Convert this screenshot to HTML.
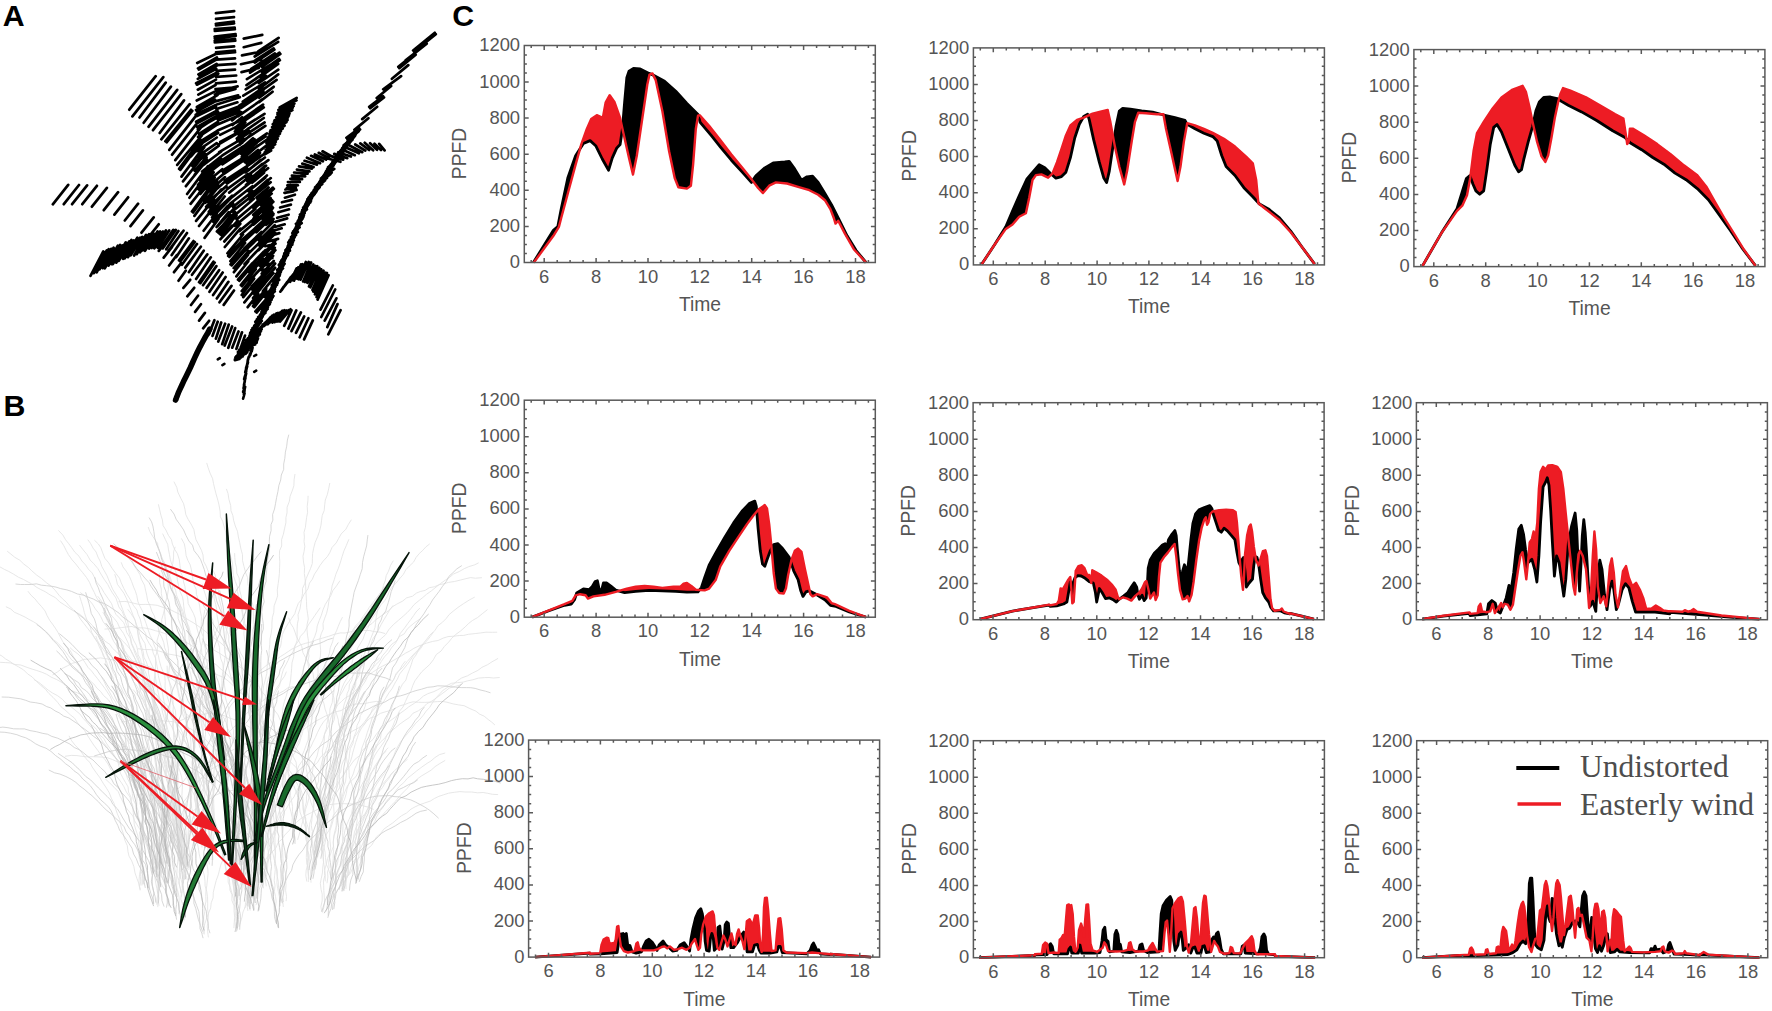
<!DOCTYPE html>
<html lang="en"><head><meta charset="utf-8"><title>Figure</title>
<style>html,body{margin:0;padding:0;background:#fff}svg{display:block}text{font-family:"Liberation Sans",Arial,sans-serif}</style></head><body>
<svg width="1772" height="1011" viewBox="0 0 1772 1011">
<rect width="1772" height="1011" fill="#fff"/>
<g id="panelB"><path d="M234.5,897.5 234.6,892.8 234.6,886.6 233.4,881.3 233.5,876.2 232.5,870.5 232.8,865.7 232.8,860.1 233,854.8 232.5,850.2 231,845.5 230.6,840.5 230.7,835.2 230,829 229.4,823.4 230,817 228.3,811.6 228.1,805.9 226.2,801 226.5,795.1 224.5,789.8 223,785.3 221.5,779.8 221.7,775.3 219.6,770 218,764.1 216.9,757.9 215.8,751.7 214.4,746.6 212.4,742.3 211.2,737.8 208.4,732.9 205.8,728.6 203.9,723.6 200.9,717.6 199.5,713.2 198.7,708.4 195.5,703.3 192.2,697.6 191,693.5 188.6,689.6 186.5,684.9 M239.7,896.3 239.3,890.7 239.8,886 241.3,880.2 241.2,875.4 241.9,869.1 241.5,863.1 241.1,858.4 242.6,853.7 242,848.4 242.3,842 243,836.2 242.7,830.4 244.1,825.8 244.9,820.6 246.4,815.4 247.6,809.7 247.9,803.2 249.6,797.2 250.3,792.7 251.9,787 253.8,781.6 253.9,777 254.1,772.3 254.5,766.5 255.8,761.9 257.4,757.3 257.6,752.2 258.7,747.1 259.2,742 260.9,737.6 261.6,732.5 262.7,727.4 265.3,722 265.9,716.1 267.1,711.7 269.8,705.7 272.7,699.7 274.7,695.1 276.9,690.3 279.6,685.6 280.7,680.1 282,674.2 283.4,669.5 285.8,664.8 288,660.5 289.8,656.2 293.1,651.7 294.7,646.1 298.8,640.6 300.4,636.3 304.5,632 306.8,627.6 309,623.9 312.2,619.4 314.7,615.7 317.8,611.2 320.2,607.7 M239.4,899.8 238.6,893.9 239,889.4 238.4,884.9 237.2,879.9 236.7,873.9 237.9,869.1 237.3,862.6 237.4,857.4 237.1,851.9 236.3,845.7 237.3,840.3 238.4,834.1 239.4,828.7 240.4,823.5 239.8,818.7 241.1,813 241.1,807 242.5,802.2 243.5,796.5 244,791.4 244.9,786.1 245.9,780 246.6,774 246.3,768.9 248.4,763.3 250.1,758 251.9,752.9 254.2,748.1 256,743.2 258.6,738.2 260,732.8 262.7,727.2 263.9,721.9 267.1,716.8 268.3,710.7 271,705.6 272.2,699.9 273.3,694.6 275.9,689.1 279.1,684.5 281.5,680.4 284.5,676.3 286.4,671.7 M234.6,901.3 234.3,895.6 233.8,890.1 233.3,885 232.2,879.9 231,874.1 229.9,867.9 229.6,862 229.5,855.7 229,850.3 228.5,844.2 227.9,839.4 227.8,833.3 226.5,827.6 225.2,821.5 226.3,816.3 224.8,811.1 223.5,805.7 223.4,801.1 222.7,796.6 221.4,790.3 222.2,785.3 221,779.5 221.1,774.4 220.4,768.9 219.3,762.6 218.8,756.7 217.8,751.9 218.3,745.6 218.4,741.1 217.7,735 216.6,730.2 215.5,724.5 215,719.1 214.3,713.8 214.5,708.6 214.7,702.3 214.1,695.9 213.3,689.8 212.2,684.6 M341.5,889.2 343.8,883.4 346.2,877.5 347.6,873 348.1,867.9 348.4,862.9 349.2,857.6 351,852.4 352.2,847.9 354.1,843.4 356,838.8 356.9,834.5 358.5,828.8 359.3,824.6 362.4,819.5 365,814.7 367.8,808.7 368.9,804.2 370.1,798.7 372.3,792.8 374.8,787.4 377.5,782.8 380.6,778.3 384.4,773.4 386.3,769.1 388.5,764.4 391.4,760.2 393.8,755.9 395.6,750.8 398,746.1 400.5,742.1 403.9,737.6 407.4,733.7 411.8,728.3 415.8,723.1 419.4,719.8 423.4,715.1 426.2,711.1 429.7,707.4 432.5,702.7 435.8,698.1 439.7,693.9 443.2,690.1 447.5,687.4 452.8,684.6 457.8,680.5 461.8,677.9 467.5,675.8 472.5,673 477.9,670.4 481.8,667.4 487.4,664.8 492,661.8 498.1,658.4 M343.8,889 344.4,884.4 343.5,879 342.3,873.7 342.3,868.9 342.1,863.9 342,858.7 342.1,854.1 342.3,849.4 343.1,843.7 342.7,838.3 342.7,832.5 343,826.5 342.5,820 343,813.8 342.3,808.5 341.9,802.2 341.4,796.7 340.7,790.4 339.6,785.8 339.5,779.6 339.4,773.9 339.3,768.8 338.8,764.3 336.9,758.9 336,753.7 333.9,747.9 333,743 331.4,737.8 329.6,733.3 329.5,727 328.7,720.9 327.2,715 325.1,709.1 323.8,703 321.3,697.2 318.8,691.8 318.3,687.6 315.9,682.7 313.7,678.4 312.9,672.6 310.7,667.7 308.9,663.5 305.6,657.6 302.9,652.6 301.8,646.6 299.4,642.2 296.4,636.4 295,632.1 293.3,627.6 290.5,623.4 288.7,617.7 M343,887.6 343.7,883.3 346.8,877.6 349.4,873 350.8,867.9 352.4,862.9 355.8,858.2 357.8,852.2 360.6,848.3 363,843.1 364.5,838.7 367.9,833.3 371.1,827.9 374.1,823.5 378.2,819.3 382.3,815.5 385.3,811.8 389,808.3 391.9,804.8 395.6,801.2 399.4,796.3 403.8,791.8 407.2,788.4 410.3,784.5 414.3,781.6 417.4,778.9 421.4,776 427.1,772.6 431.2,770.1 435.1,766.6 439.7,763.6 445.2,760.4 M255.5,899.2 255,893.6 255.7,888.3 256.6,882.1 257.4,877.3 256.1,871.9 256.9,866.1 255.9,860.2 255.4,855.4 255.4,849.5 254.3,844.5 254.9,839.1 255.4,833.5 255.9,827.3 255.2,822.5 255.6,817.5 255.2,812.5 254.2,807.4 252.3,802.5 251.6,797 249.8,792.5 249.4,786.8 247,781.7 244.9,775.8 244.8,770.6 242.2,765.6 240.9,760.2 238.5,754.7 237.7,750 235,745.2 232.5,739.5 230.6,733.5 227.2,727.7 226.1,722.6 224.1,718.2 220.3,713.2 216.5,708.4 214.7,704.6 211.4,699.4 207.7,695.4 205.6,690.9 M253.3,899.3 252.9,893.3 252.4,887.6 251.5,882.6 251.3,877.4 252,872.3 251.1,867.7 250.7,861.7 252.1,855.7 251.7,851.1 251.6,845.9 252.3,840.8 251.9,836.1 251.3,830.6 251.7,825.1 251.2,820.4 252.8,814 252.3,808.3 252.2,802.9 252.1,797.6 252.1,791.8 252.5,786.7 253.4,781 253.6,775.2 253.2,769.5 252.8,764.3 253.9,758.2 254.6,753.2 254.5,747 256.2,742.4 257.7,737.1 258,731.2 257.9,726.7 259.3,720.9 261.8,715 264.1,709.3 264.5,704.8 265,699.4 266.4,693.8 266.7,689.1 267,683.2 268.4,678.5 270.2,674 270.7,667.8 272.8,662 275.8,656.8 277.8,651.6 280.6,646.4 281.5,640.7 282.3,634.6 284.9,629 288.1,623.6 291.5,618.6 294.8,613.7 296.2,609 298.3,603.4 301.7,599.3 304,594.3 307.9,588.9 309.5,583.1 312.4,579.1 314.5,574.1 317.4,569.8 319.9,565.6 323.2,561.1 327.5,556.4 329.8,552.6 332.1,547.4 336.2,542.9 338.6,538.5 341.2,533.9 345.9,529.2 348.4,524.4 351.4,519.7 M254.8,903.1 255.6,897.5 256.5,891.5 256.6,885.7 257.3,881.1 258.3,875.5 259,870.3 259,864 260.9,859.1 261.4,854.3 263.7,849.8 264.1,844.6 265.4,839.5 265.7,834.8 267.4,829.1 268.8,824.5 271.4,819.5 272,814.2 273.5,809 276.2,804 277.2,799.2 277.9,793 280.5,787.3 281.8,782.7 282.7,778.1 285.7,773.2 287,768.8 289.6,762.9 291.8,757.1 294.9,752.7 296.5,748.2 299.5,742.8 301,737.6 302.5,733.3 303.4,727.7 306.7,723.3 308.6,717.6 311,713.3 312.2,707.7 313.7,702.3 316.6,697.1 319.4,692.6 321.7,687.1 324.6,682.2 327.2,676.9 329.4,672.7 332.4,668.3 335.7,662.8 337.4,657.9 340.4,652.3 343.9,648 345.5,642.5 349.7,638.5 352.4,634.2 354.5,628.7 358,624.9 361,621.1 365.2,615.7 369.7,610.4 373.2,606.2 377,602.7 380.9,598.1 385.5,593.1 388,589.6 390.7,585 M181.4,896.8 182.3,890.4 183,884.2 183.8,879.7 183.4,874 183.4,868.3 183.3,862 181.8,856.5 182.5,851.9 181,845.7 181.6,841.2 179.8,835 179.7,829.5 179.3,823.6 179.4,819.1 177.6,813.1 178.1,806.9 177.1,801.8 175.9,797.4 175.7,792.4 175,786.9 173.7,781.2 172.5,776.3 172.5,771.5 170.5,766.6 169.3,760.7 167.7,755.8 166.9,750.9 165.6,746.1 165.3,741.4 163.2,736.5 161.3,730.7 160.2,724.8 158.7,720.4 157.8,715.7 155.4,710.6 154.9,705.7 152.7,699.6 152.1,694.7 149.2,689 M181.8,893.1 182.3,888.6 182,883.3 180.5,877 179.2,872.1 179.8,865.7 180.6,860.5 181.3,855.8 181.4,849.4 180.1,844.7 180,838.4 180,832.1 179.3,826.8 177.6,821.8 178.1,817.2 176.5,812.1 174.5,807 172.8,802.4 172,796.9 171.2,790.9 170.3,784.6 168.1,779.8 165.8,774.8 165.3,768.6 164,763.9 162.2,758.5 160.2,752.6 159.9,747.4 158.6,741.4 156.8,736.8 156.2,730.6 153.1,724.9 150.9,720.7 148,716.2 146.5,711.7 143,707.2 141.5,702.2 139.5,697.4 136.2,693.4 133.1,689.5 M180.8,893.2 180.3,888 178.8,883.2 179.4,878.3 179.5,872.2 179.8,866.7 179,861.7 178,855.9 178.1,849.5 177.4,843.2 178.1,838.1 178.9,832.4 179.6,826.3 178.7,821.3 178.3,815.8 176.6,809.6 176.1,804.2 176.1,799.3 174.7,793.6 173.3,788.5 171.4,784 170.2,778.5 170.5,772.8 169.3,767.5 167.7,762.2 167.8,757.5 166.5,751.8 166,746.3 165.1,740.1 164.8,735.2 163.5,728.9 162.1,724.2 161.3,719.8 158.7,714.5 156.4,708.8 155.2,704 154.1,698.5 152.6,693.5 150.4,689.2 148.2,683.2 147,679 143.5,674.5 141.6,669.7 138.1,665 135.7,659.6 132.7,654.5 130.4,649.6 126.3,644.5 122.4,640.8 119.2,637.2 114.9,633 111.5,629.4 M177.5,897.2 175.1,892.3 172.9,886.2 171.4,881.1 169.6,875.1 167.3,869.2 166.2,864.1 164.1,859 162.1,854.2 160.5,849.2 158.1,843.5 155.9,838.5 154.8,833.5 152.3,827.6 151.3,822 148.8,816.7 147,812.1 145.1,806.3 143,801.1 140.2,796 136.8,790.6 134.2,784.9 130.9,779.8 126.7,775.3 124.4,771.2 121.6,767.2 118.2,761.7 114.1,756.4 109.7,751.9 107.1,746.9 103.3,742.5 100.3,737.8 97.2,733.5 92.9,729.1 89.2,725.1 86.5,721.9 83.3,718.5 79.8,713.9 75.1,710.1 70.9,706.6 65.7,703 62.4,699.3 57.3,695.5 52.6,693.1 48.3,690.2 43.7,686.3 39.1,682.6 33.9,679.5 M276.8,923.1 276.8,918.5 276.4,912.7 275.4,907.6 276.2,901.2 275.5,896.4 274.4,891.7 275,885.7 274.2,880.3 274.6,875.7 275.3,869.5 274.4,863.6 274.7,858.4 275.6,853.5 275.3,848.4 275,842.2 274.9,836.5 276,831.6 275,825.8 273.9,819.4 273.2,814.1 272.8,807.9 273.6,802.1 272.4,796.9 272.7,791.9 273.3,785.7 272.3,780.5 271.2,774.6 269.7,768.7 268.2,762.5 267.9,756.9 266.4,752.3 265.6,745.8 265.3,739.6 263.7,734.9 262,729.1 260.6,724.1 260.5,718.2 259.4,712.8 258.3,707.2 257.3,702 256,697 254.7,692.5 253.5,686.8 252.2,682.2 252.4,676.8 251.6,671.7 251.8,665.7 251.3,660 251,654.6 249.9,649.3 249,644 248.1,638.5 247.9,632.3 246.2,627.8 244.6,623.4 244.3,617.7 242.7,613 242.5,606.9 241.8,601.2 241.2,595.9 239.7,590.4 239.5,584.1 239.2,578.1 236.8,573.2 236.6,567.8 235.3,562.9 234.8,557.6 234.6,553.1 M162.1,873.7 160.8,868.5 159,863.8 158.6,857.6 156.6,852.6 156.4,847.8 156.4,842.6 155.4,837.8 153.8,832.6 152.2,826.7 149.9,821.1 149.5,816 147.5,811.4 145.2,805.5 144.2,801.1 142.8,795.5 141,791.1 139.4,786.1 139.2,781.1 138.8,775 137.5,770.5 136.7,766 135.3,761.6 132.6,756.5 130,750.3 128.5,744.3 127.9,738.6 126.4,733.4 125.3,727.9 122.4,722.7 120.3,717.6 118.8,712.1 116.9,706.4 115.6,702.1 112.6,698 109.5,692 106.7,687.1 104.3,682 101.4,676.5 M154.8,868.5 156,862.9 156.9,857.6 157.6,852.7 158.1,847.7 159.3,843 159.3,838.2 160.4,832.7 160.3,826.3 162.6,821.2 163.3,815.3 166.3,810.8 169.1,805 172.5,800.6 174.1,796.4 176.2,790.9 180.4,786.4 182.8,782.4 185.8,778 190.4,773.7 194.4,770.3 198.9,767.4 203.5,764.3 209.1,762.3 214.4,761.1 218.6,760 223.6,760.1 228,760 234.7,759.7 238.9,761 M162.4,873 162.3,867.4 163,861.7 161.8,857.2 161.8,850.9 160.9,844.6 161.3,839.9 161.4,833.7 160.9,828.6 161.6,823.4 161.7,817.3 162.5,812 162,805.7 161.9,799.8 160.3,794.4 159.2,789.6 158.9,784.3 158.3,778.3 156.7,772.7 156.1,767.8 155.2,762.4 154.6,757.6 153.4,753.1 153.3,747 152.6,741.1 151,734.8 150.1,729 149.6,724 149,719.3 149.2,712.9 149.3,706.6 148.6,702 146.5,697.5 146.3,692 144.9,687.1 144.6,681.6 142.3,676.6 141.9,670.8 141.6,665.3 140.6,659.5 138.1,654.7 137.6,650.1 136.5,645.7 133.5,640.1 131.4,634.6 129,629.1 128,623.1 126.6,618.9 124.2,613.8 122.7,609.6 120.6,604.2 119.2,599.9 116.3,595.1 112.6,589.2 110.7,584.6 108.7,579.9 107.1,575.9 104.1,570.5 101.8,566.5 100.1,561 98,557.1 96.1,552 93.1,548.2 90.6,543.5 87.8,539.7 M293.3,838.5 292.8,833 294,826.8 293.6,822 294.4,817.5 295.8,811.2 297.2,806.7 298.7,801.7 300.1,796.8 300.2,791.7 299.7,787 300.8,781.7 300.4,776 301.8,771 302.5,765.8 302.5,760.5 302.3,755 304.3,750.3 306,745.4 308.1,740 308.5,733.8 309.5,729.3 310.8,724 312.4,717.6 312.8,713.1 313.8,707.6 316.3,702.7 317.5,697.7 319.7,691.7 320.9,685.4 321.1,680.6 321.3,675.8 324,669.5 325.9,664.1 327.4,659 329.3,653.6 330.3,647.6 332.6,641.7 333.8,636.6 336.5,630.8 338.2,626.4 340.3,621.4 342.5,617.2 M297.6,839.8 299,835.3 300.6,829 301.9,824.3 303.3,819.8 304.5,815.3 305.6,809.4 307.6,803.3 308.9,798.1 309.1,792.2 310.8,787.1 311.4,781.9 311.9,777.4 312.4,772.3 313.2,766.4 315.2,760.5 317.1,756 318.4,750.1 320.5,744.6 322.8,740.4 324,735.4 327,729.4 329.3,724.8 330.3,719.7 332.3,713.8 333.9,709.4 335,705.4 338.2,699.7 339.8,695.8 342.6,691.4 345.5,685.8 348.8,681.4 351.9,677.1 355.4,672.8 359.3,667.8 363.3,663.5 367.5,658.8 370,653.9 372.7,650.2 374.7,645.6 377.4,642 381.5,638.4 385.7,634.6 388.9,629.5 393.3,624.7 398.3,620.4 403.2,616.2 407.2,612.6 410.9,608.6 414.2,604.5 419.2,600.4 422.6,597.7 426.5,594.3 431.6,590.7 436,587.1 440.6,583.5 445.2,580.2 449,577.8 453.5,574 459.3,571.5 464.2,568.7 468.9,566.6 474.5,564.9 478.7,562.8 M295.2,844 295.3,838.6 293.8,833.1 293.2,827.6 291.9,822.9 292.3,817.9 291,811.9 289.5,806.8 289.3,801.4 289.5,795.9 288.2,791.2 287.2,785.7 285.7,781 284.5,776.4 282.8,770.5 282.5,765.7 281.9,759.4 280.5,753.4 279.4,748.3 278.8,743.5 278,738.2 275.1,733 273.9,727.3 271.7,722 269.1,717.8 266.1,712.1 263,707 259.9,702.4 257.8,697.6 255.3,693.3 253.7,689.4 251.6,683.7 249.6,679.3 246,674.2 243.1,668.8 240.6,665.4 237.3,661.2 232.9,656.1 229.7,652.3 225.9,648.2 223.1,644.9 218.6,641.2 214.3,638.2 209.3,635 205.9,631.8 201.7,628.4 198.2,626.1 193.8,623 189.5,620.6 184.4,617.3 179.3,614.1 174.5,611.8 169,609 163.4,607.5 157.2,605.3 151.6,604.7 145.3,604.4 139.5,604.5 134.1,603.3 129.6,602.2 124.9,601.4 118.4,601.8 M294.5,843.4 293.9,838.7 292.7,833 292.7,827.8 293.4,822.5 293.3,817.5 292.5,811.5 292.6,806.6 291.5,800.8 290.5,795.7 290.4,791 289.4,784.6 289,778.4 288,773.4 288.2,768.5 288.8,763.5 289.8,757 291.1,752.3 290.3,747.8 291.8,741.7 292.5,736.6 292.9,730.4 293.7,725.4 294.9,720.6 296.2,715.3 297,710.8 298.6,704.6 298.4,699.7 299.6,694.8 299.3,689.6 301.4,683.8 303,678.9 302.8,672.5 303.5,667.4 305.5,662.4 306.6,657.9 308.9,651.9 309.7,646.9 312.1,642 314.6,636.9 316.6,630.9 317.2,626.1 319.2,620.5 321.3,615.4 323,609.8 325.2,604.6 328.2,599.7 330.8,595.6 332.9,590.5 336.5,585.9 340,580.6 M286.1,901.1 286.5,896.4 285.6,890.4 286,885.4 285.7,879.3 285.6,873.8 284.4,869.2 283.1,863.7 282.9,858.3 282.7,852.7 282.4,847.4 282.7,841.8 282.9,835.4 282.9,829.4 282.5,823.9 280.9,819.3 280.2,814.4 279.3,808.9 278.3,803.7 276.2,798.8 275.2,792.7 273.1,787.9 271.3,782.8 269.7,777.1 268.4,771.4 266.9,765.3 264.5,760.4 262.5,755.9 260.8,751.1 258.3,746.3 255.1,742.6 M280.2,906.2 280.4,900.4 278.8,894 277.6,888.3 276.9,882.6 277.3,876.4 277.4,870.5 275.7,865.4 275.3,859.7 275.3,854.4 274.7,848 273.7,842.4 272.5,837.1 270.7,832.7 269.3,826.5 267.6,820.8 264.6,814.9 262.3,809.8 261.5,805 258.6,799.2 256.3,795 254,790.6 251.6,786.3 247.6,781.4 244.5,776.3 240.6,771.9 237.7,767.6 234.9,762.6 230.4,758.6 226.2,754.2 223.7,749.8 220.2,746.6 215.9,743.2 210.5,740.5 M283.3,907 282.7,900.5 281.5,894.4 282.3,888.7 283,883 281.8,876.7 281.6,870.8 282.2,865.3 281.4,859.2 281.7,853.2 281.8,846.7 282.8,840.7 282.1,835.2 281.8,829.2 281.2,823.2 280.7,817.3 279.5,811 279.6,806.3 278,800.5 277.4,794.3 275.6,788.2 275.8,783.2 274,776.9 272.8,770.6 272,764.3 272.1,758.4 271,752.1 270,747.5 269.9,742.7 268.1,737.4 267,731.3 265.3,725.1 262.9,720.3 262.2,714.6 262,710 259.5,704.6 259.2,699 258.3,692.8 256.1,688.4 254.8,684.1 252.1,679.3 248.9,673.8 246.1,668.2 245.2,662.6 243.2,657.3 240.6,653.1 238.7,647.8 M280.9,902.9 280.1,897.5 279.5,892.2 278.5,887.4 278.3,881.3 277.3,876.9 276.6,871.8 276.2,866.5 274.3,860.1 273,853.9 271.3,849.3 269.1,844.7 268.4,838.8 266.7,833.9 263.9,828.7 263,824.4 261.2,820 258.9,814.9 255.6,809.8 254.3,804.2 253.1,799.2 250.4,794.3 247.1,790.3 244.6,786.1 241.4,781.4 237.9,777.4 235.6,772.9 232.8,768.8 230.5,764.7 226.5,760.4 222.6,755.7 217.9,751.6 213.2,747.5 210.2,744.4 206.8,741 203.5,736.9 200.2,734.8 195.1,731.8 191,729 187.1,727.3 181.3,724.3 176.6,722.2 170.2,721.4 163.9,721 158.5,719.8 152.5,719.7 146.2,719.1 141.6,719.3 135.5,719.3 130.7,720.1 126.5,721.2 121.5,722 M255,843.8 254.9,839.4 254.9,833.4 254.6,828.3 253.6,822 251.4,817.4 250.7,811.1 248.6,806.4 247.3,800.4 246.2,794.8 243.6,790 242.4,784.3 239.8,779.8 237.7,774.7 235.6,770.2 232.7,764.7 231.9,759.3 231,754.9 229.1,750.1 227.8,744.9 225.7,739.1 224.4,734.9 221.6,730.9 219,726.7 216.6,722.4 212.3,717 208.1,713 204.8,709.5 202.1,704.8 197.5,700.4 192.8,696.3 187.8,692.8 183.7,689 179.9,684.5 175.2,681.4 170,677.7 165.1,675.2 159.6,672.5 155.6,670 151.5,667.6 146.7,665.8 141.3,663.4 135,661.7 129.1,660.7 123.3,660 118.1,660 112,659.8 105.7,658.7 100.6,657.9 94.2,658.7 88.2,659.2 83.7,659.3 79.2,661.4 72.7,663.2 67.3,665.9 61.8,668.7 57.8,671.7 52.5,675 M252.6,842.1 254.5,837.6 256.9,832 258.7,826.6 259.7,822.1 260.5,817.4 262.1,812 262.3,807.6 262.7,801.5 264.6,795.3 266.6,790.4 268.6,784.1 270.7,779.2 273,774 273.7,768 276,763.8 278.2,759.1 281.2,753.5 283.8,747.8 286.2,742.2 288.1,736.6 289.4,730.6 292.3,724.8 295.7,720 299.3,714.9 301.8,709.3 304,703.9 306.5,698.3 309.7,693.5 313.3,689.2 317.5,684.8 320.7,680.8 323.7,675.9 328,671.4 331.1,666.1 334.6,661.4 337.7,657.3 340.5,652.5 345.4,649 348.6,645.6 351.3,642 354.5,637.6 358.7,632.9 363.5,629.9 367.4,626.5 372.3,623.3 375.6,619.9 379,617.5 383.9,613.9 388.6,610.7 392.5,606.8 396.8,604.1 402.8,601 406.5,597.9 412.5,596.2 416.4,593.1 420.3,591.5 425.1,590.4 429.3,587.7 434.3,586.8 439.2,584.7 443.7,583.8 448.4,582.4 454.4,581.5 460.6,580 465,578.9 470.5,577.6 475.4,578.2 481.9,577.7 M257.1,847 257.1,842.4 256.9,836.2 257.3,830.7 258.3,824.7 257.4,818.8 258.2,814.3 259.2,809 260,804.4 259.3,799.3 258.4,793.5 259,787.7 259.8,783 259.1,777.7 259.6,771.7 260.6,765.5 260.5,759.5 261,754 261.2,747.8 261.8,743 260.3,737.1 260.8,732.2 261.3,726.2 260.1,721.4 260.1,715.7 258.9,709.4 257.7,703.2 258.4,698.5 258.5,692.9 259.1,687.5 258.4,682.6 258.8,677.5 259.3,672.9 259.7,668.4 259.7,662.1 258.7,656.4 257.8,651.8 258,646.4 258.1,641.8 256.5,636.9 256.6,632.4 254.6,627.2 253.5,621.1 253.6,616.2 253.3,611 253.1,605.3 251.1,599.9 249.9,594.6 249.1,588.8 247.8,583.4 247.6,577.6 245.7,572.9 244,566.6 242.5,560.5 242.5,554.7 240.9,548.9 239.7,542.6 238.4,537 237.5,531.4 235.3,526 233.6,520.3 232.9,515.6 231,510.8 230.7,505.5 228.9,499.3 228,493.4 226.4,488.9 M254.7,840.3 254.2,834.3 254.5,828.1 255.3,821.7 255.2,816.7 253.8,811.8 253.8,805.6 252.7,799.7 252.7,793.9 253,788.7 251.9,783 251.7,777.1 251.3,772.6 249.9,767 249.8,761.4 249,755.9 249,751.1 249.9,745.7 250.3,741.2 250.3,735.4 250.4,729.6 251.4,724.4 251,718.5 249.5,712.8 248.9,706.4 249.1,700.1 247.7,694.9 246.9,690.1 247.8,683.7 246.9,678.1 246.2,672.1 246.4,666.1 247,660.6 246.7,655.6 246,649.2 245.6,643.9 244.6,638.9 243.9,634.3 244.1,629.6 243.6,623.7 242.8,619 242.3,613 240.8,607.6 240.8,602.4 238.9,596.9 237.4,591.6 237.4,587 235.3,581.3 233.3,575.4 232.9,569.9 232.6,564.1 231.5,559.1 229.5,553.1 228,546.8 226.1,541.4 226.3,536.2 225.4,530.8 223.9,525.9 222.7,521.4 220.4,516.8 220.1,511.2 219,504.9 217.8,500.1 216.1,494.1 214.9,489.5 213.5,483.5 212.6,478.6 210,473 208,467.3 206.7,462.9 M180.4,860.6 180,854.6 178.7,849.2 179.1,844.7 179.5,839.5 178.6,833.6 178.2,828.6 176.7,823.3 177.1,816.8 176.9,811 176.7,804.7 175.1,800 175.2,795.5 174.4,790.2 174.6,784.6 173,780 171.9,774.5 170.8,768.9 168.6,763.8 168.3,758.9 166.3,754.1 166.2,748 164.7,743 163,736.9 162.6,730.7 162,725.1 159.4,718.9 156.9,713.2 154.8,708.9 153.4,704.2 152.6,699.7 151.1,694.6 147.8,690 145.2,684.3 143.8,678.4 140.6,674 137.9,669.4 134.7,664 130.9,659 127.3,654.5 124.1,649.8 122.4,644.6 119.3,639 115.7,635 113,629.9 110.4,625.4 107.7,621.3 105.5,616.5 102.8,612.1 M185.1,862.2 184,856.7 182.9,850.6 182.5,845.9 181.8,840.5 180.2,835.9 179.9,829.6 179.1,824.1 176.6,819.2 174.7,814.7 172.9,809.7 171.1,805.3 168.6,799.1 167.1,794.4 165.4,789.4 163.6,784.8 162.5,778.7 161.1,772.6 160.1,767.3 158.3,761.8 156.1,757.5 154,751.7 152.5,747.5 151.3,743.3 149.3,738.8 146.6,734.3 144.8,728.8 143.6,723.8 140.2,719.7 136.8,715.4 133.6,710.8 130.3,705.2 127.5,700.3 125.7,696 123.2,692.1 120.6,686.4 118.1,681.9 115.8,677.1 113,672.1 110.8,666.6 109.2,660.9 107.1,655.9 105,651.8 101.2,646.5 98,642.9 95.5,639.1 91.8,633.7 87.8,628.6 84,623.6 80.4,619 77.5,614.2 73.3,609.6 69,605.8 66.3,602.2 62.5,598.8 59.1,595.3 55.1,590.2 51.2,586.2 46.3,582.6 41.4,578.4 36.7,575.1 31.8,570.8 28.3,567.4 23.8,564.1 19.8,560.2 14.8,557.3 10.9,554.1 7.2,551.2 M140,885.7 140.7,881.1 140.4,876.6 140.5,870.4 141,864.4 141.8,858.1 142.2,851.7 140.9,846.9 140.9,842.3 141.5,836.5 142.1,831.5 140.7,826.9 139,821.7 138,816.1 138.2,811.3 136.7,806.7 136.8,801.2 137,796.3 137,790.9 136.8,785.7 134.8,779.8 132.4,773.6 130.3,769 128.5,763.8 126.7,758.7 124.8,752.9 122.3,747.6 120.4,743 117.3,737.4 114.5,732 112.5,728 M141.9,885.5 142,879 142.2,874.5 140.6,869.6 140.6,863.2 139.1,857.4 139,852.8 139.5,847.7 138.5,841.7 137.9,836 136,830.3 134.2,824.2 133.9,818.5 133.2,812.1 132.9,806.3 131.3,802 131.2,797.5 128.5,792 128.1,786.9 125.6,782.7 122.8,777.8 120.4,773.1 119.2,767.1 118.1,762.7 116.1,758.5 113.3,753.7 110,748.4 106.3,743.2 103.8,738.4 99.4,734.8 96.7,729.6 92.4,725.1 M140.4,889.6 138.9,883.8 136.8,878.1 135,872.9 133.9,866.7 131.7,860.8 129,856.1 128,851.7 127.3,845.7 124.8,840 123.4,833.9 121.6,828.9 120.6,824.3 119.7,819.4 117.3,813.7 115.8,809.3 114,803.3 111.3,798.2 109.3,792.8 106.5,788.2 103.1,783.1 99.9,777.7 96,772.4 92.2,767 90.1,762.7 86,758.7 82.1,753.2 79.7,749.7 75.1,745.2 71.6,740.7 69,735.8 M140.1,890.4 139.1,885.1 139,880.5 139.5,874.7 140.4,869.6 140.9,864.4 140.4,858 140.5,852.1 141.5,846.3 141.7,841.2 142,836 142.6,829.9 142.8,824.7 143.5,820 143,815.5 141.9,809.4 141.1,803 140.1,796.6 141.4,790.5 142.3,784.5 142.4,779.9 143.9,774.7 144.7,768.5 145.9,763.9 145.8,758.5 145.3,753.8 146.7,748.2 148.1,741.7 149.4,736.6 149.4,730.8 150.8,725.4 152,719 152.4,714 153,708.2 153.4,702.5 152.6,696.8 153,691.1 154.4,685.1 154.2,680.1 155,673.6 155.5,667.9 155.6,661.8 155.6,656.4 157.1,651.5 157.5,646.7 157,640.8 158.7,634.9 160.1,629.6 161.8,625 161.7,619.6 163.4,613.8 164.9,607.8 165.5,602.1 167.3,596 168.4,589.6 168.1,585.1 168,580.4 170,574.1 171.4,568.1 172.8,563.4 173.6,557.1 173.6,551.8 175.2,546.8 M235.8,931.7 235.5,926.3 235,921.4 235.3,915.7 235.1,910.5 234.4,904.7 233.5,898.7 231.8,892.8 230.3,887.3 228.2,882.2 228.1,877.7 226.1,872.3 225.3,866.5 224.5,860.7 223.4,856.1 222.2,851.2 219.5,845.9 219.3,840.6 218.4,835.1 215.7,829.7 215.4,824.1 213.2,818.1 212,812 211.1,806.6 209.3,801.3 207,795.4 204.2,789.3 201.8,784.2 200.1,779.5 198.4,775.3 197.3,771 196.1,765.2 194.7,759.6 191.7,754.4 188.2,749 186.7,744.5 184.1,740.4 182.1,735.1 178.5,730 176.9,725.7 175.4,721.3 171.5,717.3 169.4,713.2 167.6,708.5 M236.1,931.9 236.7,926.9 237.5,922 236.5,916.5 236.3,910.9 235.8,904.9 234.7,899.5 234.7,893.3 233.6,888.1 233.1,883 232.6,876.7 231.4,870.5 231.9,865.1 231,860.4 230.6,854.2 229.7,849.2 230,844.5 229.6,838.5 229,833.4 228.7,828.3 228.5,822.2 228.6,816.2 227,811.2 226.7,805.5 227.1,800.1 225.2,795.5 223.3,790 222.1,785.5 222.4,780.9 221.2,774.9 220.8,770 221.2,764.7 221.2,759.4 220.7,753.1 218.6,747.5 217.9,741.2 217.3,736.2 215.3,730.7 213.5,725.6 213.7,720.8 211.9,715.1 210.8,708.9 209.3,703 207.9,696.6 207.9,691.8 206.4,686.5 205.1,680.9 204.4,676.3 203.6,670.3 202.1,665.4 200.1,659.8 197.8,655.1 196,649.4 195.2,643.9 192.9,638.9 190.3,632.6 188.8,626.6 186.6,621.8 184.2,616.7 183.1,611.3 181,606.8 178.8,601 176.4,594.8 175.6,590.2 172.6,584.3 169.6,578.8 167.9,573.7 166.3,569.5 165.1,563.6 162,558.9 161,554.4 158.2,548.6 157.5,542.5 M239.3,926.7 240.4,922.4 242.1,916.9 243,912 245.2,906.9 248.1,901.1 248.6,895 250.4,890.1 253.1,884.7 256.1,879.6 259.5,873.7 261.6,868.8 263.2,864.8 264.8,860.1 268.3,856.2 271.9,852.3 276,847.7 278.2,842.4 282.1,839.1 284.7,835.1 289.2,830.5 292.3,826.1 296.2,822.6 300.5,818.9 305.4,815.6 311.5,812.6 316.1,810.2 320.6,808 325,805.9 331,804.4 337.6,803.7 344.1,803.7 349.6,803.9 354.1,804 358.8,804.2 363.2,805.9 368.2,807.1 373.7,809.5 M233.9,928.1 234.2,922.8 234.7,917.3 234.1,911.6 234,905.9 231.9,900.4 231.9,894.6 229.9,890 229.8,884.9 229.4,878.7 227.5,874.1 225.9,867.7 224.7,862.7 222.7,856.8 222.6,852.4 221.8,847.9 221.5,843.3 220.4,838.5 219,832.8 216.8,826.9 215.5,822.3 214.2,816.4 213.7,812 212.8,806.6 212.2,801.1 211.1,795.4 208.8,790.6 207.2,786.3 204.9,782.1 203.1,777.5 201.4,773 199.7,768.4 198.3,762.9 195.4,758.4 191.8,753.3 188.9,748.8 186.6,744.1 184.1,738.7 182.6,732.9 180.6,728.2 176.7,723.5 174.4,719 171.9,713.7 169.8,710 166.5,704.7 161.9,701.3 158.7,696.9 154.6,692.7 150.6,688 146.5,683.2 142.1,680 138.2,676.6 M250.2,910.5 248.6,904.3 247.6,899.1 245.9,893.4 244.2,887.6 243.6,882.6 243.3,876.7 241.4,870.5 241.6,864.4 241.8,859.3 240,854 240.1,848.2 238.1,842.3 237.8,837 237.1,830.9 235.8,824.9 234.7,819 234.3,814.4 232.2,808.9 230.3,803.9 227.5,798.8 227.3,793.7 224.9,788.7 223.4,784.4 220.8,779.2 218.5,773.6 215.6,769.3 214.6,763.7 212.9,758.5 209.9,754.1 207.4,748.8 204.9,743.8 201.3,738 198.1,733.4 196.2,727.7 193.1,723 191.1,718.4 187.1,714.3 M256,905.2 257.5,899.5 258.3,894.1 259,889.7 261.2,884.4 263.2,879.2 263.8,873.3 265,868.1 267.1,862.4 269.4,857.7 270.9,852.1 271.4,846.2 273,840.6 274.4,835.2 274.7,829.6 274.9,823.5 277.2,818.2 278.8,812.7 281,806.7 282,801.1 282.5,795.2 283.8,789.5 284.3,783.4 285.1,779 286.1,773.6 289,768.6 290.2,762.8 291.3,758.2 292,752.7 294.6,748.1 297.6,743.2 300.1,737.8 301,732.9 302.6,728.3 305.6,723.7 307.8,718 310.8,712.5 313.2,708.1 314.8,702.2 317.2,696.2 319.8,691.6 321.9,686.5 324.1,681.2 327.3,677.1 330,671.9 333.1,667.8 334.9,662.1 337,656.4 340,651.9 343.9,646.2 346.8,642.2 348.7,638.2 350.4,634.3 352.6,630.2 355.6,625.9 359.5,621.8 362.9,616.6 367,611.1 369.2,607.4 373.2,602.3 375.9,598.5 379.5,594.3 382.6,590.2 385.4,586 389.5,581.4 393.6,577.1 397.4,571.9 400.2,567.7 403.3,562.8 M250.5,909.2 250.4,903.9 251.6,898.7 251.1,893.7 250.5,888.7 250.4,883.4 250.2,877.2 249.8,871.5 249.7,865.1 249.8,858.8 249.3,853.9 248.4,847.8 247.3,842.7 248,838 248.4,832.8 247.4,826.4 248.2,821.5 247,815.9 245.6,809.5 244.9,804.3 243.5,798.9 243.3,794.1 243.5,788.6 244,782.3 244.6,776.9 243.8,771.2 243.1,765.8 242,761 240.5,755.2 241.1,748.8 239.9,743.9 238.3,739.2 238.5,734.1 237.6,729.2 237.4,724.4 237.9,719.9 238.3,714.6 237.4,709.1 235.9,702.9 235.1,697.3 235.2,691.6 235.2,686.9 233.7,682.1 232.8,677.2 M245,908.1 245.6,902.5 246.9,896.6 248.4,891.4 250.2,886.2 251.7,881.3 253.1,875.1 254.6,869.3 256.5,863.9 257.1,859.1 256.6,853.6 256.1,848.6 256.4,842.5 257.1,837.8 258.6,832.1 260.3,827.2 259.9,822.6 261.5,816.2 261.5,811.8 261.3,806.9 263.2,801 263.4,796.3 265.6,791.2 265.7,786.2 266.4,780.2 266.8,775.1 269.4,770.4 269.6,764.2 270.9,759.8 272.9,754.8 273.5,749.8 275.9,744.2 276.9,739.7 279.1,735.1 282.1,729.4 284.1,723.8 285.6,718.8 287.2,713.7 290.5,709.3 292.5,704.8 295.4,698.9 M249.5,908 249.3,902 248.8,897.4 247.6,892.9 245.7,887.2 245.5,880.9 243.8,874.5 244.2,868.5 244.2,863.2 244.6,857.5 243.2,852.7 242.9,846.3 242.7,841.3 241.6,835.9 239.7,830.2 238.7,824.7 239.1,818.2 237.9,813.4 236.4,808.9 235.1,802.9 234,796.5 233.6,791.9 232.3,786.8 231.1,780.9 229.8,775.4 229.5,769.5 227.3,764.5 225,758.4 223.4,754 222.3,748.1 220.2,743 217.8,737.1 216.3,732.2 214.7,727.1 214.4,722.7 213.9,717.2 212,712.2 212,705.9 211.4,700.8 209.2,694.5 208.4,690.2 208.3,684.4 207.6,679.7 206.7,675.1 205.7,669 204.4,663.8 203,657.5 201.8,652.8 201.4,647.3 199.9,641 198.9,635.1 197.1,629 196.1,624.2 195.2,618 193.4,613.4 190.7,608.3 188.2,603.6 187.7,597.9 185.6,591.7 184.9,586.4 183.6,582 182.8,577.2 180.6,571.9 180,565.7 179.3,559.7 177.4,553.7 174.5,549.1 172.4,544 171.4,539.6 168.4,535.3 165.9,530 163.1,525.6 162.4,519.9 160.9,515.2 159.7,509.9 158.4,504.3 M247.9,911 247.1,906.1 246.9,900.3 247.9,894.6 247.6,889 249,883.8 248.2,879.2 248.3,872.8 249.7,866.9 249.3,861.7 248.7,856.3 249.7,851.8 250,846.8 250.6,840.8 251.5,835.6 252.8,831 252.6,826.3 253.4,820.8 253.9,816.2 253.2,810.2 253.9,803.9 254,798.2 254.2,791.9 254,786.5 255.1,781.2 255.3,776.6 256.9,771.1 257.2,766.2 257.3,761.1 256.9,755.8 256.9,750.1 256.2,743.6 257.6,739.1 257.9,733.2 257.2,726.9 258.8,722.3 258.9,715.9 258.8,709.9 260.1,705.4 260.5,700.3 261.9,695.7 262.9,691.1 263.7,685.7 265.4,679.3 266.8,673.4 267.1,667.7 267.5,661.8 269.3,656 269.1,650.4 269.8,644.2 270,638.9 271.2,633.3 271.9,627.6 271.9,623 272.4,617.5 273.8,612.2 274.1,605.9 275.9,601 277.6,595.9 277.3,589.8 278.2,583.5 278.8,579 279.4,573.2 279.6,567.4 279.8,561.7 279.4,555.8 279.6,550.6 281.7,546 281.6,539.7 283.4,534.1 284.5,528.8 285.9,522.7 285.9,517.6 287,512.9 287.1,507.2 289.4,501.2 290.1,496.2 292.5,490.1 293.9,485.6 294.1,479.7 295,474 M253.4,907.4 253.8,902.4 254.8,896.5 255.3,891.7 255.9,886.3 256.2,881 257.2,875.1 259.3,870.8 259.5,864.5 260.1,858.7 262.4,852.7 264.6,848.4 267,843.2 269.6,838.9 272.5,834.4 274.7,829.5 276.1,823.8 278.9,818.4 280.8,814.1 283.4,809.7 284.6,804.8 287.7,799.3 289.3,794.7 290.8,789 293,784.6 294.5,780.2 295.9,774.3 297.1,770.4 298.8,765.9 301.9,761.3 304.8,756.9 307.4,751.4 311,746.7 313,742 315.3,737.6 317.6,732.3 320.3,726.9 323.5,721.9 327.8,717.4 331.1,713.4 335.2,710.1 337.6,704.9 341.4,701.6 344.7,698.4 349.8,695.4 353.7,692.4 357.1,688.8 360.7,684.5 363.8,680.5 367.7,676 372.4,672.4 377.5,669 382.6,666.1 388.3,663.3 394,660.1 397.6,658 401.7,655.7 405.6,653.1 409.8,651 413.9,648.3 418.2,646.3 422,644.8 426.3,643.2 432.7,641.4 438.1,640.5 443.2,638.1 448,636.6 453.7,636.2 459.4,635.5 463.8,635.4 468.3,634.3 475.1,633.6 480.8,632.9 486,632.2 492.5,632.3 497.2,632.2 M245.3,868.2 246.4,862.8 245.9,857.3 244.7,852 244.1,847.1 244.9,841.5 245.3,835.8 244.5,830.7 243.5,824.9 242.8,820.2 243.5,815.4 244.6,810.3 244.9,803.8 244,797.6 243.4,792 243,786.4 243.3,780.4 242.7,774.5 243.4,769 243.1,763.6 241.9,757.9 241,752.6 241.8,747.6 241,741.8 240.9,735.6 239.5,730.6 238.3,725.8 237.6,719.8 238,714.9 238,710 237.4,705.3 236.2,699.2 236.2,693.7 236.6,689.1 235.4,683.2 233.8,677.9 232.9,673.1 231.6,668.1 231,663 230.4,657.9 230.2,651.7 229.7,645.6 228.7,641 228.8,636.1 226.8,630.2 224.8,624.8 223.6,620.3 222.4,615.7 221.8,609.6 220.5,604.1 219,598.5 219,593.7 218,589.3 217.8,584.8 216.3,579.8 215.1,574.9 212.8,569.6 M238.7,864.5 239.4,858.4 238.3,852.1 238.1,846.4 238.2,840.4 237.2,835.2 237.1,829.5 237.4,824.5 236.4,818.7 235.9,812.3 236.8,805.8 237.8,799.6 238.2,795 238.7,788.8 237.5,784.1 238.1,779.3 236.6,774.1 235.8,769 234.6,763.6 235.1,759 234.6,752.7 234.9,748.1 234.6,743.3 233.2,737 233.7,730.6 231.9,726.1 230.9,720.9 229.3,714.6 228.6,708.1 226.8,702.7 225.1,696.3 225.5,691.6 224.4,685.2 223.9,680 223.4,674.6 223.5,670 222.8,663.7 220.8,658.7 219.7,653 219.6,647.5 217.6,641.2 215.8,635.2 213.8,630.6 213.2,625.4 213,620.8 210.9,616.3 209.6,611.6 207.6,606.3 207.1,600.3 205.6,595.3 203.7,589.6 202,583.8 M321.7,911.7 320.9,906.7 322.2,900.6 322.2,894.1 321.1,889.5 320.3,883.4 321.3,878.3 322.4,873 322.8,866.9 323.6,861.3 323.4,856.5 323.4,850 324.9,843.8 325.8,839.3 326.1,832.8 326.5,827 327.2,821.4 328,815.9 328.3,809.6 328.6,803.9 330.3,798.8 330.1,794.3 329.8,789.4 330.5,784.9 332.4,779.3 333.7,773 334.2,767.7 336.4,761.5 338.3,756.6 340.6,752.2 340.9,746.7 341.1,742.2 343.8,737.2 344.4,731.2 345.1,725.2 346.6,720.5 349.2,715.8 352.3,711.5 353.2,707.1 356.5,702.5 358,697.8 359.1,692.6 361.3,687 364.8,682.1 367.7,676.3 370.1,670.7 373,666.8 375.2,661.7 379.5,658.1 M322.5,912.5 323.7,907.7 324.6,902.2 324.2,896 323.8,890.4 323.7,885.6 323.4,880.9 324.8,875.6 324.4,870.6 326.2,864.6 327.6,858.6 329.5,853.5 330.7,848 330.1,841.8 329.6,837.2 329.9,830.9 331.9,824.7 333.3,819.4 334.1,813.3 333.7,807 333.7,802.3 334.7,797.5 335.7,792 337.1,785.9 337,780.7 337.2,775.5 339.4,769.8 339.3,764.2 340,758.9 340.1,754.1 342.2,749.1 342.5,743.4 343.2,738.6 344.5,732.9 345.7,728 346.7,723.2 348.1,718 348.2,713.1 350.3,707.9 352.7,702.8 353,697.7 353.2,691.8 355.6,685.7 355.9,681.3 357.8,675.1 359.6,669.3 360.4,663.6 362.5,659.2 364.2,654.6 366.2,649.3 368.7,644.3 370.7,638.6 373.1,632.7 375.1,627.2 375.5,622.8 376.3,616.7 377.5,611 378.6,606.2 379.1,600.5 380.6,595.3 382.8,590.4 383.3,585.5 385.4,580.2 386.2,575.6 388.5,571.2 390.4,565.7 393.3,560.6 M209.3,859.2 209.3,853.7 209.3,848.7 209,843.5 209.2,837 209.1,831.8 207.9,827.1 207.2,821.4 207.5,816.2 208.3,809.7 207.8,803.5 207.8,798.5 206.7,793.1 207,787.8 207.3,781.9 205.9,776.6 206,770.5 204.8,764.7 204,758.3 203.8,751.9 204.2,746.3 203.3,741.3 202.2,736.6 203,730.5 202.9,725.8 203.4,720.2 203.1,715.4 203.5,710.8 202.5,705.5 202.9,699.9 202.1,694.7 201.6,690.2 201.6,684 200.5,678.7 199.4,673.1 199,667.2 197.4,662.4 197.2,657.8 196.4,652.4 194.3,647.6 191.9,642.1 190.3,637.7 188.8,633.2 188.2,627.3 185.6,621.8 183.5,617.4 181.8,611.4 180.2,605.4 178.2,599.9 175,595.7 171.6,590.2 170.2,586 167.5,580.4 165.3,575.8 163.7,570.5 M212.1,860 212.4,854.1 213.2,849.4 213.4,844.8 212.2,839.6 211.8,833.4 212.9,827 213.1,821.2 214.1,815.1 214,809.3 213.7,803.4 213.6,797.3 213.8,791 214.3,785.1 214.5,779.9 213.8,775.2 214,770.7 214.7,765.6 215.9,760 216.9,755.5 218.3,749.9 218.7,745.2 220.2,740.1 219.7,733.7 218.7,727.9 220,721.9 219.8,716.9 221.1,710.5 221.9,704.8 221.3,698.4 222.1,693.4 221.6,688.1 221.9,683.3 222,677.7 222.8,671.6 223.7,665.8 224.6,660.7 225.4,654.9 224.9,649.1 224.7,643.9 226.1,637.5 226.2,631.6 227.6,626.3 227.3,620.3 228,615 228.8,609.7 229.5,603.3 M209.9,859.4 208.6,854.4 208.6,849.8 208.9,844.9 208.3,839.2 209.2,834.5 208.8,828.8 208.7,823.7 209.2,818.7 209.6,812.3 209.8,807.8 208.9,802.6 209.8,796.9 208.5,792.3 206.9,787.5 207.1,781.2 206.2,776.1 206.4,769.9 204.9,764.4 204.3,758.2 204.2,753.5 204.3,748.7 204.9,742.3 203.7,736.6 203,731.6 201.7,727 201.1,721 200.8,715.3 200.2,710.4 198.9,705.3 199,700.7 197.4,695 197.8,690.5 196.8,685.1 196.2,679.1 194.1,674.1 194,669 193.6,664.6 192.8,659.5 192.4,653.6 191.4,648 189.7,643.4 189,638.6 188.9,633.4 188.3,628.8 187.2,623.6 186,617.9 184.5,612.1 183.7,605.9 183.3,601.3 182.5,596.9 180.1,591.7 178.5,585.4 177.3,579.3 176.8,574.8 174.8,569.1 171.8,564.4 170.4,559.8 169.5,554.8 168.5,549.8 167.7,544.3 165.4,539.6 162.6,533.6 M212.9,860.2 212.6,854 212.3,848.6 212.8,843.6 213.5,837.9 214.4,832 213.8,825.6 213.7,821.1 213.3,814.8 212.3,810.2 212.3,804.4 212.7,799.7 213.2,793.3 212.6,786.9 211.7,781.7 211.2,775.7 211.3,770.8 212.2,766.3 212.9,760.7 213.3,755.2 214.2,748.7 213,742.6 212.9,738 212.2,733.3 210.8,728.4 209.4,723.3 208.8,717.9 208.8,712.4 209.5,707.8 209,701.3 207.9,696.6 207.4,691 207,686.1 207.4,680.4 207.2,675.6 207.3,669.7 207.6,664.6 205.9,658.5 205.6,653.6 205.3,648.6 203.7,642.3 203.1,636.5 201.3,632 201.2,626.4 201.3,621.4 201.5,616.6 200.2,610.7 199.6,606 198.6,600.3 196.4,594.4 196.2,589.4 194.1,585 193,580.2 192.3,575.1 191.4,569.8 190.2,564.9 187.8,560.3 186.1,555.5 185.4,549.4 184.3,543.8 181.4,538.4 M209.4,864.5 208.6,859.3 207.6,853.8 207.7,848.4 206.4,842.8 205.7,836.5 205.7,830.8 204.7,824.9 203.2,820.3 203.8,815.7 203.6,809.5 201.8,803.1 200.2,797.4 200.4,791.4 199.8,785.4 199.2,780.2 198.5,775.4 197.2,769.6 195.8,764.3 193.8,759.1 193.1,754 190.8,748 190.9,742.5 190.4,736.5 188.6,731.6 186.4,725.7 185.8,719.5 184.8,713.6 182.9,708.7 182.6,702.7 180.1,696.9 178.2,690.9 177.5,685.3 177.3,680.3 176.3,675.7 173.8,669.9 171.4,663.7 168.6,658.7 166.9,653.1 164.6,647.7 163.8,642.7 161.5,636.6 158.8,632.1 158.1,626.2 155.9,621.5 154.3,615.8 152,611.6 150.1,605.9 147.6,600.6 146.7,595.1 145.5,590 144.5,585.2 141.3,579.3 140,574.7 136.9,569.7 133.9,565.2 132.3,560.9 M206.1,847.1 205.6,841.2 204.1,834.9 202.3,829.1 201.5,824.4 199.1,818.3 198,813.5 197,808.3 195.8,803.1 195.2,797.2 192.4,791.4 190.7,787.1 188.4,781.3 186.4,776.8 184.4,772.4 181.4,767.8 178.1,762.8 176.8,757.2 175.2,751.5 174.2,746.8 172.2,741.5 169.1,736.1 166.5,731.8 163.6,725.9 160.8,720.7 158.9,716.3 155.4,710.6 151.4,706 149.7,701.2 147.5,696.4 144.8,692.4 142.7,688.2 140.2,682.7 136.1,677.5 131.8,673.7 129,668.6 126.1,664.8 123.7,660.9 120.2,655.7 116.5,651.9 112.4,648.2 109.9,644.4 105,641.2 102,637 98.2,633.6 95,628.8 92.3,625.4 88.9,621.9 84.9,618.6 79.8,614.3 74.9,611.7 70,608.7 64.6,605 59.7,601.9 55.5,597.7 50.1,594.9 45.2,591.7 40.9,589.6 36.8,587.4 33.2,584.7 28.2,582.1 23.4,579.4 18.6,577.3 13.8,574.3 8.7,571.4 4.4,569.4 -0.4,566.7 M201.9,847.6 201.9,842.3 202.3,836.9 201.4,832.4 199.8,827.7 199.4,821.8 197.3,815.3 196.8,810.7 195.9,805.5 194.4,799.1 194.7,793.1 194.8,787.4 192.7,782.9 190.6,777.3 190.2,771.5 188.2,766.3 185.6,761.4 184.5,756.9 181.9,751.9 180.8,747.6 179,742.7 176.1,738.3 174.6,733.5 172.4,727.9 169.6,723.2 166.8,717.2 165.3,712.3 161.9,706.9 159.7,701.3 157.6,696.5 153.7,692.1 150.1,687.2 147.8,681.7 143.5,677.4 140.5,672.4 137.8,668.7 133.4,663.7 129.5,659.4 124.6,654.6 120.3,650.3 M205.4,848.2 206.3,842.3 205.3,836.6 204.3,831.3 205.3,825.1 206.4,818.9 205.2,813.7 205.3,807.3 204.7,802.6 204.7,796.9 205.1,791 204.2,785.9 203.2,780 202.4,774.2 202,768.3 201.9,761.9 201.4,757.4 201.4,752.3 202.1,746.8 200.6,740.8 200.6,735 199.2,729.4 197.6,724.7 197,718.6 197.2,713.2 196.9,708.5 196.7,702.4 195.6,696 194.2,689.8 192.9,684.6 191.8,679.6 190.7,674 189.4,669.3 188.1,663.3 186.4,658.6 186.1,652.6 185.4,647 184.1,641.4 182.6,636.3 182.6,629.9 180.5,624.9 178.2,618.7 178,613.9 177.9,608.2 175.9,602.1 175.1,596.2 172.6,590 172.3,583.8 170.4,577.8 168.4,572.5 165.9,567.2 163.4,560.9 160.6,555 159.3,549.7 157.1,545.3 155.9,541 152.9,536.6 149.8,531.5 148.2,527 M204.1,841.1 202.6,834.7 201.8,828.2 200,823.3 198.6,817.3 197.3,812.6 197.8,806.6 197,800.8 197.6,794.9 197.9,790.1 197.7,785.6 198,779.2 197.7,773.5 196.1,767.3 195.6,760.8 195.9,756 194.7,751.6 194.3,747.1 193.2,742.5 192.3,737.7 190.1,732.6 187.9,726.9 185.9,720.9 183.4,716.3 181.8,710.1 181.5,705.6 180,699.9 178.4,694.8 177.9,690.5 176.5,686.2 175.8,680.2 174.8,675.1 172.3,670 170.3,665.1 167.8,659.4 164.8,654.8 M205.1,848 205.8,842.9 205,838.1 205,831.7 204.7,825.9 203.8,821.1 203.8,815.8 203.5,810 202.8,805 202.7,799.1 202.5,794.3 204,788.7 203.7,783.5 202.6,777.8 201.7,771.7 202.3,766.6 203.1,761.5 203.3,755.7 202.7,750.3 203.1,744.3 204.6,739.2 205.5,734.5 205.6,729.1 205.5,723.6 205.3,718.8 205.9,713.4 207.2,707.1 208.5,702.1 208.5,697.1 208.5,692.2 M308.8,878.8 308.5,873 308.9,867.3 309.2,861.4 309.1,855 307.6,850.5 308,844.3 305.9,839.6 305.5,833.6 305.7,828.2 303.5,822.3 301.9,817.3 300,812 299.4,807.1 299.2,801.6 297.5,795.5 295.6,790.3 293.8,785.6 291.4,779.7 289.1,774.5 287.2,768.7 284.2,762.5 282.4,757.7 279.9,752.9 277.5,748.6 274.5,743.6 272,739.2 268.7,734.5 265.3,729.7 263.7,725 261.5,719.6 259.5,715.1 255.9,711 252.4,707.1 249.6,703.1 245.5,698.3 243.3,694.5 239.5,689.4 235.3,686 232.6,681.1 229.1,676.4 225.1,672.5 220.8,669 216.3,664.8 211.6,662.1 206.2,659.3 202.4,655.3 198.7,651.2 195.3,648.1 191,645.1 185,641.6 179.1,639.1 174,637 170.1,635 164.6,633.5 160,631.8 155.4,630.7 150.6,629.2 145,628 140.5,627.8 136.3,628 132.1,626.5 127,626.9 121.4,627.6 114.7,628.5 109.2,628.9 104.5,629.1 M308.3,882 308.4,876.2 307.7,870.1 307.2,863.9 307.9,857.5 307.6,852.1 307.1,845.9 308.7,840.7 309.5,835.5 309.7,830.5 309.5,824.3 311.1,818.9 312.4,812.9 313.4,808.1 313.4,802.3 313.4,796.9 315,792 316.8,785.7 318.6,781.1 318.5,776 320.6,771 320.9,766.5 322.1,761.2 324,756.2 325.9,750.5 327.6,746.1 328.3,740.9 329.1,736 331,730.3 331.8,725.1 334.2,719.8 335,714 335.7,708.4 337,704 339.3,698.1 340.1,693.3 341.9,688.3 343.9,683.4 346.6,678.8 349.2,673.3 350.7,668.8 352,663.2 353.2,658.2 356.4,654.2 357.5,648.3 360.1,644 363.1,639 364.9,633.6 367.7,628.5 369.7,623.4 372.5,617.7 376.1,612.9 379.1,608.2 381.2,604.5 384.8,600.6 387.4,596.3 389.5,591 391.7,587.3 396.1,583.1 398.8,579.6 403.4,574.3 405.9,569.6 409.3,566.1 413.5,562.2 416.2,557.3 419.3,553.5 422.8,550.3 425.9,546.9 429.7,543.9 M306.8,881.5 305.8,875.4 306.2,870.2 307.5,865.4 308.4,859.1 307.9,852.8 307.4,846.7 308.1,840.3 307,835.3 306.3,829.7 305.7,824.3 305.4,818.4 304.3,812.8 305.1,806.8 306.4,802.1 306.5,796.9 307.5,790.5 307.6,784.4 308,778.9 307.1,773.2 306.1,768.1 307,763.1 308.3,756.6 308.8,751.8 309.6,747.2 309.6,740.8 309.7,734.3 310.3,729.7 311.9,725.1 311.3,718.8 311.5,713.1 313.2,707.4 314.1,701.5 315.1,695.7 315.2,689.4 316,683.9 316.6,679.4 318.1,673.4 317.9,668.1 318.5,662.4 320.3,656.9 320.7,650.8 320.2,644.7 319.9,638.8 321.2,633.8 323.3,629.1 323,623.6 324.7,618.2 326.6,613.3 328,607.3 328.8,601.7 329.9,595.4 331.4,590.5 332.1,585.8 334.3,579.6 335.8,574.4 338.4,568.2 340.5,562 342.2,556.3 343.9,551 346.4,545.3 348.9,539.3 M311,882.7 310.8,877.7 310.6,871.9 311.9,865.6 312.9,860.4 314.1,854.1 315.8,848.7 316.2,844.3 317.1,838.2 319.5,833 319.6,828.6 321.6,822.6 323.5,817.6 325.3,811.8 327.2,806.3 329.7,800.4 330.9,795 333.6,789.7 336.4,785.2 337.8,780.8 338.3,776.1 340.7,771.7 341.5,765.9 343.3,761 346.4,756.2 347.7,750.4 350.5,745.3 353,740.4 354.9,736.3 358,732.1 360.6,726.7 364.2,722.3 367.1,718.3 370.9,712.9 374.5,708.7 378.1,703.7 379.9,699.5 383,695.6 385.1,690 389.3,685.1 393.4,679.8 395.8,675.1 398.5,671.3 403,667 407.1,661.7 410,658.3 413.9,654 417.2,650.7 420.2,647.6 423.9,642.6 426.7,639.2 429.7,635.2 434.9,630.6 437.7,625.9 442.5,622.2 446.1,618.6 449.2,614.5 453.2,611.2 458,607.4 463.6,603.6 469.3,600 474.7,597.1 M332,880.6 332.2,875 332.3,870.3 332.7,864.8 333.2,858.8 333.2,854 333.8,848.6 333.2,842.2 334.1,835.9 336,830.3 336.2,825.8 336.3,820.8 336.9,815.3 338.8,809.3 339.9,803.8 341.9,797.5 343.4,791.9 343.6,787 345.6,781.2 346.3,775.4 346.5,770.9 347.8,764.7 349.1,758.4 349.5,753.7 350.3,748.6 353,743.3 353.7,737.4 356.3,731.2 357,725.5 359.7,720 360.2,715.7 363.2,711.5 365.2,706.2 366.3,701.5 367.1,696.4 370.1,691.8 371.7,687.8 373.7,682.2 375.6,676.5 376.7,671.3 378,667.1 381.3,661.5 384.6,656.7 388.6,652.6 391.3,648 395.5,643.2 398.3,638.1 400.3,633.4 404.6,628 407.7,623.6 410.9,619.4 413.7,615.5 416,612 419.9,608 M325.2,881.4 325.2,875.3 324.9,870.5 323.9,864.4 323.2,859.5 322.9,854 322.1,849.2 321.9,844.3 323.3,839.5 323.7,834.5 324.6,829.3 325.4,824.6 326.6,819.3 326.5,813.1 327.8,807.7 329.3,801.4 330.1,796.1 331.4,790.1 332.7,784.6 332.2,778.5 333.7,773 335.1,767.3 335.5,762 336.1,756.2 335.8,750 337.8,745 337.6,739.9 339.7,734.5 339.6,729.6 339.5,724.8 341.5,720 342.6,714 343.1,709.1 344.4,703.6 346.4,698.5 347.1,693.7 349,689.3 349.4,684.8 351.9,679.8 353.3,673.7 355.9,669.3 357.7,664.9 360.3,660.4 361.8,654.8 M327,883.2 327.9,877 327.5,872 329.1,867.3 328.6,862.5 329.6,856.9 331.4,851.5 333.4,846.5 333.4,840.3 333.9,835.5 335.1,830.2 336.8,825.2 337.4,820.2 337.5,815.6 339.5,810.7 341.8,805 344.4,799.8 346.3,793.6 347,789 348.4,784.6 350.5,779.8 353.3,773.8 354.8,768.6 357,763.9 358.8,758 360.7,753.8 361.8,748.1 364.1,742.3 365.8,737.5 367.2,732.8 369.2,727.1 370.6,723 372.4,717.1 375.5,712.3 379.4,707.1 383,702.7 385.5,698.5 388.8,693 392.3,688.3 394.9,683.1 397.4,679.1 399.6,674 403.6,669.1 407.5,664.3 410.4,660.1 413.3,655.7 417.1,652.5 420.8,648.3 423.6,643.8 426.9,640.8 430.3,636.5 433.3,632.1 M331.6,879.5 329.9,873.5 328.2,868.5 326.2,864 325.5,857.6 325.1,852.2 323.7,846 321.6,840.6 321.2,834.4 320.6,828.9 318.2,823.3 317.3,818.4 314.9,813 313.2,808.3 311,802.5 309.7,797.6 306.9,792.8 303.8,788 302.1,784 300.7,778.7 298.5,773.1 297,768.5 293.5,764.8 289.7,761.2 286.8,757.3 284,752.9 280,749.1 277.2,746 272.3,742.3 269.3,739.6 265.1,737 260.6,733.4 255.1,729.5 249.6,727.2 244.7,724.1 239.4,722.7 235.3,719.8 230,718.3 225.9,716.2 219.3,714.5 214.4,713.3 208.2,713.4 203.3,714.3 198,714.1 193.1,715.5 188.9,716.6 184.6,718.8 179.3,721.1 M342.7,891.6 342.3,886.3 342.2,880.5 343.8,875.9 344.6,869.6 345.9,865 346.9,859 347.3,853.3 347,846.9 347.1,841.9 349,835.8 349.2,830.2 351.5,825.1 353.7,818.9 355.2,812.9 357.3,807.7 359.5,801.8 361.3,796.5 361.4,790.5 363,785.9 365.5,779.9 368.3,774.3 370.5,769.3 371.8,764.6 372.4,759.9 373.3,753.7 375.8,749.1 377.6,743.6 380.5,738.5 381.2,732.9 383.8,726.8 386.2,720.7 387.9,715.6 390.3,711.3 392.5,705.5 394.5,699.5 397.6,694.7 399.4,690.2 402.4,684.3 405.9,680.1 407.4,674.9 409.6,669.1 411.3,664.4 412.9,659.1 416.4,654.6 418.3,649.8 421.8,644.8 M344.3,890.9 343.6,884.6 342.9,878.5 343.2,872.9 343.4,866.7 343.5,860.9 344,855.5 345.7,849.6 347,845.1 346.6,840.5 348.3,835.9 349,831.4 350.7,826.9 351,821.1 352.6,816.6 354.1,810.3 356.2,805.1 358.9,799.7 361.6,794.2 363.5,788.9 366.3,783.7 368.7,778.6 370.3,773.8 373.7,769.6 376.7,765.3 379.7,760.4 382.2,754.9 386.3,751 M340.8,885.1 341,879.9 342.3,874 343.3,869 343.7,863 343.9,856.9 344,850.8 346.2,844.5 347.8,839.3 349.4,834.6 351,829.7 352.5,823.6 355.1,817.5 357.8,811.8 359,807.5 361.3,802.7 363.6,797.9 364.4,792.2 365.7,787.7 368.7,782 370.1,776.7 372.3,771.1 374.5,766.6 377.9,761.7 380.7,757 384.6,751.6 388.2,747.7 M346,888.9 346,883.9 346.7,878.2 348.5,873.6 348.3,867.9 348.8,862.8 350.6,857.1 351,851.5 352.3,846.8 353.1,842.4 353.6,837.3 354.5,832.1 356,827.7 358.2,823.5 361.5,818 365.1,813.5 367.4,809.4 370.6,804.1 372.4,799.1 375.9,794.4 378.6,789.1 382.1,784.8 386.6,779.5 390.5,775.1 394.8,770.3 399.5,766.4 403.5,762.5 407.6,759.2 M358.4,879.8 357.6,873.6 357.4,869 357.7,862.8 356.6,858.1 356.2,853.4 356,847.1 355.1,840.9 356.3,836.4 356.4,830.9 356.3,825.3 357.2,820.6 356.3,815.3 355.2,808.9 355.1,803.9 354.2,798.9 353.5,792.9 352.6,786.7 351,781.5 349.3,777 349.1,772.3 348.8,767.4 347.2,762.7 346.4,757.1 345.1,751.8 345.5,746 344.3,740.4 343.2,734.9 340.9,729.6 338.6,724.3 338.3,719.8 336.7,714.3 334.8,708.6 334.3,703.4 333.9,697.9 331.6,691.9 330.1,686.9 328.9,681.5 326.2,676.9 324.7,671.8 M355.6,883.8 357,878.1 357.9,872.1 358.9,866.1 361.3,861.3 361.8,856.4 362.5,851.5 363.6,846.6 365.5,841.4 366.8,837.1 367.9,831.9 371.5,826.9 374.7,821.6 377,816 380.3,810.9 383.2,807 385.5,802.5 388.7,798.3 393.2,794.7 396.2,790.3 399.1,786.6 403.8,782.6 407.5,778.2 411.3,775.3 416.7,770.9 422,766.9 427,763.4 430.9,761 434.9,757.6 439.5,754.6 445.2,753 M355.7,883.9 355.4,878.2 356.7,873.6 356,867.6 357.2,862.4 358.6,856.7 359.2,851.9 360.1,846.5 359.5,841.7 359.2,836.3 358.6,831.4 359.7,825.3 361.1,819.6 361.9,814.8 363.3,808.7 364.2,803.2 363.7,798.6 364.1,792.4 364.6,786.1 366.7,781.2 367.6,775.1 369.1,769.5 369.6,764.9 371,759.5 372.9,754.7 374.3,750 376.3,744.4 M159,905.8 158.1,900 157.8,894.2 156.9,888.7 155.9,883.9 154.9,877.7 154,873.1 153.3,867.8 153.6,861.8 153.5,856.3 153.4,850.9 152.4,846.3 151.7,840.5 150.2,835.3 151.1,830 150,824.4 148.5,819.6 148.2,813.8 147.4,808.5 146.1,803.8 145.5,797.9 144.1,791.9 144.4,785.6 142.9,779.2 141.1,773.6 141,768.3 139.7,762.5 137.8,757.7 137.9,752.6 137,746.4 136.1,741 136.3,735.5 135.3,730.3 134.5,725.6 134.7,721.1 132.8,715 132.2,708.6 131.5,702.6 M156.7,904.7 156.7,899.5 158,894.9 159.4,888.6 159.5,883.4 159.1,878.8 160.4,874.3 162.3,869.7 163.2,863.9 163.2,858.1 164.3,853.4 164.1,847.4 165.1,842.8 165.1,837.2 166.4,831.2 167.8,825.6 168.6,820 169.2,813.7 170.6,808.7 170.4,803.2 171.2,798 173,791.7 175.2,786.7 175.9,780.8 176.6,775.7 178.1,769.6 178.5,763.3 178.4,758.2 179.3,753.2 181,747.4 183.2,741.5 184.9,735.7 185.1,730.8 186.8,724.9 187.6,720.4 189.7,715.4 191.7,711 193.3,705.3 195.3,699.3 197.2,693.3 199.6,688.4 201.2,682.2 203,676.3 204.9,670.9 206.9,665.4 208.5,660.8 210.7,654.6 211.2,649.6 212.5,643.6 213.2,637.4 216.2,631.2 218.6,625.2 M157.8,907.1 157.7,901.9 158.6,895.8 158.8,891.3 159.2,885.7 159.9,879.9 160.6,873.7 162.7,869 163.9,864.3 164.7,859 166.1,853.9 167.2,848.5 170.4,843.5 171.5,839.1 174.8,834.6 178.2,830.4 181.5,826.2 184.4,821.7 187.1,818.1 189.6,814.6 192.8,811.3 197.3,807.8 200.4,803.7 204.2,801.4 210,798.8 215.2,795.4 220.4,793.1 226.9,791.1 231.8,790.5 236.6,790.1 M312.9,870.7 313.2,865.6 314,860.2 314.1,854.1 313.2,849 312.2,843.3 311.5,837.8 312.4,831.6 311.2,825.2 311.8,820.5 312.3,815 313.4,809.9 314.2,804 313.2,798.5 312.1,792.9 310.9,787.8 310.1,782.4 310.9,776.7 310,772.1 308.8,765.8 309.1,760.1 308.5,753.8 309.7,748.7 309.4,743 308.6,738.3 308.6,733.6 307.7,727.2 308.6,722.4 309.3,716.6 310.2,711 311.3,706.3 310.5,700.6 309.6,695.7 310.4,689.7 309.7,684.2 308.5,678.8 309.6,672.6 308.5,666.9 307.7,662.2 309,655.9 307.9,650.2 308.3,645.7 308.4,640.5 307.5,635.1 307,629.5 307,624.8 308.3,619 307.6,613.8 306.7,607.8 306.5,601.6 306.2,596.1 305.9,591.4 305.6,585 305.1,578.9 304.3,573.5 304.6,567.5 303.5,562.2 303,556.1 304.1,551.4 304.8,546.3 304,541.5 304.4,537 304,532.4 305.4,527.3 306,522.1 306.6,517.4 307.6,512.4 307.2,506.5 307.9,500.7 308.1,495.8 M316.2,864.9 316.3,858.9 316.4,852.4 317.7,846.2 317.2,841.5 318.2,835.9 318.4,830.5 319.1,825.7 319.3,820 318.8,814.5 318.5,808.5 320.1,803.3 319.9,798.5 319.9,793.4 320.8,788.3 320.5,782.3 320.9,777.6 322.7,772.9 322.1,768.3 323,762.3 322.8,756.9 322.3,751 323.5,745.9 324.3,740 324.5,733.8 326.4,728.7 326.8,724.3 328.1,718.5 329.7,714 330,708.5 332.3,702.4 332.6,697.5 333.8,692.9 334.2,687.3 336.4,682.7 339.1,676.6 339.5,671.6 341.6,666.5 344.5,661.8 346,657.4 349,653.2 351.6,647.3 354.6,641.8 357.4,637.5 359.6,632.4 361.5,627.1 364,622.1 365.6,616.5 369,611.6 371.9,605.7 375.5,601.7 378.2,595.9 381,592 383.7,586.7 M313.4,870.2 314.5,865.7 316.1,861 318,854.8 320,850.4 322.4,844.8 324.5,840.3 326,835 328.8,830.6 330.6,826.4 331.7,821.2 333.3,815.5 336.9,810.9 339.6,807 341.5,802.4 343.2,796.7 344.8,791.9 347.3,786.2 351.5,780.6 355.9,776.7 358.2,772.3 360.8,767.2 364.3,762.5 367.5,757.3 370.6,753.8 374.1,749.5 377.1,745.6 381.9,740.9 385.1,737.7 388.2,733.2 392.2,730.4 395.7,727.5 400.1,723.9 405,720.4 409.6,717.4 412.9,713.3 418.5,710.7 423.5,707.2 426.9,703.6 431.4,701.4 436.3,698 441.1,694.4 445.2,691.4 449.2,688.1 455.3,686.3 461,684.8 M314.7,867.1 316.3,861.6 315.9,855.6 315.7,850.8 317,844.5 317.7,839.7 319.1,835.1 320.1,830.1 320.7,824.5 320.7,819.2 321.2,813.2 322.1,806.9 322.7,802.2 323.5,796.1 325.5,789.9 327,784.7 328.8,779.7 330,775.2 331.5,770.3 333,765.7 334.4,760.8 335.7,755.8 336.5,750 337.7,745.5 338.6,739.7 339.5,735.3 341.9,729.2 342.9,723.9 343.9,719.8 347,714.1 348.5,709.8 350.7,703.9 353.3,698.9 356,694.3 359.2,688.9 360.9,683.8 363.8,678.5 367.1,674.3 371.4,669.6 375.3,665 379.8,660.8 382.4,655.8 386.5,651.1 388.9,647.8 391.8,644.2 396.6,640.9 399.2,636.7 404.3,633.8 407.2,629.1 410.7,625.9 415.2,622.2 420.7,618.5 M308,867.6 306.7,862.9 306.3,857.5 306.5,853 306.6,846.7 307.1,841.1 306,834.8 306.3,829.4 305.6,824.6 305.8,818.5 304,814 303,808.9 303,804.1 302.9,798 301.7,792.3 299.8,786.3 299.8,780.4 297.6,774.6 296.7,768.3 296.1,762.2 293.5,757.2 291.5,751.9 289.4,747.2 287.8,741.2 286.2,735.2 283.8,730.9 281.9,725.4 280.4,720.6 278,714.8 274.8,710.7 271.4,705.8 269.3,700.4 265.6,696.1 261.8,691.3 259.6,687.6 256.6,682.8 252.2,678.2 249.3,674.9 245.8,671.8 242.5,668.5 237.6,665.7 232.1,661.4 228.4,658.9 223.8,656.1 218.8,652.8 213.8,650 210,646.7 204.7,643.7 M313.9,862.8 313.6,857 312.9,851.8 311.6,845.6 311.2,840.1 308.7,834.3 308.6,829.1 307.2,824.6 305,818.6 303.9,813.1 303.3,807.1 302.7,801.4 300.6,795.4 299.4,789.8 298.1,785.5 295.2,780.1 292.2,774.5 289.4,770.3 288.4,766.2 285.6,761.3 283.8,757.1 280.4,752.8 278.1,747 276.6,743.2 272.9,738.2 268.9,733.7 265.5,729.6 263.5,725 261.1,721 259.1,715.8 254.5,711.1 251.6,706.7 249,703.2 246.2,699.1 243.5,695.4 238.9,691.4 235.9,688.3 231.8,684.3 228.6,681.3 223.8,677.6 218.6,675.4 212.9,672.5 209.1,669 204,667 199.9,665.3 196.2,662.3 190.5,660.8 184.5,658.1 178.7,656 174.2,655 168.4,654 162.8,652.1 156.6,650.4 150.2,649.6 144.3,649.5 138,648.7 M158.9,876.2 157.5,870.9 158.3,865.9 156.9,860.6 156.8,854.6 156.4,850 156.6,844.3 156.3,838.9 155.1,833.6 153.8,827.4 154.2,822.4 154.4,817.2 154.4,812 154.7,806.3 153.9,800 153.3,793.5 152.8,788.9 152.8,784.2 153.5,779.1 153.1,774.2 152.7,769.4 151.3,764.6 151.5,758.7 150.3,753.1 149.5,748.2 148.2,742.6 146.5,737.5 146.9,732 147.6,727 147.5,720.9 146.9,715.5 146.4,709.3 145.8,704.4 145.2,698.9 144.5,693.8 144.7,688.2 142.9,683.5 143.1,677.1 143.3,671.9 143.9,667 144,662.4 142.6,656.1 141.7,651.2 140.2,645.2 138.9,640.3 137.9,634.7 137.6,628.8 M158.3,873 158.2,867.1 158.3,860.8 157,855.9 156.7,849.5 154.6,844.3 154.4,838.9 153,834.2 152.1,828.6 151.1,823.2 150,816.8 149.3,811.4 148.4,806.8 147.8,800.9 147.1,795.2 145,789.6 143.7,783.7 141.4,778.1 139,773.5 137.6,768.7 135.7,762.9 135.1,757.5 134.4,751.7 132.6,745.5 130.4,739.7 129.3,733.6 128.4,727.6 127.6,722.1 125.1,716.5 123.2,711.2 121.7,705.5 118.5,700.2 116.9,694.2 115.4,688.4 114.1,682.8 113,677.7 110.3,672.7 108.2,666.8 106.3,661 103.2,655.7 101.8,650.7 100,645.1 97.3,640.2 95.8,636 M167.6,864 167.4,858 167.2,851.9 166,846.1 165.9,841.4 166.1,835.1 166.9,829 165.3,824.4 165.3,818.5 164,812.9 164.5,806.7 165.1,801.7 163.3,795.4 163.6,789.4 162.7,784.4 162.5,779 161.4,774.3 161.4,769.9 161,763.7 159.5,758.4 159.4,754 159.4,749.5 158.6,745 157.7,739 156.6,734.2 155.4,728.9 154.4,724 154.1,717.7 152.4,711.9 150.6,706.2 149.2,701.2 147.1,696.3 146.6,690.3 144.9,684 143.6,677.7 142.4,671.9 140.1,665.7 139.1,660.4 137,654.9 134.3,648.9 131.7,643.3 130.9,638.6 129.5,634.1 128.5,628.6 125.9,622.9 124.4,617 122.1,611.3 118.9,607 117.4,602.3 115.9,597.9 112.3,592.7 109.7,588.3 107.8,584.5 104.2,579.3 100.9,574 97.9,568.6 93.9,563.8 90.1,560 87.1,554.6 82.8,549.4 79.5,545.1 M313.1,852.6 313.7,848.2 314.5,842.2 315.6,838 316.3,832.9 319.1,827.6 321.7,823 324.3,818.1 325.7,812.1 327.9,806.2 331.4,800.4 332.9,796.3 336.2,790.5 337.7,784.8 339.7,779.9 343.3,775.1 346,771.3 349.7,766.5 352.1,762.9 355.1,759.2 359.6,755.7 361.7,750.9 366.3,746.8 368.9,743 373.1,739.2 376.2,734.4 379.4,730.5 382.4,727.2 385.5,723.4 390.4,720.7 395.4,717 400.9,712.8 404.6,710.2 408.8,706.8 414.5,703.2 419.5,699.6 423.2,696.2 427.8,693.7 433.9,691.6 437.6,689.8 441.7,687.6 446.7,685.7 451.4,683.3 457.6,682.6 463.2,682.1 467.7,680.8 472.8,679.8 478.3,678.1 484.7,677.6 489,677.5 493.4,678 499.7,677.5 M314.1,855.6 316.4,850.3 317.5,844.7 318.9,840.2 321.4,834.4 322.8,829.6 325.6,825.1 326.3,820.1 328.2,814 331.1,808.5 332.7,803.8 333.9,797.9 336.6,792.5 339.4,788 342.1,783 343,777.3 344.8,772.3 347,767.5 350.4,761.7 351.9,756.6 352.9,752.2 354.1,748.1 355.7,742.4 357.4,737.6 358.6,733.6 361.5,728 365,723.8 367.9,718.2 370.7,713.8 372.4,709.1 376.3,704.4 380.3,699.5 382.4,695.3 385.7,691.3 388.8,686.7 391.8,682.6 394.1,678.9 395.9,673.8 399.9,669.4 402.5,664.7 405.4,661.1 M317.6,857.5 318,851.4 318.6,845.2 320.2,839.5 320.8,834.5 321.6,828.4 322.4,822.6 322.5,817.1 323.7,812.2 324.9,806.2 327,800.5 328,795.9 328.8,791.2 329.2,786 330.2,781.4 332.3,776.4 333.2,771.6 333.2,766.8 334.6,761.3 336,755.2 338.2,750.8 339.7,745.8 339.8,740 342.1,734.1 343.6,728 344,721.7 346.4,716.6 346.7,710.9 348.2,706.1 348.9,700.9 349.7,695.2 351.5,690.1 353.2,685 356.2,680.2 359.2,675.3 360.2,669.4 362.9,664.9 365.4,659.5 368.5,654 369.4,648.9 371.3,643.8 372.6,639.2 375.5,635.1 378.2,630.5 381.1,624.6 384.4,618.9 387.1,614.4 389.4,610.4 393.1,605.4 M261.7,885.5 262.2,879.7 264.3,875 265,870.3 266.7,864.1 267.6,858.1 268.1,853.3 270,847.6 270.7,841.6 271.9,837 275.1,831 276.7,826.5 279.5,821.8 281.4,816.8 284,812.2 287.4,806.8 290.5,801.4 294,796.9 296.4,791.3 298.6,787.3 302.8,782.7 304.7,778.9 306.7,775.2 310.3,770.5 313.3,766.2 317.6,762.4 320.1,757.9 323.8,753.8 328.5,750.6 333.1,746.2 337.3,742.8 342.3,738.9 347.2,734.5 352.9,730.9 358.7,727.8 362.8,724.8 366.4,721.6 370.1,718.1 376,716.4 380.3,713.4 385.1,711.9 390.8,710.4 395.6,708.1 399.8,705.8 404.6,704.6 408.7,702.9 413.2,701.8 418.5,702.3 424.5,702.4 431.3,702.1 437.6,701.6 442.1,701.4 446.9,702.2 453.1,703.9 458.7,704.9 464.1,705.7 469.9,708.6 475.8,711.1 479.7,714.2 484.1,716.1 488.2,719.5 491.7,722.1 494.9,725 M266.3,886.3 265.4,880.2 266.7,874.8 267.4,869.9 267.8,863.5 268.9,858.8 268.6,853.9 267.9,848.2 268.2,841.9 268.4,835.6 269.4,830.2 269.9,825.2 271.4,819.6 271.8,813.5 273.2,808.1 273.8,803.2 273.3,797 274.1,791.7 273.7,785.9 274,779.8 275.5,774.2 274.7,768.4 275.6,763.9 276.9,757.8 277.9,752.5 279,748 279.2,741.7 280.3,735.8 280.2,729.6 280.5,725.1 282.3,719 282.4,713.6 282.9,707.6 284.4,701.4 286,696.8 287.7,690.5 289.6,685.5 290.7,679.2 291.2,673.5 291.6,668.7 292,662.9 293.7,656.7 293.9,652.1 295.2,645.9 297.1,640.4 297.1,634.7 297.1,629.1 297.4,623.9 298.4,619.4 298,614.7 300,608.8 300.8,603.8 301.7,598.6 302.5,593.2 302.5,588.6 304.7,583.7 306.2,578.5 308.1,574 310.5,568.6 312.3,563.5 312.4,558.7 312.6,553.6 313.7,548.1 315.1,542.5 317.6,536.7 319.5,531.3 321,525.1 321.5,520.8 322.2,515.5 324.2,510.5 324.7,504.9 325.3,500 327.3,494.7 328.7,488.7 329.8,483 M263.5,888.3 262.8,881.9 261.2,877 259.8,871.3 258.2,866.7 256.7,860.6 257.3,854.2 257,849.2 257.4,843.2 256.3,838 254.8,832.4 255,827.3 253.8,822.2 253.2,815.7 253.2,811 251.6,805.6 250.4,800.9 249,795.6 248.7,790 248.3,784.5 248.1,779.9 246.2,775.4 244.3,770.7 243,764.3 241.8,758.3 240.5,753.6 240.9,747.3 240.3,741.9 240.4,736.6 240.7,731.8 240.3,727.3 240.5,721.9 240.6,717.2 239.7,711.9 238.9,706.4 238.4,700.4 238,695.4 236.1,690.1 233.9,684.2 231.5,678.5 229.7,672.8 228.5,668.2 227.7,663.2 226.2,657 224.8,651.9 224.5,646.6 223.3,641 220.8,635.8 219.7,631.1 219.3,625.8 217.8,619.8 216.9,614.4 216.7,609.7 215.7,604.4 214.2,598.7 214,593.5 211.4,588.9 210.3,583.2 209,578.3 208.5,572 206.2,566.1 203.5,561.1 203,555 201.6,550.6 199,545.3 196,539.7 194.7,534.2 193.9,529.6 191.1,524.1 188.2,519.5 185.8,514.6 185,509.5 183.6,503.7 180.7,498.1 177.8,492 176.8,487.4 173.9,481.6 M184,920.7 184.5,914.3 183.6,908.3 182.6,903.7 180.8,899.2 181.4,892.9 179.8,886.6 178.9,880.2 176.9,875.3 174.9,869.4 174.1,863.1 172.9,857.5 172.1,852.7 169.9,846.4 168.7,841.3 167.2,836.6 166.7,831.4 166.5,825.1 163.9,820.2 163.5,815.5 161.9,810.1 160.9,805.5 159.5,801.2 157.9,795 156.9,789.6 154.4,783.5 153.2,778.3 151.5,773.5 149.9,768.9 146.7,763.3 145.4,758.1 143.4,753.3 141,747.5 137.6,743.5 134,738.6 132.1,732.9 129.4,728 126,724 122.7,719.3 119.1,714.1 116.7,709.4 114.5,705.5 112.2,701.3 110.2,696.5 107.2,691.9 104.9,688.4 101.3,683.6 97.6,678.7 94.2,674.5 91.6,671 88,667.4 85.1,662.6 82,658.1 77.9,653.9 73,650.4 70,647.6 M178.7,913.9 179.5,908.2 179.1,903.7 179.1,897.5 178.2,892.6 176.6,887 176.7,882.2 176.8,876.4 177,871 177.3,866.1 177.7,861.4 178.5,855.8 179,849.4 178.7,844.8 177.6,838.8 175.8,833.3 174.9,828.5 173.2,822.4 172.1,817.9 172.7,812 172.7,806.9 172.5,801.4 172.1,796.7 170.7,790.8 169.7,784.7 169.5,778.6 169.1,773.9 167.1,767.6 165.3,761.5 163.3,755.1 162.3,749.4 162,743.2 160.7,738.8 158.4,732.6 156.8,727.4 155.8,721.1 155.1,716.6 155.2,712 154.1,706.6 154,700.3 152.5,695.1 151.3,689.8 150.5,683.7 149.5,677.7 148.5,673.1 148.3,668.1 146.4,662 143.9,657.1 143.2,651.7 141.7,647.4 139.6,641.2 138.5,635.3 137.2,629.6 136.1,625 135.3,620.6 133.1,615.4 131.3,610.6 128.9,604.7 126.8,599.2 123.9,593.2 120.5,588.5 117.4,584.3 116.1,578.4 114.7,574.1 M169.2,906.3 169,900.6 167.2,896 166.5,891.5 166.2,886.7 163.5,880.6 161.1,876 160.2,869.9 158.3,864.9 155.7,860.1 152.5,855.5 151.5,850.3 148.4,845.9 147.3,841.3 144.3,835.7 140.6,830.5 137.8,826 134.5,820.7 132.8,816 128.7,810.9 124.8,806.1 123,802 120.3,796.7 118.3,791.7 114.1,787.3 109.8,783.1 105.3,778.9 M169.1,906.4 167.5,900.5 167,895.5 165.1,890.2 162.3,885.9 160.1,881.2 158.9,876 157.1,871.4 155.8,866.3 154.1,861.4 151.3,856.5 148.6,851 146.8,845.8 144.7,840.2 143.4,834.3 142.1,829.1 140.5,824.8 137.5,819.1 134.7,813.3 132.7,808.1 131.4,802.6 130,797 126.5,792.3 123.9,786.7 121.4,782.7 118.1,778.2 114.2,773.4 110.8,769.5 107.9,763.9 104.9,759.5 101.2,755.3 97.8,750.4 93.7,745 90.4,740 87.1,734.8 84.6,730.5 80.8,726.9 77.4,722.6 74.5,718.1 70.4,714.9 66,710.8 61.1,706.8 57.5,702.2 53,697.3 48.8,693.4 45.5,689.3 40.4,685 36.7,681.5 32,676.8 27.6,673.9 23.6,669.9 18.6,666.9 13.4,664 10.2,661.6 5.4,658.8 2.1,656.1 -3.6,653 M166.6,882.4 167.6,877.3 168.8,871.6 169.6,866.4 170.1,860.5 171.8,855.4 172.4,850.3 174,844 174.2,838.1 174.8,832.2 176.6,826.9 179.1,822.2 180.9,817.6 182.5,812.5 184.9,807 186,802.8 187.9,798.3 189.8,793.2 193.1,788 196.6,783.3 199.7,779.6 203.7,775.4 206.3,771.9 208.9,768.2 213.9,763.3 219.1,759.9 222.5,757.1 226.2,753.6 230.7,751 236.3,748.2 242.2,744.9 247.3,742.9 253.7,741.2 258.6,740.1 263.9,738.8 269.8,738.2 M164.1,882.4 162.2,877.1 160.8,871.5 160.6,866.8 159.7,860.7 158.8,854.7 158.9,849.6 159,844.7 158.6,838.7 156.7,832.3 155,826.5 154.4,820.3 153.3,814.1 152.8,809.4 150.8,804.4 149.3,798 147.9,791.8 146.8,787.1 144.9,781.1 143.7,776.5 143.3,771.2 142.9,765.3 141.5,760.1 140.1,755.4 137.6,750.1 136.6,744.1 133.9,738.6 132.1,734.1 131.6,729.3 129.6,724.5 126.9,720 126.2,715.3 123.7,710.2 120.9,704.9 119.2,700 118.3,693.9 117.2,688.9 114.5,683.8 112.6,678.1 110.8,673.8 107.8,668.4 105.9,663.8 105.2,659.4 102.9,653.5 99.8,648 97.5,642.5 94.4,637.6 91.6,632.1 90.1,626.4 87.5,621.3 85.8,616.9 84.4,612.7 83,606.9 81.3,601.5 79.5,595.7 M159.8,885.7 157.9,880.7 156,875 154.2,870.1 153.8,865.3 152.7,859.6 151.6,853.9 150.1,847.7 148.1,842 145.6,836.6 144.3,832.1 142.3,826.4 140,821.3 137.9,815.3 136.5,810.6 135.9,804.9 133.2,799.4 132.3,793.5 131.9,788.5 129.7,782.9 127.4,778.3 125.9,772.9 122.9,768.2 122.1,762.4 119.4,758.1 117.5,752.2 115.4,746.4 114.3,740.9 112.4,734.8 109.3,730.3 106.8,725.6 105,720.1 101.9,715.9 100.6,710.1 97.6,704.6 94.9,699.1 92.1,693.6 90.8,688.1 87.6,682.5 84.4,676.7 82.5,672.1 79.6,666.3 76.2,660.7 72.7,655.4 70.1,650.3 66.2,645.9 63,642 60.2,636.8 57.8,632.1 55.3,628.1 52.5,624.1 49.8,620.5 47.1,615.6 45.1,611 41.4,606.4 37.8,602.5 34.9,598.8 31.1,595.3 27.9,591.2 M166.1,882.5 167.5,876.2 167.4,870.7 167,864.7 167.3,859 167.2,854.1 167.7,848 169.3,843.5 171.1,838.8 173.2,834.1 173.8,828.6 174.4,823.7 175.7,818.5 178,813.8 179.4,808.1 182.8,802.7 186.6,798.1 189,794.1 191.2,789 195.1,785.4 199.5,780.2 204.1,775.8 206.8,772.8 209.9,770 214.2,767.6 218.1,765.4 223.3,763 229.2,761.2 235.1,759.9 239.4,758.2 244.3,756.6 250,756.9 256.6,755.8 M184.3,867.8 184.7,861.9 184.2,856.6 185.1,851.8 184.1,846.8 182.6,841.6 181.5,837 182.1,831.8 180.4,825.5 179.7,819.7 179.4,814.6 179,809.7 179.5,803.3 179.4,796.9 178.1,790.9 176.1,784.8 175.4,779.7 174.1,775.3 173.6,769.7 173.3,764.4 171.5,760 168.7,753.9 167.8,748.3 164.9,742.7 162.1,736.9 159.3,731.7 157.9,727.4 154.6,722.6 151.1,717.3 148.5,712.4 147,707.4 145.3,703.2 142.9,699.2 140.2,694.5 137.2,690 M181.8,863.7 181.8,858.5 181,852.8 181.8,846.5 180.7,840.3 179.7,834 179,828.9 179,823.1 177.6,818.4 178.3,812.9 177.9,807.2 178.6,802.4 177.4,796.4 176.5,790.2 177,785 177.8,778.6 176.9,774 176.1,768.3 174.9,762.8 175.1,758.1 174,752.9 172.4,747.7 170.6,741.6 169.3,735.5 167.7,729.5 166.5,724.6 164.4,718.9 162.8,713.3 161.8,708.7 161,704.2 159.5,698.2 158.2,692.4 157.2,687.6 156,681.6 155.3,675.6 154.5,669.9 151.9,665.1 149.2,659.2 147.1,654 145.8,648.5 145,643.5 142.2,639.1 139.6,633.9 138.3,629 136.3,624.1 134.6,619.2 130.9,613.4 127.7,609.3 M188.8,870 189.7,865.1 188.8,858.9 189.5,852.5 188.7,846 188.1,841.3 188,835.5 188.3,829.6 188.6,823.2 189.8,817.7 189.5,811.5 190.1,806.8 190.5,801.8 190.7,796.2 190,791.5 189.8,786.8 190.9,782.3 192,775.8 192.6,769.5 192,763.9 193.5,757.6 193.6,752.8 195,747.1 194.9,741.7 196.4,735.9 197.7,730.9 198.8,725.3 199.6,719.8 200.6,715 199.9,710.1 199.6,703.7 199.8,697.9 199.1,692.5 198.3,686.5 199.8,680.1 198.9,675.2 199.7,669 199.4,664.4 200.8,658.8 199.9,654.2 200.8,648.6 202.1,643.5 203.6,637.2 203.3,630.9 203.2,626.1 203,620.4 203.9,615 204.9,609.6 M186.6,864.8 185.9,859.8 186.8,854.6 187.7,849.8 187.8,845.1 186.7,840.3 186.2,833.8 185.8,829 184.5,823.5 183.5,817.5 184.1,811.9 183,806.6 182.6,800.5 181.9,795.6 182.2,789.9 182.6,783.7 181.8,777.9 180.4,772.6 178.8,767.6 178.1,761.6 176.9,755.2 176.2,749.1 174.6,744 173.6,737.7 173.6,732.4 172.6,726.7 172.9,720.4 171.1,715.1 169.6,709.9 170,704.6 168.3,699.9 166.4,693.6 165,687.3 165.2,681.5 164.8,675.8 162.8,671.4 161,666.7 159.3,660.5 158.4,655.6 156.6,650.7 154.1,645 152.4,639.9 150,635.2 147.9,629.1 146.1,623.5 144.2,618.3 143.1,612.4 140.1,606.5 137.9,601.5 136.8,595.7 135.4,591.2 133.6,587 131.6,581.5 129.4,576.4 126.3,571.2 123,567 121.2,562.3 M184.8,863.8 185.9,858.1 186.2,852.9 188.3,848.2 188.7,843.6 188.5,837.7 188.9,832.6 191.1,827.8 191.8,822.4 193.4,816.7 195.4,812.1 195.7,807.7 196.5,802.5 197.1,796.4 198.4,790.9 200.3,786.3 202.2,781.4 204.3,775.6 205.9,770.9 207.1,765.2 209.7,760.9 211.5,754.9 213,749.5 215.9,744.1 217.3,738.6 218.7,733 221.5,727.7 223.5,722.4 225.9,717.6 227.6,712 229.8,707.1 232.4,703.3 236.2,699.7 239.2,694.7 242.1,690 244.6,685.6 248.5,681.5 252.8,676.8 257.1,673.3 262.2,668.9 267.2,664.8 272,661.9 277.6,658.7 280.7,656.4 284.3,654.2 288.1,651.6 291.9,649.1 295.8,647.3 300.4,644.9 305.6,643.3 311.6,641.8 316.7,639.8 322.6,638.1 328.7,636.3 334,634.4 340.5,632.9 345.1,633 351.7,631.5 356.9,630.2 363.6,630.5 369.7,630.5 373.9,631.6 380,632.1 385.2,633.6 M188.6,862.9 186.4,858 183.5,852.6 182.7,846.9 181.3,842.3 179.2,837.7 177.8,831.9 176.8,826.6 174.8,821.8 172,816.9 170.5,811.4 166.9,807.3 163.6,803.5 160.1,800 157,794.9 153.3,790.1 150.6,786.7 146.2,782.9 141.2,779.9 137.9,776.2 134.8,772.7 131.2,768.9 127.4,766.4 123.4,764.5 118,762.1 112.6,759.6 107.3,757.7 102.4,757.1 97,756.8 92.1,756.7 87.4,756.9 81.9,756.3 77,755.6 71.2,755.4 64.9,756.3 M204.2,934.5 204.3,928.2 203.7,922.3 203.6,916.8 204.9,911.5 205,906.3 206,901.1 205.8,896.5 205.9,891.4 206.8,885.4 207.5,879.2 208.1,873.5 207.8,869 206.7,863.3 207.7,858.4 208,853.3 209.2,847.4 208.5,842.2 209.4,836.1 209,830.3 210.1,824.3 209.6,819.4 210.7,814.2 212,808 212.8,802.3 212.7,796.1 213.7,791.4 215.2,785.2 215.5,780.6 216.5,776.1 217.7,771 M203,934 203.4,928.6 204.9,923.7 206.8,917.8 208.6,913 210.7,907.9 211.2,902.8 213.1,897.9 213.3,892.2 214.8,886 216.2,880.5 218.4,874.5 219.6,869.4 221.1,863.9 223.6,858.5 224.7,853.8 226.8,848.2 229.3,842.4 231.5,836.6 233.3,832.1 236.4,826.4 239.7,820.6 241.6,815.2 244.7,809.5 247.6,804.6 251.1,799.6 253.7,794.6 255.3,789.6 258.8,785 260.7,780.3 264,776.2 266.2,771.9 268.5,767.5 270.8,763 275,758.3 279.3,754.3 282.4,750.9 287,747.3 290,742.8 293.3,739.5 297.6,735.6 301,731.4 306.3,727.4 311.6,724.1 315.6,721.2 319.6,719.2 325.1,716.2 330.3,714.2 335.1,711.9 341,710.6 345.3,707.9 349.5,706.2 353.6,704.4 358.8,703.7 364,703.8 369.5,702.5 376.3,701.4 382.1,701.9 M208.4,937.4 207.7,931.9 207.3,926.2 208.1,919.8 208.3,913.9 207.6,909.1 207.7,903.2 207.5,896.7 206.7,891.2 205.1,886 205,881.2 204.4,875.8 202.7,869.5 201.2,864.4 200.3,858.7 199.1,853.7 198.3,847.7 197.2,842.5 196.7,837.8 196.2,832.3 195.8,826 195.3,820.3 193.4,814.1 191.7,808.3 191.4,803.7 190.2,797.8 190.1,793.1 189.5,787.7 189.1,781.6 187.3,775.4 186.1,770.4 185.6,764.7 185,759.3 183.6,753.5 182.2,747.8 180.6,742.1 178.9,735.9 178.3,731.1 176.7,726.1 175.6,721 175.8,716 175.4,710.3 173.1,704.6 173,699.4 172.3,693.1 172.1,688.5 169.9,682.9 167.8,678.1 167.3,671.9 167.1,665.7 M183.4,883.4 183.7,877.6 182.6,873 181.2,867.7 181.2,863.3 180.7,857.3 180.3,851.2 179.4,845.1 177.4,839.3 177.6,833 175.4,827.1 174.6,821.2 174.1,815.9 173,809.8 171.1,804.1 171.2,798.4 171.3,792.6 169,786.5 167.1,780.3 165.9,774.3 163.8,769.6 161.6,763.5 159.8,758.2 157.3,752 156.4,746.1 155.7,740.5 155.2,735.6 153.8,730.2 151.4,724.2 150.1,719.6 148.7,714.2 146.5,708.1 145.3,701.9 143,696.1 140.5,691.2 139.8,687 138.3,682.3 136,676.3 134,670.9 131,665 129,660.4 127.1,655.6 124.3,650.7 123.3,646 120.4,640.4 117.3,635.8 114,631.6 111.6,626.1 109.6,621.1 106.4,615.9 105.2,611.9 103.2,607.7 100.1,603.4 96.7,597.8 94.2,592.3 91.3,586.6 89.5,582.3 86.5,577.5 82.5,572.4 79.3,568.6 75.8,564 72.1,559.9 68.4,554.6 66.3,550.7 63.9,545.8 60.5,540.6 M184.8,878.9 185.7,873.8 185.9,868.8 186,863.9 185.3,859.1 185,854.4 185.7,848.4 187.1,843.2 188.9,838 190.6,832.1 191.5,826.4 191.9,821.1 193.8,814.8 196,810.4 198.1,804.8 200,799.1 200.6,793.6 203.2,788.3 204.2,783.2 207.1,778.7 208.2,774.3 208.9,769.8 209.8,765.6 212,761 214.6,755.8 216.5,750.3 219.4,745.3 221.8,740 225.6,735.7 229.1,732.1 233.6,727.3 238,723.8 241,719.1 244.6,715.5 249.6,710.7 252.8,707.6 257.7,704.2 261.7,701.6 266.6,697.9 272.4,695.8 278.2,693.8 283.8,690.8 288.1,687.7 293.6,686.5 M184.7,880.1 184.8,874.4 185.9,868.7 185.2,863.4 183.8,858.3 183,853 181.6,848.2 180.7,843.3 181.7,836.9 180.5,831.8 180.3,825.7 179.9,820.2 180.7,814 179.3,807.7 178,801.9 177.9,796.5 177.6,790.2 177.8,784.7 177.9,780.1 177.9,774.3 176.5,768.3 176.2,763.2 175.1,757.6 174.1,752.9 174.7,747.1 175.4,742.2 174.7,737.7 173.9,732.8 173.4,728 173.4,722.7 174,716.5 173,711.1 173.4,706 172,700.7 171.3,694.3 170.6,687.9 169.5,683.1 168.4,676.8 169,670.4 169.7,664.6 168.8,659.8 168.5,653.5 168.4,648.5 167.6,644 166.5,637.6 165.9,631.8 165.7,625.3 165.2,619.5 164.8,614.7 164.4,609.8 164.1,604.2 162.4,598.9 161.3,593.7 161.3,589.1 159.7,582.7 159.6,578.2 159.5,573.2 M180.5,878.7 180.5,872.4 180.1,867.1 179.5,861.8 178.1,856.4 177.1,850.8 175.4,844.9 173.6,839.6 173.9,834.3 174.5,829.7 174.1,824.1 173.1,817.9 173,812.5 173.5,806.2 173,799.8 171.4,794.7 169.5,789.1 167.8,783.5 166,777.9 164.5,772.3 162.9,766.1 161.6,761.1 161.4,755.2 160.9,749.5 160.6,743.8 159.7,738.3 158.8,732.9 158.3,727.4 157.7,721.7 155.9,716.9 154.9,711.4 154.6,706.2 154,700.4 151.9,695.4 150.6,689.4 149.9,683 147.5,678.1 145.8,672.9 143.7,668.6 M187.3,879.9 186.1,875.5 185.1,869.3 184.8,864.4 183.9,858.3 181,852.1 178.8,847.1 176.9,842.2 175.8,837.7 175,833.2 174.3,827.2 172.6,821.3 170.1,816.9 168.7,812.5 167.2,808.2 165.1,802.2 162.4,797 159.8,792 157.4,786 156.1,781.1 153.1,777 150.9,771.9 147.6,767.1 146.3,763.1 143.4,757.9 141.6,754 138.2,748.4 135,744.2 131.5,740 129.8,736.2 126.6,730.8 124.6,725.6 121.7,720.9 119.3,717.2 116.7,712.7 114,707.9 111.4,703.8 108,699.4 103.6,695.6 100.7,691.6 96.9,688.1 93.8,683.9 89.8,680.6 86.3,676.3 83.1,671.4 80,667.3 76.7,663.3 71.7,659.9 68.6,655.9 65.7,651.9 62.7,648.3 58.4,643.6 53.6,639.7 50.4,636.2 46.4,631.8 41.1,628.1 37.8,624.4 33.7,621.9 29,619.4 25.1,617.1 19.8,614.6 14.4,612.3 10.8,609 5.9,606.7 M327.8,909.4 327.9,904.7 328.8,899.9 329.9,894.7 331.9,889.7 334.2,883.6 335.1,879.1 337.5,873.3 339.5,868.2 341.5,862.9 343.7,856.8 346.4,852 349.6,846.3 352.7,841.7 354.4,836.6 356.6,831.7 358.8,827.5 362.2,823.2 364.1,818 365.9,814.1 368.9,810.1 371.6,806.4 373.5,800.9 376.3,795.9 379.3,791.2 382.4,787.7 385,783 388.6,778.9 391.1,774.3 394,771.1 M326,911.5 327.1,906.4 328.1,901.2 328.3,895.6 329.3,889.9 330.8,884.1 332.2,878.4 334.7,874 336,868.2 337.8,862 338.3,856.9 340,852.1 341.3,846.2 342.8,841.4 344,835.3 344.9,830.4 346.4,825.7 348.9,819.7 351.6,813.7 352.6,807.6 353.3,803.3 355.6,797.2 358.4,791.5 361.3,785.9 364.3,780 365.2,775.1 367.5,769.7 370.9,764 373.1,759.3 375,755 377.8,750.7 380.9,746.5 384.6,741.1 386.8,735.4 390.2,730.8 392.8,726.1 394.9,720.7 396.8,716.8 399.3,711.4 403,707 405.5,701.3 407.9,696 410.9,691.2 412.7,685.7 414.9,680.8 418.6,675.8 421.9,671.6 425.9,668 429.7,664.5 433.4,659.7 436.3,654.5 441,651.1 444.4,646.4 448.7,642.1 451.8,638.2 455.7,634.5 460.5,631 465.2,626.9 468.9,623.2 472.6,620.4 477.5,617.6 482.7,613.4 487.5,609.6 M326.7,907.3 329.4,903.2 330.9,899.1 334.2,894.9 336.9,890.7 340.7,886.6 344.5,882.1 346.8,877.4 350.7,872.7 352.4,868.7 354.6,863.2 358.5,858.3 362.7,853.7 367.3,849.2 371.7,845.2 374,841.1 376.6,836.8 380.5,833.6 383.9,829.1 388.2,826 392.9,822.8 396.8,819.5 401.3,815.9 406.7,812.9 411,809.1 415,806.9 418.6,805.2 424.3,803.1 430.4,801 434.4,798.5 438.9,796.3 443.3,794.9 448.5,793.2 454.2,792.3 460,791.6 465.3,792 471.6,792 477.6,792.8 483.2,792.5 487.6,793.3 492.5,794.3 498.1,794.6 M187.5,869.3 186.9,864.3 185.4,858.4 184.3,852.6 184,847.1 184.5,841.6 183.2,835.4 181.6,829.3 182.2,824.4 180.4,819.6 179.7,814.2 180.1,807.9 178.8,801.8 178.6,797.1 176.6,792.1 174.9,785.8 173.6,780 171.9,775.2 171.7,769.4 171.3,764.7 171.6,759.6 170.4,754.7 170.3,749.1 168.4,742.8 168.2,737.7 167.2,733.2 166.4,727.2 165.9,721.6 165.4,716.7 165,712.2 165,706.9 164.2,701.9 163.1,697 162.5,692.6 161.2,686.8 159.5,680.8 158.3,675.5 157.7,669.5 156.6,663.8 155.5,658.3 153.2,653 152.1,647.8 149,643.2 146.3,638 145.6,633.3 142.6,628.8 141.4,624.3 140.3,619.3 138,614.1 136.9,610 133.4,605.4 130.3,599.7 126.9,594.3 123.9,588.6 121.2,582.7 119.5,578.2 116,573.7 112.2,568.5 108.7,562.8 104.9,558.4 102.7,552.8 100.8,547.7 98.4,544 94.4,540.2 M183.6,866.9 183.9,861.2 181.8,855.3 182,850.2 179.9,844.7 178.7,840.2 178,834.5 177,828.9 176,822.9 176.1,816.8 175.1,811.3 175.1,806.6 175,801.6 173.7,797.1 172.4,791.1 171.2,785.5 170.3,779.9 168.6,773.6 166.4,768.6 164.9,763.8 164.4,758 164,753 161.6,747.6 160.9,742.3 158.9,737.9 157.1,733 154.8,727.1 152.9,721 149.9,715.1 148.3,710.4 145.1,705.9 142.8,700.4 140.2,696.2 139.2,690.6 137,686.1 133.5,681.5 131.8,675.7 130.6,670.7 127.9,666.5 124.9,661.1 121.9,655.9 119.5,651.7 117.9,647.3 113.8,641.6 112,637.9 110.2,632.6 107.3,627.3 103.2,621.8 100.7,616.5 98.2,612.4 95.3,608.9 92.4,604 88.9,599.8 84.5,595.7 80.2,592.5 M185,867.5 184.9,862.3 185.7,856.9 186,851.7 186.5,846.5 186.3,841.2 186,835.6 184.1,830.6 182.3,825.4 180.7,820.8 180.5,814.5 180.4,808.7 180.2,803.1 178.2,796.7 176.9,790.7 174.8,785.3 174.3,779.1 174.4,773.3 172.3,768.7 172.4,764.3 172.4,759.5 171.3,754.3 170.3,749.1 168.6,743.6 166.4,738.2 163.9,733.2 162.1,728.2 159.5,723.6 158.8,718.4 157.8,712.8 156,706.7 153.6,701.3 152.6,696.7 149.7,690.8 147.3,686.1 144.3,680.5 141.9,674.5 140.5,669 137,664.6 135.6,660.2 133.2,654.5 130,648.7 128.2,643.1 125.8,638 123.6,633.5 119.8,628.2 117.4,622.6 114.1,618.4 110,613.9 107.4,609.8 103.5,604.5 100.9,600.4 97.6,596.1 M187.3,864.3 186.7,859.6 185.2,854.6 183.3,848.5 180.4,843.6 178.2,837.8 175.4,832.3 173.6,826.4 172,822.2 168.9,818 167.3,812.6 165,807.4 162.9,802.1 161.7,797.3 160.1,792 158.2,786.5 156.7,782.6 153.8,777.8 150.9,772.5 149.1,768.7 145.4,764.4 143.4,760.1 140.2,756 136.1,751 132.3,746 128.7,742.3 125.7,737.5 121.9,734.2 117.2,730 112.6,726.8 108.2,723.1 105.1,718.6 101.5,714.5 97.8,711.1 94.7,706.8 90.5,702.4 87,698.7 82.3,695.1 77.3,692.9 71.6,690.6 66.6,686.8 62.8,683 56.8,679.6 51.1,677.1 46.7,674.3 42.1,672.3 36.4,670.4 32.1,669.1 27.1,667.4 20.8,665 15.2,664.5 10.2,662.9 5.7,662.6 0.1,662.3 M183.5,869 183.6,863.5 183.8,858.7 182.8,853.4 181.6,848.9 179.9,843.5 179.5,837.3 178.4,832.2 177.1,827.2 176.4,822.6 176.8,817.8 175,811.9 173.4,805.7 171.5,799.7 169.4,794.3 169.7,789.5 168.8,785 168.7,779.5 166.6,774.8 166.7,770.1 167,764.2 165.8,759.8 165.2,754.1 164.6,748.2 164,742.6 163,736.3 161,730.2 159.2,724.3 157,719.4 154.4,713.5 154.1,708.8 153,702.7 151.4,697.2 151,692.2 149,687.8 147.3,683.3 145.5,678.2 144.5,673.6 141.4,667.6 139.8,663.5 137.4,658.7 134.9,653 133.4,648.3 131.4,643.9 130.2,638.1 126.7,632.5 125.5,627.3 123.7,622.6 119.8,618.3 115.9,614.3 113.4,608.8 111.6,603.7 107.8,598.1 104,592.5 101,587.2 96.6,582 94.4,577.3 92.1,572.9 88.4,569.2 85.5,564.8 81.9,561 79,556.2 74.8,552.2 71.5,547.4 68.7,543.6 65.6,539.8 62.9,535.1 58.4,530.4" fill="none" stroke="#e1e1e1" stroke-width="0.8" stroke-linejoin="round"/><path d="M239.1,896 239.3,890.8 241.5,886.1 242.5,881.2 244.7,875.9 246.7,870.2 248.2,864.4 251.1,860 254.1,854.4 255.1,849.4 257.5,843.4 259.2,838.2 262.4,832.6 265.7,827.6 268.4,823.2 271.4,817.6 274.2,812.2 276,806.6 279.9,800.8 282.7,795.4 285,789.8 288.8,785.4 290.6,780.9 293.8,775.8 296.9,772.2 300.9,768.6 305,764.9 308,760 310.6,756.5 314.2,751.9 318.8,747.4 323.8,743.5 328.8,740.4 332.1,736.5 335.6,732.4 340.1,728.7 345.3,725.1 349.1,722 354.4,717.9 358.2,714.1 364,711.1 368.9,708.8 373.8,706.1 378.9,704.4 385.1,701.9 389.8,699.1 395,696.9 400.7,695.8 406,694.2 412.4,691.7 417.1,690.3 421.5,689.2 427.7,687.3 433.1,686.8 437.7,685.8 444.3,686 450.5,686.7 455.2,687.1 461.2,687.6 466.3,687.6 470.8,687.7 475.2,688.4 480,689.9 485.5,691.2 490.5,692.8 M349.5,890.6 349.9,885.1 350.8,880.1 352.9,874.4 353,869.9 353.9,864.8 355.6,858.9 356.8,854.2 357,849.1 357.4,843 358.6,837.3 361,832.4 362.3,827.8 364.2,823.4 366.3,817.4 368.5,812.9 369.3,807.1 369.6,801.8 371,795.6 372.7,789.6 373.7,783.7 375.1,777.6 375.7,771.7 376.6,766.4 378.4,761.9 381,757 382.3,752.7 383.7,747.6 386.1,742.7 388.6,738.3 390.3,733.3 393.5,727.5 396,723.4 397.8,717.9 399.3,712.7 M343.1,890.8 345,885.8 345.4,879.5 345.7,873.2 347.2,867.9 347.1,861.7 346.9,855.9 347.1,850 348,845 348.2,839 349.2,834.3 350.2,827.9 352.1,823.1 352.4,818.5 353.9,813.1 353.8,806.9 353.8,800.7 353.7,795.1 354.9,789.9 356.3,785.2 358.8,780.5 359.3,774.7 359.3,768.8 359.8,762.6 361.5,756.5 363.2,752.2 365.7,747.8 366.1,741.9 368.8,737 370.4,732.7 371.5,726.8 373.6,720.6 376,715.3 378.1,709.6 378.9,704.6 381.3,699.3 382.7,693.8 385.3,689.2 387.5,683.4 389.9,678.8 391.4,672.8 392.5,667.9 395.8,663.3 398.5,658.1 401.7,653.2 404.8,647.6 406.1,643.5 407.9,638.3 410.8,633.1 413.9,629.2 416.5,624.1 420.2,618.9 423.9,613.8 426.9,608.9 430,604.5 432.5,600 436.1,595.3 439.2,591.3 442.4,586.5 446.4,581.3 448.8,576.5 452.6,573 456.9,568.8 461.8,565.6 M255.5,903 254.1,897.3 253.1,892.5 252.2,887.9 250.4,882.6 249.2,876.9 248.2,871.4 246.6,866.1 245.1,860 244.7,854.5 243.4,849.9 242.1,844.8 239.7,839.8 238.7,835.2 238.2,829.3 236.7,825 235.8,819.2 234.7,814.8 234.1,809.4 232.1,804.9 231.1,799.9 230.1,795.2 229.2,790.7 227.4,785.6 226.6,780.8 225.3,776.2 224.4,771.7 223.1,766.8 221.7,761.7 220.2,755.8 218.9,750.7 216.1,745 213.3,739.1 212.1,734.9 210.8,729.1 207.9,724.4 206.4,719.8 204.4,714.1 200.8,710.2 197.8,705.6 194.6,700.1 192.9,695 189.9,690.6 188.1,686.8 185.8,682.7 181.8,678.9 179,674 174.8,670.3 171.7,665.8 169.8,661.5 167.4,656.6 163.6,652.2 M249,903.1 248.7,898.6 249.1,893.3 248.8,887.8 249.5,882.2 250.2,876.6 251.5,870.2 251.5,865 252.9,859.9 254,854 254.9,847.6 256.3,842.8 257.1,837.4 257.9,832.2 257.9,826.2 258.6,821.3 258.6,816.1 258.4,810.7 258.1,806.1 257.7,801.4 259,796.7 259.7,790.8 260.4,786 262.2,779.8 261.9,774.9 262.9,768.9 263.5,763 263.9,757.2 264.5,752.1 266.2,746 268.1,740.5 269.1,734.7 270.6,728.7 272.6,724.1 273.5,718.4 274.1,713.6 274.2,708.1 276.7,701.9 277.2,696.2 278.5,690.6 M256.6,898.4 257.5,893.1 257.8,888.1 258.7,883.6 258.6,878.6 258,873.4 258.2,867.3 257.5,861.5 256.8,856.5 257.6,851.3 256.2,846.2 256.5,841.3 256.7,835.7 256.8,830.8 255.4,826.1 254.6,820.7 252.9,815.2 252.2,810.1 251.8,803.7 250.5,797.5 249.5,791.5 248,785.1 247.2,778.7 245.9,773.4 245.8,768.6 244.5,762.7 245,757.6 243.5,752.5 244,747.7 243.6,742.5 243.2,737.7 242.6,731.5 242.7,725.8 241.8,720.2 239.8,714.1 239.3,708.8 238.7,703.6 237.3,698.7 236.5,693.2 235.4,688.7 234.5,683.5 233.5,677.9 233.4,673.3 232,666.9 231.3,662 230.5,655.7 228.7,649.6 226.3,643.4 224.7,638.6 224,633.1 223.5,627.2 222.5,621.9 222.1,617.6 221.2,612 218.7,606.2 216.7,600.9 215.7,596.4 213.1,591 209.9,585.8 208.5,580.7 205.7,575.1 204.3,569.5 202.2,563.7 200.6,559.5 197.8,555.3 194.1,550.7 192.5,545.2 188.9,541 186,535.5 183.6,529.9 179.7,524.1 176.1,519.2 174.1,514.1 170.4,509.1 M252.1,897.8 250.4,892.8 250.8,887 251,882.5 250,877.9 248.6,873.2 248.9,868.1 248.1,862.4 248.2,856.1 247.5,850.6 247.7,845.4 246.3,839.5 244.7,834.3 243.6,829 242.2,823.7 241.1,819.2 241,814.7 240,809.2 238.7,804.3 236.6,799.2 235,793.8 233.1,788 231.9,783.6 230.5,777.3 228,771.7 228,766.6 227,761.5 225.2,755.9 224.1,751 222.8,745.6 222.1,741.2 219.7,736.3 217.7,730.4 216.1,724.4 214.3,719.5 213.3,715.1 213.1,709.1 211.1,704.2 210.4,698.3 209.2,694 208.2,689.6 206.9,684.3 206.3,678.7 203.4,672.6 202.3,667.3 199.3,661.6 197.3,656 196.7,650 193.8,644.2 191.8,638.6 189.6,633.5 187.5,629.1 185.1,623.5 182,619.1 180.8,613.7 178.9,609.4 175.8,604.6 174.9,599.4 173.9,594.9 171.5,589.8 170.2,585.5 168.9,580.5 165.4,575.7 162.8,570.3 161.6,565.3 159.8,560.6 158.1,556.4 156.4,552.1 M176.9,895.3 175.1,890.5 174.4,884.9 173.2,879.3 171.6,873 170.5,867.2 169.8,861.1 169.1,855.7 168,849.5 167.5,843.3 165.8,837.8 164.2,832.1 162.4,826.5 161.4,822.2 159.8,817.6 158.9,811.8 157.8,806.1 156.5,801.1 154.8,795.1 153.2,790.8 150.9,785.4 147.9,780.9 144.7,775.7 141.5,771 138.3,765.8 135.8,761.6 132.8,756.3 129.5,751.6 125.9,747.5 124.4,743.3 121.4,738.1 118.8,732.4 116.5,727.2 113.6,722.9 111.2,718.9 107.6,713.8 104,709.6 101.9,705.8 98.6,700.9 94.2,695.8 92.1,691.2 88.6,686.6 85.5,682.5 83.1,677.6 80.6,674.2 76.3,670.6 72.1,667.2 68.5,662.7 63.9,658.6 60.2,654.4 56.5,650.9 M276,922.9 274.5,916.6 274.4,911.4 274.2,905 273,899.7 273.2,894.5 273.3,888.2 271.7,883.1 270.7,877.2 270.9,871.3 271.5,866.5 270.6,860.3 270.6,855.6 271.1,849.7 271.3,844.5 270.7,838.1 270.8,832.6 270.8,826.2 270.6,820.5 270.6,815.8 269.1,810.3 266.8,804.4 264.3,798.9 262.2,793.9 260.8,789.3 258.9,783.4 258.3,778.7 256,773.1 253.2,767.3 250.2,762.2 247.5,758.2 243.8,754.2 240.8,749.8 M278,927.6 277,922.4 276,917.3 276.3,912.8 274.9,908.2 274.2,903.5 272.1,898.3 271.1,892.4 269.7,887.5 267.9,881.4 265.7,877.1 265.1,871.9 262.5,867.3 261.7,861.6 258.7,856.1 256,851.1 254.2,846.9 253.1,842.2 249.8,836.7 246.4,832.7 244.2,827.9 242.5,822.5 238.9,818.7 236.2,814.2 232.5,808.8 228.5,804.1 224,798.9 221.6,794.5 217.4,790 214.6,785.5 209.4,781.7 204.3,778 201.2,773.8 196.1,770.4 191.1,768 187,764.6 181.8,762.1 177.4,759.2 172.3,757.7 166.1,756.4 161.7,754.7 156.8,753.4 151.1,752.9 146.9,751.7 140.5,750.7 135.3,750.1 130.5,749.9 125.9,749.2 120.2,749.5 114.5,750.5 108.8,751.5 103.1,753.3 98.8,754.6 94.2,756 M157.4,867.8 155.4,862.7 154.3,858.1 153.3,852.1 150.7,847.1 148.6,842.8 147.5,838.6 145.3,834.4 142.1,828.4 140.9,824.3 138,819.6 135.6,815.5 133.9,811 132.3,806.8 129.3,801.3 125.3,796.5 121.7,792.7 118.3,787.6 113.8,783.7 111.4,778.8 107.6,775.4 104.8,771.5 100.7,767.8 97,764.1 92.9,759.9 88.2,756.8 83.3,752.6 79,749.6 74.3,747.5 69.8,744 63.9,741.1 57.7,738.2 51.8,736.4 47.5,734.2 42.9,733.4 36.3,731.7 30.1,730.6 24.4,728.9 19.4,728.9 13.6,728.8 7.9,727.7 2.9,727.1 -3.6,727.9 M154.8,871.7 152.6,865.9 152.5,860.2 151.7,854.2 151.6,848.2 151.6,843 149.1,837.4 148,831.3 146.9,826.3 144.1,820.3 142.9,814.1 141.5,808.1 140.5,801.9 138.7,795.9 136.6,791.7 134.2,786.8 133.6,781.9 131,776.4 127.8,771.7 125.4,767.4 123.4,762.5 121.9,757.8 120.8,753.5 118.4,749.1 114.6,744.6 113.1,740.2 110.4,735.3 107,730.5 103,726.1 99.6,720.8 97.3,715.8 94.5,710.5 91.9,706.8 87.8,701.9 85.3,696.5 82.7,692.9 79.4,688.3 76.1,684.9 73.7,680.7 69.4,675.7 M283.1,902 282.8,897.3 283.6,892.1 284.1,886.7 285.4,880.5 285.9,874.3 286.9,867.9 286.7,862.3 285.5,857 285,851.3 283.7,845.3 282.5,839.9 282.4,833.7 282.7,829 283,824 283.2,818.7 284.3,813.3 283.6,808.1 284.6,802.9 283.8,797.4 284,791 282.7,785.8 283.1,780.4 283.3,774.5 282,769.9 280.8,764.8 279.7,759.8 278.3,755.2 278,749.2 276.7,744.5 276.9,739.9 275.5,734.4 274.5,728.4 274,722.9 273.1,718.3 273.3,713.1 273.5,708.4 272.7,702.9 271.1,698.3 271.5,692 272,686.4 271.8,680.8 270.9,676 270.4,670.7 269.9,666.2 268.4,661.5 268.1,656.2 266.4,650.2 M279.6,902.1 280.8,895.9 281.4,891.4 283.9,885.7 285.3,881.5 288.3,875.4 291.6,870.3 292.9,864.8 295.8,859.3 299.1,854.4 303.1,849.8 305.9,844.8 309.8,840.1 314.2,836.2 318.7,831.1 321.9,827.9 326,823.7 331.1,819.8 335.9,815.7 339.4,812 343.7,809.4 347.8,806.7 353.2,804 357.7,802.5 363.5,799.9 369.6,797.6 373.8,796.6 379.1,795.9 385.4,795.8 389.6,795.6 394,796.6 399.7,796.9 405.2,798.6 410.8,799.9 415.5,802.1 419.6,804.3 424.2,806.7 429.3,810.1 433.9,813.9 438.6,818.2 M282.5,903.3 280.9,898.1 279.6,891.6 280.4,885.8 281.2,879.8 281,873.6 280.6,868.4 281.5,863.4 280.7,858.3 280.5,852.9 279.6,847.3 278.3,841.1 278.9,836.1 277.2,831 277.8,824.6 276.2,818.9 275.9,812.9 275.1,808.1 274.8,802.1 273.7,797.1 272,792.5 270.4,787.1 270.5,781.5 269.8,776.3 268.7,770.4 268,765.2 266,760.7 264.8,755.4 263,749.9 261.1,745.2 260.6,739.7 260.5,735.4 259.1,729.5 256.6,724 254,718.5 252.4,713.4 249.9,707.7 247.9,702.8 245.9,697.2 244.4,692 243.3,687 242.4,681.9 240.7,677.4 238.4,671.4 235.1,666 232.8,660.6 231.7,655.3 228.5,650.1 226.1,644.3 223,639.1 220.6,635.2 217.2,630.2 214.6,626.2 211.3,621 209.7,615.7 207.3,610.9 204.3,606.8 202.3,602.5 M257.5,843.3 256.1,837.7 257,832.6 256.1,826.9 255.2,822.2 253.9,816.5 254.7,810.4 254.8,804.2 255.5,799.1 255,792.7 255.9,786.9 255.9,781.7 254.6,776.6 253.6,770.8 253.6,765.1 254.3,760.6 253.2,755.9 252.4,749.6 251.9,743.5 250.6,738.3 250.8,733.3 250.8,727.6 250.6,723.1 249.6,716.6 248.6,711.6 249.2,706 248.9,700.6 248.4,695.4 246.9,690.4 245.3,684.5 243.3,679.9 242.2,673.5 241.9,667.8 241.4,663 240.2,658.6 239,654.2 236.7,649.6 234.9,644.3 232.7,639.9 230.2,633.7 229.9,627.6 227.3,622.9 226.6,618.7 223.9,613.2 223.2,607.1 222.2,602.4 220.8,596.4 219.7,590.3 M259.7,839.8 259.1,833.3 258.8,828.7 258.2,823.5 258.4,818.2 257.9,812.8 257.9,807.9 258,802.3 258.3,796.3 258.2,791.4 259.4,786.6 259,781.3 258.9,776.4 259.9,771.3 260.1,765.6 259.3,760.2 258.4,754.6 259.2,748.4 260.4,743.7 260.5,737.9 260.3,731.5 260.4,725.2 259.5,720 260.2,713.8 260.4,707.6 261.3,702.3 262,696.7 261.3,690.4 262.4,684.1 262,678.1 261.1,672.6 260.8,667.1 260.8,661.5 261,655.5 261.7,650.5 261.3,645.5 261.2,640.2 261.7,634.1 263.3,629.1 263.2,623.6 262.4,617.9 261.7,612.2 262.4,607 264.2,601.9 263.4,597.2 263.3,591.2 264.5,586 266.1,581.3 266,575.6 266.8,569.6 266.9,563.3 268,557.5 268.9,552.6 269.8,546.3 269.3,541.2 269.6,536.2 271.1,530.5 271,524.7 272.9,520.1 272.6,514.5 274.5,509 275.5,503.7 276.6,497.5 277.9,491.6 278.9,485.4 280.7,480 281.3,475 283.7,469.4 283.7,464 284.8,458.4 285.4,452.2 286.7,446.2 287.4,440.1 288.8,434.7 M180.1,861.7 178.1,856.6 175.9,850.8 173.9,844.6 172.5,839.6 171.6,834.6 171.1,829.6 171.1,825.2 168.8,819 168.1,814.1 167.2,809 166,804.1 164.8,798.5 164.3,793.7 163.1,788.2 162.6,782.9 162,776.8 160.3,771.7 159.9,766.3 158.3,760.5 156.9,755.2 155.6,750.5 153.5,746.3 152.2,740.4 151,734.3 149.7,729.9 147.2,724 144.2,718.1 142.8,713.7 139.9,708.2 138.1,704.1 135.9,699.7 134.5,694.7 130.9,689.9 127.2,684.2 125.7,678.8 121.9,673.1 118.6,667.9 116.7,663 112.9,658.7 110.8,654.8 107.6,649.2 104.5,645.2 101.9,640.9 99.6,636.5 97.4,631.3 93.4,626.7 M181.2,864.3 180,859.6 180.2,853.6 179.2,848.8 178.6,843.4 177.2,838.7 177.5,833.4 177,827.5 176.4,821.5 176.4,816 176.6,810 175.6,805 175.7,799.4 174.5,793.3 174.9,788.8 174.3,782.7 173.1,777 170.9,771.9 168.9,766.8 168.5,761 168.2,755.6 167.5,751.1 166.1,745.9 165.7,740 165.6,734.2 165.1,729.5 163.1,723.7 161.1,717.6 159.6,712.5 157.3,706.6 154.8,701.4 154.4,695.9 154,691 152,685 151,680.6 M145.3,887.9 144.1,881.9 144.9,876.4 144,870.4 142.9,865.6 141.9,860.2 142.4,855 141.9,849.9 141.6,844.7 140.5,839.1 139.9,832.9 141.1,828 141.8,823.1 142.7,817.7 143.6,812.1 143.8,806.7 144.1,801.5 144.5,796 143.7,790.5 143.3,784.4 142.9,778.7 143,773 141.7,768.4 140.7,763.7 139,757.4 138.7,751.2 138.8,746.6 137.3,741.3 135.8,735.7 136.3,729.6 135.1,723.5 134.5,718.8 132.9,712.7 133.2,708 131.3,702.9 129.6,697 127.6,692.3 127.8,687.7 127.5,682.1 125.5,676 123.6,670.2 122.9,665.7 121.6,660.8 119.3,654.9 118.3,649.6 118,644.5 117.2,639.5 115.3,633.6 113.7,627.5 112.1,623.2 111.5,618.5 109.3,613.7 106.8,607.7 104.4,602.9 102.5,598 99.9,592.5 98.4,587.9 96,582.8 94.7,577 M149.5,889.5 147.4,885 145.6,879.1 143.8,873.8 141.1,869.4 138.5,864.6 136.3,858.7 133.6,854.1 132,848.2 129,843.6 126.4,839.6 122.8,834.5 119.6,830.2 117.8,825.4 115.2,820.4 113,814.8 111.2,810.9 108.8,807.3 104.7,803.3 100.4,799.6 96.4,794.6 93.7,790.3 90.2,785.6 86.8,782.4 82.8,779 78.9,774.2 74,770.8 70.1,766.9 65.4,763.6 61,759.4 55.4,755.4 51,751.4 46,748.2 40,746 35.6,743.8 30.7,740.4 25.8,737.8 20.9,736.3 16.9,734.7 10.5,733.2 4.9,732.3 -0.6,732 M143.1,884.4 143.1,878.2 142.8,873.2 142.8,867.7 142.1,862.7 142.1,856.5 141.1,851.3 142,846.7 142.2,840.9 143.2,834.8 143.1,829.8 142.2,824.9 142.7,820.3 142.4,813.9 141.3,808.5 140.1,803.6 140,799 138.8,794.4 137.5,788.7 135.7,783.8 134,777.6 131.9,772 131.2,766.3 130.1,760.8 129.4,756 128.5,749.9 126.2,745.3 125.7,739.9 124.6,734.1 121.5,729.9 119.5,724.9 117.6,719.6 116,714 M236.8,930.7 238,925.1 238.5,919.7 238.3,914.5 239.7,908.2 240.2,902.2 240.5,897 241.8,890.9 241.9,885.5 242.6,879.2 243.9,873 244.9,866.6 246.4,860.9 247.7,855.4 249.9,850.6 251.6,844.8 253.2,839.1 254.6,833.8 257,828.9 259.8,824.5 261.3,819.3 263,813.1 264.6,807.8 265.6,801.9 267.6,797.6 269.8,792.4 271.7,786.3 273.4,780.3 275.3,776 277.2,770.3 278.6,765.8 280.9,760.1 284.2,755.3 286.3,749.6 288.4,744.2 290.6,740.1 294.1,735.6 297.8,731.8 301.8,726.3 304.5,722.6 308.4,718.4 312.7,714.3 315.1,709.9 317.5,705.3 322,700.5 326.7,697.2 330.9,693.3 334.2,690.3 M239.7,929.7 239.9,924.6 240.4,919.7 240.2,913.7 238.9,908.7 237.5,903.5 237.4,898.4 237.9,891.9 238.2,886.6 236.6,880.6 236.2,874.8 235.8,868.5 236.2,862.2 236.2,856.8 236.2,851.9 236.1,847 236.7,841.4 236.2,836.6 234.8,830.5 233.6,825.7 232.1,820.2 230.5,813.8 229.9,808.6 228.7,803.4 228.6,798.6 227.2,793.7 227,787.5 225.2,782.1 224.3,776.2 224.5,771.7 222.8,765.8 221.2,761.2 220.9,755.9 218.8,750.9 217.1,746.2 215.9,741.9 213.6,735.6 212.3,730.6 211.7,725.5 210.8,720.5 210.5,715 208.3,709.4 207,704.2 206.3,698 205.6,691.8 204.6,687.4 201.4,682.3 198.5,677.3 197.7,671.3 196,666.9 192.7,662.7 191.8,658.5 188.9,653.1 187.1,647.1 185.3,641.5 182.9,636.1 180.3,632.1 178.6,628.1 175,623.4 171.8,617.8 168.9,612.6 165.7,608.6 162.3,603.1 159.9,598.5 157,594.6 153.5,589.9 150.9,586.1 148.9,582.4 144.8,578 140.5,572.7 136.8,568.7 133.4,563.8 130,559.5 126.5,556.1 121.9,552 117.9,547.5 113.4,543.5 M234.9,932 236.1,927.5 236.9,921.5 237.5,916.8 237.2,910.8 236.5,905.9 236.6,901.1 236,896.3 235.4,891.6 235.3,886.4 234.4,881.5 234.3,876.9 233.9,872.3 234.7,867.6 234.7,862.8 235.3,856.4 236,851.7 235.4,846.9 236.5,842.2 237.4,836.2 238.4,830.8 238.4,825.6 239,820.1 239.8,814.8 240.9,809.1 240.5,803.7 240.1,797.4 239.1,792.1 239.2,786.4 238.5,780.6 237.8,775.5 237.6,770.9 239.2,766.3 240.6,760.4 242.1,754.7 242.5,749.4 243,744.2 242.6,738.5 243.7,732.1 245.2,726.4 244.9,720.8 244.5,714.6 245.6,709.4 245.6,703.1 245.9,698.5 246.9,693.2 246.4,687 246.2,682.1 246.9,677.2 247,671.8 248.7,666.1 249.2,660 250.9,653.7 250.4,647.6 251.8,641.8 253.1,636 253,629.7 254.5,624.8 255.4,619.9 255.5,614.2 255.4,609.8 256.5,604.1 M254.2,909.8 253.5,903.6 253.9,898.3 254.7,892 253.5,886.4 254.1,881.5 254.6,876.4 254.9,871.2 255.5,864.9 254.7,860.4 254.4,854.8 253.2,848.5 252.4,843 251,837.1 250.3,832.4 250.7,827.4 248.9,821.5 247.9,815.4 246.7,809.9 246.3,803.7 244.5,799.1 243.3,794.4 243,789.3 241.4,784.8 239.6,779.7 237.6,775 235.7,769.2 233.3,763.9 232.1,759.5 231.4,753.8 229.1,749.4 226.2,743.4 223.2,738 221.6,732.5 219.5,727.5 217.4,721.9 214.2,717.2 212,712.4 210,707.6 208.8,703.2 207.5,699.2 205.8,695.2 202.6,690.5 200.9,686.4 198.1,681.1 195.2,676 193.5,670.8 189.8,666.6 M258.8,910.4 259.8,904.3 260.8,898.8 261.1,893.8 261.4,889 263,884.2 264.1,878 263.5,873.1 265,868.6 264.5,862.2 264,856.2 264.5,849.8 265.6,844.8 266.9,840.1 267.4,834.6 269,828.8 270.2,822.9 269.8,817.8 271.3,812.1 272.7,805.9 272.9,801.1 272.8,794.9 273.8,788.7 275.2,783.3 275.2,777.5 277.4,771.8 277.9,765.8 279.2,760.2 280.1,754 280.7,749.1 281.4,743.7 282.3,737.4 284.3,731.4 285,727 286.8,720.9 288.6,714.7 289.2,709.3 291.1,703.9 293.4,698.2 295.9,692.8 297.1,686.7 298.6,682.4 300.9,677.9 302.8,672.5 304,666.5 305.5,661.3 306.7,655.4 308.4,650 311.9,645.1 313.6,640.7 M250.5,903.9 249.9,899.3 249.3,894.6 247.8,888.5 248.3,882.8 247.8,878 246.8,871.8 244.8,866.6 243.2,861.7 241.4,855.8 240,849.5 238.4,843.6 237,837.7 234.7,831.4 232.8,825.5 231.1,821.1 229.8,816.6 229.2,811.8 226.6,806.4 225.3,800.9 224.3,796.5 223.7,790.6 222.6,786.4 220.3,781.8 219.4,777 217.2,772.5 215.9,768.1 213.7,762.5 211.2,758 209,753.6 207.3,747.9 204.3,743.9 201.5,739.9 199.9,734.1 M247.9,906.5 247.7,900.5 247.4,894.4 248.6,888.5 249.6,882.9 248.5,877 248,870.9 249.1,865.5 249.7,860.9 250.1,855 251.4,850.4 250.8,844.4 251.4,839 252.9,834.4 254.3,829.7 254.1,823.9 253.5,817.9 253.6,811.8 254.5,806.8 256,800.5 257.6,795.9 258.4,791.4 259.3,786.4 260.5,780.3 262.4,774.3 262.6,769 263.9,763.3 266.4,759 269.1,754.1 269.7,748.7 271.7,742.6 274.6,737.6 277.5,731.8 279.9,727.1 282.7,721.5 285.9,716.5 287.8,711.2 M249.7,909 249.7,904.1 250.4,899.2 251.3,893.7 252.8,887.7 252.9,881.6 254.6,876.3 256,870.3 256,864.8 256.3,860.3 258.5,854.1 258.6,849.3 260.5,843.4 261.2,838 262.6,832.7 263.2,826.4 265.8,821.6 268.4,816.8 269.1,811.5 270,806.7 270.4,800.6 272.7,794.4 274.2,788.4 276.6,782.5 277.4,777.5 279.4,773 280.8,768.2 281.6,763.2 283.6,757.9 285.6,752.2 287,746.4 290,741.2 291.4,735.1 294.4,729.3 295.8,724.5 297.1,720 299,715.7 301.4,710.3 303.1,705.2 305,700.3 306.5,694.6 310.1,689 312.3,684.4 315.5,679.4 319,675 321.3,671.2 323.8,667.4 325.8,662 330,658.2 332.9,652.9 334.9,647.3 338.3,642.5 M242.2,864.8 242,860.3 240.7,853.9 240.5,849.3 239,844.8 238.2,838.7 237.2,834 236.1,828 235.9,821.8 235.9,816.6 235.9,811 236.4,804.7 235.5,799.9 235.4,794.5 235.2,789.3 233.9,783.2 233.9,777.2 233.8,771.1 233.8,766.2 233.8,761.4 231.9,755.7 230.2,751.1 230.4,745.7 230.3,739.7 228.1,735 227.4,728.7 227.1,723.8 227.2,718.5 225.9,714 225.3,709.6 223.9,704.4 221.7,699 220.3,693.2 220.1,688.5 218.6,682.5 216.6,677.4 215,672.7 212.9,667.8 210.2,663.5 209.3,658 208.7,652.1 206.1,647.6 204.7,643.2 202.8,638.6 M244.2,869.8 245.3,864.9 245.7,858.5 246.4,852.1 247.4,846.6 248.1,841.5 248.8,835.2 250,830.4 250.7,825.1 250.2,819.1 251.6,812.8 252,808.2 253.5,802.9 253.1,797.7 254,793.2 253.3,788.6 252.7,782.5 252.2,776.1 252.3,769.8 252.5,764.4 252.6,758.6 252.3,753.3 252.1,747 253.5,742.1 255,736.3 256.7,731.1 258.9,725.4 260.7,719.3 262.7,713.5 265.4,708.5 266.1,704 268.7,699.1 269.6,694.6 270.4,690.2 273.2,685.7 275.4,680.3 279,675 280.1,669.6 282.9,664.8 284.8,660.2 M239.8,865.5 239.2,860.1 239.2,853.7 239.1,849.1 238.2,843.2 238.4,837.5 239.8,832.4 239.2,827.1 240.5,820.8 240.9,814.8 240.7,809.4 240.1,803.7 241.1,798.1 242.3,793.1 243.4,787.2 244.6,781.6 244.4,776.4 245.3,771.3 246.9,765.4 248.5,760.1 249,754.1 250.6,749.4 252,743 252.1,737.8 251.5,732 251.8,726.7 251.5,720.6 250.9,714.3 250.4,708.9 250.4,704.3 249.9,699.6 249.2,694.7 249.4,689.1 251.1,683.6 252.7,678.3 254.3,673.4 254.8,668.5 255.2,663.1 257.3,657.1 257.9,652.1 259.4,646.4 261.5,640.1 261.3,633.9 261.2,628.9 261.7,624 M321.8,911.8 323.5,905.9 325.2,900.6 327.4,895.6 330.6,891.2 332.1,886.9 334.4,882.4 336.4,878.3 339.5,873.9 342.9,869.9 345.6,866 349.7,862 352.6,858.5 356.3,854.7 360.4,850.8 364.5,846.7 369.5,843.4 374.4,840.3 378.7,836.3 381.7,833.2 385.9,830.6 391,828.2 395.4,825.8 400.6,822.5 406.2,819.8 411.4,816.5 416.1,813.2 420.7,811.3 426.8,810.1 M328.2,915.6 328.4,910.8 329.1,905.3 329.9,900.7 330,894.8 330,890.1 331.3,885.2 333.3,879.7 333.5,874.1 335.5,868.6 335.5,863.1 337.9,857.8 340.6,852.9 341.7,846.7 344.5,841.6 344.9,837.3 347.6,833.1 349.3,827.1 350.3,821.8 352.8,816.7 354.7,811.7 358,806.5 361.2,802.6 363.4,798 365.3,792.6 367.2,788.3 369,784.1 372.6,779.1 375.6,774.3 378.4,769.7 380.6,765.1 383.6,760.6 387.3,755.9 390.9,751.3 395.3,747.8 M327.8,917.8 329.1,913.1 331.1,908.4 331.8,902.8 333.3,897.9 333.4,892.3 335.5,887.3 335.9,881.2 336,875.8 337.6,870.8 340,865.8 341,860.8 341.8,855.8 344.4,850.4 346.9,844.8 349.5,839.1 351.1,833.7 352.2,828.8 353.6,823.5 356,818.5 357.5,814.3 358.8,810.3 361.8,805.3 364.7,799.7 367.9,794.1 371.5,789.3 374.7,784.2 378.3,779.1 382.1,774 386.5,769.1 389.3,765.2 M212.1,865.8 212.4,860.2 212.5,854.6 212.2,848.4 211.1,842.2 210.8,836.1 211.6,831.3 210.2,825.1 208.7,819.5 207.4,814.2 207.5,808 207.8,802.7 208.3,796.9 208.7,791.2 206.9,785 206.3,779.4 206.4,773.1 205.6,767.6 205,762.4 203.2,756.3 201.6,751.6 199.4,745.7 198.4,739.9 197.5,734.1 197.2,729.8 195.4,724.9 193.7,720.4 193.4,715.5 192.2,711 190.9,705.4 188,701 186,695.3 183.2,690.1 179.9,685 179,680.5 176.8,675.6 173.4,671.4 171.3,666.7 169,662.3 166,658.2 163.8,652.6 162,648.3 158,642.7 M204.7,848.1 204.1,842.5 204.2,836.5 202.6,830.7 201.3,824.5 200.6,818.9 199.2,812.9 197.8,806.9 197.5,801.5 197.3,795.5 197.6,790.3 197.7,785 196,779.8 196,775.1 195,769.8 193.8,764.3 192.2,758.6 191.1,753.3 189.2,748.1 187.7,742 186.2,736.3 186.8,731.2 186.8,726 186.7,720.8 186.6,715.4 185,710.6 183.6,704.5 182.8,698.8 181.5,692.5 180.5,687.1 181,682.2 180.9,677.5 179.1,671.4 177.9,665.6 177.9,660.8 176.4,656.2 176,650.3 175.6,645.5 174.3,640.5 173.9,635 172.1,629.1 171.7,623.9 171.6,618.3 170.3,613.5 169.8,607.3 169,602.1 167.2,597.2 165.7,591 163.9,586.6 163.6,580.4 163,574.3 161,569.8 M200.5,841.2 199.9,835.6 200.2,831 200.7,825.3 199.2,820.1 198.6,815.2 199.3,810.1 197.8,804.8 196.8,798.7 195.5,792.7 195.4,786.6 196.1,780.7 195.9,775.9 196.1,770.8 195.8,765.3 195,759 194,754.3 193.6,749.2 193.6,744.6 192.9,738.5 193.5,733.6 194,727.8 192.8,721.6 192.9,716.2 193.3,710.7 192.8,705.1 193.2,700 191.4,693.9 190.3,688.8 189.9,683.1 188.7,677.1 187.5,670.7 187.9,665.3 188.1,660.2 187.2,654.1 186.8,649.6 186.7,643.5 185,638.6 184.8,632.9 183.1,627 182.3,622.4 181.4,617.8 180.7,612.4 179.7,607.6 177.7,602.9 175.5,596.8 172.9,592.1 170.3,587.5 169.7,582.3 168,577.5 166.6,571.2 164.1,565.2 161.6,559.2 160.5,554.4 158.5,548.4 156.3,543.5 154.7,537.8 153.9,531.7 152.9,526.1 151.6,521.9 149.1,517.6 M312.9,878.8 314,873.1 314.2,867.9 314.9,862.2 314.4,855.9 315.7,850.1 316.3,843.9 317,838 317.3,833.3 319,826.9 320.1,821 319.7,815 321.2,809.9 321.5,805.3 322.3,799 324,793.6 326,788 326.1,782.8 328,777.2 328.3,772.4 329.9,767 330.5,762.2 330.9,756.1 333.1,750.2 335.2,745.8 335.7,740.1 337.7,734.2 340.2,729.2 342.4,723.1 343.2,717.7 345.3,712.6 347.9,707.8 349.3,702.3 352.8,697.4 356.3,691.8 359.1,686.2 361.4,681.7 364.2,677.1 366.2,673.2 369.6,669.2 M330.9,879.4 330.7,873.8 331.2,868.7 330.3,862.3 329.6,857.3 329.3,851.3 327.9,846.3 327.9,841.5 326.1,836.5 324.5,831.5 323.8,827 323.4,821.8 323.3,817.3 321,812 320.9,806.1 320.8,801.3 320.6,796.9 319.5,791.3 316.9,787 315.6,781.5 313.8,775.6 310.8,771.5 309.3,767.2 305.7,761.8 302.5,757.8 299.5,753.1 295.3,747.9 290.7,744.5 287.5,741.4 283.4,738.1 279.6,735.3 274.5,731.1 270.6,727.9 266.4,725.7 M341.7,891.3 343.4,885.6 343.2,880.6 345.1,874.3 345.6,869.3 345.3,863.6 345.3,859 347.2,854.2 348.7,849 350.2,843 351.3,836.6 351.7,830.6 352.4,825.7 352.3,819.6 352.2,814.1 353.8,808.2 354.4,803.8 355.2,799.2 357.4,794.3 358.6,788.2 359.6,783.5 360.1,779.1 360.8,774.6 362.6,769.4 363.3,763.6 364.8,757.6 366,751.5 367.7,745.5 369.3,741 371.2,734.8 371.7,729.7 373.7,723.8 375.5,718.6 376.7,713 377.3,707.3 378.9,702.8 379.6,696.8 381.3,691.3 384.1,686.8 M339,889.8 340.3,883.7 342.6,877.5 344.1,871.5 345.9,866.6 347.9,861.9 350.6,857.6 353.5,853 355.1,848.6 357.1,843.5 360.1,839 363.5,834.2 365.2,830.1 366.4,826.2 368.9,820.6 372.6,814.8 375.7,810.6 379.5,806.1 382.9,802.3 386.1,797.5 388.1,793 392.1,789.7 396.2,785 399.3,781.6 403.5,776.7 406.8,772.5 409.8,768.6 413.7,764.3 418.7,761.5 422.9,757.9 426.9,755.3 M357.9,879 359.3,873.8 360.5,869.2 361,864.1 361,859 362.1,853.8 364,848 364.1,843.1 365.9,838.2 367.9,833.2 367.9,827.9 369.3,822 369.6,816.5 371.3,811.8 372.1,805.7 374.8,801.3 377.3,796.5 379.1,790.6 381.4,784.7 383.7,778.8 385.9,773.8 388.7,768.3 390.1,764.2 393.1,758.1 395.9,752.6 399.1,746.7 401.8,740.9 404.4,736 407.9,730.5 411.7,726 415.3,720.3 418.9,716.2 421.2,711 424.3,707.1 M356.7,879.1 357.1,873.6 357.1,867.6 356.6,863.1 356.5,857.2 356.3,852.4 357.3,846.8 359,842 358.9,837.5 359.6,832.8 360.9,826.4 360.5,821.1 360.1,814.7 359.8,809.8 360.4,804 362.1,798.6 361.9,793.9 363,788.7 364.1,782.3 366.4,777.5 367.9,772.3 369.3,766.3 370.1,761.1 371.9,755 372.9,749 374.1,744.3 375.9,739.9 377.6,735.5 380,729.2 382.8,724.9 384.8,719.3 387.5,714.6 390.3,708.9 392,704.3 394.9,699.4 396.7,694.5 398.2,690.5 399.4,685.9 M359.2,881.9 361.2,876.3 363.3,871.9 363.6,866 364.3,860 364.4,855.1 364.8,850.3 365.4,845.4 367,839.1 369.3,833.1 369.6,828.2 371.3,822.4 374.2,818 376.3,812.9 378.6,807.9 379.4,803.2 382.6,798.7 385.8,792.7 387.9,788.3 391.1,783.5 392.6,779.3 394.6,773.7 398,769.5 401.1,765 404.3,760.7 408,756.5 410,752.5 412.3,746.9 415.7,742 M155.8,902.6 155.1,896.4 153.4,891 152.2,885.5 152.2,879.1 152.6,873.8 152.6,867.7 152,861.4 150,856.5 148.7,852 148,846.8 146.7,842.3 144.6,836.3 143.8,831.3 143,825.6 142.4,820 141.9,814.2 141.3,808.2 140.9,802.4 139.1,797.3 137.2,792.8 135.4,787.5 134.6,781.9 134.4,777 133.6,771.6 132.4,766.5 130.3,762.1 129.3,756.6 127.6,751.6 124.8,747.1 122.7,742.6 120.1,737.1 118.5,732.1 115.5,727.8 114.2,723.1 111.9,717.7 108.6,712.9 105.5,708.4 102.6,704.3 99.6,700.3 96.4,694.6 92.9,690.4 90.2,685.6 87.5,680.5 83.6,676.6 79.4,672 75.1,668.1 70.6,664 68.1,660.1 65.6,655.7 62.9,651.4 60,648 57.4,644.6 53.2,640.4 49.4,635.7 45.3,631.4 41.3,627.5 36.7,624.5 M153.7,903.7 153,898 154,892.8 152.7,886.8 151.4,881.7 152.3,875.5 151,869.7 150.3,864.3 150.7,859.5 150,854.9 150.1,849.8 148.6,845.3 148.6,840 148.5,834.6 147,829 146.5,824 145.5,819.3 145.8,813.3 145.2,807.8 144.1,802.6 144.1,796.4 142.4,789.9 141.3,784 141.1,778.9 141.2,772.6 140.9,766.6 141.2,760.5 139.4,755.9 137.7,751.2 135.7,745.7 134.6,741.1 132.8,736.1 133.1,730.5 132.6,724.2 132.8,719.4 132.7,713.8 132.2,709 131.4,703.4 130.7,698.7 128.3,693.5 128.1,688.5 128,683.7 126.8,678 124.7,673.3 122.7,667.1 121.8,662.5 121.1,658 120.1,652.4 117.3,647.6 116.7,641.5 114.1,635.9 111.7,630.7 110.6,626.2 108.1,620.2 105.2,615.5 103.8,609.7 102.3,605.7 98.9,600 M153.3,904.1 153,899.2 150.9,893.5 149.6,889 149,884.2 148.3,878.1 147.5,873.5 146.6,869.2 145.6,864.6 142.6,860.3 139.5,855.1 137.6,850 134.9,844.8 131.2,839.8 129.4,835.8 126.2,831.9 124,826.7 119.7,821.9 115.6,818.2 111,813.7 106.3,810 102.2,806 98.5,801.8 95.3,798.9 92,795.7 88.6,793 84.1,789.1 80,786.2 75.8,782.3 71.1,779.2 65.9,776.5 60,774.1 54.5,772.8 48.8,770 M158.3,903.4 158.8,898.2 158,892 158.1,886.9 158.2,882.2 158.1,876.6 156.1,870.7 156.2,865.8 156.2,861 155.4,855.2 154.2,849.4 154,843.6 153.8,838.8 153.2,833.6 150.8,827.6 148.1,822.6 145.6,817.4 145,812.1 144.3,807 142.9,802.3 140.2,797.1 137.6,791.4 134.7,786.5 132.9,781.6 129.8,776.2 127,770.3 125.5,766 121.9,761.8 119,757 116.8,752.1 113.9,746.7 112.2,742.8 109.1,738.4 107,733 104,728.7 101,723.8 98.7,719.6 94.5,714.5 91.4,710.2 86.4,705.8 81.4,702.7 77.3,698.1 74.3,693.5 70.6,689.9 66,687 M315,869.6 316.2,863.7 315.9,858.3 317.2,853.3 317.2,847.7 319.1,841.7 320.9,836.5 321,831 321.6,826.1 323.3,821.1 325,816 324.6,810 324.7,804.2 325.5,799.6 327.6,795.1 329.5,789.3 330.1,783.8 330.9,779.1 331.2,774.5 333,769.1 334.4,763.1 336.4,757 336.7,751 337.3,746.4 338,740.6 339.8,735.3 340,729.1 341.9,724.2 344.1,718.1 345.2,712.6 346,707 348,701.9 350.2,697.4 351.4,691.5 353.7,687.2 355.3,681.4 356.8,676.1 357.5,671.7 360.5,667.3 361.9,662 364.1,656.6 M309,870.1 309.8,864.4 311.4,858.2 310.9,853.5 310.4,848.6 311.9,842.8 311.8,837.7 313.1,832.2 315.3,826 317.4,820.7 317.7,816 318.9,810.8 319.2,804.6 319.4,798.5 319.8,793.7 320,787.5 321.2,782.8 321.5,777.7 322.3,772.8 323.2,768 324.1,762.7 325,757.3 328.2,753 331.5,748.3 333.3,743.4 336.8,738 339.3,733.9 342.2,729.2 343.9,724 347,719 351.1,714.2 353.9,709.5 357.1,705.8 359.3,701 361.6,696.5 364.7,691.4 M159.5,875.8 159.9,869.5 159.5,863.4 160.1,858.1 160.4,853.4 160.1,848.1 159.3,841.6 159.8,835.3 158.6,830.2 157.3,825 157,818.5 156.3,812.6 156.2,807.8 154.8,801.9 153.3,796.2 151.6,791.7 152.1,786.5 151.9,780.6 151.7,774.3 152,769.1 150,762.7 149.4,756.4 148.9,750.7 147.1,745.1 145.3,738.8 144.9,734.3 142.6,728.5 140.1,722.2 137.6,716.8 137.2,711.7 136.8,706.2 134.3,700.1 133.1,694.6 131.6,690.3 128.9,685.5 126.3,679.5 125.3,673.8 122.6,669 119.3,663.6 M157.7,869.6 157.2,863.2 157.2,857.4 157.8,852.4 156.9,847.1 156.8,840.9 157,835.5 156,830.8 155.5,825.1 154.6,820.4 154.6,815.4 154.9,809.2 154.7,804.6 154.5,799.8 154.9,795.1 155.4,790.6 156.5,784.8 157.5,779.1 159.2,773.4 159,768.4 159.4,763.6 160.5,757.5 160.6,752.7 161.2,747.3 162.1,741.1 162.2,736.6 164.1,730.3 164.8,724.4 166.8,719.4 167.5,713.9 167.9,708.5 170.4,702.7 170.7,697.3 171.6,692.7 173.4,688.2 175.6,683.2 177.7,677.2 178.8,672.7 180.3,668 183.6,663.5 186.5,658.6 188.5,653.2 191.5,647.8 M161.3,863.6 160.8,858.5 160.6,853 162.3,847.1 161.9,840.9 163.5,834.8 164,829.3 164.9,823.8 166.3,819.2 168.1,813.2 169.4,807.6 171.2,802.2 172,796.7 173,790.4 175,785.7 175.4,779.5 177.5,773.9 177.6,767.5 177.5,763 178.8,757.7 179.6,753.2 181.2,748.3 182,743 182.5,738.6 183.9,733.7 184.9,729.3 186.8,723 189.2,717.7 190.8,712.9 191.6,708.4 194,703.7 195,698.3 196.9,693.5 198.5,689 199.5,683.1 200.4,677.8 201.7,673 202.4,666.8 203.6,661.1 205.5,655.2 208.4,649.7 209.2,644.8 M162.3,866.2 160.6,860.9 160.7,855.8 158.6,849.9 158.6,844.5 156.6,838.6 156.6,833 155.6,826.8 155.2,821.6 154.5,815.9 153.9,811.1 152.5,806 150.8,800.5 149.6,795.9 147.6,790 145.2,785.5 144.1,781 142.5,775.1 139.6,769.5 136.9,764.8 136,759.4 135.4,754.9 132.7,750.3 131.7,745.9 130,740.4 126.9,734.4 125.8,728.4 123.8,724.1 121.3,719.4 M168.8,866.6 167.3,861.7 167.2,855.3 166.5,850 164.5,844.2 162.7,838.4 160.9,833.1 159,828.1 156.7,822.3 156.6,816.9 155.7,812.5 153.4,806.8 152.8,801.1 151.8,796.3 150.6,790 148.4,784.5 146.2,778.5 144.6,773 144,768.3 142.4,762.9 141.4,757 140.3,751 137,745.2 133.9,739.3 132.5,734.5 130.6,729.3 129.4,724.7 127.7,720 125.9,715.8 123.3,711.2 121.4,706.5 117.4,701.9 115.1,697 113.3,692.9 109.6,688.6 106.9,684.5 103.9,679.6 100.1,674.8 96.9,669.9 92.2,665.7 88.9,661.2 85.8,657.4 81.1,654 76.4,649.2 71.9,644.4 68.9,641.6 63.5,637.1 59.4,633.6 M313.7,854.6 315.1,849.3 314.8,843.1 316.5,837 317.2,831.4 317.5,825.2 318,819.4 318.3,814.1 319.3,808.1 320.6,802.2 320.7,795.9 321.8,790.9 323.8,786 326.2,779.9 328,775.1 330.5,769.2 332.3,763.5 333.9,757.6 334.4,752.6 335.1,748.2 336,743.3 337.2,738.8 339.1,734 340.7,729.1 341.9,723.5 344,717.7 345.7,713.2 348.4,708 351,703.8 353.1,698 356,692.1 359.5,687.8 361.6,683.4 363.1,678.4 366.6,672.9 370,667.8 372.1,663.9 375.8,660.3 377.7,656.2 380.8,652.5 383.6,647.5 387.4,643.5 392,639.6 M317.2,856.9 317.8,851.2 319.3,845.7 320.9,839.7 321.5,834.3 321.1,828.2 320.4,823.7 321.8,819 321.7,812.9 322.9,807.5 323.7,802.1 325.2,796.3 324.6,790.6 325.6,785.8 325.9,780.9 326,775.8 326,770 327.3,765.1 327.2,760.3 327.1,754.1 329,748.4 330.2,742.4 331.3,736.1 331.1,731.4 331.7,725.4 332.7,719.9 333,714.6 334.3,709.1 336.3,703.8 336.7,697.4 338.4,691.1 339.2,685.1 340,680.4 340.6,675.8 341.7,669.7 343,664.4 344.1,658.7 344.7,652.8 344.6,647.8 345.6,641.5 346.6,636 348.3,631.2 349.1,626 349,619.9 350.1,614.6 351,608.9 352.1,603 353.2,597.6 354.1,592.3 356.3,586 358.4,580.5 360.2,574.7 362.2,568.8 362.5,562.5 363.6,556.9 365.1,551.3 366.6,545.9 367.3,539.8 367.9,535.1 M320.8,858.7 321.9,853 321.7,848.1 322.4,842.3 322.3,836.8 323.2,831 323,825.7 324.6,820.3 324.9,815.1 326.8,809.5 328.7,803.9 330.1,799.2 331.2,792.9 332.7,788.2 333.8,783.6 333.8,777.8 335,772.5 336.7,766.4 337.1,760.5 338.5,756.1 339.4,750.3 341.5,744.5 343.5,739.3 344.3,733.1 346.5,727.8 347.9,721.9 349.3,716 351.2,711 353.7,705 354.3,699.4 356.6,694.4 359.2,689.6 360.5,684.2 361.3,678 362.1,672.8 363.6,667.7 364.5,662.6 367.1,656.6 368.9,651 370.5,645.8 373.6,641.2 375.1,636.7 377.8,630.7 378.5,624.8 381.2,620 382.3,615.8 385.8,610.9 386.9,606.7 388.3,602.5 389.8,597.3 391.2,591.5 393.6,585.8 395.2,580.5 M262.5,882.5 260.7,877.5 259.9,871.5 258.9,865.1 256.8,860.1 255,854.3 254.3,849.5 254.1,844 251.9,838.8 250,832.7 249.2,826.9 247.1,822.2 244.8,816.7 244.1,811 242.9,805.8 240.5,799.7 239.5,793.9 237.5,788.4 237.3,782.9 236.4,777.6 233.6,773.3 231.7,767.5 230.6,763 229.5,758.5 228.5,753.1 226.2,748.6 223.6,742.8 220.4,737.1 218.6,731.5 216.2,726.1 212.8,721 209.5,717 208.3,711.8 205.5,707.9 203,703.8 200,698.2 197.9,693.3 195.5,688.2 191.2,683.3 188.7,678.8 184.3,673.4 180.7,669.5 176.5,665.4 172.3,661.2 168.5,657.6 165.4,652.8 160.6,647.8 156.5,644.5 152.7,640.3 147.9,637 144.1,634 139.4,629.8 134,625.7 130.9,622.9 126.8,619.8 122.4,616.8 119.1,613.2 113.8,609.6 109.3,606.5 103.8,603.3 98.4,601.8 93.3,599 88.9,597.4 83.8,595.2 77.5,594 71.5,591.4 66.9,589.9 60.6,588.6 56,587.1 51.9,586.3 46.6,585.7 41.4,585.2 36.5,583.8 31.4,584.5 24.7,584.5 20.4,584.5 15.5,584 M258.9,883 258.6,876.9 256.9,871.6 256.4,865.7 256.6,859.5 255,854.3 255,848.6 254.4,843.9 254,838.7 252.5,832.8 250.1,827 250.2,822.4 247.9,816.1 246.1,809.9 245.4,803.8 243,798.7 241.6,794.3 238.9,788.8 237.7,784.2 236.9,779.2 235.7,774.9 233.9,770.4 233,765.4 232.3,760.6 229.5,755.7 226.8,751.5 225.8,746.3 223.4,741.8 221.6,736.1 220,730.8 217,726.2 214.7,722.2 212.1,717.8 208.3,713.6 206.5,709.5 202.9,705.8 200.4,701 196.4,697.1 193,691.9 189.5,687 185.4,682.2 M176.6,919.7 175.8,914.9 174.7,909.5 172.9,905 173.3,900.5 173.5,895.3 173.4,890.4 171.9,885.6 171.3,879.4 171.2,874 169.7,869.3 168.9,864.5 168.1,859.2 166,853.8 163.9,848.2 161.6,842.6 161.6,837.7 159.8,832.7 158.8,827.9 156.9,822.3 154.4,817.5 152.9,811.4 152.2,805.3 151.3,800.8 150.7,796.1 150.1,791.1 148.5,786.2 146.6,780.5 145.9,774.8 145,769 144.1,764.6 141.4,760.3 140.8,754.6 138.9,748.9 137.8,744 136.5,738.9 134.2,733.1 131.4,727 130.8,722.2 128.9,717 127.4,712.7 126.4,706.8 125.2,701.5 122.6,696.6 121.6,692.1 118.6,687.2 117.8,682.6 116.5,678.4 115.5,673.3 113,669.1 112.1,664.1 110.3,659.8 107.4,655.2 105.5,649.1 104.1,643.2 101.8,637.9 98.7,633.6 97.1,629.2 95.9,623.6 94.4,618.9 91.3,613.6 90,607.7 88.9,603.2 87.2,597.2 85.6,592.3 M176.2,914.4 175.8,909.4 176.6,904.4 176.5,898.9 176.9,892.4 176.3,887.9 175.3,883 174.8,876.7 174.1,871.3 173.1,866.6 172.4,860.6 172.2,856 171.8,851 170,844.9 168.6,840.3 168.9,835 167.9,829.4 166.6,824.4 166.5,818.6 166.8,813.1 164.6,807.7 164.9,802.1 164.2,796.6 162.4,790.3 162.1,784.4 160.1,779.6 158.2,775 157.1,770.2 156.5,764.9 155.8,759.9 154.4,754.1 153.4,747.9 151.1,742.4 149.2,737.2 148.8,731.1 147.5,726.6 146.5,720.9 145.8,714.9 144.6,710 142.5,705.2 140.5,700.4 137.9,695 136.7,689.3 134.5,683.7 131.8,678.2 130.1,673.2 128,668.5 127.1,662.5 125.3,657.3 123.6,651.2 122,646.9 121,642 117.9,636.3 115.7,631.8 112.6,627.6 110.1,622.2 108.8,617.7 106,613.1 104.4,607.8 M185.2,917.8 185.4,912.7 185.4,906.8 185.1,901.7 184.4,896.1 183.6,890.5 182.9,885.1 182.7,879.3 182.2,874.3 181.5,869.1 181.3,863.9 182.8,858.5 184.5,852.7 184.4,846.7 184.7,841.6 184.5,837.1 184.3,830.9 186.3,825.4 186.2,819.3 186.1,813.4 186.4,808.8 187.2,803.3 188,798.7 188.6,793.7 190.5,788.2 192.7,783 193.9,777.5 194.8,772.2 197.1,768 200.2,762.4 201.6,756.6 204.5,751.8 206.6,746.5 209.9,740.7 211.4,736.4 212.7,731.5 214.8,725.7 217.5,720.7 221.3,716.2 224.7,710.9 227,706.3 230.4,701.2 233.9,697 238.4,692.4 241.9,688.8 246.7,684.4 251.7,680.2 254.4,677.2 259.5,673.5 264.9,670.8 270.3,667.9 275.6,664.7 279,661.4 284.1,658.6 287.8,656.4 292,654.2 297.1,651.7 301.4,649.8 305.9,647.8 309.9,646.2 315,644.7 319.4,643.5 323.6,641.7 327.7,639.7 332.8,638.2 M164.1,906.6 162,900.8 161.6,894.6 159.4,888.8 158.1,883.2 155.6,877.6 153,872.1 150.9,866.5 148.5,860.7 145.7,855.4 142.9,850.5 141.5,845.8 139.9,841.5 136.6,837.5 133.2,832.6 129.1,828.2 125.9,823 122.8,818 120.3,813.4 117.4,808.8 112.9,804.4 110.7,800 107.2,796.5 102.7,792.1 98.4,787.9 93.8,783.2 90.7,780 85.9,776.6 83,773.6 79.1,769.3 75.8,766.5 72.4,762.9 67.2,759.4 63.7,757.1 58.1,753.4 M166.4,907.7 167.3,903 167.2,897 166.3,892 166.5,885.9 165.1,879.9 165.6,873.8 165.5,869.3 165.5,863.9 164.4,859.3 163.1,854.1 163.5,848.8 163.2,842.8 162.7,838.2 161.6,832.7 161.6,827.9 161.6,821.7 161.2,816.4 161.1,811.2 159.1,805.8 157.7,800.7 155.5,794.5 154.7,790 153.9,783.9 152.1,779.4 149.9,774.4 149.6,769.6 148.6,765.2 148.3,759.6 147,754.8 145.8,750.1 143.8,745.4 142.6,740 141.8,735.1 141,729.7 138,723.8 136.4,717.6 134,712.6 133.3,707.3 131.5,701.2 128.2,697 125.7,692.6 123.2,686.8 121.9,682.4 120.5,676.5 117,671.4 115.7,666.2 114.1,661.8 112.6,657.9 108.8,653.9 105,649.1 102.5,644.1 100.1,639.6 98.1,635.5 94.4,630.9 90.2,626 87.6,622.6 83.5,618.2 78.7,614.5 74.1,610.3 M167,883.4 165.8,878.8 165.3,872.9 163.2,866.6 161.7,860.7 160.6,855.4 159.2,849.2 157.2,843.4 157,839 155.5,834.6 154.5,828.9 153.8,823.5 152.1,817.9 150.5,812.5 147.8,807 146.8,801.9 144.2,797.1 141.2,792.1 138.5,786.6 137.4,781.4 135.4,776.2 132.7,770.8 131.5,765.1 129.7,760.6 127.9,754.8 124.8,750.5 123,745.2 119.5,740.7 116.4,736.9 114.9,732.4 112.4,728.2 109,722.9 106.4,717.9 103.4,712.7 98.9,707.5 96.5,702.5 91.9,697.9 89.5,694.3 86.3,690.9 81.4,687.6 78.8,682.8 73.6,679.5 69.4,676.3 64.6,673.5 M188.1,865.7 187.1,860.6 187.7,855.1 187.2,849.7 188.7,844.5 189.4,839.5 190,835 190.7,830 190.7,824.3 190.2,818.4 189.4,813.2 190.9,807.1 190.9,801.8 191.2,795.6 190.8,790.5 191.2,784.5 192.2,778.2 193.1,773.1 192.8,766.9 192.2,761.8 193.1,756.4 193.5,751.8 194,747.2 194.4,741.8 194.4,736.7 195.1,730.6 196.7,725.8 198.6,720 198.9,714.4 199.8,709.4 200.6,703.7 200.6,699.3 202.6,693.9 204.6,688.8 205.7,683.5 207.7,677.2 208.8,672.2 210,666.9 210.4,660.6 211.4,655.2 212.8,650.7 215,644.8 217,639.4 219.7,633.9 221.2,627.9 224.5,622.5 227.4,617.4 229.3,611.6 230.5,605.8 231.5,600.6 233.6,595.6 235.6,591.5 239.5,585.8 241.6,580 243.9,574.3 247.9,568.6 251,564 254.6,560 257.6,555.8 261.3,551.5 M182.7,870.1 181.1,865.8 180.1,859.8 178.5,854.7 175.9,850.5 173.4,844.4 171.5,839.7 169,834.6 165.8,828.7 162.9,822.9 160.2,818.3 157.6,813.4 153.8,808 152.2,803.2 148.2,799.3 146.1,795.7 143,790.4 139.7,786.3 136.6,781.6 132.7,776.4 128.2,772.8 124.9,768.6 122.2,765 118.9,761.1 114.6,756.9 111.6,752.7 106.8,748 103.2,743.7 98.6,739.9 93.1,736 89.1,732.6 84.5,729.1 80.8,726.5 77.5,723.7 73,720.8 69,718 63.7,716.1 59.1,712.8 55.3,711 50.7,707.9 46.7,706.6 42.1,704 35.7,702.7 30.2,702 25.7,700.3 20.6,698.8 15,698.1 8.3,697.2 1.7,697 M202.6,931.6 200.5,925.4 198.4,919.6 197.2,914.8 195.8,908.6 193.9,903.4 193.9,897.4 192.4,892.4 191,887.1 190.5,880.9 188.6,875.7 186.4,869.8 183.4,865.5 182.2,860.1 179.1,854.1 177.9,849 177,843.1 174.3,837.4 172.7,833.3 171.4,827.6 167.7,823.1 166,818.6 164.2,814.3 162.6,810 158.5,804.9 155.7,801 153.1,796.4 150.3,791.3 148,787 143.3,782.9 139.9,778.4 136.5,774.2 132.1,771 128.6,768.2 124.5,765.4 M210,933.2 208.5,928.5 208.3,923.2 206.7,917.3 206.4,911.2 204,905.7 202.3,900.7 201.2,895 199,889.4 198.9,884.5 196.5,878.5 195.8,873.9 193.1,868.8 192.1,863.6 190.4,858.3 187.6,853.5 186.4,847.8 183.9,843 182.3,837.3 180.9,831.8 178.4,826.9 176.5,821.7 175.4,817.1 173.9,811.7 171.3,807.4 169.1,802.9 165.5,797.2 162.3,791.7 158.7,786.4 155.7,782.1 154.2,777.9 150.7,773 146.9,768.2 144.3,762.9 M203.1,938.2 201.8,933.3 200,928.6 199.9,923 199.4,917 198.9,911.7 196.6,905.4 194.6,899.9 192.9,895 192.8,888.7 192.7,884.3 190.9,879.7 188.4,874.5 186.5,869.1 183.7,864.1 181.9,858.4 180.3,854.1 177.9,848.6 175.3,843.9 173.8,838.1 172.3,832.6 171,826.7 167.7,821.8 164.7,817.3 163.5,813.2 160.7,807.3 159.1,802.1 157.7,798.3 156.1,794.5 153.2,789.7 149.3,784.5 147.3,779.8 144.9,775.9 140.9,772 138.4,767.2 135.9,763.9 131.1,760.6 128,755.8 123.4,752.2 120.2,747.8 117.3,743.5 111.9,739.5 108.5,735.5 105.2,731.7 99.6,728 M185.5,879.1 185,873.1 183.9,868.5 182.4,862.7 181,856.8 179.4,850.4 178.7,844.3 179.1,839.2 177.9,834.5 176.9,829.4 176.8,824.1 176.4,818.4 176.3,813.9 174.6,809.1 174.2,804.2 174.4,799.4 173.2,793.9 172.8,788.3 170.9,783.4 171,777.6 170.6,772.8 168.9,767.5 168.4,761.2 166.4,756.3 163.8,750.5 162.2,746.1 160.5,739.9 159.7,734.1 158.2,728.4 155.3,722.3 154.4,716.9 152.5,711.1 149.5,705.4 147.2,700.7 145.4,696.2 143.9,692.1 140.7,687.7 138.7,682.2 135.2,678.1 132.2,673.1 128,668.3 124.4,664 120.3,659.5 M332.5,909.9 333,904.6 335.3,898.7 335.9,893.8 338.2,888.9 341.1,884.4 342.6,879.1 344.5,873.3 346.6,868.9 348.3,863.7 351.1,858.8 354.3,854.1 355.9,848.5 358.6,843.2 360.9,837.5 362.7,833.2 366,827.8 368.7,823.1 373.1,817.8 376.6,813.6 380.3,809.5 384.1,805.3 386.9,801.6 390,798.6 393.9,794.2 397.9,789.9 403.2,787.6 408.8,784.6 413.9,782.6 417.8,779.7 M333.8,909.1 334.8,902.6 334.3,898.1 335.3,891.6 335.6,885.8 336,879.8 335.4,875.3 335.2,869.2 336,864 335.4,857.7 336.7,852.6 337.5,847.9 337.7,843.2 337.3,838.3 338.3,832.1 338.6,827.3 337.9,822.1 337.6,816.9 338.9,810.4 340.1,804.2 340.2,799.1 340,793.7 341.5,788 343.5,782.9 343.2,777.8 343.5,772 343.8,767.6 345,761.5 345.4,755.6 346.8,750.3 348.2,744.9 350,739 350.3,734.4 351,728.9 351.7,723.9 353,718.4 354,714.1 355.7,709.1 358.2,704.4 361,700.1 363.3,695.1 366.1,690.4 369.5,686.3 371.6,682.1 375.3,677.2 378.4,672 382.1,668.1 M188.7,867.7 188.8,863.1 190.3,857.2 191,852.6 192.7,846.5 194,840.3 195.2,834.9 197.3,830.3 197.8,825 200.2,819.9 200.6,815 202.7,810.4 204.8,805.9 207.7,801.7 209.5,796 211.4,790.1 213.6,785.1 214.4,779.1 217.6,774.3 220.4,769 222.6,763.9 224.9,758.9 227.1,754.7 228.9,750.1 231.3,746.3 233,741.1 235.5,736.9 238.3,733.3 242.1,729 244.4,724.8 247.7,721.1 250.6,716.7 255.2,712 259.6,709.2 264.4,705.3 269,702.5 273.3,699.2 278.9,695.8 283.6,693.3 288.1,690.1 294,687.3 298.3,685.4 304.5,683.8 309.9,682 314,680.6 320.2,679.4 325.1,677.6 329.6,677 334.8,676.5 339.9,675.1 345.3,673.9 350.3,673 356.3,673.1 362.2,673 368.6,672.8 373.6,674.6 380.2,676.5 385.5,677.9 391.3,680.3 M182.8,864.4 182.6,859.1 181.3,852.9 181.2,847.9 179.6,841.9 177.2,836.3 175,831 172.7,824.8 170.2,819.4 169.9,814 167.2,808.8 165.3,803.9 165,798.7 163.5,793.5 160.6,789.2 158,783.6 156,778.8 155.1,772.9 153.9,768.1 150.8,762.7 147.9,757.8 145.9,753.3 143.7,748.2 141.4,742.9 139.7,738.4 138.3,733.9 136.8,729.5 134.1,724.4 131.7,719.7 129.9,715.7 128.5,711.5 124.7,706.6" fill="none" stroke="#cdcdcd" stroke-width="0.8" stroke-linejoin="round"/><path d="M244.3,901.6 244.9,896.3 245.6,890.7 245.5,884.5 244.5,878.5 243.4,872.8 243.5,867.8 244.2,862.3 244.6,856 244.2,851.5 243.9,845.6 243.4,840.8 244.8,835 245,828.7 245,822.9 244.6,817.6 245.9,811.3 247.5,806 248.3,800.9 248,795.5 249.7,789.3 251,783 251.4,778.2 252.2,773.3 252.5,768 254,762.7 254.7,756.6 257.3,751.4 257.6,747 260,742.6 262.2,737.2 263.4,731.4 263.9,726.9 265.7,722.7 268.6,718.1 269.7,713.9 M235.3,896.6 236.2,891 236,884.6 236,878.1 236.1,872 234.7,866.3 235.2,861.7 236,856.9 235.6,852 235.3,846.3 233.8,839.9 233.3,834.4 233.1,829.2 232.2,823.4 231.9,818.3 232,813.3 230.2,808.3 228.5,803.5 228.6,798.3 229,792.3 227.2,785.9 227.7,781.2 228.1,775.9 227.3,769.5 225.8,764 226.1,758.2 225.2,751.8 225.1,746.1 223.1,740.5 222,735.7 219.7,730.2 217.6,725 216.9,719.7 215.1,714.1 213.6,708.2 212.3,701.9 212.1,696.1 210,691.6 209.5,685.7 208.2,680.7 206,675.1 204.5,669.7 M278.6,928.1 278.4,922.6 277.2,918.1 276.4,913.7 275.7,908.9 274.3,902.7 273.2,896.7 273,890.6 271.7,886.3 270.6,880.2 269.2,875.5 266.9,871 266,865.7 265.3,861.2 262.5,855.5 259.6,851.1 257,845.6 255.3,840 253.3,834.6 251.8,829.4 250.4,824 248.8,818.7 245.5,814.7 241.3,809.7 239.3,805.5 237.1,800.6 233.6,795.9 230,791.2 225.3,786.8 221.1,783.2 216.3,779.7 213,775.9 210.2,771.8 205.2,767.8 201.4,763.8 198.3,760.7 192.6,757.6 188.3,755.2 183.1,752.9 178,749.9 173.3,747.4 169.6,744.6 164.9,742.9 158.5,740.5 153.8,738.3 148.4,736.6 141.9,735 137.8,734.5 132.1,734 126.5,733.4 120.1,733.1 115.6,733 109,733.4 103.8,732.7 97.6,732.8 91.2,733.1 84.9,734.3 80.8,734.9 75.7,736.9 69.7,738.7 64.4,741.5 59.4,744.6 55.3,746.5 50.3,749.5 M276.4,924.1 277.5,917.9 279.2,912.6 279.4,907.3 279.6,901.4 280.2,895.6 280,889.5 282,884.7 283.2,879.9 282.9,874.7 283.1,868.8 284.3,863.1 286.7,858.6 286.8,854.1 288,848.1 289.9,842.7 292.3,837.7 292.9,832.1 293.3,827.4 293.8,822.9 294.6,817.7 295.6,812.3 298.5,807.5 299.7,802.2 302.6,796.4 305.2,791.3 308.7,786.1 312.7,781.7 316.2,776.7 319,773.1 322,769 325.5,764.5 328.9,761 331.4,756.5 M292.6,844.4 294.3,838.8 294.1,832.8 295.2,826.5 295.4,820.9 296.8,815.4 297.4,809.6 297.4,803.7 298.3,797.6 298.1,791.4 299.6,785.5 301.3,780.1 302.1,775.1 303.4,770.7 304.3,764.3 304.9,759.5 305.7,753.7 307.8,749.1 309,743 311.2,737.3 312,732.8 313.1,728.1 315.7,723.6 316.1,717.3 318.5,712.1 320.1,706 322.3,701.1 323.9,694.9 325.2,690.6 325.9,684.8 327.1,679.5 329,674.4 332.2,669.7 333.7,664.9 336,660.2 338.8,655.3 340.7,651.1 342.9,645.6 M176.7,867.4 174.6,862.6 174.6,856.6 172.5,851.1 172.8,844.9 170.8,840.3 170.7,834.1 169.4,828.1 167,823 165.8,818.1 165,812.3 162.8,807.8 162.5,802.3 160.5,796.2 159.8,791.5 157.9,787.2 155.7,781.9 154.6,777.5 151.7,771.5 148.7,765.9 147.2,761 146.4,755.4 143.3,750.2 141.3,744.2 140.1,738.5 138.4,733.6 136.1,729.7 134.7,724.1 132,718.4 130,713.3 126,708.8 122.1,704.5 120.1,700.8 117.4,695.4 115.1,691.2 111.6,685.8 M147.8,887.7 148.2,881.7 147.9,876.9 147.5,870.5 147.5,866 146,861.6 145.5,855.4 145,849.7 144.1,843.8 143.2,837.8 141.2,832.5 140.4,827.9 139.4,821.7 137.1,815.9 136.4,809.8 136.3,804.2 135.2,798.9 133.7,793.4 131.8,787.5 130.4,782.3 128.9,776.6 128.2,770.7 127.1,766 124.1,761.5 121.2,756.3 118.3,751.1 117.1,746.1 116.2,741.2 114.1,736.5 111.1,731.3 108.1,726.9 105.4,721.4 104.4,716.9 101.4,711 99.3,705.4 98.2,700.1 95.1,694.3 93.5,690.4 92.2,685.2 88.8,680.5 85.5,675.2 82.5,671.2 80.6,666.9 76.9,661.8 72.9,657 69.7,653.2 67.7,648.3 63.4,643 M236.8,928.4 237.2,921.9 237.5,916.1 237.7,911.5 236.6,906.1 236.8,899.9 236.7,894.8 236.8,890 235.5,883.9 235.2,878.4 234.7,872 235.1,866.7 236.1,860.4 236.5,854.7 236.1,850.2 235.7,845.5 236.2,839.5 235.4,834.5 235.9,828.5 236,823.9 235.7,817.8 234.7,812.4 235.4,806.3 234.6,800.3 234.3,795.2 234.7,789.8 233.7,784.9 233.9,780.2 234.2,775.5 232.5,770.6 231.4,765.6 231,760.2 229.2,755.3 228.2,750.6 227.1,744.8 224.8,740.2 224.5,734.3 224,729.4 222.3,723.4 221.8,717.7 219.4,711.9 219.3,707.4 216.9,703 215.5,698.2 213.6,693.9 210.7,688.6 209.1,683.9 206.6,678.1 205.2,672.8 203.4,668.1 202,663.4 199.6,658.1 197.8,653.3 196.3,647.6 194.3,643 192.7,638.2 189.4,634.2 186.4,630.2 M258.1,911.3 258.8,906.1 257.4,899.8 257.1,894 257.8,888.3 258.2,883.1 258.3,877.8 257.3,871.9 257.1,866.9 256.6,861.2 256.7,856.6 256.4,851 254.7,845.8 254.2,839.7 253.3,834.4 253.5,829.8 253.9,823.8 251.8,818.4 249.6,813.6 248.6,808.3 247,803 244.7,798.6 243.5,793.1 241.6,787.9 241.4,783.6 239.9,777.4 237.9,771.4 235.3,766.3 233.8,761.1 233,756.2 230.7,751.3 228.8,746.8 226,742.2 224.8,736.7 221.7,731.2 219.2,726.5 217.4,720.8 214.5,716.8 210.5,711.2 M253.8,910.8 252.8,906.2 251.3,901.6 250,896.9 248,892.4 246.1,887.5 244.3,882.4 242.4,877.7 241.7,872.5 241.3,867.6 240.8,862.6 239.7,857.7 237.7,851.3 236.1,846.9 235.4,842.4 233.3,837.5 231.5,832.3 230,827.3 229.6,822.2 229.5,816.4 229.4,811.2 227.7,805.6 227.8,801.1 227.1,795.1 225.9,790.5 225.9,785.5 225.7,780.2 223.4,774.8 221.5,769.9 221.1,763.7 219.8,758.1 218.8,752.9 218,747.4 217.7,741.5 217.2,737.2 215.5,732.6 213.4,728.2 212.7,723.1 211.1,717.2 210.1,711.2 207.2,706.8 205.3,701.4 204.8,696.5 202,691.9 199.1,686.2 197.3,681.5 196,676.6 193.2,672.4 191.9,666.6 190.4,660.6 189.6,656.5 186.5,651.4 184.4,646.6 181.4,642.1 180.4,637 177.9,631.6 176.2,626 174.6,621.4 171.6,616.4 169.8,611.9 168.4,607.8 165.2,603.1 161.8,599 158.8,595.1 156.4,590.1 152.8,584.8 149.9,579.9 M324.2,913.2 327.3,908.2 330.1,903.2 331.2,898 332.5,892.1 335.2,886.8 337.4,881.1 339.7,875.3 342.8,870.1 344.3,865.1 347,861.1 349.8,856.6 352.1,852.7 354.2,848.9 358.6,844.2 361.7,840 364.9,835.5 367.6,830.5 370.5,827.1 374.6,823.8 378.1,819.7 382.4,816.2 386.7,813.3 389.7,809.5 393.3,805.6 396.8,801.6 400.6,798 406,795.8 411,792.2 417.1,789.3 421.4,787.4 426.3,786.3 432.4,785.2 438.7,784.2 445.2,782.6 451.5,780.6 456.7,779.5 462.4,778.7 468,778.9 473.2,777.8 477.6,778.8 483.4,779.3 489.1,780.4 495.2,781.3 500.5,783 M204.9,861.9 203.9,857 203.8,851.6 205.2,846.6 206.1,841.6 205.2,835.7 205.7,829.4 206,824.4 207.5,818.3 207.2,812.4 207.5,806.7 208.8,801.3 208.5,796.8 208.9,790.8 208.4,784.3 209.8,778 209.3,773.3 209.9,767.5 211.1,762.5 212.6,757.7 213.4,752.5 213.3,747.4 214.7,741.2 216.5,735.8 218.5,730.3 219.2,724.6 218.9,719.1 219.4,713.1 219.9,708 221.7,701.9 221.5,696.7 222.1,691.6 223,686.3 223.5,680.4 225,675.7 225.7,671.3 227.4,665.8 229.2,660.7 229.7,656.4 231.2,651.8 233.2,647.1 233.6,642.8 234.4,636.8 235.3,631.7 238.5,626.9 240.7,622.2 243.8,616.8 245.7,611.5 247.1,605.8 249.5,600.3 252,595.4 255.3,590.9 258.6,586.1 259.9,580.5 261.9,575.1 263.7,569.4 266.9,564.5 269.9,560.6 273.6,555.1 M310.3,880 311.8,874.8 312.2,869.5 313.3,863.8 315.6,858.7 316.9,853.9 318.8,848 319.9,843.2 320.2,838 320.8,831.9 321.9,825.7 324.1,820.3 324.4,814.5 325.5,808.2 327.3,802.6 328.7,798.2 329.3,793 330.1,788.8 332.6,783.7 334.8,777.5 337.1,772.5 338.5,767.7 340,763.3 340.9,758.5 342.4,752.7 343.5,746.9 344.8,742.8 347.1,738.2 348.6,732.9 350.1,728.5 353.1,722.9 356.4,718.4 358.5,713.5 360.3,709 362.8,704.9 365.4,700.2 369.3,695.7 370.7,690.7 373.8,685.1 376.9,681 379.3,676.7 382.8,671.9 385.6,666.7 389.2,662.3 391.5,658.4 394.3,654.2 396.8,650.7 400.2,646.4 403.7,641.1 408.3,637 411.3,632.3 414.3,628.6 418.2,625 421.9,620.4 425,617.4 428.6,614.1 M356.1,883.2 357.3,877.2 359.4,872.7 361.1,868.1 362.2,863.4 362.4,857.3 364.7,852.5 366.1,847.6 367.2,841.7 368.1,835.9 369.2,830.6 370.6,824.5 372.3,819.2 374.4,815 377.3,809.8 380.1,804.3 382,798.7 385.3,793.1 388.6,788.7 389.8,783.1 393.4,777.5 397.1,771.8 398.6,766.3 401,760.8 403,756.2 406,751.9 408.5,746.4 412.2,740.9 414.1,736.7 418.6,731.3 422.9,727.5 426.2,722.2 429.2,718.2 433.4,713.1 436.4,709.2 439.2,704.8 443.5,700.7 448.2,696.9 453.5,692.8 456.5,689.4 459.5,686 462.7,683.2 M356.8,881 355.2,875.7 354.2,871.1 352.9,865.3 352.4,860.5 352.5,855.2 350.8,850.5 350.8,845.7 350.1,840.8 348.1,836.1 347.5,830.7 346.6,826.4 343.9,820.7 342,814.5 340.6,808.7 339.7,804.1 338.1,798.4 336.2,794.1 332.3,789.6 328.4,784 325.4,778.9 323.1,775.3 319.3,771.5 315.8,767.4 312.9,763.3 309.9,760.4 305.6,758 300.5,754.6 296.6,752.2 291.5,749.8 287.2,747.8 282.8,746.3 277.5,744.3 271.4,743.3 266.4,742.1 261,742.2 256.6,742.1 251.9,742.6 245.9,744.7 M153.6,906.1 151.5,900.2 149.5,894.2 147.7,888.4 147.1,882.9 145.1,878.3 144.1,873.5 143,867.5 141.6,862.9 140,857.7 139.8,853.1 137.9,847.7 136.3,841.6 136,837 134.3,832.6 132.1,826.9 129.6,821.4 128.6,815.9 126.5,811.6 125.1,805.7 123.5,800.9 122.8,795.7 119.9,790 117.3,784.7 115.9,780.6 114.6,775.1 113.6,771.1 110.2,765.6 107.5,760.2 104.4,754.6 103.1,749.9 101.4,744.1 99,739.5 95.3,734.4 93.7,729.9 90.8,724.5 86.7,720.2 83.9,715.5 81.5,710.8 79.3,706.1 76.4,701.1 72.7,696.4 70,692.8 67.7,688.6 M157.2,877.4 156.1,872.3 156.2,866 155.7,860 153.9,854.3 151.9,848.4 151.8,843 151.4,837.8 149.7,832.6 149.3,826.6 147.5,821.6 145.6,816.3 143.3,811.9 141.7,805.9 140.1,799.6 137.5,794.8 137.3,788.7 134.6,783.7 133.2,778.4 131.8,772.5 130.7,767.2 128.6,762.7 126.9,757 124.2,752.7 122.7,748.5 121.3,743.7 118.3,739 116.9,733.6 115.2,728.9 112.1,724.5 108.9,719.6 105.3,713.9 101.7,708.7 98.4,704.6 95.6,700.6 93.6,695.8 91.1,690.9 M153.7,873.4 152.5,867.3 151.5,862.4 150.1,856.4 149.8,850.7 148.7,844.7 148.1,838.5 147.6,832.4 147.2,827.4 145.4,822.4 145.6,816.5 145.4,811.6 145,806.2 143.5,801.4 142,796.4 140.9,791 139.8,785.5 138.7,780 138.2,775 138,770.1 137.9,765.2 135.6,760.5 134.4,755 132.6,748.8 131.5,742.9 130.5,737.5 129.4,732.2 126.9,726.1 126.2,720.4 123.8,715.5 120.9,710 119.2,705 118.7,700.1 117.6,694.7 116,689.7 114.7,684.8 111.5,679.6 110.7,673.8 107.7,667.9 104.5,663.7 M166.2,863.6 166.4,857.9 165.2,851.5 165.4,846.5 165.3,841 166.3,835.8 165.4,831.3 166.3,825.7 167,820.1 166.8,813.8 167.6,808.5 166.7,803.6 165.6,797.5 165.3,791.3 163.6,786.2 161.8,781.1 160.8,775.9 161.5,770.3 161.5,763.9 160,759.4 160,753.3 158.9,748.2 157.4,742.6 156.5,737.1 154.5,731.1 154.7,725.3 153.1,720.6 151.8,715.1 M185.2,917.1 184.8,912.2 185.1,905.9 185.5,900.1 186.2,895.4 187.9,889 187.5,883.2 188.9,877.8 190.4,872.2 190.7,866.8 192.3,861.5 192,856.5 193.1,850.5 195.4,844.8 197.8,840 200.2,835.2 200.7,829.4 202.6,825.1 204.6,819.8 207.5,814.1 208.4,808.4 211,803.9 212.4,798.8 215.9,793.9 218.6,790 220.2,784.4 223,779 226.4,773.7 230.6,769.1 233.9,764.3 238,761 241.4,757.2 244.4,753 248.5,749.6 252.4,746.8 258.1,743.4 262.5,740.7 267.4,739 272.7,736.3 277.8,734 281.9,731.9 287.2,730.4 291.6,729.7 296.6,728.8 M181.4,920.8 180.2,914.4 179,909.6 178.5,903.2 176.6,897.7 174.6,893.1 173.6,886.8 172.6,882 172.1,875.9 170.3,869.6 169.7,864.8 169.5,859.3 167.8,854.8 166.1,850.3 164.9,845.4 164.5,840.8 163.7,836.5 160.9,831.2 158.6,825.4 156.9,820.5 154.4,814.7 153.4,809.1 150.4,803.5 147.8,799.4 145.3,793.6 143,789.4 139.6,783.8 137.6,779.8 134.9,774.5 132.5,770.7 129.1,766.5 126.5,761.8 123.2,756.4 119.4,752.5 115.4,747.1 111.1,743.3 106.9,738.6 102.2,733.4 99.9,729.8 96.2,725 92.5,721.8 89.3,717.2 84.6,713.5 80.2,709.6 M175.9,916.1 174.1,911.4 173.7,905.3 173.1,900.1 172.5,895.1 170.6,890.1 168.5,884.7 166.7,879.1 164.3,873.6 164.1,868 161.5,863.5 160.5,857.7 158.7,853.1 157.4,848.5 156.7,842.8 155.6,836.6 155.1,830.7 154,825.9 152.4,821.5 149.8,817.1 148.5,811.4 146.5,806.4 144.4,801.2 143.1,795.5 140.3,789.9 138.7,784.5 135.4,779.6 132.5,774.2 130.2,769.4 126.7,763.7 123.1,758.7 119.9,754.7 117.3,749.7 114.2,745.6 112.1,740.6 108.9,736.7 107.1,731.8 104.9,727.4 101,723.9 98.6,718.6 96.1,713.7 92.8,709.8 87.9,706.6 83.6,701.6 79.8,698.4 75.7,694 71,690.2 68.2,687 64,683.6 60,679.2 56,675.3 51.3,671 46,668.6 40.4,665.8 35.6,663 30.6,660.1 M171.2,907.9 168.9,903.1 168,898.7 165.8,893.2 165.6,887.4 164.5,881.2 163.8,875.6 162.7,870.4 161,865.5 160,860 159,854.2 157.2,849.6 155.3,844.3 153.8,839.6 151.9,834.3 151.4,829.8 149.2,823.8 146.6,818.6 144.9,812.7 144.1,807.4 142.1,801.5 139.1,796.6 137.3,791.8 135.4,787.4 134.4,783.1 132.8,779 131.4,774.7 129.1,770 126.8,765.4 125.4,760.1 121.7,756.3 119.4,751.5 117.9,746.5 115,742.6 112.7,738.3 111,732.9 108.9,728.9 106,725 103.5,720.7 101.1,717.1 96.9,711.9 93.9,707.7 89.3,703.9 85.3,699.6 82.2,696 79.3,692.8 76.7,688.9 73.6,684.4 69.4,680 66.6,675.3 63.4,671.7 60.1,668 M168.2,883.3 168.9,877.2 169.1,871.1 169.8,865 168.5,858.7 167.4,853.9 166.6,849 166,843.9 164.4,838.9 164.1,833.2 164.4,828 163.4,823.2 163.1,817.2 163,811.8 162.2,807 160.3,801.2 158.1,795.1 156.1,790 154.5,784.5 152,779.3 151.7,774.3 149.6,769.4 147.6,764.2 145,757.9 142,752.7 140.1,747.1 138.7,742 136.4,735.9 135.7,730.5 134.2,724.5 132.5,720.4 131,716 129.8,711.9 127.3,707.3 125.6,702.1 123.7,698.2 120.5,692.5 118.5,688.3 115.7,684.6 112.3,681 109.5,676.4 106.3,671.2 102.7,667.4 99.7,663.7 97.2,660.6 92.8,656.4 88.8,652.6 M160.8,887.2 160.1,881.5 159.2,875.8 159.7,870.2 159,863.8 159.9,858.2 159.5,853.7 159.7,848.7 161,842.3 162,835.8 163.7,829.5 164.7,824.2 164.7,818.1 164.1,813.1 164.9,806.9 166.1,802 167.1,796.5 168.3,790.5 167.8,785.7 169.2,781.1 170.5,776.2 171.6,770.4 172.2,765.5 172.6,760 173.3,754 174,748.3 175.2,742.3 177.1,737.2 177.5,731.1 177.7,724.8 179,719.9 181.2,714.1 181.2,709.4 181.4,703.6 182.8,697.6 184,691.9 184.5,687 185.5,680.9 186.8,675 187.7,669.3 190,663.4 192.1,658.5 192.6,653.9 193.4,649.6 195.8,645.1 196.6,639.3 199.2,633.9 200.5,629.7 202.9,624.2 203.8,619.1 206.3,614.8 208,609.8 209.5,605.5 211.3,599.8 212.9,595.1 215.5,590.6 216.7,585.8 218.7,580.5 221.8,576.1 223.1,571.7 M204.1,930.5 202.6,925.6 203,919.2 202.7,914.2 202.7,908.5 202.6,902.4 201.7,896.1 201,891 199.8,884.6 198.2,878.5 197.8,874.1 197.8,869.3 196,863.7 195.9,858.4 195.9,852.3 194.3,846.4 193.9,840.9 193.2,835.4 190.9,830.1 190.4,825.6 188.6,820.4 186.4,814.4 184.7,809.6 184,803.9 181.5,798 178.8,793.5 177.3,787.7 175,781.6 174.3,775.8 171.9,770.9 170.6,765.4 M327.5,905.2 327.4,898.8 329.1,892.5 330.1,887.2 330.5,882.3 332.2,876.6 332.3,871.7 333.4,865.9 334.3,860.7 334.6,855.9 336.4,849.9 338.8,844 339,839.2 340.3,834 340.7,829.3 341.1,823.4 342.4,818.7 344.1,812.6 347,806.6 349.5,801.2 350.9,796.5 351.9,792 354,787.4 355.9,782.8 358.1,778.6 360,773.9 361.1,768.6 364,763 366.3,757.3 369.7,752.7 372.1,747.9 375.1,742.7 378.3,737.9 380.5,732.9 383.9,728.1 387.2,722.3 390,717.4 392.1,711.7 395.4,707.8 M187.1,866.7 187.4,861 186.2,854.7 186.6,848.8 184.8,842.4 182.9,836.7 182.4,832.1 180.8,826.8 180.9,820.8 181.2,814.7 179.4,808.5 179.2,802.2 177.7,795.8 176.6,789.7 176.6,783.8 176.3,777.6 175.4,773.2 174.1,767.9 173.3,762 172,757.4 169.5,752.2 166.9,746.6 165.5,740.4 163.1,735.1 160.5,730.8 157.8,725.5 155.7,720.4 154.6,715.8 153.1,711.1 151.3,705.6 148.9,699.7 146.6,693.7 144.4,689.3 141.9,685.1 138.9,680.2 136,675 133,670.9 130.9,665.8 128.2,661.5 125.3,657 121.9,651.2 118.5,646.4 117.3,641.3 113.9,636.1 112.7,632.1 109.1,627.4 105.7,623.2" fill="none" stroke="#b0b0b0" stroke-width="0.7" stroke-linejoin="round"/><path d="M226.3,513.9 226.5,522.9 226.7,531.9 226.9,540.9 227.3,550 227.6,559 228.1,568 228.5,577 229.1,586 229.6,595 230,604 230.5,613 230.9,622 231.3,631 231.7,640 232.2,649 232.7,658 233.3,667 233.9,676 234.5,685 235.2,694 235.6,702.9 236,711.9 236.1,720.9 236.2,729.9 236.2,738.9 236.1,747.9 235.8,756.9 235.5,765.9 235.2,774.9 234.9,783.9 234.5,792.9 234.2,801.9 233.8,810.9 233.4,819.9 233,828.9 232.6,837.9 232.2,847 231.8,856 231.4,865 232.6,865 233.1,856 233.7,847 234.2,838 234.8,829 235.4,820 235.9,811 236.4,802 236.9,793 237.4,784 237.9,775 238.4,766 238.8,757 239.2,748 239.5,739 239.7,729.9 239.8,720.9 239.8,711.8 239.5,702.8 239.3,693.8 238.8,684.7 238.3,675.7 237.7,666.7 237.2,657.7 236.6,648.7 236,639.8 235.5,630.8 235,621.8 234.4,612.8 233.7,603.8 233,594.8 232.3,585.8 231.5,576.8 230.7,567.8 229.9,558.8 229.2,549.8 228.5,540.9 227.8,531.9 227.1,522.9 226.4,513.9Z" fill="#1a6a2e" stroke="#06140a" stroke-width="1.3" stroke-linejoin="round"/><path d="M253.1,540.1 252.6,546.7 252.1,553.4 251.5,560 251,566.7 250.5,573.3 250.1,580 249.6,586.7 249.2,593.3 248.8,600 248.5,606.7 248.1,613.3 247.8,620 247.5,626.6 247.1,633.3 246.8,640 246.4,646.6 246,653.3 245.7,659.9 245.3,666.6 245,673.3 244.6,679.9 244.2,686.6 243.8,693.3 243.5,699.9 243.1,706.6 242.8,713.3 242.5,719.9 242.2,726.6 241.9,733.3 241.7,739.9 241.4,746.6 241.2,753.3 241,760 240.7,766.6 240.5,773.3 240.3,780 240.1,786.6 239.8,793.3 239.6,800 240.4,800 240.7,793.3 241,786.7 241.4,780 241.7,773.4 242,766.7 242.3,760 242.7,753.4 243,746.7 243.4,740 243.7,733.4 244.1,726.7 244.5,720 244.9,713.4 245.3,706.7 245.8,700.1 246.2,693.4 246.7,686.8 247.2,680.1 247.7,673.4 248.2,666.8 248.6,660.1 249,653.5 249.4,646.8 249.7,640.1 250,633.4 250.3,626.8 250.5,620.1 250.7,613.4 250.9,606.8 251.1,600.1 251.4,593.4 251.6,586.8 251.8,580.1 252.1,573.4 252.3,566.7 252.6,560.1 252.8,553.4 253,546.7 253.3,540.1Z" fill="#0e3d1c" stroke="#06140a" stroke-width="1.3" stroke-linejoin="round"/><path d="M268.8,544.6 266.9,552.7 265,560.9 263.2,569.1 261.6,577.3 260.2,585.6 258.9,593.9 257.8,602.2 256.9,610.6 256,618.9 255.2,627.2 254.5,635.6 253.9,644 253.4,652.3 253,660.7 252.7,669.1 252.4,677.5 252.3,685.9 252.3,694.3 252.4,702.7 252.6,711 252.7,719.4 252.9,727.8 253.1,736.1 253.3,744.5 253.5,752.9 253.7,761.2 253.9,769.6 254,778 254.2,786.3 254.3,794.7 254.4,803.1 254.5,811.4 254.5,819.8 254.5,828.2 254.5,836.5 254.5,844.9 254.4,853.3 254.4,861.6 254.4,870 255.6,870 255.8,861.6 256,853.3 256.2,844.9 256.5,836.5 256.7,828.2 256.8,819.8 257,811.4 257.1,803.1 257.1,794.7 257.2,786.3 257.2,777.9 257.2,769.6 257.2,761.2 257.2,752.8 257.1,744.5 257.1,736.1 257.1,727.7 257.1,719.4 257.1,711 257.2,702.6 257.2,694.3 257.3,685.9 257.4,677.6 257.6,669.2 257.8,660.9 258.1,652.6 258.4,644.2 258.8,635.9 259.3,627.5 259.8,619.2 260.4,610.9 261.1,602.6 261.8,594.2 262.7,585.9 263.7,577.7 264.9,569.4 266.2,561.1 267.6,552.9 269,544.6Z" fill="#176b2c" stroke="#06140a" stroke-width="1.3" stroke-linejoin="round"/><path d="M212.6,562.8 211.8,570.4 210.9,578 210.1,585.6 209.4,593.2 208.9,600.9 208.6,608.6 208.4,616.2 208.3,623.9 208.4,631.6 208.6,639.2 208.8,646.9 209.2,654.5 209.6,662.2 210,669.8 210.6,677.5 211.2,685.1 212,692.8 213,700.4 214.3,708 215.5,715.5 216.5,723 217.3,730.6 218.1,738.2 218.9,745.8 219.6,753.4 220.3,761 220.9,768.6 221.6,776.2 222.3,783.8 222.9,791.5 223.5,799.1 224.2,806.7 224.8,814.3 225.4,821.9 226,829.6 226.7,837.2 227.3,844.8 227.9,852.4 228.5,860 229.5,860 229,852.3 228.5,844.7 228.1,837.1 227.6,829.4 227.1,821.8 226.6,814.2 226.2,806.5 225.7,798.9 225.2,791.3 224.6,783.7 224.1,776 223.6,768.4 223.1,760.8 222.5,753.1 222,745.5 221.3,737.9 220.7,730.2 220,722.6 219.1,715 218,707.4 216.9,699.8 216,692.3 215.2,684.7 214.5,677.1 213.9,669.5 213.3,661.9 212.8,654.3 212.3,646.7 211.9,639.1 211.5,631.5 211.2,623.8 211,616.2 210.9,608.6 211,601 211.2,593.3 211.5,585.7 211.9,578.1 212.3,570.5 212.8,562.8Z" fill="#14592a" stroke="#06140a" stroke-width="1.3" stroke-linejoin="round"/><path d="M409,552.5 404.2,559.6 399.5,566.6 394.8,573.6 390.1,580.7 385.4,587.8 380.7,594.9 376.1,601.9 371.4,609 366.6,615.9 361.8,622.9 356.8,629.7 351.8,636.5 346.7,643.3 341.5,649.9 336.2,656.5 330.8,663 325.4,669.5 320.1,676.2 314.9,682.9 309.8,689.7 304.9,696.8 300.6,704.3 296.9,712.1 293.5,719.9 290.2,727.8 287.3,735.9 284.5,743.9 281.7,751.8 278.8,759.8 275.9,767.8 272.9,775.7 269.9,783.6 266.9,791.6 264.3,799.7 261.8,807.8 259.7,816.1 257.8,824.4 256,832.6 254.1,840.9 255.4,841.2 257.5,833 259.5,824.8 261.6,816.6 263.9,808.4 266.5,800.4 269.3,792.5 272.5,784.6 275.6,776.8 278.8,768.9 281.9,761 284.9,753 288,745.1 291,737.2 294,729.3 297.4,721.6 300.9,714 304.7,706.6 309,699.5 313.8,692.7 319,686.1 324.4,679.5 329.7,673 335,666.4 340.4,659.9 345.7,653.2 350.8,646.4 355.8,639.5 360.7,632.5 365.5,625.4 370.1,618.3 374.7,611.1 379.1,603.9 383.5,596.6 387.8,589.3 392.1,582 396.4,574.7 400.7,567.3 404.9,560 409.1,552.6Z" fill="#196a2c" stroke="#06140a" stroke-width="1.3" stroke-linejoin="round"/><path d="M383.3,648.1 377.9,648 372.4,648 366.9,648.5 361.5,649.8 356.4,652 351.5,654.6 346.9,657.7 342.5,661 338.3,664.6 334.3,668.4 330.5,672.3 326.7,676.3 323,680.3 319.4,684.5 315.9,688.7 312.5,693 309.3,697.5 306.4,702.2 303.7,707.1 301.2,712 299,717.1 296.9,722.1 295,727.3 293.1,732.4 291.3,737.5 289.6,742.7 287.8,747.8 286.1,753 284.3,758.1 282.6,763.3 280.9,768.5 279.2,773.6 277.5,778.8 275.8,784 274.2,789.1 272.5,794.3 270.8,799.5 269.1,804.6 267.5,809.8 268.5,810.2 270.4,805.1 272.2,799.9 274,794.8 275.8,789.7 277.7,784.6 279.5,779.5 281.3,774.3 283.2,769.2 285,764.1 286.9,759 288.8,753.9 290.6,748.8 292.5,743.7 294.4,738.7 296.4,733.6 298.4,728.6 300.5,723.6 302.6,718.7 304.9,713.8 307.4,709.1 310.1,704.5 313.1,700 316.1,695.7 319.4,691.4 322.7,687.2 326.2,683.1 329.7,679 333.3,674.9 336.9,671 340.7,667.1 344.5,663.4 348.6,660 353,656.9 357.4,654 362.2,651.7 367.3,650 372.5,649.1 377.9,648.7 383.3,648.2Z" fill="#2a8f3d" stroke="#06140a" stroke-width="1.3" stroke-linejoin="round"/><path d="M377.6,649.7 376,650.6 374.3,651.5 372.7,652.4 371,653.3 369.4,654.2 367.8,655.2 366.2,656.1 364.6,657.1 363,658.1 361.4,659.1 359.9,660.1 358.3,661.2 356.8,662.2 355.2,663.3 353.7,664.4 352.2,665.5 350.7,666.6 349.2,667.8 347.8,668.9 346.4,670.1 344.9,671.3 343.5,672.6 342.1,673.8 340.7,675 339.3,676.2 337.9,677.5 336.5,678.8 335.1,680 333.7,681.3 332.4,682.6 331,683.9 329.7,685.2 328.3,686.5 327,687.8 325.7,689.1 324.4,690.5 323.1,691.8 321.7,693.1 320.4,694.4 321.1,695.1 322.5,693.9 323.9,692.7 325.3,691.5 326.8,690.3 328.2,689.1 329.6,687.8 331,686.6 332.4,685.5 333.8,684.3 335.3,683.1 336.7,681.9 338.2,680.8 339.7,679.7 341.1,678.5 342.6,677.4 344.1,676.3 345.6,675.2 347.1,674.1 348.6,673 350.1,672 351.6,670.9 353.1,669.8 354.6,668.6 356.1,667.5 357.5,666.4 359,665.2 360.4,664.1 361.9,662.9 363.4,661.8 364.8,660.6 366.3,659.4 367.7,658.3 369.2,657.1 370.6,655.9 372,654.7 373.5,653.5 374.9,652.3 376.3,651 377.7,649.8Z" fill="#2a8f3d" stroke="#06140a" stroke-width="1.3" stroke-linejoin="round"/><path d="M333.3,657.6 329.3,658.2 325.2,658.7 321.3,659.9 317.6,661.8 314.2,664.3 311.2,667.1 308.5,670.1 305.8,673.2 303.3,676.4 300.9,679.7 298.5,683 296.3,686.5 294.2,690 292.2,693.6 290.4,697.2 288.7,700.9 287.1,704.7 285.6,708.5 284.4,712.4 283.2,716.3 282.1,720.2 281.1,724.2 280.1,728.1 279.2,732.1 278.4,736 277.5,739.9 276.7,743.9 275.8,747.8 275,751.7 274.1,755.7 273.2,759.6 272.3,763.5 271.4,767.4 270.4,771.3 269.5,775.2 268.5,779.1 267.5,783 266.6,787 265.6,790.9 266.7,791.2 267.8,787.3 268.9,783.4 270,779.5 271.2,775.7 272.3,771.8 273.4,767.9 274.4,764 275.5,760.2 276.6,756.3 277.6,752.4 278.6,748.5 279.6,744.6 280.6,740.7 281.6,736.8 282.6,732.9 283.7,729 284.7,725.2 285.9,721.3 287.1,717.5 288.4,713.8 289.8,710.1 291.2,706.4 292.8,702.7 294.3,699.1 296.1,695.5 297.9,692 299.8,688.5 301.8,685.1 303.9,681.8 306.1,678.5 308.4,675.2 310.7,672 313.2,668.9 315.8,666 318.7,663.4 321.9,661.3 325.5,659.8 329.4,658.8 333.3,657.8Z" fill="#237a35" stroke="#06140a" stroke-width="1.3" stroke-linejoin="round"/><path d="M143.7,614.8 147.4,617.3 151.1,619.8 154.8,622.2 158.4,624.8 161.8,627.6 165.2,630.5 168.3,633.5 171.4,636.7 174.4,639.9 177.3,643.2 180.2,646.6 182.9,650 185.6,653.5 188.2,657.1 190.8,660.7 193.4,664.3 195.9,668 198.4,671.6 200.9,675.2 203.2,678.9 205.3,682.6 207,686.6 208.7,690.7 210.2,694.8 211.5,699 212.7,703.2 213.9,707.5 214.9,711.8 215.9,716.2 216.9,720.5 217.8,724.9 218.6,729.2 219.3,733.6 220,738 220.7,742.4 221.4,746.8 222,751.3 222.7,755.7 223.4,760.1 224.6,759.9 224.1,755.5 223.6,751 223.1,746.6 222.6,742.2 222.1,737.7 221.6,733.3 221,728.8 220.4,724.4 219.6,720 218.9,715.6 218,711.2 217.1,706.8 216.2,702.4 215.1,698 213.9,693.6 212.5,689.3 211,685 209.3,680.8 207.2,676.6 205,672.7 202.5,668.8 200,665.1 197.4,661.4 194.8,657.8 192.1,654.2 189.3,650.6 186.4,647.2 183.4,643.8 180.4,640.5 177.2,637.2 173.9,634.1 170.5,631.1 167,628.2 163.4,625.6 159.6,623.1 155.7,620.8 151.7,618.7 147.8,616.6 143.8,614.6Z" fill="#237a35" stroke="#06140a" stroke-width="1.3" stroke-linejoin="round"/><path d="M181.4,651.6 182.1,654.9 182.8,658.3 183.5,661.7 184.2,665.1 184.8,668.4 185.5,671.8 186.2,675.2 186.9,678.5 187.6,681.9 188.2,685.3 188.9,688.6 189.6,692 190.2,695.4 190.9,698.8 191.5,702.1 192.2,705.5 192.9,708.9 193.6,712.3 194.4,715.6 195.1,719 195.9,722.3 196.7,725.7 197.5,729 198.3,732.4 199.1,735.7 199.9,739.1 200.7,742.4 201.5,745.7 202.4,749.1 203.3,752.4 204.2,755.7 205.1,759 206.1,762.3 207.1,765.6 208.1,768.9 209.2,772.2 210.3,775.5 211.4,778.7 212.4,782 212.9,781.8 211.9,778.5 210.9,775.3 209.9,772 208.9,768.7 207.9,765.4 207,762.1 206.1,758.8 205.2,755.5 204.4,752.1 203.6,748.8 202.8,745.4 202,742.1 201.2,738.7 200.5,735.4 199.8,732 199.1,728.7 198.3,725.3 197.6,721.9 196.9,718.6 196.2,715.2 195.5,711.8 194.9,708.5 194.2,705.1 193.5,701.8 192.8,698.4 192.1,695 191.3,691.7 190.6,688.3 189.8,684.9 189.1,681.6 188.3,678.2 187.5,674.9 186.7,671.5 185.8,668.2 185,664.9 184.1,661.5 183.3,658.2 182.4,654.9 181.6,651.5Z" fill="#0b2b14" stroke="#06140a" stroke-width="1.3" stroke-linejoin="round"/><path d="M286.6,611.7 284.9,616 283.2,620.4 281.5,624.7 279.9,629.1 278.5,633.6 277.2,638.1 276.1,642.6 275.2,647.2 274.3,651.8 273.6,656.5 272.9,661.1 272.2,665.7 271.5,670.3 270.8,674.9 270.1,679.5 269.4,684.1 268.7,688.7 268.1,693.3 267.4,697.9 266.9,702.5 266.4,707.2 266,711.8 265.7,716.5 265.4,721.2 265.1,725.8 264.8,730.5 264.7,735.1 264.5,739.8 264.3,744.4 264.2,749.1 264.2,753.8 264.1,758.4 264,763.1 263.9,767.7 263.9,772.4 263.8,777 263.7,781.7 263.6,786.3 263.6,791 264.4,791 264.6,786.4 264.8,781.7 265,777.1 265.2,772.4 265.4,767.8 265.6,763.1 265.8,758.5 266,753.8 266.2,749.2 266.4,744.5 266.7,739.9 267,735.2 267.3,730.6 267.7,726 268.1,721.4 268.5,716.7 268.9,712.1 269.5,707.5 270.1,702.9 270.7,698.3 271.5,693.8 272.2,689.2 272.8,684.6 273.5,679.9 274.1,675.3 274.7,670.7 275.3,666.1 275.9,661.5 276.5,656.9 277,652.2 277.6,647.7 278.3,643.1 279.2,638.6 280.2,634 281.3,629.6 282.6,625.1 284,620.7 285.3,616.2 286.7,611.8Z" fill="#14592a" stroke="#06140a" stroke-width="1.3" stroke-linejoin="round"/><path d="M65.9,705.8 72.1,705.9 78.2,706 84.3,706 90.5,706.1 96.5,706.5 102.5,707.1 108.4,708.2 114.2,709.8 119.7,712 125.2,714.6 130.5,717.4 135.6,720.6 140.6,723.9 145.5,727.5 150.3,731.2 155,735 159.5,739 163.9,743.1 168.1,747.4 172,752 175.7,756.7 179.3,761.6 182.6,766.7 185.8,771.9 188.8,777.1 191.7,782.5 194.5,787.9 197.2,793.4 200,798.9 202.7,804.4 205.3,809.9 208,815.4 210.5,821 213,826.6 215.4,832.2 217.8,837.9 220,843.6 222.3,849.3 224.6,854.9 225.8,854.5 223.7,848.7 221.5,843 219.4,837.2 217.2,831.5 215,825.8 212.6,820.1 210.2,814.4 207.7,808.8 205.2,803.2 202.7,797.6 200.1,792 197.5,786.5 194.8,780.9 192,775.4 189.1,769.9 186,764.5 182.8,759.3 179.3,754.1 175.6,749.1 171.6,744.3 167.4,739.7 162.9,735.3 158.2,731.2 153.3,727.3 148.4,723.6 143.2,720.1 138,716.7 132.5,713.6 126.9,710.9 121.2,708.4 115.2,706.4 109.1,705 102.9,704.2 96.7,703.9 90.5,703.9 84.3,704.3 78.2,704.7 72,705.1 65.9,705.6Z" fill="#2a8f3d" stroke="#06140a" stroke-width="1.3" stroke-linejoin="round"/><path d="M105.8,777.4 108.8,775.9 111.8,774.4 114.7,772.9 117.7,771.4 120.7,769.9 123.7,768.4 126.6,766.9 129.6,765.4 132.6,763.9 135.6,762.4 138.6,761 141.6,759.5 144.6,758.1 147.6,756.8 150.6,755.5 153.7,754.3 156.8,753.2 159.9,752.1 163,751.2 166.1,750.3 169.3,749.6 172.5,749.1 175.7,748.9 178.8,749.1 181.9,749.6 185,750.6 187.9,751.9 190.7,753.5 193.3,755.4 195.8,757.5 198.1,759.8 200.2,762.3 202.1,765 204,767.7 205.6,770.6 207.3,773.4 209,776.3 210.6,779.2 212.3,782.1 213.1,781.7 211.5,778.7 210,775.8 208.4,772.8 206.9,769.9 205.3,766.9 203.5,764 201.6,761.2 199.5,758.5 197.2,756 194.7,753.7 191.9,751.6 189,749.8 185.9,748.2 182.6,747.1 179.2,746.3 175.7,746 172.2,746.1 168.8,746.5 165.4,747.1 162.1,747.9 158.8,748.8 155.6,749.8 152.4,751 149.3,752.3 146.2,753.7 143.1,755.1 140.1,756.6 137.2,758.2 134.2,759.8 131.3,761.4 128.4,763.1 125.5,764.8 122.6,766.5 119.8,768.3 117,770.1 114.1,771.9 111.3,773.7 108.5,775.5 105.7,777.3Z" fill="#237a35" stroke="#06140a" stroke-width="1.3" stroke-linejoin="round"/><path d="M179.8,927.5 180.8,924.6 181.8,921.7 182.8,918.7 183.8,915.7 184.7,912.8 185.7,909.8 186.7,906.9 187.7,904 188.8,901.1 189.9,898.3 191.1,895.4 192.2,892.6 193.4,889.7 194.7,886.9 195.9,884.1 197.2,881.3 198.4,878.5 199.7,875.7 201,872.9 202.2,870.1 203.6,867.3 205,864.6 206.4,861.8 207.9,859.2 209.4,856.5 211,854 212.8,851.6 214.7,849.3 216.8,847.3 219.1,845.6 221.7,844.2 224.5,843.1 227.3,842.3 230.3,841.7 233.3,841.4 236.4,841.2 239.4,841.4 242.5,841.5 245.6,841.7 245.7,840.4 242.6,840.1 239.5,839.8 236.4,839.5 233.2,839.4 230,839.6 226.9,840.1 223.7,840.7 220.7,841.7 217.7,843.1 214.9,844.9 212.4,847.1 210.2,849.4 208.2,851.9 206.3,854.5 204.5,857.2 202.9,859.8 201.2,862.5 199.7,865.3 198.2,868 196.7,870.8 195.3,873.6 193.9,876.4 192.6,879.3 191.4,882.2 190.2,885.1 189.1,888 188,891 187,893.9 186,896.9 185.2,899.9 184.3,903 183.6,906 182.8,909.1 182.2,912.1 181.7,915.2 181.1,918.3 180.6,921.3 180.1,924.4 179.6,927.5Z" fill="#237a35" stroke="#06140a" stroke-width="1.3" stroke-linejoin="round"/><path d="M326.5,827.4 326,825 325.5,822.6 325,820.2 324.5,817.8 324,815.4 323.4,813 322.9,810.6 322.2,808.2 321.5,805.9 320.8,803.5 320,801.1 319.1,798.8 318.1,796.5 317.1,794.2 316,791.9 314.7,789.8 313.5,787.6 312,785.5 310.5,783.4 308.7,781.4 306.9,779.5 304.8,777.8 302.6,776.2 299.9,774.9 296.4,774.4 292.9,775.4 290.3,777.4 288.5,779.7 287.1,782 285.9,784.3 284.7,786.5 283.7,788.8 282.7,791 281.7,793.3 280.8,795.7 279.9,798 279,800.2 278.2,802.5 277.3,804.8 282.3,806.8 283.3,804.6 284.2,802.3 285.1,800 286.1,797.8 287,795.6 288,793.4 289.1,791.3 290.1,789.2 291.2,787 292.3,784.9 293.4,783 294.5,781.5 295.6,780.5 296.8,780.1 298.2,780.3 299.8,781.1 301.6,782.2 303.4,783.5 305,785.1 306.6,786.7 308,788.4 309.5,790.3 310.8,792.2 312.1,794.2 313.3,796.2 314.5,798.3 315.6,800.4 316.7,802.5 317.7,804.7 318.6,806.9 319.5,809.2 320.4,811.4 321.3,813.7 322.1,816 322.9,818.3 323.8,820.6 324.6,822.9 325.5,825.1 326.4,827.4Z" fill="#196a2c" stroke="#06140a" stroke-width="1.3" stroke-linejoin="round"/><path d="M266.2,826.4 267.4,826.2 268.6,826.1 269.8,825.9 271,825.8 272.2,825.6 273.4,825.5 274.6,825.3 275.7,825.1 276.9,825 278,825 279.2,825 280.4,824.9 281.5,825 282.7,825.1 283.8,825.1 285,825.3 286.1,825.5 287.3,825.7 288.4,825.9 289.5,826.2 290.7,826.5 291.8,826.8 292.9,827.1 294.1,827.5 295.2,827.9 296.2,828.4 297.3,828.9 298.4,829.3 299.4,829.9 300.4,830.5 301.5,831.1 302.4,831.7 303.4,832.5 304.4,833.2 305.3,833.9 306.3,834.6 307.3,835.3 308.2,836 309.2,836.8 309.6,836.3 308.7,835.5 307.8,834.7 306.8,833.9 305.9,833.1 305,832.3 304.1,831.6 303.2,830.8 302.2,830 301.2,829.3 300.2,828.6 299.1,828 298.1,827.4 297,826.8 295.9,826.2 294.8,825.7 293.6,825.2 292.5,824.8 291.3,824.4 290.2,824 289,823.6 287.8,823.3 286.5,823.1 285.3,822.9 284.1,822.7 282.8,822.7 281.6,822.7 280.3,822.7 279.1,822.8 277.9,823 276.6,823.1 275.4,823.4 274.2,823.7 273.1,824.1 271.9,824.4 270.7,824.7 269.6,825.1 268.4,825.5 267.3,825.9 266.1,826.2Z" fill="#0b2b14" stroke="#06140a" stroke-width="1.3" stroke-linejoin="round"/><path d="M213.7,700 214,704.2 214.4,708.4 214.7,712.7 215.1,716.9 215.4,721.1 215.8,725.3 216.3,729.5 216.7,733.7 217.1,737.9 217.5,742.1 218,746.3 218.4,750.5 218.9,754.7 219.4,758.9 219.8,763.1 220.3,767.3 220.8,771.5 221.3,775.7 221.9,779.8 222.4,784 222.9,788.2 223.4,792.4 223.9,796.6 224.4,800.8 224.9,805 225.3,809.2 225.8,813.4 226.2,817.6 226.6,821.8 227,826 227.4,830.2 227.8,834.4 228.1,838.6 228.5,842.8 228.9,847 229.2,851.2 229.6,855.4 230,859.6 230.3,863.8 231.5,863.8 231.3,859.5 231,855.3 230.8,851.1 230.6,846.9 230.4,842.7 230.2,838.4 230,834.2 229.8,830 229.5,825.8 229.3,821.6 229,817.3 228.8,813.1 228.5,808.9 228.2,804.7 227.9,800.5 227.6,796.2 227.2,792 226.9,787.8 226.5,783.6 226.1,779.4 225.7,775.2 225.3,771 224.7,766.8 224.2,762.6 223.7,758.4 223.1,754.2 222.5,750 221.8,745.8 221.2,741.6 220.5,737.5 219.9,733.3 219.2,729.1 218.5,724.9 217.7,720.8 217,716.6 216.2,712.5 215.5,708.3 214.7,704.1 213.9,700Z" fill="#176b2c" stroke="#06140a" stroke-width="1.3" stroke-linejoin="round"/><path d="M243.3,722.8 244.1,726.9 244.9,730.9 245.7,735 246.5,739.1 247.3,743.1 248.1,747.1 249,751.2 249.8,755.2 250.6,759.3 251.3,763.3 252,767.3 252.8,771.4 253.5,775.4 254.1,779.5 254.8,783.6 255.4,787.6 256,791.7 256.7,795.7 257.2,799.8 257.7,803.8 258.2,807.9 258.6,812 258.9,816.1 259.2,820.2 259.5,824.3 259.7,828.4 259.9,832.5 260.1,836.6 260.3,840.7 260.3,844.9 260.4,849 260.5,853.1 260.6,857.2 260.6,861.4 260.7,865.5 260.8,869.6 260.9,873.7 261,877.9 261,882 262.2,882 262.2,877.9 262.3,873.7 262.4,869.6 262.5,865.5 262.6,861.4 262.6,857.2 262.7,853.1 262.8,849 262.9,844.9 262.9,840.7 263,836.6 262.9,832.4 262.9,828.3 262.9,824.1 262.7,820 262.5,815.9 262.4,811.7 262.1,807.6 261.8,803.4 261.5,799.3 261,795.1 260.5,791 259.8,786.9 259.1,782.8 258.4,778.7 257.6,774.7 256.8,770.6 255.9,766.6 255,762.5 253.9,758.5 252.9,754.5 251.9,750.5 250.7,746.5 249.5,742.5 248.4,738.6 247.2,734.6 246,730.7 244.7,726.7 243.5,722.8Z" fill="#196a2c" stroke="#06140a" stroke-width="1.3" stroke-linejoin="round"/><path d="M268.3,700 267.9,705 267.4,710 267,715.1 266.6,720.1 266.2,725.1 265.8,730.1 265.3,735.1 264.9,740.1 264.5,745.2 264,750.2 263.6,755.2 263.2,760.2 262.7,765.2 262.3,770.2 261.8,775.2 261.4,780.2 261,785.2 260.6,790.3 260.2,795.3 259.8,800.3 259.4,805.3 259,810.3 258.6,815.4 258.2,820.4 257.8,825.4 257.4,830.4 257,835.4 256.6,840.5 256.2,845.5 255.8,850.5 255.4,855.5 254.9,860.5 254.5,865.5 254.1,870.6 253.7,875.6 253.3,880.6 252.8,885.6 252.4,890.6 252,895.7 253,895.7 253.6,890.7 254.1,885.7 254.7,880.7 255.2,875.7 255.8,870.7 256.3,865.7 256.9,860.7 257.5,855.7 258,850.7 258.6,845.7 259.1,840.7 259.7,835.7 260.2,830.7 260.8,825.7 261.3,820.7 261.9,815.7 262.4,810.6 262.9,805.6 263.5,800.6 264,795.6 264.5,790.6 264.9,785.6 265.4,780.6 265.7,775.5 266.1,770.5 266.4,765.5 266.8,760.5 267.1,755.4 267.3,750.4 267.5,745.4 267.8,740.3 267.9,735.3 268.1,730.2 268.2,725.2 268.3,720.2 268.4,715.1 268.4,710.1 268.4,705 268.5,700Z" fill="#14592a" stroke="#06140a" stroke-width="1.3" stroke-linejoin="round"/><path d="M313.8,700 311.9,703.2 310,706.5 308.2,709.7 306.3,713 304.5,716.3 302.6,719.6 300.8,722.9 299,726.2 297.3,729.6 295.5,732.9 293.8,736.3 292.2,739.7 290.5,743.1 289,746.5 287.4,749.9 285.9,753.4 284.4,756.8 282.9,760.3 281.6,763.9 280.2,767.4 278.9,770.9 277.6,774.5 276.4,778.1 275.2,781.6 274,785.2 272.9,788.8 271.8,792.4 270.7,796.1 269.7,799.7 268.8,803.4 267.8,807 266.9,810.7 266.1,814.4 265.2,818 264.4,821.7 263.6,825.4 262.7,829 261.9,832.7 261.1,836.4 262.1,836.6 263.1,833 264.1,829.4 265.1,825.8 266.1,822.1 267.1,818.5 268.1,814.9 269.1,811.2 270.1,807.6 271.2,804.1 272.3,800.5 273.4,796.9 274.7,793.4 275.9,789.8 277.1,786.3 278.5,782.8 279.8,779.3 281.2,775.8 282.6,772.4 284.1,768.9 285.5,765.5 287,762 288.5,758.6 290,755.1 291.4,751.7 292.9,748.2 294.4,744.8 295.9,741.4 297.4,737.9 298.9,734.5 300.4,731.1 301.9,727.6 303.5,724.2 305,720.8 306.5,717.3 308.1,713.9 309.6,710.4 311,707 312.5,703.5 314,700Z" fill="#176b2c" stroke="#06140a" stroke-width="1.3" stroke-linejoin="round"/><path d="M293.4,700 292.5,701.9 291.7,703.9 290.8,705.9 290,707.8 289.1,709.8 288.3,711.8 287.5,713.8 286.7,715.8 285.9,717.8 285.2,719.8 284.4,721.8 283.6,723.8 282.9,725.8 282.2,727.8 281.5,729.9 280.8,731.9 280.1,733.9 279.5,736 278.9,738 278.4,740.1 277.8,742.2 277.2,744.2 276.6,746.3 276.1,748.4 275.5,750.4 275,752.5 274.4,754.6 273.9,756.7 273.3,758.7 272.8,760.8 272.2,762.9 271.7,765 271.2,767 270.6,769.1 270.1,771.2 269.5,773.2 269,775.3 268.5,777.4 267.9,779.5 268.9,779.7 269.6,777.7 270.2,775.7 270.9,773.6 271.6,771.6 272.2,769.6 272.9,767.5 273.6,765.5 274.3,763.5 274.9,761.4 275.6,759.4 276.3,757.4 277,755.4 277.7,753.3 278.3,751.3 279,749.3 279.7,747.3 280.4,745.2 281.1,743.2 281.8,741.2 282.6,739.2 283.3,737.2 283.9,735.1 284.6,733.1 285.2,731.1 285.9,729 286.5,727 287.1,724.9 287.7,722.9 288.3,720.8 288.9,718.8 289.4,716.7 290,714.6 290.5,712.6 291.1,710.5 291.6,708.4 292.1,706.3 292.6,704.2 293.1,702.1 293.6,700Z" fill="#196a2c" stroke="#06140a" stroke-width="1.3" stroke-linejoin="round"/><path d="M241.2,859.3 241.6,858.8 242,858.3 242.4,857.9 242.8,857.4 243.2,856.8 243.6,856.3 243.9,855.8 244.3,855.3 244.7,854.8 245,854.3 245.4,853.7 245.7,853.2 246,852.6 246.3,852.1 246.6,851.6 246.9,851.2 247.3,850.7 247.6,850.1 247.9,849.6 248.2,849.1 248.4,848.6 248.8,848.2 249.2,847.7 249.6,847.2 249.9,846.8 250.3,846.4 250.7,846 251.2,845.6 251.6,845.2 252.1,845 252.6,844.7 253.2,844.4 253.7,844.2 254.3,843.9 254.9,843.6 255.4,843.4 256,843.1 256.6,842.8 257.1,842.6 256.9,841.8 256.3,842 255.7,842.2 255.1,842.4 254.4,842.5 253.8,842.7 253.2,842.9 252.6,843.1 252,843.2 251.4,843.4 250.7,843.7 250.1,844.1 249.6,844.4 249,844.7 248.4,845.1 247.9,845.6 247.4,846 246.9,846.5 246.4,846.9 245.9,847.5 245.5,848 245.1,848.5 244.8,849 244.4,849.6 244,850.2 243.8,850.8 243.5,851.4 243.3,852 243,852.6 242.8,853.1 242.6,853.7 242.4,854.3 242.2,854.9 242,855.5 241.8,856.2 241.6,856.8 241.5,857.4 241.3,858 241.2,858.6 241,859.3Z" fill="#196a2c" stroke="#06140a" stroke-width="1.3" stroke-linejoin="round"/><path d="M235.9,740 236,743.7 236,747.5 236.1,751.2 236.1,755 236.2,758.7 236.3,762.4 236.4,766.2 236.6,769.9 236.7,773.7 236.8,777.4 237.1,781.1 237.3,784.9 237.5,788.6 237.7,792.3 238,796.1 238.4,799.8 238.7,803.5 239.1,807.3 239.5,811 240,814.7 240.4,818.4 241,822.1 241.5,825.8 242,829.5 242.5,833.2 243,836.9 243.5,840.6 244,844.3 244.5,848 245,851.7 245.5,855.4 246,859.1 246.5,862.8 247,866.5 247.5,870.2 248,873.9 248.5,877.6 249,881.4 249.5,885.1 250.5,884.9 250.1,881.2 249.8,877.5 249.4,873.8 249.1,870.1 248.7,866.3 248.4,862.6 248,858.9 247.6,855.2 247.3,851.5 246.9,847.7 246.5,844 246.2,840.3 245.8,836.6 245.4,832.9 245.1,829.2 244.7,825.4 244.3,821.7 243.9,818 243.6,814.3 243.3,810.6 243,806.9 242.7,803.2 242.3,799.4 241.9,795.7 241.6,792 241.2,788.3 240.9,784.6 240.5,780.9 240.1,777.2 239.8,773.4 239.4,769.7 239,766 238.7,762.3 238.3,758.6 237.9,754.9 237.4,751.1 237,747.4 236.5,743.7 236.1,740Z" fill="#0e3d1c" stroke="#06140a" stroke-width="1.3" stroke-linejoin="round"/><path d="M110.3,545.7L206,579.5" stroke="#ed1c24" stroke-width="1.9" fill="none"/><path d="M231.5,588.5L202.7,588.9L208.4,572.9Z" fill="#ed1c24"/><path d="M110.3,545.7L230.8,599.1" stroke="#ed1c24" stroke-width="1.9" fill="none"/><path d="M255.5,610L226.8,608.2L233.6,592.7Z" fill="#ed1c24"/><path d="M110.3,545.7L224.5,616.3" stroke="#ed1c24" stroke-width="1.9" fill="none"/><path d="M247.5,630.5L219.3,624.8L228.2,610.4Z" fill="#ed1c24"/><path d="M114.4,657.2L243.7,700.1" stroke="#ed1c24" stroke-width="1.9" fill="none"/><path d="M257,704.5L242.1,704.9L244.8,696.7Z" fill="#ed1c24"/><path d="M114.4,657.2L209.5,722.3" stroke="#ed1c24" stroke-width="1.9" fill="none"/><path d="M231,737L204.3,730L213.2,716.9Z" fill="#ed1c24"/><path d="M114.4,657.2L245,788" stroke="#ed1c24" stroke-width="1.9" fill="none"/><path d="M262,805L238.9,794.1L249.3,783.7Z" fill="#ed1c24"/><path d="M120.5,761L197.5,816.5" stroke="#ed1c24" stroke-width="1.9" fill="none"/><path d="M221,833.5L191.6,824.6L201.6,810.9Z" fill="#ed1c24"/><path d="M120.5,761L197.8,832.8" stroke="#ed1c24" stroke-width="1.9" fill="none"/><path d="M219,852.5L190.9,840.1L202.5,827.6Z" fill="#ed1c24"/><path d="M120.5,761L230.6,866.9" stroke="#ed1c24" stroke-width="1.9" fill="none"/><path d="M251.5,887L223.7,874.1L235.5,861.9Z" fill="#ed1c24"/><path d="M120.5,761L196,788" stroke="#e0606a" stroke-width="0.8" fill="none"/></g>
<g id="panelA" fill="none" stroke="#000" stroke-linecap="round"><path stroke-width="2.7" d="M215.9,13.1L234.2,11.2 M216,18.8L234,17.1 M216,25.4L234.1,23.3 M215.8,23.9L233.9,21.7 M214.8,30.8L234.9,29.2 M214.7,29.2L234.7,27.6 M214.6,36.7L235.6,34.2 M214.8,38.3L235.8,35.8 M214.8,42.4L235.3,40.7 M214.7,40.9L235.1,39.1 M216.1,47.9L234.1,46.4 M216.1,54L235.1,52.2 M216,52.4L234.9,50.6 M216.3,59.7L235,58.3 M216.6,65.1L235.5,63.8 M216.6,70.8L235,69.6 M216.1,76.9L236.2,75.5 M215.9,83.3L235.9,81.7 M215.5,89.1L235.8,87.3 M197.2,63L218.3,52.7 M198,68.3L216.9,57.4 M198.8,69.7L217.7,58.8 M198.4,74.3L216.6,64 M199.2,75.6L217.4,65.4 M197.8,78.9L216.3,68.9 M196.8,84.7L218.3,73.7 M196.1,83.3L217.6,72.3 M197.8,89.7L216,79.6 M198.3,94.6L215.6,85 M196.7,100.5L217.2,90.4 M196.9,107L217.5,95.2 M196.8,111.3L215.8,101 M196,109.9L215,99.6 M196.4,116.2L216,106.7 M195.7,114.8L215.3,105.2 M196.1,121.8L217.3,110.5 M196.9,123.2L218.1,112 M197.2,127L215.4,116.7 M198,128.4L216.2,118.1 M243.7,38.6L262.3,34.9 M243.7,47.2L261.3,42.9 M242,55.4L260.8,51.7 M240.9,64.2L261.2,59.6 M241.5,72.1L258.8,67.9 M258.2,51.4L278.6,37.8 M254.7,56.5L278.2,41.9 M253.9,61.3L273.6,48.3 M254.8,62.6L274.4,49.6 M251.2,68.9L274.9,53.4 M250.1,72.7L270.4,58.9 M246.9,79.1L270.6,64.6 M246.5,85.2L268.6,69.9 M245.7,89.3L266.1,76 M243.3,95.7L265.1,82.5 M242.8,101.5L262.7,88 M241.2,108L264,92.4 M129.3,109.7L155.7,76.2 M132.4,116.4L163.3,77.1 M139.5,117.5L165.7,82.6 M143.7,122.8L170.9,86.6 M148.5,126.8L177.2,89.9 M153,130.2L181.2,94.1 M159.7,133L184,100.4 M161.3,139.3L189.7,104.2 M166.6,142.3L192.3,110.8 M165.3,141.3L191,109.8 M169.3,149.9L196.3,115.3 M172.1,154.7L198.5,121.4 M175.3,160.1L200.8,127.7 M177.2,164.9L201.9,135.3 M180.3,169.9L202,140.7 M179.1,168.9L200.7,139.8 M181.5,176.6L203.3,147.5 M183,181.4L205,153.7 M185.9,186.2L206.1,161.2 M187.1,194L208,166.1 M189.4,197.8L207.3,174.4 M190.6,203.8L209.4,180.5 M191.9,211.5L210.7,186.1 M193.1,212.5L211.9,187 M194.4,215.9L211.7,192.3 M196.1,220.9L213.9,199.3 M199,226L215,205.7 M203.6,230.8L216.7,213.8 M204.6,237.9L218.5,218.9 M52.8,204.3L68.2,184.9 M63.8,204.2L79,185 M72.1,204.2L87.1,185.4 M82.3,204.2L96.9,185.8 M91.9,206.7L106.9,187.9 M103.8,210.2L118.1,192.2 M114.4,214.6L128.1,197.3 M124.8,220.5L138.1,203.7 M130.5,226.1L142.9,210.4 M141.5,232.7L153.7,217.4 M147.8,238L158.7,224.3 M158.8,250.9L168,238.9 M163.7,257.6L171.9,247.1 M169.1,265.5L176.7,255.3 M174,272.2L181.1,263.1 M178.5,280.7L185.7,270.7 M183.4,287.9L190.2,279.8 M187.3,296.3L194.2,287.8 M191,305L198,295.7 M195.1,311.9L200.9,304.2 M199.1,320.6L204.9,312.9 M203.1,328.3L209.1,320.8 M90.5,275.9L103.3,251.4 M93.9,273.2L106.7,250.5 M96.7,272.3L108.7,249.1 M99.6,269.4L111.1,248.8 M102.8,268.2L113.6,247.6 M104.8,268.4L117.8,245.6 M108.6,265.6L120.1,245 M111.6,264.1L122.6,245.3 M112.9,264L125.8,242.3 M116.2,262.7L129.3,241.3 M118.8,260.8L131.4,239.9 M123.1,258.9L133.8,240.3 M124.8,258.3L137.3,237.7 M127.9,257.2L140.1,237.6 M130.7,255.3L142.3,236.8 M134.1,255.5L146.1,234.8 M136.7,254.2L149,234.2 M140.1,252.3L150.6,234.2 M142.7,250.4L153.5,233.4 M145,250.8L157.5,231.5 M149.2,248.6L160.1,231.4 M151.7,248L163,231.5 M154.4,248.3L165.9,230.5 M157.8,247.8L169.2,230.5 M160.4,248.4L173.3,229.8 M162.7,248.4L175.7,229.9 M166.2,249.3L178.4,231 M169.8,249.7L181.8,232.8 M168.5,250.8L183.5,230.7 M171.7,255.1L187,233 M176.1,257.2L188.9,238.3 M179,260.4L193.5,241 M180.3,261.4L194.8,242 M181.9,264.7L197,244 M185.3,267.6L200.8,246.7 M188.9,272.2L203.7,250.7 M192,274.8L207.3,254.4 M196.1,279L210.8,257.3 M199,282.2L213.4,261.7 M200.3,283.2L214.7,262.6 M203,285.2L216.4,266.1 M206.6,287.9L219.1,270.2 M209.5,291.8L222.7,272.5 M213.1,295.1L225.6,277 M216.8,298.5L228.4,281.8 M219.5,302.3L231.5,285.9 M223.7,304.9L234,290.5 M197.9,129.4L217.6,116.4 M199.1,133.9L217.8,121.9 M198.1,137L218.3,123.8 M198.8,142.4L218.1,130.4 M199,145.1L218.1,132.8 M198.1,143.8L217.2,131.4 M197,151.1L216.8,137.5 M197.7,156.3L216.7,143.1 M199.7,159.9L218.9,145.6 M198.9,168.4L221.2,151.5 M202.1,171.6L221.3,156.4 M201.6,176L221.6,159.3 M199.9,179.8L222.2,162.4 M201.6,186.5L222.3,169.2 M205.9,188.8L224.7,173 M206.7,193.5L225,177.1 M206.3,198.2L224.6,182.1 M208.1,201.8L226.5,186.1 M209.2,207.2L226.1,190.6 M211.9,214L232.1,195.7 M212.9,216.6L232.7,196.4 M214.2,220.3L231.9,202.2 M215.3,221.4L233.1,203.4 M217.7,226L234.8,207.6 M216.9,231.5L235.2,212.3 M218.1,232.6L236.4,213.4 M219.7,234L236.5,215.5 M220.5,239.2L237.6,220.8 M224.3,241.5L240.3,223.8 M224.8,247L240.4,228.6 M227.4,253.3L243,234.5 M229.4,256.9L244.9,239.6 M228.2,255.9L243.7,238.6 M230.4,261.2L245.1,243 M230.5,264.4L246,246.9 M231.7,265.4L247.2,248 M233.7,268.1L248.7,250.9 M233.9,272.2L248,254.8 M236.4,276.4L248.2,261.5 M239.2,280.8L253.6,264.2 M238,279.7L252.4,263.2 M240.8,285.2L254.5,268.1 M242,286.2L255.8,269.1 M241.7,291L254.6,275.3 M241.7,295L254.1,278.6 M243.3,297.1L254.5,283.5 M244.4,302.4L256.3,288 M247.7,307.2L258.2,293.8 M216.3,91.6L237.6,86.4 M214.9,94.6L235.5,88.9 M214.4,101.6L238.2,95.3 M216.8,104.5L239.9,97.2 M216.4,109L237.4,102.3 M216.8,114.7L239.4,106.2 M217.4,116.2L240,107.7 M217.5,119.1L239.3,110.5 M218.1,120.6L239.9,112 M217,124.7L237.6,116.1 M217.6,130.5L238.4,121.4 M220.1,134.9L241.7,124.1 M220.2,142L242.2,130.3 M218.2,144.6L241.5,131.1 M219.2,152.1L243.1,138.1 M222.4,155.3L242.4,142.7 M221.4,160.6L244,145.8 M222.2,161.9L244.9,147.1 M222.3,164.3L242.9,150.6 M222.1,170.9L246.2,156 M223,172.2L247.1,157.3 M224.7,173.5L247.4,158 M224.8,180.7L249.2,164.6 M226.9,183.6L248,169.1 M226,182.3L247,167.8 M227.5,188.9L247.9,174 M229.2,192.6L251.2,175.3 M229.5,199.1L251.7,181.5 M230,203.7L252.4,186.3 M233,206.9L252.7,191.2 M231.9,211.6L254.8,193.8 M234.8,215.3L253.8,198.7 M236.6,219.4L255.2,203.7 M235,225.8L255.4,208.9 M239.3,231.1L258,215.7 M240.8,234.4L259.2,218.6 M241.5,240.2L259.4,224.6 M242.5,241.4L260.5,225.8 M241.3,244.1L258.8,227.9 M244.5,248.3L261.5,232 M243.9,251.9L260.6,235.9 M244.8,257.1L261.2,241 M244.5,264.1L261.7,246.1 M247.8,268.2L263.9,251.5 M248.4,271.6L265.2,254.2 M249.4,274.1L263.3,259.1 M248.9,281.1L265.1,264 M251.7,286.4L267.5,270.2 M251.6,289.2L264.9,275.1 M253.5,293.6L265.5,279.9 M252.3,292.6L264.3,278.8 M253,298L265,283.3 M253.5,303.4L266.2,288.8 M254.3,307.1L266.9,291.5 M253,306.1L265.7,290.5 M255.4,311.4L268,297.2 M256.6,312.5L269.2,298.2 M239.3,105.7L263.3,90.4 M239.6,108.4L260.3,94.1 M237.9,116.4L262.7,99.1 M240.6,120.4L263.1,104.6 M240.2,123.6L263.8,107.4 M239.9,129.5L264.5,113.8 M238.9,135.4L263.8,118 M242.2,137L264.6,122.5 M240,142.7L265.4,125.8 M243.2,150L267,133.4 M240.6,153.5L265.6,136.5 M241.7,157.1L266.2,140.1 M245,162.2L266.4,145.6 M244.7,167.8L269.3,150.3 M245.4,172.4L264.9,157.5 M245.3,177L268.4,160.1 M247.3,181.1L266.1,165.6 M246,184.8L268.2,168.2 M248.6,191.3L266.9,175.4 M249,196.8L270.8,178.1 M249.5,199.4L270.7,182.3 M252,206.4L272.9,187.6 M253.1,207.6L273.9,188.8 M253.8,209L271.7,193.6 M253.2,214.8L270.9,198.9 M254.3,216L272,200.1 M253.5,218.5L273.4,201.8 M252.7,223.4L272,206.5 M253.7,224.6L273,207.7 M254.5,228.7L272.4,212.6 M255.6,229.9L273.5,213.8 M256.4,232.4L271.5,217.6 M257.3,238L273.4,221.6 M259,240.5L274.7,225.2 M259.6,245.8L274.3,230.8 M258.4,244.7L273.2,229.7 M258.5,250.3L275.4,233.3 M260.4,256.9L276.1,239.9 M259.7,259.3L273.9,245 M260.6,266.6L275.4,250.2 M259.5,265.5L274.2,249.1 M260.4,269.8L273.1,255.8 M261.7,273.7L273.8,260.9 M263.3,277.3L275.1,263.5 M263,281.9L275.1,267.8 M262.7,285.9L273.4,273.2 M262.9,291.1L274.4,277.1 M264.6,297L274.3,284.8 M261.1,65.7L279.5,52.7 M262,67L280.4,54 M261.4,71.4L279,58.9 M262.3,72.7L279.9,60.2 M260.1,76.9L278.2,63.9 M258.8,83L278.3,69.7 M259,89L278.2,74.4 M258.5,92.8L276.6,79.9 M259.2,97.7L273.7,86.8 M259.1,102.1L272.6,91.7 M232.1,120.4L241.6,112.3 M232.5,125L242.1,117.3 M234.6,128.2L244,120.3 M234.9,131.6L245.3,122.4 M235.6,134.4L247.3,124.7 M236.8,138.5L248.3,128.4 M237.3,140.2L249.1,131 M239.4,144.9L251.1,134.4 M241.3,148.5L253,138.3 M240.9,151.1L254.5,139.2 M242.1,154.8L256.7,143 M242.6,158.9L257.4,146 M244.2,161.1L258,150 M246.7,163.6L260,152.9 M246.6,166.6L259.6,155.4 M248.3,170.6L260.6,159.9 M248.8,175L262.4,163.9 M251,178.4L264.4,166.5 M250.3,179.5L263.6,168.9 M252.1,182.7L264.1,172.8 M253.1,187.5L265.3,177.7 M254.6,191.4L267.6,180 M256,193L268.9,182.7 M256.5,197.6L268.6,187.5 M257.6,199.6L268,190.6 M259.4,202.6L269.3,194.3 M261.2,205.5L270.6,198 M260.5,209.4L271.1,200.7 M262.4,211.8L271.8,203.4 M262.4,216.9L272.2,208.9 M262.9,219.6L272.1,211.8 M264.6,222.3L273.2,214.9 M266.2,224.8L273.5,218.9 M191,156.3L202.4,143.3 M192.5,162L204.2,147.5 M192.5,166.2L204.3,151.8 M194.7,170.8L206.6,157.2 M194.6,174.8L206.8,159.3 M196.7,181.1L210.9,164.5 M198,185L212.5,168 M199.4,190L213.6,172.3 M198.1,189L212.4,171.3 M200.4,193.9L214.7,177.7 M199.2,192.9L213.5,176.6 M202.4,197.2L217.1,180.4 M205.5,202.7L219.2,185.9 M204.3,201.7L218,184.9 M206.1,206.8L221.4,189.4 M208.8,211.9L223,194 M210.5,214.3L224.7,196.5 M212.1,217.5L226.2,201.6 M213.4,222L227.5,206.2 M216.6,227L228.7,212.2 M218.9,229.9L230.9,215.5 M220.8,234.7L231.7,221.4 M222.2,236.6L231.9,225.7 M279.7,107.5L296.7,97.9 M278.4,110L296.5,100.3 M277.5,113L294.4,103.6 M277.5,114.6L293.6,106 M276.3,117.3L292.6,107.8 M274.5,120.4L292.4,110.2 M274,122.3L289.5,113.7 M272.8,124.3L288.9,115.7 M272.1,127.1L288,117.5 M270.5,130.4L287.6,120 M269.9,132.1L286.5,122 M269.4,134.1L284.6,125.7 M268.5,136.7L282.7,128.6 M267.7,138.3L280.9,131.2 M266.7,140.8L279.9,133.7 M266.5,143.1L278.3,136.4 M265.9,145.9L277.6,138.8 M266.7,147.4L275.8,141.9 M265.7,149.9L275.1,144.3 M264.7,152.3L273.2,147.3 M264.8,154.3L271.1,150.6 M413.1,50.5L434.8,32.8 M414.1,51.7L435.8,34.1 M405.6,60.4L426.7,43.7 M399.3,68.1L415.7,54.8 M398.3,66.8L414.7,53.5 M391.9,78.8L408.3,65.1 M383.2,89.3L401.1,76.1 M376.7,98L391.2,86 M370.2,108.2L384,97.4 M369.2,106.9L383,96.2 M362.2,119.1L377.2,106.8 M354.4,129.9L368.4,118.2 M347.4,139.1L360.1,129.5 M346.4,137.8L359.2,128.3 M349.9,138.6L358.8,131.3 M348,140L356.6,132.6 M347.8,140.9L356,133.8 M347.1,142.9L354.9,136 M343.6,145.4L353.1,137.8 M343.2,147.1L352.5,139.8 M342.3,148.1L350.8,141.3 M340.9,150.2L349.3,142.8 M339.3,151.9L347.1,145.1 M338.7,153.5L346.1,147.2 M336.2,156.8L344.6,149.4 M335.7,157.1L343.2,150.6 M335.2,160.3L343.4,153.2 M332.6,161.6L340.4,154.8 M333.1,162.1L339.8,156.8 M331,164.3L338.4,157.7 M330.2,165.4L336.9,160.1 M328,167.4L335.3,161.6 M327.1,169.4L334,163.7 M326.1,171.3L333.4,165.4 M325.4,172.7L332.1,167.3 M324.2,175.6L331.3,169.5 M323.2,176.7L329.9,171.3 M320.9,178.6L327.4,173.4 M320.2,181L326.6,175.3 M319.4,182.5L326.4,176.8 M317,185.3L323.8,179.6 M316.7,186.5L323.2,181.1 M315.1,187.3L321.3,182.5 M313.9,190.1L319.8,185.4 M313.3,192.1L319.5,186.5 M312.2,193.3L318.7,187.5 M310.4,195L316.6,189.8 M310.2,197L316.3,191.6 M328.9,172.6L334.3,169 M327,173.3L333.1,169 M325.7,174.3L331.3,170.6 M325.6,176.6L331.7,172.7 M325,178.3L330.4,174.2 M322.7,178.8L328.4,174.8 M321.2,179.4L326.6,175.6 M321,182.1L327,178 M320.4,182.1L325.4,178.8 M319.7,184.4L325.1,180.5 M318.8,185L324,181.4 M317.3,187.4L322.2,184.1 M316,187.5L321.1,183.8 M314.9,189.1L319.7,185.5 M314.5,191.1L319.6,187.3 M313.5,192L318.3,188.7 M311.7,193.2L316.7,189.7 M311.3,194.1L316.2,190.7 M310.4,196.3L315.2,193.1 M309.8,197.1L314.6,194 M307.6,199.1L312.5,195.8 M307.2,201.5L311.8,198.4 M306.6,202.6L311.2,199.2 M305.7,204.3L311,200.8 M305.5,205.6L310.4,202.3 M303.2,207.5L308.4,203.7 M303.4,208.4L308.7,204.6 M302.4,209.8L307.5,206.4 M301.9,211.4L306.6,208.2 M301.8,213.1L306.9,209.4 M300,214.7L304.7,211.3 M299.4,217L304.6,213.1 M299.2,218.3L303.9,215.2 M298.6,220.2L303.5,216.5 M297.8,221.1L303.2,217.3 M297.6,222.2L302.4,218.8 M295.9,223.8L300.9,220.4 M296.7,226.5L301.7,223.1 M296.3,227L301.3,223.5 M294.6,229.5L299.2,226.4 M295,230.6L299.6,227.5 M293.1,231.4L298.5,227.9 M292.3,233L297.2,229.6 M293.1,235.4L297.9,232 M291,237.2L296.2,233.5 M290.9,238.8L296.1,235 M289.7,240.2L294.7,236.7 M289.3,240.8L294.4,237.4 M288.3,242.3L292.9,239.2 M288.7,243.9L293.8,240.4 M288,245.9L292.8,242.6 M287.8,247.9L292.3,244.6 M285.5,250.1L290.2,246.7 M285.7,250.4L290.7,247.2 M284.3,253.3L289.7,249.8 M285,254.2L289.9,250.6 M284,255.2L288.7,251.7 M283.4,256.7L288.3,253.4 M283.2,258.4L287.8,255.1 M281.4,260.4L286.3,256.7 M280.5,261.8L285.7,257.9 M279.6,263.9L284.3,260.5 M278.8,265L284,261.2 M279.7,267.5L284.6,263.8 M278.1,269.4L283.4,265.6 M277.2,270L282.5,266.5 M277.9,271.8L283,268.4 M276,274.1L281.3,270.3 M275.5,275.5L280.8,271.8 M274.9,276.4L280.4,272.7 M274.3,278.7L279.9,274.6 M274.2,279.4L279.5,275.8 M273.1,281.8L278.2,278.1 M273.3,284L279.2,279.8 M271.8,285.1L277,281.2 M272.2,286.8L277.7,282.9 M271.6,287.4L277.2,283.7 M270.9,288.9L277,284.9 M270,291.1L275.3,287.2 M268.9,293.7L274.8,289.4 M268.9,294.8L274.5,291 M268.7,296L274.8,291.5 M266.7,297.3L272.8,293.2 M267.8,299.7L273.5,295.9 M266.8,301.5L272.7,297.5 M265.3,303.7L271.7,298.9 M265,304.2L271.5,299.8 M264.3,306.5L270.4,302.3 M264.1,307.7L269.8,303.9 M262.8,309.2L269.6,304.5 M262.1,310L268,305.6 M261.6,311.8L268,307 M261.4,313.3L267.7,309 M260.1,314.6L266.1,310.7 M258.2,317.1L265,312.4 M258.6,317.7L265.4,312.9 M256.9,319.3L262.9,315 M255.9,321L262.5,316.5 M255.3,321.9L261.4,317.6 M255.7,325.1L261.8,321 M254.3,325.5L260.7,320.7 M253.6,328L260.6,322.8 M252.5,328.2L258.8,323.9 M251.4,330.1L258.5,325.3 M250.3,332.7L257.6,327.9 M250,334.1L256.4,329.8 M249.5,335.8L256.1,331.1 M249.2,337.4L255.7,332.5 M247.8,338.3L255.1,333.5 M246.7,340.2L253.3,335.4 M245.6,340.7L252.8,335.6 M244.9,343.6L251.7,338.7 M244.8,344.5L251.3,340.1 M244.4,346.1L250.7,341.6 M243.4,347.1L249.6,343 M242.3,348.5L248.4,344.1 M242.4,351.4L249.6,346.7 M240.3,352.4L247.3,347.6 M291.8,178.5L303.5,175.1 M290.1,182.4L301.1,179.3 M286.8,188.1L297.9,185.3 M285.8,192.8L296.6,190 M284.9,197.7L294.9,194.7 M281.9,202.3L292,199.9 M280.1,207.5L290.9,204.6 M278.3,212.2L289.1,209.3 M277.2,217.8L288.6,214.7 M275.6,221.8L287.2,218.4 M274.9,227L284.7,224.3 M270.9,231.5L281.7,228.3 M269.1,236.2L279.3,233.1 M267.5,241.8L278.1,238.9 M265.1,246.2L275.6,243.7 M265.1,250.2L274.8,247.8 M263.8,255.2L273.6,252.7 M263.8,260.5L272.4,257.9 M262.5,265.9L270.3,263.9 M261.9,270.4L269,268.5 M284.4,192.8L293.4,191.4 M285.4,189.5L295.9,188.1 M287.4,185.4L297,185 M287.9,182.1L299.9,182 M290.3,178.8L302.1,179.1 M291.9,175.7L305.2,176.3 M294.1,172.5L307.6,173.7 M296.9,169.6L309.5,171.4 M299,166.4L312,168.6 M302.3,163.6L313.6,167 M304.5,160.8L317,164.6 M306.9,157.7L320.1,163.2 M311.1,155.8L322.9,161.3 M314.8,154.5L326,159.6 M318.7,152.8L328.8,158 M322.5,151.3L331.3,156.2 M325.5,158L340.4,161.8 M330.1,155.9L343.2,159.6 M334.2,153.9L347.3,158.2 M338.1,152.3L350.9,156.5 M342.7,149.7L354.8,155.2 M346.5,147.7L358.9,153.3 M350,145.7L362.3,152.2 M355.2,144.5L365.3,150.6 M360.3,143.4L369.1,150 M364.7,142.8L373.1,150.3 M370.1,143.3L377,149.8 M374.5,143.7L381,150 M379.2,143.9L384.6,150.4 M280.3,291.7L283.8,286.6 M281.6,290.3L285.6,284.2 M282.6,288.8L287.2,281.9 M284.3,286.5L289.5,279.6 M285.5,285.1L290.9,276.9 M286.7,283.4L293.5,274.1 M287.9,282.2L295.5,271.5 M289.4,280.5L298,268.6 M290.1,281.8L296.6,268.4 M292.9,280.3L298.2,267.3 M294,280.6L301,264.4 M296.7,278.5L302.5,264.2 M298.6,279.3L305.8,262 M300.5,279.6L308.7,261.9 M303.1,281.4L311.1,262.4 M305,282L313.3,264.5 M307.4,282.9L315.4,265.9 M309,286.4L317.3,266.2 M310.4,287.3L319.3,267.8 M312.5,289.9L321.2,269.3 M313.3,291.6L323.5,270.7 M314.9,294.4L325.3,272.6 M316.6,297L326.9,273 M317.6,299.6L328.6,275.2 M320.5,309.7L332.8,285.5 M321.3,317L335.2,289.5 M324.7,320.7L336.4,298.3 M327.3,327.1L337.5,304.1 M328.3,334.3L340.6,310.2 M252.1,339L255.5,334.9 M252.9,337.4L256.4,333.1 M253.7,336.5L258,331.3 M255.3,334.5L259.4,329.6 M256.2,333.3L260.6,328 M257.5,332.2L262.3,326.4 M258.3,330.4L263.4,324.1 M259.5,329.4L265.3,322.5 M260.5,328.4L267.1,320.8 M261.6,327.3L269.1,319 M262.9,326.5L270.6,317.2 M264.2,325.8L272.1,315.8 M266.1,324.3L273.9,314.6 M267.8,324.2L276.3,313.5 M269.6,322.7L278,312.9 M271.6,321.8L279.8,312.6 M272.3,322.5L282.4,310.7 M274.6,322.1L284.3,310.3 M276.8,321.5L286.3,310.5 M279,321.4L288.6,310.1 M280.2,321.5L290.5,309.3 M284.2,325.8L291.5,310.3 M288.4,328.6L296.3,310.4 M291.5,331.2L300.9,312.4 M296,332.9L304.2,316.4 M299.7,337.3L308.4,318.2 M304.1,339.4L312.8,320.4 M209,334L214.4,320.2 M212.5,335.9L217.7,321.7 M215.9,338.6L221.2,322.5 M218.3,341.5L225.1,323.7 M222.2,344.1L228.7,324.6 M224.7,345.5L232.1,326.5 M228.3,347.8L235.2,328.1 M232.2,347.7L238.5,331.4 M236.4,348.9L242,332.3 M240.8,347.7L245,335.6 M255.4,330.6L261.7,329 M254.4,332.6L261,330.8 M252.6,334.2L260.2,332.4 M250.8,335.4L259.8,333.1 M249.8,337.1L259.8,334.5 M247.6,338.9L258.6,335.6 M247.7,340.8L258,338.1 M245.2,342.7L257.8,338.9 M243.1,343.6L257.3,340.2 M241.7,345.6L257,340.9 M240.7,347.2L256.7,342.7 M240.9,348.8L255.1,344.5 M239.4,349.6L252.5,345.9 M239.1,350.7L252,347.2 M238,351.8L250.8,348.1 M238,353L248.7,350.2 M237.6,354.7L247.2,352.4 M236.2,356.3L245.8,353.7 M235.4,357.4L243.4,355.2 M236.1,358.1L242.6,356.5 M234.9,359.2L241,357.5 M234.9,360.1L239.4,359"/><path stroke-width="2.6" d="M251.7,351.4L252.6,347.8 M250.6,353.1L251.5,349.4 M250.2,355.1L251.1,352.1 M249.1,357.1L250,353.9 M247.7,360.4L248.7,356.8 M247.5,362L248.3,359 M247.1,364.3L247.9,361.2 M247.1,365.5L248,362.4 M246,368.2L247.1,364.5 M246.3,369.9L247.2,366.5 M245.2,372.1L246.2,368.7 M245.4,374.6L246.3,371 M245.4,376.9L246.2,373.4 M244.1,379.1L244.9,376 M244.6,381.1L245.5,377.9 M244.1,384L244.9,380.9 M243.9,385.1L244.7,382 M243.5,388L244.4,384.5 M244.5,390L245.2,386.8 M243.1,391.9L244.1,388.5 M243.8,394.1L244.6,390.7 M243.7,396.8L244.6,393.3 M243.1,398.7L244,395.5 M217.8,359.4L219.8,358.2 M222.4,365.1L224.4,363.9 M254.2,356L256.2,354.8 M254.2,371.9L256.2,370.7"/><path stroke-width="5.0" stroke-linejoin="round" d="M354.2,134.5 352.9,136.4 350.1,140.1 346.1,145.7 340.6,153.1 335.3,160.6 330.1,168.1 325,175.7 320.1,183.4 316.1,189.4 313.1,193.9 311,196.6 309.9,197.8 308.3,200.8 306,205.7 303.2,212.4 299.8,220.9 296.3,229.3 292.9,237.5 289.5,245.6 286.1,253.6 282.8,261.7 279.7,269.9 276.7,278.3 273.9,286.9 270.9,295 267.8,302.6 264.5,309.9 261.1,316.7 257.8,323.3 254.7,329.5 251.7,335.5 248.9,341.2 246.7,345.4 245.3,348.3 244.6,349.7"/><path stroke-width="5.6" stroke-linejoin="round" d="M209.7,329.2 209,330.5 207.6,333.1 205.4,336.9 202.6,342 199.9,347.1 197.3,352.3 194.9,357.4 192.6,362.5 190.4,367.5 188.1,372.3 185.8,377 183.5,381.6 181.6,385.7 179.9,389.4 178.4,392.7 177.3,395.6 176.4,397.8 175.9,399.3 175.6,400"/></g>
<g><path d="M533.8,261.7 534.7,260.3 535.6,258.9 536.5,257.5 537.4,256 538.3,254.5 539.2,253.2 540.1,251.6 541,249.9 541.9,248.6 542.8,246.9 543.7,246.1 544.6,244.6 545.5,242.7 546.4,241.2 547.3,240.2 548.2,238.2 549.1,236.7 550,235.2 550.9,233.9 551.8,232.8 552.7,231.8 553.6,229.5 554.5,229.6 555.4,228.5 556.3,228 557.2,227.1 558.1,224.7 559,220.4 559.9,215 560.8,210.1 561.7,206.3 562.6,202.6 563.5,198.1 564.4,193.4 565.3,190.1 566.2,186 567.1,180.9 568,177.2 568.9,174.9 569.8,172.7 570.7,169.1 571.6,167.1 572.5,165.1 573.4,162 574.3,159.6 575.2,157.1 576.1,154.8 577,153.1 577.9,152.1 578.8,150.7 579.7,149.3 580.6,146.7L580.6,146.7 578.8,153.2 577,159.7 575.2,166.2 573.4,172.9 571.6,179.6 569.8,186.3 568,193 566.2,199.6 564.4,206.2 562.6,212.8 560.8,219.5 559,226.7 557.2,229.7 555.4,232.6 553.6,235.5 551.8,238 550,240.4 548.2,242.9 546.4,245.3 544.6,247.8 542.8,250.2 541,252.7 539.2,255.2 537.4,257.6 535.6,260.1 533.8,262.5ZM622,126.6 622.9,122.8 623.8,112.1 624.7,100.2 625.6,90.5 626.5,80.7 627.4,75.3 628.3,72.7 629.2,71.1 630.1,69.8 631,69.2 631.9,69.9 632.8,68.6 633.7,68.4 634.6,68.3 635.5,68.2 636.4,68.4 637.3,68.1 638.2,68.7 639.1,68.3 640,68.2 640.9,68.7 641.8,69.4 642.7,70.6 643.6,70.6 644.5,71.6 645.4,71.2 646.3,71.5 647.2,72.5 648.1,72.3 649,73.6 649.9,73.7 650.8,74L650.8,74 649,76.8 647.2,85.1 645.4,97.4 643.6,109.6 641.8,121.9 640,134.1 638.2,146.4 636.4,157.8 634.6,166.8 632.8,173.6 631,166.1 629.2,158.6 627.4,150.7 625.6,142.8 623.8,134.9 622,126.6ZM653.5,75.2 654.4,75.8 655.3,76.1 656.2,76.1 657.1,76.2 658,76.8 658.9,77.6 659.8,78.6 660.7,79 661.6,79.8 662.5,80.3 663.4,80.1 664.3,81 665.2,81.4 666.1,82.6 667,82.6 667.9,84.6 668.8,84 669.7,85.7 670.6,86.1 671.5,87.6 672.4,87.5 673.3,89.3 674.2,88.9 675.1,90.7 676,91.5 676.9,92.2 677.8,92.8 678.7,94 679.6,95.1 680.5,95.8 681.4,96.7 682.3,98.6 683.2,99.2 684.1,99.8 685,101.3 685.9,102.3 686.8,102.6 687.7,104.1 688.6,105 689.5,105.3 690.4,106.4 691.3,108.1 692.2,108.6 693.1,109 694,110.2 694.9,111.2 695.8,112.4 696.7,113.5 697.6,113.6 698.5,115.5L698.5,115.5 696.7,123.6 694.9,140.9 693.1,164.8 691.3,181.9 689.5,186.8 687.7,188.1 685.9,188.5 684.1,188.2 682.3,187.9 680.5,187.6 678.7,187.3 676.9,183.5 675.1,179.1 673.3,171.5 671.5,162.8 669.7,154.2 667.9,144.1 666.1,133.3 664.3,122.5 662.5,111.7 660.7,103.2 658.9,94.8 657.1,86.4 655.3,79.2 653.5,75.6ZM752.5,180.5 753.4,179.2 754.3,177.5 755.2,176.3 756.1,175.7 757,174.7 757.9,174.4 758.8,173.3 759.7,171.6 760.6,171.1 761.5,170.2 762.4,169.5 763.3,169.3 764.2,168.2 765.1,167.9 766,166.4 766.9,167.1 767.8,165.5 768.7,165.8 769.6,165.5 770.5,163.8 771.4,164 772.3,164.1 773.2,162.2 774.1,162.6 775,162.4 775.9,162.3 776.8,162 777.7,161.9 778.6,161.9 779.5,161.8 780.4,161.8 781.3,162.6 782.2,162.6 783.1,161.5 784,161.1 784.9,161.4 785.8,162.1 786.7,161 787.6,161.5 788.5,160.6 789.4,161.1 790.3,162.1 791.2,164 792.1,164.9 793,166.7 793.9,167.6 794.8,168.7 795.7,169.7 796.6,172.3 797.5,172.7 798.4,174.8 799.3,177 800.2,178.2 801.1,179.1 802,180.3 802.9,178.8 803.8,178.7 804.7,178.2 805.6,177.8 806.5,176.7 807.4,176.5 808.3,176.3 809.2,177 810.1,176.6 811,176 811.9,176.5 812.8,176.4 813.7,176.8 814.6,178.2 815.5,178.6 816.4,179.8 817.3,180.6 818.2,181.7 819.1,183.9 820,185.7 820.9,187.2 821.8,187.9 822.7,190.4 823.6,191 824.5,193 825.4,194.4 826.3,195.7 827.2,197.5 828.1,199.3 829,200.5 829.9,201.8 830.8,203.8 831.7,205.1 832.6,206.4 833.5,209.1 834.4,210.1 835.3,211.4 836.2,214.5 837.1,216.2 838,217.5 838.9,219.5 839.8,221.2 840.7,222.7 841.6,224.9 842.5,226.6 843.4,228.6 844.3,230.1 845.2,231.8 846.1,233.9 847,235.6 847.9,237.2 848.8,238.3 849.7,240.1 850.6,241.6 851.5,242.7 852.4,244.1 853.3,245.8 854.2,247.3 855.1,248.8 856,250.2 856.9,251.3 857.8,252.5 858.7,253.6 859.6,254.6 860.5,255.7 861.4,256.9 862.3,257.9L862.3,258.5 860.5,256.5 858.7,254.5 856.9,252.6 855.1,250.6 853.3,248.3 851.5,245.2 849.7,242 847.9,238.9 846.1,235.7 844.3,232.5 842.5,229 840.7,225.5 838.9,222 837.1,221.9 835.3,222.8 833.5,217.3 831.7,212.5 829.9,208.3 828.1,205.4 826.3,202.5 824.5,199.9 822.7,198.4 820.9,196.9 819.1,195.4 817.3,194.2 815.5,193.3 813.7,192.4 811.9,191.5 810.1,190.6 808.3,189.9 806.5,189.4 804.7,188.8 802.9,188.3 801.1,187.7 799.3,187.2 797.5,186.7 795.7,186.1 793.9,185.6 792.1,185 790.3,184.5 788.5,184 786.7,183.5 784.9,183.3 783.1,183.1 781.3,183 779.5,182.8 777.7,182.6 775.9,182.4 774.1,183.3 772.3,184.2 770.5,185.1 768.7,186.4 766.9,188.5 765.1,190.6 763.3,192.7 761.5,191.5 759.7,189.6 757.9,187.7 756.1,185.3 754.3,182.9 752.5,180.5Z" fill="#000"/><path d="M579.7,149.3 580.6,146.8 581.5,143.6 582.4,141.1 583.3,138.8 584.2,136.4 585.1,134 586,131.1 586.9,128.1 587.8,127 588.7,125 589.6,122.7 590.5,120.8 591.4,118.7 592.3,118 593.2,117.6 594.1,116.3 595,116.5 595.9,116.1 596.8,114.6 597.7,115.8 598.6,116.1 599.5,115.7 600.4,116 601.3,117.2 602.2,117 603.1,115.7 604,111.3 604.9,106.5 605.8,102.2 606.7,100.4 607.6,98.4 608.5,96.4 609.4,94.9 610.3,95.5 611.2,97.2 612.1,98.8 613,99.4 613.9,101 614.8,103.3 615.7,105.1 616.6,108.1 617.5,110.5 618.4,113 619.3,115.3 620.2,118 621.1,122.5 622,126 622.9,122.6L622.9,122.6 621.1,137.8 619.3,145.4 617.5,147.2 615.7,150.4 613.9,154.4 612.1,158.7 610.3,164.6 608.5,170.1 606.7,166.8 604.9,163.6 603.1,160.4 601.3,157 599.5,153.4 597.7,149.8 595.9,146.2 594.1,144.3 592.3,142.6 590.5,140.9 588.7,141.2 586.9,142 585.1,142.7 583.3,143.7 581.5,146.5 579.7,149.3ZM650.8,74 651.7,73.6 652.6,73.7 653.5,75.2L653.5,75.2 651.7,74.4 650.8,74.1ZM697.6,114.1 698.5,115.4 699.4,115.1 700.3,114.9 701.2,116.1 702.1,117 703,118 703.9,119.8 704.8,120 705.7,121.7 706.6,123.3 707.5,123.1 708.4,125 709.3,125.8 710.2,126.4 711.1,128.6 712,129.5 712.9,130.2 713.8,132.1 714.7,132.1 715.6,134.3 716.5,135.5 717.4,135.7 718.3,138 719.2,138.9 720.1,140.3 721,140.6 721.9,142.4 722.8,143.6 723.7,144.2 724.6,144.9 725.5,146.1 726.4,147.9 727.3,149.1 728.2,149.7 729.1,151.6 730,152 730.9,153.7 731.8,154.9 732.7,155.6 733.6,156.5 734.5,158.6 735.4,159.7 736.3,160.4 737.2,160.8 738.1,162.5 739,164.1 739.9,164.9 740.8,165.9 741.7,166.3 742.6,168 743.5,168.8 744.4,170.6 745.3,170.8 746.2,172.2 747.1,173.9 748,174.3 748.9,175.6 749.8,176.8 750.7,178.4 751.6,179.3 752.5,180.5L752.5,180.8 750.7,181.6 748.9,179.6 747.1,177.5 745.3,175.5 743.5,173.5 741.7,171.5 739.9,169.5 738.1,167.5 736.3,165.6 734.5,163.6 732.7,161.6 730.9,159.6 729.1,157.4 727.3,155.2 725.5,153.1 723.7,150.9 721.9,148.8 720.1,146.6 718.3,144.3 716.5,142.1 714.7,139.8 712.9,137.6 711.1,135.4 709.3,133.2 707.5,131 705.7,128.9 703.9,126.7 702.1,124.6 700.3,122.4 698.5,116.2 697.6,114.1Z" fill="#ed1c24"/><path d="M533.4,262.5 553.4,230.3 557.8,226.5 561.2,209.1 567.8,178 575.6,155.7 583.4,143.5 590.1,140.6 595.7,145.7 602.3,159 608.6,170.2 612.3,157.9 616.8,147.9 620.1,144.6 622.4,129 624.6,102.3 626.8,77.8 629,71.2 633.5,68.5 640.2,68.9 649.1,73.4 653.5,75.2 664.6,81.2 675.8,91.2 686.9,103.4 698,114.5 700.2,122.3 711.4,135.7 720.3,146.8 731.4,160.2 742.5,172.4 751.4,182.4 755.9,175.7 764.8,167.9 773.7,162.8 784.8,161.9 789.2,161.3 794.8,169.1 801.5,180.2 807,176.8 812.6,176.2 818.2,182.4 824.9,193.5 831.5,204.7 838.2,218 847.1,235.8 856,250.3 866,262.5" fill="none" stroke="#000" stroke-width="2.8" stroke-linejoin="round"/><path d="M533.8,262.5 553.4,235.8 558.9,226.9 561.2,218 567.8,193.5 575.6,164.6 581.2,144.6 586.8,129 591.2,119 596.8,115.2 602.8,117.9 605.7,102.3 609.7,95.2 614.6,102.3 620.1,117.9 623.5,133.5 629,157.9 633,174.6 636.8,155.7 642.4,117.9 647.3,84.5 649.5,74.5 652.4,73.4 655.7,80.1 662.4,111.2 669.1,151.3 674.7,178 678.4,187.3 686.9,188.6 690.9,185.7 693.1,164.6 695.8,129 698,115.7 699.8,115.2 709.1,125.7 720.3,140.1 731.4,154.6 742.5,167.9 751.4,179.1 758.1,188 763,193.1 769.2,185.7 775.9,182.4 787,183.5 798.1,186.9 809.3,190.2 818.2,194.7 824.9,200.2 830.4,209.1 833.8,218 835.5,223.6 838.2,220.7 844.9,233.6 853.8,249.2 866,262.5" fill="none" stroke="#ed1c24" stroke-width="2.4" stroke-linejoin="round"/></g><g stroke="#5a5a5a" stroke-width="1.5" fill="none"><rect x="524.3" y="45.5" width="351" height="217"/><path d="M531.2,262.5v-2.6 M531.2,45.5v2.6 M544.2,262.5v-4.4 M544.2,45.5v4.4 M557.2,262.5v-2.6 M557.2,45.5v2.6 M570.1,262.5v-2.6 M570.1,45.5v2.6 M583.1,262.5v-2.6 M583.1,45.5v2.6 M596.1,262.5v-4.4 M596.1,45.5v4.4 M609,262.5v-2.6 M609,45.5v2.6 M622,262.5v-2.6 M622,45.5v2.6 M635,262.5v-2.6 M635,45.5v2.6 M648,262.5v-4.4 M648,45.5v4.4 M660.9,262.5v-2.6 M660.9,45.5v2.6 M673.9,262.5v-2.6 M673.9,45.5v2.6 M686.9,262.5v-2.6 M686.9,45.5v2.6 M699.8,262.5v-4.4 M699.8,45.5v4.4 M712.8,262.5v-2.6 M712.8,45.5v2.6 M725.8,262.5v-2.6 M725.8,45.5v2.6 M738.8,262.5v-2.6 M738.8,45.5v2.6 M751.7,262.5v-4.4 M751.7,45.5v4.4 M764.7,262.5v-2.6 M764.7,45.5v2.6 M777.7,262.5v-2.6 M777.7,45.5v2.6 M790.6,262.5v-2.6 M790.6,45.5v2.6 M803.6,262.5v-4.4 M803.6,45.5v4.4 M816.6,262.5v-2.6 M816.6,45.5v2.6 M829.5,262.5v-2.6 M829.5,45.5v2.6 M842.5,262.5v-2.6 M842.5,45.5v2.6 M855.5,262.5v-4.4 M855.5,45.5v4.4 M868.4,262.5v-2.6 M868.4,45.5v2.6 M524.3,253.5h2.6 M875.3,253.5h-2.6 M524.3,244.4h2.6 M875.3,244.4h-2.6 M524.3,235.4h2.6 M875.3,235.4h-2.6 M524.3,226.4h4.4 M875.3,226.4h-4.4 M524.3,217.4h2.6 M875.3,217.4h-2.6 M524.3,208.3h2.6 M875.3,208.3h-2.6 M524.3,199.3h2.6 M875.3,199.3h-2.6 M524.3,190.3h4.4 M875.3,190.3h-4.4 M524.3,181.3h2.6 M875.3,181.3h-2.6 M524.3,172.2h2.6 M875.3,172.2h-2.6 M524.3,163.2h2.6 M875.3,163.2h-2.6 M524.3,154.2h4.4 M875.3,154.2h-4.4 M524.3,145.2h2.6 M875.3,145.2h-2.6 M524.3,136.1h2.6 M875.3,136.1h-2.6 M524.3,127.1h2.6 M875.3,127.1h-2.6 M524.3,118.1h4.4 M875.3,118.1h-4.4 M524.3,109.1h2.6 M875.3,109.1h-2.6 M524.3,100h2.6 M875.3,100h-2.6 M524.3,91h2.6 M875.3,91h-2.6 M524.3,82h4.4 M875.3,82h-4.4 M524.3,73h2.6 M875.3,73h-2.6 M524.3,63.9h2.6 M875.3,63.9h-2.6 M524.3,54.9h2.6 M875.3,54.9h-2.6 "/></g><g font-size="18.4" fill="#555"><text x="544.2" y="282.7" text-anchor="middle">6</text><text x="596.1" y="282.7" text-anchor="middle">8</text><text x="648" y="282.7" text-anchor="middle">10</text><text x="699.8" y="282.7" text-anchor="middle">12</text><text x="751.7" y="282.7" text-anchor="middle">14</text><text x="803.6" y="282.7" text-anchor="middle">16</text><text x="855.5" y="282.7" text-anchor="middle">18</text><text x="520.1" y="268" text-anchor="end">0</text><text x="520.1" y="231.9" text-anchor="end">200</text><text x="520.1" y="195.8" text-anchor="end">400</text><text x="520.1" y="159.7" text-anchor="end">600</text><text x="520.1" y="123.6" text-anchor="end">800</text><text x="520.1" y="87.5" text-anchor="end">1000</text><text x="520.1" y="51.4" text-anchor="end">1200</text><text x="700" y="310.9" text-anchor="middle" font-size="19.3">Time</text><text transform="translate(466.4,153.5) rotate(-90)" text-anchor="middle" font-size="19.3">PPFD</text></g>
<g><path d="M997.1,240.6 998,239.2 998.9,237.8 999.8,236.3 1000.7,234.8 1001.6,233.4 1002.5,231.9 1003.4,230.4 1004.3,229.2 1005.2,227.7 1006.1,226.1 1007,224.2 1007.9,221.5 1008.8,219.4 1009.7,217.4 1010.6,215.2 1011.5,213.5 1012.4,210.5 1013.3,209.1 1014.2,207.1 1015.1,204.8 1016,202.3 1016.9,201.2 1017.8,198.1 1018.7,196.9 1019.6,194.2 1020.5,192 1021.4,190.3 1022.3,188.2 1023.2,186.3 1024.1,185.1 1025,183.2 1025.9,180.8 1026.8,179.2 1027.7,177.8 1028.6,176.7 1029.5,176.2 1030.4,174.4 1031.3,174.1 1032.2,172.8 1033.1,171.8 1034,169.8 1034.9,168.9 1035.8,167.8 1036.7,167.2 1037.6,167.1 1038.5,166 1039.4,165.2 1040.3,164.7 1041.2,166 1042.1,166.5 1043,167 1043.9,167.5 1044.8,167 1045.7,168 1046.6,169.8 1047.5,170.6 1048.4,171.7 1049.3,172.1 1050.2,173.3 1051.1,173.9 1052,173.8L1052,173.8 1050.2,175.6 1048.4,177.4 1046.6,177 1044.8,176.1 1043,175.2 1041.2,174.4 1039.4,174.6 1037.6,174.9 1035.8,175.2 1034,177.8 1032.2,181.7 1030.4,191.3 1028.6,200.5 1026.8,208.9 1025,213.8 1023.2,214.7 1021.4,215.6 1019.6,216.5 1017.8,218.3 1016,220.4 1014.2,222.5 1012.4,224.5 1010.6,225.7 1008.8,226.9 1007,228.1 1005.2,229.8 1003.4,232.3 1001.6,234.8 999.8,237.4 998,239.9 997.1,241.1ZM1082.6,118 1083.5,116.9 1084.4,116.2 1085.3,115.6 1086.2,115 1087.1,114.5 1088,115.3L1088,115.7 1086.2,116.5 1084.4,117.3 1082.6,118ZM1113.2,137.4 1114.1,139.3 1115,133.3 1115.9,126.8 1116.8,123.2 1117.7,118.9 1118.6,113.5 1119.5,110.5 1120.4,109.8 1121.3,108.9 1122.2,108.6 1123.1,107.7 1124,108.6 1124.9,108.9 1125.8,107.9 1126.7,108.8 1127.6,108.3 1128.5,109 1129.4,109.1 1130.3,109.7 1131.2,109.5 1132.1,109 1133,109.7 1133.9,109.1 1134.8,110 1135.7,109.7 1136.6,109.7 1137.5,109.9 1138.4,110.2 1139.3,110.7 1140.2,110.5 1141.1,110.7 1142,110.8 1142.9,110.9 1143.8,111.2 1144.7,111.3 1145.6,111.4 1146.5,111.6 1147.4,111.5 1148.3,111.4 1149.2,111.6 1150.1,111.8 1151,112 1151.9,112.1 1152.8,112.1 1153.7,112.2 1154.6,112.6 1155.5,112.9 1156.4,113 1157.3,113.4 1158.2,113.6 1159.1,113.8L1159.1,114.3 1157.3,114.3 1155.5,114.2 1153.7,114 1151.9,113.8 1150.1,113.6 1148.3,113.4 1146.5,113.3 1144.7,113.1 1142.9,113 1141.1,112.9 1139.3,112.8 1137.5,114.8 1135.7,119.8 1133.9,128.1 1132.1,138.9 1130.3,150.3 1128.5,162 1126.7,172.9 1124.9,181.2 1123.1,180.4 1121.3,173.8 1119.5,167.3 1117.7,159.3 1115.9,151.2 1114.1,142.4 1113.2,137.4ZM1162.7,114.3 1163.6,114.9 1164.5,115.2 1165.4,115.9 1166.3,115.5 1167.2,116.3 1168.1,115.7 1169,115.5 1169.9,115.6 1170.8,116.2 1171.7,116.7 1172.6,117.6 1173.5,116.8 1174.4,117 1175.3,117.9 1176.2,117.6 1177.1,118.1 1178,117.8 1178.9,119 1179.8,119.3 1180.7,119.3 1181.6,119.8 1182.5,119.2 1183.4,119.1 1184.3,119.7 1185.2,121.1 1186.1,122.1 1187,124L1187,124.3 1185.2,134.5 1183.4,145.4 1181.6,158.6 1179.8,170.2 1178,179.2 1176.2,174.6 1174.4,166.4 1172.6,158.3 1170.8,150.2 1169,142.1 1167.2,134 1165.4,125.3 1163.6,115.5 1162.7,114.3ZM1260.8,204.7 1261.7,205.2 1262.6,205.7 1263.5,206.3 1264.4,206.7 1265.3,207.2 1266.2,207.8 1267.1,207.9 1268,208.7 1268.9,209.3 1269.8,209.7 1270.7,210.5 1271.6,211.5 1272.5,212.1 1273.4,212.8 1274.3,213.4 1275.2,214.3 1276.1,215.2 1277,215.9 1277.9,216.4 1278.8,217.3 1279.7,217.7 1280.6,218.8 1281.5,220.1 1282.4,221.3 1283.3,222.1 1284.2,223.2 1285.1,224.4 1286,225.4 1286.9,226.5 1287.8,227.6 1288.7,228.7 1289.6,229.9 1290.5,230.8 1291.4,232.2 1292.3,233.3 1293.2,234.6 1294.1,236 1295,237.1 1295.9,238.4L1295.9,239.1 1294.1,236.7 1292.3,234.4 1290.5,232.1 1288.7,230.1 1286.9,228.1 1285.1,226.1 1283.3,224.2 1281.5,222.2 1279.7,220.2 1277.9,218.7 1276.1,217.3 1274.3,215.9 1272.5,214.5 1270.7,213.1 1268.9,211.7 1267.1,210.2 1265.3,208.8 1263.5,207.4 1261.7,206 1260.8,205.3Z" fill="#000"/><path d="M1051.1,174 1052,173.9 1052.9,172.6 1053.8,169.8 1054.7,167.1 1055.6,165.6 1056.5,163.5 1057.4,160.6 1058.3,157.5 1059.2,155.1 1060.1,153.1 1061,149.4 1061.9,147.9 1062.8,144.2 1063.7,141.5 1064.6,138.7 1065.5,137.2 1066.4,134.7 1067.3,131.9 1068.2,129.5 1069.1,128.3 1070,126.6 1070.9,124.1 1071.8,124.2 1072.7,123.8 1073.6,122.5 1074.5,121.9 1075.4,121.5 1076.3,119.9 1077.2,119.3 1078.1,119.6 1079,119.1 1079.9,118.8 1080.8,118.4 1081.7,118.4 1082.6,118L1082.6,118.5 1080.8,121.6 1079,125.1 1077.2,130.5 1075.4,135.9 1073.6,143.1 1071.8,151.2 1070,158.9 1068.2,164.7 1066.4,170.6 1064.6,173.5 1062.8,175.3 1061,176.8 1059.2,177.3 1057.4,177.8 1055.6,177.9 1053.8,176.3 1052,174.8 1051.1,174ZM1088,115.3 1088.9,115 1089.8,114.2 1090.7,114.1 1091.6,113.7 1092.5,113.4 1093.4,113.5 1094.3,113.3 1095.2,113.1 1096.1,112.4 1097,112.6 1097.9,112.2 1098.8,111.4 1099.7,111.7 1100.6,111.2 1101.5,111.5 1102.4,111.3 1103.3,110.4 1104.2,110.5 1105.1,110.3 1106,109.8 1106.9,109.2 1107.8,109.3 1108.7,114.7 1109.6,118.5 1110.5,122.3 1111.4,127.6 1112.3,131.9 1113.2,137.5 1114.1,139.1L1114.1,139.1 1112.3,151.1 1110.5,163.1 1108.7,173.7 1106.9,181.5 1105.1,180 1103.3,176.2 1101.5,169.9 1099.7,163.6 1097.9,156.6 1096.1,149.4 1094.3,142.2 1092.5,134.4 1090.7,126.3 1088.9,118.5 1088,115.3ZM1187,124 1187.9,123.3 1188.8,123.5 1189.7,123.9 1190.6,124.3 1191.5,124.6 1192.4,124.8 1193.3,125 1194.2,124.9 1195.1,125.6 1196,125.5 1196.9,126.1 1197.8,126 1198.7,127.1 1199.6,126.7 1200.5,127.5 1201.4,127.9 1202.3,128.2 1203.2,128.6 1204.1,128.6 1205,129.4 1205.9,130 1206.8,130.1 1207.7,130.8 1208.6,131.1 1209.5,130.8 1210.4,131.7 1211.3,131.6 1212.2,132.5 1213.1,132.7 1214,133.7 1214.9,133.3 1215.8,134.8 1216.7,134.1 1217.6,134.6 1218.5,135 1219.4,135.6 1220.3,137.3 1221.2,137.6 1222.1,138.2 1223,137.7 1223.9,138.9 1224.8,139.6 1225.7,140.2 1226.6,140.2 1227.5,141.8 1228.4,142.1 1229.3,142.6 1230.2,142.7 1231.1,143.5 1232,144.6 1232.9,144.9 1233.8,145.5 1234.7,146.7 1235.6,146.8 1236.5,148.2 1237.4,147.9 1238.3,149.4 1239.2,150.4 1240.1,150.3 1241,152 1241.9,152.3 1242.8,153.6 1243.7,154.4 1244.6,154.5 1245.5,156.4 1246.4,156.3 1247.3,157 1248.2,158.4 1249.1,158.7 1250,159.7 1250.9,161.5 1251.8,161.5 1252.7,163 1253.6,167.5 1254.5,171.4 1255.4,176.4 1256.3,181.6 1257.2,190.2 1258.1,200 1259,203.4L1259,203.4 1257.2,201.5 1255.4,199.5 1253.6,197.5 1251.8,195.6 1250,193.8 1248.2,192 1246.4,190.2 1244.6,188.4 1242.8,186.2 1241,183.7 1239.2,181.2 1237.4,178.8 1235.6,176.3 1233.8,174.3 1232,172.5 1230.2,170.7 1228.4,168.9 1226.6,167.1 1224.8,163.3 1223,158.8 1221.2,153.9 1219.4,148.1 1217.6,142.2 1215.8,139.6 1214,137.8 1212.2,136.4 1210.4,135.7 1208.6,135 1206.8,134.3 1205,133.7 1203.2,132.9 1201.4,132 1199.6,131.1 1197.8,130.2 1196,129.3 1194.2,128.3 1192.4,127.3 1190.6,126.3 1188.8,125.3 1187,124Z" fill="#ed1c24"/><path d="M981.8,264.1 994.7,244.5 1005.8,226.7 1012.5,211.1 1020.3,193.3 1027,178.8 1033.6,171.1 1039.2,164.8 1044.8,167.7 1050.3,173.3 1055.9,178.2 1061.5,176.6 1065.9,172.2 1070.4,157.7 1074.8,137.7 1079.3,124.3 1083.7,116.5 1087.7,114.3 1089.3,119.9 1093.7,139.9 1099.3,162.2 1103.7,177.7 1106.6,182.6 1109.3,171.1 1112.6,148.8 1116,126.6 1119.3,111 1122.7,108.3 1130.4,109.2 1141.6,111 1152.7,112.1 1163.8,115 1174.9,117.7 1185,120.3 1187.2,124.3 1195,128.8 1203.9,133.2 1212.8,136.6 1217.2,141 1221.7,155.5 1226.1,166.6 1235,175.5 1243.9,187.7 1252.8,196.7 1259.5,204 1268.4,208.9 1279.5,217.8 1290.7,231.1 1301.8,246.7 1314.7,264.1" fill="none" stroke="#000" stroke-width="2.8" stroke-linejoin="round"/><path d="M981.8,264.1 994.7,244.5 1005.8,228.9 1012.5,224.5 1019.2,216.7 1025.9,213.3 1029.2,197.8 1032.5,180 1035.9,175.1 1041.4,174.4 1048.1,177.7 1052.6,173.3 1057,162.2 1061.5,148.8 1065.9,135.5 1070.4,125.4 1077,119.9 1083.7,117.7 1092.6,113.7 1101.5,111.4 1107.7,109.9 1110.4,122.1 1114.9,146.6 1119.3,166.6 1124.2,184.4 1127.1,171.1 1131.6,142.1 1134.9,122.1 1138.2,112.8 1146,113.2 1157.1,114.3 1163.4,114.3 1166,128.8 1170.5,148.8 1174.9,168.8 1177.6,181.1 1180.5,166.6 1183.8,142.1 1187.2,123.2 1195,125.4 1203.9,128.8 1212.8,132.8 1223.9,138.8 1235,146.6 1246.1,156.6 1252.8,163.3 1256.2,180 1258.4,203.3 1264,207.8 1279.5,220 1290.7,232.3 1301.8,246.7 1314.7,264.1" fill="none" stroke="#ed1c24" stroke-width="2.4" stroke-linejoin="round"/></g><g stroke="#5a5a5a" stroke-width="1.5" fill="none"><rect x="973.4" y="47.9" width="351" height="217"/><path d="M980.3,264.9v-2.6 M980.3,47.9v2.6 M993.3,264.9v-4.4 M993.3,47.9v4.4 M1006.3,264.9v-2.6 M1006.3,47.9v2.6 M1019.2,264.9v-2.6 M1019.2,47.9v2.6 M1032.2,264.9v-2.6 M1032.2,47.9v2.6 M1045.2,264.9v-4.4 M1045.2,47.9v4.4 M1058.1,264.9v-2.6 M1058.1,47.9v2.6 M1071.1,264.9v-2.6 M1071.1,47.9v2.6 M1084.1,264.9v-2.6 M1084.1,47.9v2.6 M1097.1,264.9v-4.4 M1097.1,47.9v4.4 M1110,264.9v-2.6 M1110,47.9v2.6 M1123,264.9v-2.6 M1123,47.9v2.6 M1136,264.9v-2.6 M1136,47.9v2.6 M1148.9,264.9v-4.4 M1148.9,47.9v4.4 M1161.9,264.9v-2.6 M1161.9,47.9v2.6 M1174.9,264.9v-2.6 M1174.9,47.9v2.6 M1187.8,264.9v-2.6 M1187.8,47.9v2.6 M1200.8,264.9v-4.4 M1200.8,47.9v4.4 M1213.8,264.9v-2.6 M1213.8,47.9v2.6 M1226.8,264.9v-2.6 M1226.8,47.9v2.6 M1239.7,264.9v-2.6 M1239.7,47.9v2.6 M1252.7,264.9v-4.4 M1252.7,47.9v4.4 M1265.7,264.9v-2.6 M1265.7,47.9v2.6 M1278.6,264.9v-2.6 M1278.6,47.9v2.6 M1291.6,264.9v-2.6 M1291.6,47.9v2.6 M1304.6,264.9v-4.4 M1304.6,47.9v4.4 M1317.5,264.9v-2.6 M1317.5,47.9v2.6 M973.4,255.9h2.6 M1324.4,255.9h-2.6 M973.4,246.8h2.6 M1324.4,246.8h-2.6 M973.4,237.8h2.6 M1324.4,237.8h-2.6 M973.4,228.8h4.4 M1324.4,228.8h-4.4 M973.4,219.8h2.6 M1324.4,219.8h-2.6 M973.4,210.7h2.6 M1324.4,210.7h-2.6 M973.4,201.7h2.6 M1324.4,201.7h-2.6 M973.4,192.7h4.4 M1324.4,192.7h-4.4 M973.4,183.7h2.6 M1324.4,183.7h-2.6 M973.4,174.6h2.6 M1324.4,174.6h-2.6 M973.4,165.6h2.6 M1324.4,165.6h-2.6 M973.4,156.6h4.4 M1324.4,156.6h-4.4 M973.4,147.6h2.6 M1324.4,147.6h-2.6 M973.4,138.5h2.6 M1324.4,138.5h-2.6 M973.4,129.5h2.6 M1324.4,129.5h-2.6 M973.4,120.5h4.4 M1324.4,120.5h-4.4 M973.4,111.5h2.6 M1324.4,111.5h-2.6 M973.4,102.4h2.6 M1324.4,102.4h-2.6 M973.4,93.4h2.6 M1324.4,93.4h-2.6 M973.4,84.4h4.4 M1324.4,84.4h-4.4 M973.4,75.4h2.6 M1324.4,75.4h-2.6 M973.4,66.3h2.6 M1324.4,66.3h-2.6 M973.4,57.3h2.6 M1324.4,57.3h-2.6 "/></g><g font-size="18.4" fill="#555"><text x="993.3" y="285.1" text-anchor="middle">6</text><text x="1045.2" y="285.1" text-anchor="middle">8</text><text x="1097.1" y="285.1" text-anchor="middle">10</text><text x="1148.9" y="285.1" text-anchor="middle">12</text><text x="1200.8" y="285.1" text-anchor="middle">14</text><text x="1252.7" y="285.1" text-anchor="middle">16</text><text x="1304.6" y="285.1" text-anchor="middle">18</text><text x="969.2" y="270.4" text-anchor="end">0</text><text x="969.2" y="234.3" text-anchor="end">200</text><text x="969.2" y="198.2" text-anchor="end">400</text><text x="969.2" y="162.1" text-anchor="end">600</text><text x="969.2" y="126" text-anchor="end">800</text><text x="969.2" y="89.9" text-anchor="end">1000</text><text x="969.2" y="53.8" text-anchor="end">1200</text><text x="1149.1" y="313.3" text-anchor="middle" font-size="19.3">Time</text><text transform="translate(915.5,155.9) rotate(-90)" text-anchor="middle" font-size="19.3">PPFD</text></g>
<g><path d="M1445,227.5 1445.9,226.1 1446.8,224.7 1447.7,223.2 1448.6,221.7 1449.5,220.4 1450.4,219 1451.3,217.6 1452.2,216.2 1453.1,214.7 1454,213.3 1454.9,212.1 1455.8,210.3 1456.7,208.9 1457.6,206.7 1458.5,203.8 1459.4,200.7 1460.3,198 1461.2,194.9 1462.1,192.3 1463,189.8 1463.9,186.8 1464.8,183.6 1465.7,180.4 1466.6,178.8 1467.5,177.4 1468.4,176.9 1469.3,176.5 1470.2,176.6 1471.1,171.4L1471.1,171.4 1469.3,183.1 1467.5,192.7 1465.7,198.2 1463.9,202.3 1462.1,205.8 1460.3,207.6 1458.5,209.4 1456.7,211.3 1454.9,213.9 1453.1,216.4 1451.3,219 1449.5,221.6 1447.7,224.2 1445.9,226.7 1445,228ZM1532.3,120.3 1533.2,123.8 1534.1,119.9 1535,114.5 1535.9,110.5 1536.8,109 1537.7,105.5 1538.6,103.5 1539.5,101.6 1540.4,100.6 1541.3,100.2 1542.2,99.4 1543.1,97.7 1544,96.7 1544.9,97.7 1545.8,97 1546.7,96.7 1547.6,96.4 1548.5,96.2 1549.4,96.9 1550.3,96.5 1551.2,97 1552.1,97.7 1553,97.3 1553.9,98.2 1554.8,97.2 1555.7,98.3 1556.6,98.6 1557.5,99.2 1558.4,99.1 1559.3,98.1L1559.3,98.1 1557.5,105.3 1555.7,113.7 1553.9,123.4 1552.1,134.2 1550.3,144.2 1548.5,153.8 1546.7,158.8 1544.9,161.3 1543.1,158.7 1541.3,155.6 1539.5,149.7 1537.7,143.9 1535.9,136.5 1534.1,128.4 1532.3,120.3ZM1625.9,134.7 1626.8,139.1 1627.7,140.2 1628.6,141.1 1629.5,133.2L1629.5,133.2 1627.7,143.4 1625.9,134.7Z" fill="#000"/><path d="M1470.2,176.6 1471.1,171.1 1472,164.4 1472.9,157 1473.8,150.5 1474.7,145.3 1475.6,140.4 1476.5,136.2 1477.4,132.2 1478.3,130.5 1479.2,129.8 1480.1,128.3 1481,125.7 1481.9,124.1 1482.8,123.7 1483.7,122.2 1484.6,120.2 1485.5,118.6 1486.4,117.9 1487.3,116.9 1488.2,114.5 1489.1,113.5 1490,112.4 1490.9,110.5 1491.8,109.4 1492.7,107.7 1493.6,107 1494.5,105.6 1495.4,104.2 1496.3,103.5 1497.2,102.1 1498.1,100.9 1499,99.8 1499.9,99.1 1500.8,97.8 1501.7,97.4 1502.6,96.3 1503.5,95.4 1504.4,94.7 1505.3,94.3 1506.2,94.3 1507.1,92.9 1508,92.6 1508.9,92.4 1509.8,91.9 1510.7,90.7 1511.6,90.6 1512.5,89.7 1513.4,88.7 1514.3,88.2 1515.2,88 1516.1,88.5 1517,87.6 1517.9,87.9 1518.8,87.7 1519.7,87.3 1520.6,86.4 1521.5,85.4 1522.4,85.4 1523.3,86.4 1524.2,88.7 1525.1,90.4 1526,92.4 1526.9,96 1527.8,100.2 1528.7,103.7 1529.6,107.4 1530.5,112.1 1531.4,115.5 1532.3,120.5 1533.2,123.8L1533.2,123.8 1531.4,130.7 1529.6,137 1527.8,143.5 1526,150.7 1524.2,157.9 1522.4,165.8 1520.6,170.4 1518.8,171.8 1517,169.1 1515.2,165.9 1513.4,161.7 1511.6,157.2 1509.8,152.7 1508,148.2 1506.2,143.7 1504.4,139.2 1502.6,134.7 1500.8,130.7 1499,127.8 1497.2,124.8 1495.4,126 1493.6,128 1491.8,137 1490,146.8 1488.2,160 1486.4,172.8 1484.6,184.8 1482.8,191.6 1481,193.1 1479.2,193.8 1477.4,192.2 1475.6,190.2 1473.8,186 1472,181.4 1470.2,176.6ZM1558.4,99.3 1559.3,98.1 1560.2,94.9 1561.1,92.6 1562,90.4 1562.9,88.1 1563.8,88.7 1564.7,89 1565.6,89 1566.5,89.7 1567.4,89.5 1568.3,89.1 1569.2,90.3 1570.1,89.8 1571,91.1 1571.9,91.3 1572.8,91.1 1573.7,91.4 1574.6,91.7 1575.5,92.2 1576.4,93.7 1577.3,93.1 1578.2,94.4 1579.1,93.7 1580,94.4 1580.9,95 1581.8,95.2 1582.7,96.4 1583.6,95.8 1584.5,96.5 1585.4,96.5 1586.3,96.8 1587.2,98.1 1588.1,98.1 1589,98.9 1589.9,99.7 1590.8,99.3 1591.7,99.8 1592.6,101.2 1593.5,102.2 1594.4,101.3 1595.3,102.4 1596.2,103.7 1597.1,104 1598,104.7 1598.9,104.6 1599.8,105.7 1600.7,105 1601.6,106.1 1602.5,107.1 1603.4,107 1604.3,107.6 1605.2,108.1 1606.1,108.5 1607,109.7 1607.9,110.4 1608.8,109.9 1609.7,110.6 1610.6,111.8 1611.5,112.2 1612.4,112.8 1613.3,113.2 1614.2,114 1615.1,114.4 1616,114.6 1616.9,114.6 1617.8,114.8 1618.7,116.4 1619.6,116.8 1620.5,117.3 1621.4,116.9 1622.3,118.1 1623.2,118.8 1624.1,122.3 1625,127.9 1625.9,134.3 1626.8,139.3L1626.8,139.3 1625,137.5 1623.2,136.5 1621.4,135.5 1619.6,134.5 1617.8,133.5 1616,132.6 1614.2,131.6 1612.4,130.6 1610.6,129.4 1608.8,128.2 1607,127.1 1605.2,125.9 1603.4,124.8 1601.6,123.6 1599.8,122.5 1598,121.3 1596.2,120.2 1594.4,119.2 1592.6,118.2 1590.8,117.1 1589,116.1 1587.2,115.1 1585.4,114 1583.6,113 1581.8,112 1580,111.1 1578.2,110.2 1576.4,109.3 1574.6,108.4 1572.8,107.5 1571,106.6 1569.2,105.7 1567.4,104.7 1565.6,103.7 1563.8,102.7 1562,101.7 1560.2,100.5 1558.4,99.3ZM1628.6,141.1 1629.5,133.5 1630.4,128.6 1631.3,129 1632.2,129 1633.1,128.5 1634,129.7 1634.9,129.9 1635.8,129.8 1636.7,130.8 1637.6,130.8 1638.5,131.6 1639.4,132.8 1640.3,132.2 1641.2,133.5 1642.1,133.9 1643,134.2 1643.9,134.4 1644.8,135.7 1645.7,136 1646.6,136.3 1647.5,137.3 1648.4,138.3 1649.3,138 1650.2,139.6 1651.1,139.2 1652,140.4 1652.9,140.8 1653.8,142.1 1654.7,142.8 1655.6,143.2 1656.5,143.1 1657.4,143.8 1658.3,145.2 1659.2,145.4 1660.1,146.3 1661,147.1 1661.9,147 1662.8,147.9 1663.7,149.4 1664.6,149.2 1665.5,150.6 1666.4,150.3 1667.3,150.8 1668.2,152.1 1669.1,152.5 1670,153.6 1670.9,154.6 1671.8,154.3 1672.7,155.7 1673.6,156.3 1674.5,157.8 1675.4,158.4 1676.3,159.2 1677.2,159.8 1678.1,160 1679,161.1 1679.9,161.8 1680.8,162.3 1681.7,162.9 1682.6,164.1 1683.5,165.2 1684.4,165 1685.3,165.9 1686.2,166.3 1687.1,167.2 1688,167.9 1688.9,168.2 1689.8,169.7 1690.7,169.9 1691.6,171.2 1692.5,171.1 1693.4,172.5 1694.3,173.5 1695.2,173 1696.1,174 1697,175.5 1697.9,175.7 1698.8,176.7 1699.7,177.6 1700.6,179.7 1701.5,180.1 1702.4,182 1703.3,182.7 1704.2,183.2 1705.1,185.5 1706,186.5 1706.9,187.8 1707.8,189.1 1708.7,190.9 1709.6,192.8 1710.5,193.3 1711.4,194.9 1712.3,197.2 1713.2,198.3 1714.1,200.7 1715,202.1 1715.9,203.2 1716.8,204.3 1717.7,206.5 1718.6,208 1719.5,209.6 1720.4,211.4 1721.3,212.6 1722.2,214.7 1723.1,215.9 1724,217.1 1724.9,219.1 1725.8,220 1726.7,222.1 1727.6,223.5 1728.5,224.4 1729.4,225.9 1730.3,227.7 1731.2,229 1732.1,230.3 1733,232 1733.9,233.2 1734.8,234.6 1735.7,236.2 1736.6,237.9 1737.5,239.3 1738.4,240.4 1739.3,242.2 1740.2,243.5 1741.1,245.2 1742,246.4 1742.9,247.8 1743.8,249.4 1744.7,250.7 1745.6,251.9 1746.5,253.3L1746.5,253.8 1744.7,251.4 1742.9,249 1741.1,246.5 1739.3,243.8 1737.5,241.1 1735.7,238.4 1733.9,235.7 1732.1,233 1730.3,230.4 1728.5,227.9 1726.7,225.3 1724.9,222.8 1723.1,220.3 1721.3,217.8 1719.5,215.3 1717.7,212.7 1715.9,210.2 1714.1,207.7 1712.3,205.2 1710.5,202.7 1708.7,200.1 1706.9,198.2 1705.1,196.4 1703.3,194.6 1701.5,192.8 1699.7,191 1697.9,189.2 1696.1,187.7 1694.3,186.2 1692.5,184.8 1690.7,183.3 1688.9,181.9 1687.1,180.5 1685.3,179.2 1683.5,178.1 1681.7,177 1679.9,176 1678.1,174.9 1676.3,173.8 1674.5,172.6 1672.7,171.2 1670.9,169.7 1669.1,168.3 1667.3,166.9 1665.5,165.4 1663.7,164 1661.9,162.9 1660.1,161.9 1658.3,160.8 1656.5,159.7 1654.7,158.6 1652.9,157.5 1651.1,156.3 1649.3,155 1647.5,153.8 1645.7,152.5 1643.9,151.2 1642.1,150 1640.3,148.9 1638.5,147.8 1636.7,146.7 1634.9,145.6 1633.1,144.5 1631.3,143.5 1629.5,142 1628.6,141.1Z" fill="#ed1c24"/><path d="M1422.5,265.9 1441.4,233.1 1457,208.7 1462.5,190.9 1466.3,178.6 1469.9,175.7 1473,184.2 1475.9,190.9 1479.7,194.2 1483.7,190.9 1487,168.6 1490.3,144.1 1493.7,127.4 1497,124.6 1501.5,131.9 1508.1,148.6 1514.8,165.3 1518.6,171.9 1521.5,169.7 1523.7,159.7 1528.2,141.9 1532.6,126.3 1535.9,110.8 1539.3,101.9 1543.7,97.4 1550.4,97 1557.1,98.5 1561.5,101.4 1568.2,105.2 1581.6,111.9 1597.1,120.8 1612.7,130.8 1625,137.5 1630.5,143 1641.6,149.7 1652.8,157.5 1663.9,164.2 1675,173.1 1686.1,179.7 1697.3,188.6 1708.4,199.8 1719.5,215.3 1730.7,230.9 1741.8,247.6 1755.6,265.9" fill="none" stroke="#000" stroke-width="2.8" stroke-linejoin="round"/><path d="M1422.5,265.9 1441.4,233.1 1457,210.9 1462.5,205.3 1467,195.3 1470.3,177.5 1473.6,150.8 1477,133 1483.7,121.9 1492.6,108.5 1501.5,97.4 1512.6,89.6 1522.6,85.8 1525.9,91.8 1529.3,106.3 1532.6,121.9 1537.1,141.9 1541.5,156.4 1545.3,161.9 1548.2,155.3 1551.5,137.5 1554.9,117.4 1558.2,101.9 1560.4,94.1 1563.1,88.1 1570.4,90.7 1586,97.4 1601.6,106.3 1614.9,114.1 1623.4,118.5 1625.6,133 1627.2,144.1 1628.7,141.9 1629.9,128.6 1632.7,128.6 1643.9,135.2 1657.2,144.1 1670.6,154.1 1683.9,165.3 1697.3,175.3 1706.2,186.4 1715.1,202 1724,217.6 1735.1,235.4 1744,249.8 1755.6,265.9" fill="none" stroke="#ed1c24" stroke-width="2.4" stroke-linejoin="round"/></g><g stroke="#5a5a5a" stroke-width="1.5" fill="none"><rect x="1413.9" y="49.6" width="351" height="217"/><path d="M1420.8,266.6v-2.6 M1420.8,49.6v2.6 M1433.8,266.6v-4.4 M1433.8,49.6v4.4 M1446.8,266.6v-2.6 M1446.8,49.6v2.6 M1459.7,266.6v-2.6 M1459.7,49.6v2.6 M1472.7,266.6v-2.6 M1472.7,49.6v2.6 M1485.7,266.6v-4.4 M1485.7,49.6v4.4 M1498.7,266.6v-2.6 M1498.7,49.6v2.6 M1511.6,266.6v-2.6 M1511.6,49.6v2.6 M1524.6,266.6v-2.6 M1524.6,49.6v2.6 M1537.6,266.6v-4.4 M1537.6,49.6v4.4 M1550.5,266.6v-2.6 M1550.5,49.6v2.6 M1563.5,266.6v-2.6 M1563.5,49.6v2.6 M1576.5,266.6v-2.6 M1576.5,49.6v2.6 M1589.4,266.6v-4.4 M1589.4,49.6v4.4 M1602.4,266.6v-2.6 M1602.4,49.6v2.6 M1615.4,266.6v-2.6 M1615.4,49.6v2.6 M1628.4,266.6v-2.6 M1628.4,49.6v2.6 M1641.3,266.6v-4.4 M1641.3,49.6v4.4 M1654.3,266.6v-2.6 M1654.3,49.6v2.6 M1667.3,266.6v-2.6 M1667.3,49.6v2.6 M1680.2,266.6v-2.6 M1680.2,49.6v2.6 M1693.2,266.6v-4.4 M1693.2,49.6v4.4 M1706.2,266.6v-2.6 M1706.2,49.6v2.6 M1719.1,266.6v-2.6 M1719.1,49.6v2.6 M1732.1,266.6v-2.6 M1732.1,49.6v2.6 M1745.1,266.6v-4.4 M1745.1,49.6v4.4 M1758.1,266.6v-2.6 M1758.1,49.6v2.6 M1413.9,257.6h2.6 M1764.9,257.6h-2.6 M1413.9,248.6h2.6 M1764.9,248.6h-2.6 M1413.9,239.5h2.6 M1764.9,239.5h-2.6 M1413.9,230.5h4.4 M1764.9,230.5h-4.4 M1413.9,221.5h2.6 M1764.9,221.5h-2.6 M1413.9,212.5h2.6 M1764.9,212.5h-2.6 M1413.9,203.4h2.6 M1764.9,203.4h-2.6 M1413.9,194.4h4.4 M1764.9,194.4h-4.4 M1413.9,185.4h2.6 M1764.9,185.4h-2.6 M1413.9,176.4h2.6 M1764.9,176.4h-2.6 M1413.9,167.3h2.6 M1764.9,167.3h-2.6 M1413.9,158.3h4.4 M1764.9,158.3h-4.4 M1413.9,149.3h2.6 M1764.9,149.3h-2.6 M1413.9,140.2h2.6 M1764.9,140.2h-2.6 M1413.9,131.2h2.6 M1764.9,131.2h-2.6 M1413.9,122.2h4.4 M1764.9,122.2h-4.4 M1413.9,113.2h2.6 M1764.9,113.2h-2.6 M1413.9,104.2h2.6 M1764.9,104.2h-2.6 M1413.9,95.1h2.6 M1764.9,95.1h-2.6 M1413.9,86.1h4.4 M1764.9,86.1h-4.4 M1413.9,77.1h2.6 M1764.9,77.1h-2.6 M1413.9,68.1h2.6 M1764.9,68.1h-2.6 M1413.9,59h2.6 M1764.9,59h-2.6 "/></g><g font-size="18.4" fill="#555"><text x="1433.8" y="286.8" text-anchor="middle">6</text><text x="1485.7" y="286.8" text-anchor="middle">8</text><text x="1537.6" y="286.8" text-anchor="middle">10</text><text x="1589.4" y="286.8" text-anchor="middle">12</text><text x="1641.3" y="286.8" text-anchor="middle">14</text><text x="1693.2" y="286.8" text-anchor="middle">16</text><text x="1745.1" y="286.8" text-anchor="middle">18</text><text x="1409.7" y="272.1" text-anchor="end">0</text><text x="1409.7" y="236" text-anchor="end">200</text><text x="1409.7" y="199.9" text-anchor="end">400</text><text x="1409.7" y="163.8" text-anchor="end">600</text><text x="1409.7" y="127.7" text-anchor="end">800</text><text x="1409.7" y="91.6" text-anchor="end">1000</text><text x="1409.7" y="55.5" text-anchor="end">1200</text><text x="1589.6" y="315" text-anchor="middle" font-size="19.3">Time</text><text transform="translate(1356,157.6) rotate(-90)" text-anchor="middle" font-size="19.3">PPFD</text></g>
<g><path d="M575.4,595.6 576.3,594.1 577.2,592.8 578.1,592.2 579,591.3 579.9,591 580.8,590.9 581.7,590.4 582.6,589.4 583.5,589.2 584.4,589.2 585.3,588.8 586.2,589.2 587.1,589.4 588,589.2 588.9,589.9 589.8,588.6 590.7,588.1 591.6,586.2 592.5,585.7 593.4,583.6 594.3,583 595.2,581.8 596.1,581.1 597,580.8 597.9,583.3 598.8,587.2 599.7,589.4 600.6,591 601.5,590.7 602.4,586.7 603.3,583.2 604.2,582.6 605.1,582.9 606,583.1 606.9,582.7 607.8,583.9 608.7,584.8 609.6,585 610.5,586.3 611.4,586.1 612.3,587.7 613.2,587.6 614.1,588.6 615,589.7 615.9,590 616.8,590.5 617.7,590.7L617.7,591.3 615.9,591.9 614.1,592.3 612.3,592.8 610.5,593.3 608.7,593.7 606.9,594.2 605.1,594.7 603.3,595 601.5,595.2 599.7,595.5 597.9,595.7 596.1,596 594.3,596.3 592.5,596.7 590.7,597.5 588.9,598.2 587.1,597.5 585.3,595.2 583.5,594.8 581.7,594.5 579.9,594.2 578.1,594.6 576.3,595.1 575.4,595.6ZM699.6,589.8 700.5,588.4 701.4,587.1 702.3,584.1 703.2,581.4 704.1,579.2 705,575.7 705.9,573.7 706.8,570.8 707.7,569.1 708.6,566.1 709.5,564.9 710.4,562.6 711.3,561.2 712.2,559.4 713.1,558.1 714,556.3 714.9,554.6 715.8,552.1 716.7,550.7 717.6,550 718.5,547.9 719.4,547.1 720.3,545.1 721.2,543.8 722.1,542.1 723,540.8 723.9,538.8 724.8,537.6 725.7,535.4 726.6,533.8 727.5,532.1 728.4,530.8 729.3,530.3 730.2,528.5 731.1,526.1 732,524.7 732.9,523.8 733.8,522.5 734.7,521 735.6,519.3 736.5,518.4 737.4,518 738.3,516.6 739.2,515.5 740.1,513.5 741,512.8 741.9,510.9 742.8,509.9 743.7,509.8 744.6,507.8 745.5,507 746.4,505.9 747.3,505.9 748.2,504.7 749.1,503.6 750,503.5 750.9,502.6 751.8,502.8 752.7,502.2 753.6,501.2 754.5,500.7 755.4,503.2 756.3,506.3 757.2,511.1L757.2,511.1 755.4,513.2 753.6,515.2 751.8,517.6 750,520 748.2,522.4 746.4,524.9 744.6,527.6 742.8,530.3 741,533 739.2,535.7 737.4,538.4 735.6,541.1 733.8,543.8 732,546.5 730.2,549.2 728.4,552 726.6,555.2 724.8,558.3 723,561.5 721.2,564.6 719.4,568.8 717.6,574.2 715.8,579.6 714,582.1 712.2,584.5 710.4,586.9 708.6,588.8 706.8,589.5 705,590.2 703.2,590.3 701.4,590.1 699.6,590ZM771.6,548.3 772.5,545.8 773.4,544.2 774.3,543.9 775.2,543.6 776.1,543.3 777,543.4 777.9,543.5 778.8,545.1 779.7,546.1 780.6,547.1 781.5,547.6 782.4,547.5 783.3,549 784.2,551.3 785.1,552 786,553.5 786.9,553.7 787.8,555 788.7,556 789.6,558.4 790.5,561.1 791.4,559.8L791.4,559.8 789.6,568.2 787.8,577 786,587.8 784.2,592.3 782.4,593.4 780.6,593.2 778.8,592.5 777,590.1 775.2,584 773.4,570.2 771.6,548.6ZM809.4,589.9 810.3,591.5 811.2,591.8 812.1,591.8 813,593 813.9,593.1 814.8,593.5 815.7,594 816.6,594.4L816.6,594.4 814.8,595.3 813,596.2 811.2,595 809.4,589.9Z" fill="#000"/><path d="M552,609.2 552.9,608.8 553.8,608.4 554.7,608.1 555.6,607.7 556.5,607.4 557.4,606.9 558.3,606.6 559.2,606.3 560.1,606 561,605.5 561.9,605.2 562.8,604.7 563.7,604.4 564.6,604 565.5,603.8 566.4,603.4 567.3,603.1 568.2,602.5 569.1,602.2 570,601.6 570.9,601.3 571.8,600.8 572.7,600 573.6,598.4 574.5,596.8 575.4,595.7 576.3,594.3L576.3,594.3 574.5,599.7 572.7,602.1 570.9,604.2 569.1,604.5 567.3,604.8 565.5,605.1 563.7,605.6 561.9,606.2 560.1,606.8 558.3,607.5 556.5,608.1 554.7,608.8 552.9,609.4 552,609.7ZM619.5,590.8 620.4,590.4 621.3,590.1 622.2,590 623.1,589.4 624,589 624.9,589.3 625.8,588.9 626.7,588.2 627.6,588.2 628.5,587.9 629.4,588.3 630.3,587.6 631.2,587.8 632.1,587.6 633,587 633.9,586.8 634.8,586.9 635.7,586.6 636.6,586.7 637.5,586.3 638.4,586.7 639.3,586.2 640.2,585.8 641.1,586.4 642,586.5 642.9,586.1 643.8,585.9 644.7,586.2 645.6,586.3 646.5,585.5 647.4,586 648.3,585.7 649.2,586.1 650.1,586.1 651,586.4 651.9,586.7 652.8,586.9 653.7,586.5 654.6,586.4 655.5,587.4 656.4,587.3 657.3,587.2 658.2,587 659.1,587.1 660,587.8 660.9,587.7 661.8,588 662.7,588 663.6,587.9 664.5,587.8 665.4,587.3 666.3,587.2 667.2,587.3 668.1,587.5 669,587.4 669.9,587.3 670.8,587 671.7,586.8 672.6,586.5 673.5,586.8 674.4,586.8 675.3,586.7 676.2,586.9 677.1,587.2 678,587.1 678.9,586.2 679.8,586.4 680.7,586.3 681.6,585.5 682.5,584.1 683.4,584.2 684.3,583.3 685.2,583.5 686.1,582.4 687,582.6 687.9,582.8 688.8,584.5 689.7,584.7 690.6,585.9 691.5,586 692.4,586.5 693.3,587.3 694.2,588.2 695.1,588.9 696,589.4 696.9,589.8 697.8,589.7 698.7,589.9 699.6,589.8L699.6,589.8 697.8,591.9 696,592 694.2,592 692.4,592 690.6,592.1 688.8,592.1 687,592.1 685.2,592 683.4,591.9 681.6,591.7 679.8,591.6 678,591.4 676.2,591.3 674.4,591.2 672.6,591.2 670.8,591.1 669,591 667.2,591 665.4,590.9 663.6,590.9 661.8,590.8 660,590.7 658.2,590.7 656.4,590.6 654.6,590.6 652.8,590.5 651,590.4 649.2,590.4 647.4,590.5 645.6,590.6 643.8,590.7 642,590.8 640.2,591 638.4,591.1 636.6,591.2 634.8,591.4 633,591.6 631.2,591.8 629.4,592 627.6,592.2 625.8,592.4 624,592.4 622.2,592 620.4,591.5 619.5,591.2ZM756.3,506.6 757.2,511.3 758.1,510.1 759,509.3 759.9,508.4 760.8,507.3 761.7,507.4 762.6,507.1 763.5,506 764.4,505.5 765.3,505.4 766.2,506.6 767.1,509.2 768,515.7 768.9,522.2 769.8,530 770.7,539.1 771.6,548.3L771.6,548.3 769.8,552.1 768,556.9 766.2,561.9 764.4,566 762.6,564.2 760.8,553.9 759,537.9 757.2,517.8 756.3,506.6ZM790.5,561.3 791.4,559.7 792.3,556.6 793.2,554.1 794.1,552.2 795,551 795.9,550 796.8,549.3 797.7,548 798.6,548.7 799.5,549.5 800.4,550.8 801.3,551.4 802.2,555.9 803.1,559.6 804,564.8 804.9,568.2 805.8,572.6 806.7,577.7 807.6,582 808.5,585.4 809.4,589.8 810.3,591.3L810.3,591.3 808.5,591.1 806.7,591.7 804.9,593.5 803.1,596.2 801.3,592.1 799.5,585.5 797.7,578.9 795.9,575.3 794.1,571.7 792.3,566.7 790.5,561.3ZM816.6,594.4 817.5,594.3 818.4,594.6 819.3,594.8 820.2,595.2 821.1,595.4 822,595.9 822.9,596.2 823.8,596.6 824.7,596.4 825.6,597.2 826.5,597.4 827.4,597.5 828.3,599.3 829.2,600.1 830.1,600.9 831,602.1 831.9,603.4 832.8,603.6 833.7,603.6 834.6,604.2 835.5,604.2 836.4,604.9 837.3,605.3 838.2,605.8 839.1,606.2 840,606.6 840.9,607 841.8,607.3 842.7,607.9 843.6,608.1 844.5,608.7 845.4,609.1 846.3,609.4 847.2,609.9 848.1,610.3 849,610.6 849.9,611.1 850.8,611.4 851.7,611.7 852.6,612 853.5,612.4 854.4,612.7 855.3,613.1 856.2,613.4 857.1,613.7L857.1,614.4 855.3,613.8 853.5,613.2 851.7,612.7 849.9,612.1 848.1,611.5 846.3,610.7 844.5,610 842.7,609.2 840.9,608.5 839.1,607.7 837.3,607 835.5,606.3 833.7,605.9 831.9,605.6 830.1,605 828.3,603.2 826.5,601.4 824.7,599.6 822.9,598.5 821.1,597.4 819.3,596.3 817.5,595.1 816.6,594.6Z" fill="#ed1c24"/><path d="M532.2,617.1 548.9,610.8 564.5,605.3 571.2,604.2 574.5,599.7 576.7,593 583.4,589 589,589.7 592.3,586.4 595.2,581.5 597.4,580.8 599,588.6 601.2,591.9 603.4,583 606.8,583 611.2,586.4 615.7,590.1 624.6,592.6 635.7,591.3 649.1,590.4 662.4,590.8 675.8,591.3 686.9,592.2 698,591.9 701.4,587.5 704.7,577.5 709.1,565.2 715.8,553 724.7,537.4 733.6,522.9 742.5,510.7 749.2,503.6 754.8,501.1 756.3,506.3 758.1,528.5 760.3,550.8 762.5,564.1 764.8,566.3 767,559.7 770.3,550.8 773.7,544.5 777.7,543.6 782.6,548.5 789.2,557.4 793.7,570.8 798.1,579.7 800.8,590.8 803,596.4 805.9,591.9 809.3,590.8 816,594.2 824.9,599.7 830.4,605.3 836,606.4 849.3,612 866,617.1" fill="none" stroke="#000" stroke-width="2.8" stroke-linejoin="round"/><path d="M532.2,617.1 548.9,610.4 564.5,604.2 572.3,600.8 575.6,595.3 580.1,594.2 585.6,595.3 587.9,598.6 593.4,596.4 604.6,594.8 615.7,591.9 626.8,588.6 635.7,586.8 644.6,585.9 653.5,586.8 662.4,587.9 673.5,586.8 680.2,586.8 683.6,583.7 686.9,583 691.3,585.9 695.8,589.7 704.7,590.4 709.1,588.6 715.8,579.7 720.3,566.3 729.2,550.8 738.1,537.4 747,524.1 753.6,515.2 759.2,508.9 764.8,505.1 767,508.5 769.2,524.1 771.4,546.3 773.7,573 775.9,588.6 779.2,593 783.7,593.5 785.9,588.6 788.1,575.2 791.5,559.7 794.8,550.8 798.1,548.5 801.5,551.9 804.8,568.6 808.2,584.1 810.4,594.2 812.6,596.4 817.1,594.2 827.1,597.5 831.5,603.1 834.9,604.2 849.3,610.8 866,617.1" fill="none" stroke="#ed1c24" stroke-width="2.4" stroke-linejoin="round"/></g><g stroke="#5a5a5a" stroke-width="1.5" fill="none"><rect x="524.3" y="400.2" width="351" height="217"/><path d="M531.2,617.2v-2.6 M531.2,400.2v2.6 M544.2,617.2v-4.4 M544.2,400.2v4.4 M557.2,617.2v-2.6 M557.2,400.2v2.6 M570.1,617.2v-2.6 M570.1,400.2v2.6 M583.1,617.2v-2.6 M583.1,400.2v2.6 M596.1,617.2v-4.4 M596.1,400.2v4.4 M609,617.2v-2.6 M609,400.2v2.6 M622,617.2v-2.6 M622,400.2v2.6 M635,617.2v-2.6 M635,400.2v2.6 M648,617.2v-4.4 M648,400.2v4.4 M660.9,617.2v-2.6 M660.9,400.2v2.6 M673.9,617.2v-2.6 M673.9,400.2v2.6 M686.9,617.2v-2.6 M686.9,400.2v2.6 M699.8,617.2v-4.4 M699.8,400.2v4.4 M712.8,617.2v-2.6 M712.8,400.2v2.6 M725.8,617.2v-2.6 M725.8,400.2v2.6 M738.8,617.2v-2.6 M738.8,400.2v2.6 M751.7,617.2v-4.4 M751.7,400.2v4.4 M764.7,617.2v-2.6 M764.7,400.2v2.6 M777.7,617.2v-2.6 M777.7,400.2v2.6 M790.6,617.2v-2.6 M790.6,400.2v2.6 M803.6,617.2v-4.4 M803.6,400.2v4.4 M816.6,617.2v-2.6 M816.6,400.2v2.6 M829.5,617.2v-2.6 M829.5,400.2v2.6 M842.5,617.2v-2.6 M842.5,400.2v2.6 M855.5,617.2v-4.4 M855.5,400.2v4.4 M868.4,617.2v-2.6 M868.4,400.2v2.6 M524.3,608.2h2.6 M875.3,608.2h-2.6 M524.3,599.2h2.6 M875.3,599.2h-2.6 M524.3,590.1h2.6 M875.3,590.1h-2.6 M524.3,581.1h4.4 M875.3,581.1h-4.4 M524.3,572.1h2.6 M875.3,572.1h-2.6 M524.3,563.1h2.6 M875.3,563.1h-2.6 M524.3,554h2.6 M875.3,554h-2.6 M524.3,545h4.4 M875.3,545h-4.4 M524.3,536h2.6 M875.3,536h-2.6 M524.3,527h2.6 M875.3,527h-2.6 M524.3,517.9h2.6 M875.3,517.9h-2.6 M524.3,508.9h4.4 M875.3,508.9h-4.4 M524.3,499.9h2.6 M875.3,499.9h-2.6 M524.3,490.9h2.6 M875.3,490.9h-2.6 M524.3,481.8h2.6 M875.3,481.8h-2.6 M524.3,472.8h4.4 M875.3,472.8h-4.4 M524.3,463.8h2.6 M875.3,463.8h-2.6 M524.3,454.8h2.6 M875.3,454.8h-2.6 M524.3,445.7h2.6 M875.3,445.7h-2.6 M524.3,436.7h4.4 M875.3,436.7h-4.4 M524.3,427.7h2.6 M875.3,427.7h-2.6 M524.3,418.7h2.6 M875.3,418.7h-2.6 M524.3,409.6h2.6 M875.3,409.6h-2.6 "/></g><g font-size="18.4" fill="#555"><text x="544.2" y="637.4" text-anchor="middle">6</text><text x="596.1" y="637.4" text-anchor="middle">8</text><text x="648" y="637.4" text-anchor="middle">10</text><text x="699.8" y="637.4" text-anchor="middle">12</text><text x="751.7" y="637.4" text-anchor="middle">14</text><text x="803.6" y="637.4" text-anchor="middle">16</text><text x="855.5" y="637.4" text-anchor="middle">18</text><text x="520.1" y="622.7" text-anchor="end">0</text><text x="520.1" y="586.6" text-anchor="end">200</text><text x="520.1" y="550.5" text-anchor="end">400</text><text x="520.1" y="514.4" text-anchor="end">600</text><text x="520.1" y="478.3" text-anchor="end">800</text><text x="520.1" y="442.2" text-anchor="end">1000</text><text x="520.1" y="406.1" text-anchor="end">1200</text><text x="700" y="665.6" text-anchor="middle" font-size="19.3">Time</text><text transform="translate(466.4,508.2) rotate(-90)" text-anchor="middle" font-size="19.3">PPFD</text></g>
<g><path d="M1071.1,586.6 1072,587.8 1072.9,582.9 1073.8,580.7 1074.7,577.9 1075.6,572.3L1075.6,572.3 1073.8,599.9 1072,598.9 1071.1,586.7ZM1121.5,597.5 1122.4,596.8 1123.3,596.2 1124.2,595.3 1125.1,594.8 1126,593.6 1126.9,593.7 1127.8,592.1 1128.7,591.5 1129.6,589.1 1130.5,587.7 1131.4,586.3 1132.3,585.8 1133.2,584.5 1134.1,583.1 1135,584.1 1135.9,585.1 1136.8,587.5 1137.7,593.4L1137.7,593.9 1135.9,595.4 1134.1,597.3 1132.3,599.4 1130.5,600.3 1128.7,599.4 1126.9,598.5 1125.1,597.9 1123.3,597.3 1121.5,598.1ZM1146.7,582.3 1147.6,578.5 1148.5,566.9 1149.4,563.7 1150.3,559.7 1151.2,557.5 1152.1,556.5 1153,555.3 1153.9,553.3 1154.8,552.4 1155.7,551.9 1156.6,550.9 1157.5,550.3 1158.4,549.5 1159.3,548 1160.2,547.8 1161.1,545.7 1162,545.3 1162.9,544.9 1163.8,544.8 1164.7,543.7 1165.6,544.7 1166.5,547.6 1167.4,544.4 1168.3,539.7 1169.2,538.3 1170.1,536.6 1171,535.7 1171.9,534.5 1172.8,532.3 1173.7,531.5 1174.6,531.2 1175.5,533.2 1176.4,538.4 1177.3,549 1178.2,559.4 1179.1,568.9 1180,575.3 1180.9,580.5 1181.8,576.8 1182.7,570.1 1183.6,566.6 1184.5,564.3 1185.4,566.4 1186.3,569 1187.2,570.9 1188.1,565.5 1189,558.2 1189.9,549.1 1190.8,540.4 1191.7,532.2 1192.6,525.3 1193.5,521.6 1194.4,517.6 1195.3,515 1196.2,512.9 1197.1,511.4 1198,510.4 1198.9,509.6 1199.8,508.7 1200.7,509.4 1201.6,508.3 1202.5,507.7 1203.4,508.1 1204.3,506.6 1205.2,507.3 1206.1,506.6 1207,505.8 1207.9,505.9 1208.8,506.4 1209.7,504.8 1210.6,506.3 1211.5,507.6 1212.4,510.9 1213.3,511.4L1213.3,511.4 1211.5,512.5 1209.7,515.8 1207.9,523.2 1206.1,519.4 1204.3,519.6 1202.5,525 1200.7,532.3 1198.9,541.4 1197.1,554 1195.3,567.6 1193.5,581.9 1191.7,593.9 1189.9,599.5 1188.1,597.9 1186.3,597.4 1184.5,598.8 1182.7,599.3 1180.9,593 1179.1,582.7 1177.3,567 1175.5,550.8 1173.7,545 1171.9,547.1 1170.1,549.5 1168.3,551.9 1166.5,554.1 1164.7,556.2 1162.9,558.6 1161.1,561.5 1159.3,573.2 1157.5,595.6 1155.7,599.8 1153.9,592.7 1152.1,595.4 1150.3,598.4 1148.5,590.2 1146.7,582.3ZM1240.3,565.3 1241.2,561.8 1242.1,559.6 1243,558.5 1243.9,561.7 1244.8,558.7L1244.8,558.7 1243,589.4 1241.2,576.1 1240.3,565.6ZM1254.7,552.4 1255.6,556.8 1256.5,557.2 1257.4,559.1 1258.3,562.8 1259.2,563.3L1259.2,563.3 1257.4,563.1 1255.6,558.4 1254.7,552.4Z" fill="#000"/><path d="M1048.6,604.7 1049.5,604.9 1050.4,605.2 1051.3,605.1 1052.2,604.9 1053.1,604.8 1054,604.6 1054.9,604.3 1055.8,604.2 1056.7,604.2 1057.6,602.6 1058.5,601.3 1059.4,595.4 1060.3,590.1 1061.2,588.1 1062.1,588.2 1063,588.4 1063.9,586.6 1064.8,584.9 1065.7,583.5 1066.6,582 1067.5,580.4 1068.4,579.7 1069.3,577.5 1070.2,576.5 1071.1,586.6L1071.1,586.6 1069.3,587.6 1067.5,598.4 1065.7,602.7 1063.9,603.8 1062.1,604.4 1060.3,604.9 1058.5,605.3 1056.7,605.8 1054.9,605.9 1053.1,606.1 1051.3,606.2 1049.5,605.6 1048.6,605.1ZM1074.7,578.5 1075.6,571.8 1076.5,569.2 1077.4,567.1 1078.3,566.6 1079.2,565.8 1080.1,565.3 1081,565.3 1081.9,565.7 1082.8,566.1 1083.7,566.9 1084.6,567.8 1085.5,570.3 1086.4,573.1 1087.3,574.9 1088.2,574.4 1089.1,575.3 1090,577.5 1090.9,581.5 1091.8,576.1 1092.7,570.8 1093.6,570.7 1094.5,570.5 1095.4,571.8 1096.3,572.1 1097.2,572.1 1098.1,573.1 1099,574.4 1099.9,573.8 1100.8,574.5 1101.7,575.1 1102.6,576.7 1103.5,576.7 1104.4,577.9 1105.3,578.5 1106.2,578.3 1107.1,579.6 1108,580.1 1108.9,581.9 1109.8,582.4 1110.7,583.1 1111.6,584.6 1112.5,585.6 1113.4,585.9 1114.3,587.2 1115.2,588.7 1116.1,590.8 1117,594 1117.9,596.8 1118.8,598.9 1119.7,598.8L1119.7,598.8 1117.9,600.4 1116.1,601.8 1114.3,600.5 1112.5,599.4 1110.7,598.5 1108.9,598 1107.1,598.3 1105.3,598.3 1103.5,595 1101.7,591.9 1099.9,589.2 1098.1,595 1096.3,599.3 1094.5,588.6 1092.7,582.8 1090.9,582.2 1089.1,581.6 1087.3,580.1 1085.5,578.6 1083.7,577.5 1081.9,576.4 1080.1,575.9 1078.3,575.7 1076.5,576.5 1074.7,578.5ZM1137.7,593.4 1138.6,593.4 1139.5,591.6 1140.4,591.1 1141.3,588.7 1142.2,587.7 1143.1,586.1 1144,583.5 1144.9,581.5 1145.8,581.9 1146.7,581.8 1147.6,579.3L1147.6,579.3 1145.8,598.4 1144,600.4 1142.2,595.6 1140.4,597.7 1138.6,597 1137.7,593.4ZM1212.4,510.9 1213.3,511.1 1214.2,511.5 1215.1,510.6 1216,511.3 1216.9,509.9 1217.8,509.9 1218.7,509.4 1219.6,509.3 1220.5,509.4 1221.4,509.9 1222.3,509.8 1223.2,510 1224.1,509.2 1225,509.7 1225.9,510.1 1226.8,509.2 1227.7,509.2 1228.6,509.2 1229.5,510.4 1230.4,510 1231.3,509.8 1232.2,509.9 1233.1,509.6 1234,510.4 1234.9,511.6 1235.8,513.5 1236.7,520.6 1237.6,531.8 1238.5,542.5 1239.4,554.6 1240.3,565.3L1240.3,565.3 1238.5,560.5 1236.7,550.8 1234.9,540 1233.1,537.6 1231.3,535.4 1229.5,533.3 1227.7,531.2 1225.9,529.7 1224.1,528.3 1222.3,530.7 1220.5,531.6 1218.7,530.3 1216.9,525.1 1215.1,519.7 1213.3,514.3 1212.4,510.9ZM1243.9,561.8 1244.8,558.1 1245.7,547.9 1246.6,540.1 1247.5,533 1248.4,529.2 1249.3,525.9 1250.2,525.6 1251.1,525.9 1252,530.6 1252.9,538.7 1253.8,546.5 1254.7,552.1 1255.6,556.8L1255.6,556.8 1253.8,565.5 1252,579.5 1250.2,581.7 1248.4,584 1246.6,586.7 1244.8,569.2 1243.9,561.8ZM1258.3,563 1259.2,563.3 1260.1,560.2 1261,557.7 1261.9,554.5 1262.8,550.7 1263.7,550.3 1264.6,550.1 1265.5,551 1266.4,553.6 1267.3,559.5 1268.2,569.8 1269.1,580.9 1270,593 1270.9,601.7 1271.8,606.6 1272.7,608.6 1273.6,609.6 1274.5,610.5L1274.5,610.8 1272.7,609.9 1270.9,607.6 1269.1,603 1267.3,600.3 1265.5,598.2 1263.7,594.7 1261.9,587.8 1260.1,575.5 1258.3,563ZM1278.1,610.3 1279,610 1279.9,609.8 1280.8,609.2 1281.7,608.4 1282.6,609.5 1283.5,611.2 1284.4,611.7 1285.3,612.2 1286.2,612.5 1287.1,612.8L1287.1,613.4 1285.3,613 1283.5,612.4 1281.7,611.5 1279.9,610.8 1278.1,610.8Z" fill="#ed1c24"/><path d="M980.2,619.1 1012.5,611.1 1034.8,607.3 1049.2,605.1 1050,606.3 1056.8,605.8 1063.5,604 1066.9,602 1069,589.8 1070.3,581.7 1071.7,589.8 1073,583 1075.1,577.6 1077.8,575.6 1081.2,576 1085.2,578.3 1089.3,581.7 1093.3,583 1095.4,592.5 1096.7,602 1098.1,595.2 1099.4,588.5 1102.1,592.5 1105.5,598.6 1109.6,597.9 1113.7,600 1116.4,602 1119.1,599.3 1123.8,595.9 1127.9,592.5 1131.3,587.1 1134.2,582.8 1136.7,587.1 1138,595.2 1139.4,599.3 1142.1,595.2 1144.1,600.6 1146.2,597.9 1147.5,581.7 1148.2,568.1 1150.2,560 1154.3,553.2 1158.4,549.2 1162.4,545.1 1165.1,543.8 1166.8,547.8 1168.5,539.7 1171.9,534.3 1174.9,530.5 1176.2,535.6 1177.3,549.2 1179.4,570.8 1181.1,581.7 1182.7,570.8 1184.4,564.8 1186.1,568.8 1187.5,570.8 1188.8,560 1190.9,539.7 1192.9,523.4 1195.6,514 1199,509.9 1204.4,507.5 1209.8,505.6 1211.9,508.5 1213.2,514 1215.9,522.1 1218.6,530.2 1221.3,532.2 1224,528.2 1227.4,530.9 1231.5,535.6 1234.9,539.7 1236.9,551.9 1238.9,562.7 1240.3,565.4 1241.7,560 1243.4,557.6 1245,570.8 1246.4,587.1 1249.1,583 1252.5,579 1253.8,565.4 1255.2,556.6 1257,557.3 1258.6,564.1 1260.6,579 1262.7,592.5 1265.4,597.9 1268.7,602 1270.8,607.4 1273.5,610.8 1280.3,610.8 1284.3,612.8 1289.9,613.9 1290.2,613.3 1301.8,616.2 1314,619.1" fill="none" stroke="#000" stroke-width="2.8" stroke-linejoin="round"/><path d="M980.2,619.1 1012.5,611.1 1034.8,607.3 1049.2,604.6 1050,605.4 1056.8,604 1058.8,600.6 1060.6,588.5 1062.9,589.1 1065.6,584.4 1068.3,579.7 1070.3,576.9 1071.4,589.8 1072.3,603.4 1073.7,602 1074.7,587.1 1075.7,570.8 1078.4,566.1 1081.8,565.2 1084.5,568.1 1087.2,574.9 1089.3,574.9 1091.3,583 1092.3,570.2 1096.1,572.2 1101.5,575.6 1106.9,579.7 1112.3,585.1 1115.7,589.8 1117.7,596.6 1119.1,599.3 1123.1,597.3 1127.2,598.6 1131.3,600.6 1135.3,595.9 1139.4,592.5 1142.1,588.5 1144.8,582.4 1146.4,581 1148.2,588.5 1150.2,598.6 1152.3,595.2 1154,592.5 1155.6,600 1157.7,595.2 1159,576.3 1160.4,562.7 1163.8,557.3 1167.8,552.6 1171.9,547.1 1174.6,544 1176.2,556 1178,573.6 1180,589.8 1182.7,599.3 1185.4,598.6 1187.5,595.9 1189.2,601.3 1191.5,595.2 1193.6,581.7 1196.3,560 1199,541.1 1201.7,527.5 1204.4,519.4 1205.8,517.3 1207.1,524.8 1208.5,522.1 1210.1,514 1212.5,511.5 1219.3,510.2 1226.1,509.6 1232.9,510.2 1235.6,511.9 1236.9,522.1 1238.3,539.7 1239.6,557.3 1241.3,576.3 1243,589.8 1244,576.3 1245,554.6 1247.1,535.6 1249.1,526.8 1250.7,524.5 1252.1,531.6 1253.8,546.5 1255.9,560 1258.6,565.4 1260.6,558.7 1262.9,551.2 1265.4,550.3 1267,556 1268.7,576.3 1270.5,599.3 1272.1,608.1 1274.8,610.8 1280.3,609.9 1281.9,608.5 1283.6,611.5 1289.9,613.9 1290.2,613.3 1301.8,616.2 1314,619.1" fill="none" stroke="#ed1c24" stroke-width="2.4" stroke-linejoin="round"/></g><g stroke="#5a5a5a" stroke-width="1.5" fill="none"><rect x="973.1" y="402.7" width="351" height="217"/><path d="M980,619.7v-2.6 M980,402.7v2.6 M993,619.7v-4.4 M993,402.7v4.4 M1006,619.7v-2.6 M1006,402.7v2.6 M1018.9,619.7v-2.6 M1018.9,402.7v2.6 M1031.9,619.7v-2.6 M1031.9,402.7v2.6 M1044.9,619.7v-4.4 M1044.9,402.7v4.4 M1057.8,619.7v-2.6 M1057.8,402.7v2.6 M1070.8,619.7v-2.6 M1070.8,402.7v2.6 M1083.8,619.7v-2.6 M1083.8,402.7v2.6 M1096.8,619.7v-4.4 M1096.8,402.7v4.4 M1109.7,619.7v-2.6 M1109.7,402.7v2.6 M1122.7,619.7v-2.6 M1122.7,402.7v2.6 M1135.7,619.7v-2.6 M1135.7,402.7v2.6 M1148.6,619.7v-4.4 M1148.6,402.7v4.4 M1161.6,619.7v-2.6 M1161.6,402.7v2.6 M1174.6,619.7v-2.6 M1174.6,402.7v2.6 M1187.5,619.7v-2.6 M1187.5,402.7v2.6 M1200.5,619.7v-4.4 M1200.5,402.7v4.4 M1213.5,619.7v-2.6 M1213.5,402.7v2.6 M1226.5,619.7v-2.6 M1226.5,402.7v2.6 M1239.4,619.7v-2.6 M1239.4,402.7v2.6 M1252.4,619.7v-4.4 M1252.4,402.7v4.4 M1265.4,619.7v-2.6 M1265.4,402.7v2.6 M1278.3,619.7v-2.6 M1278.3,402.7v2.6 M1291.3,619.7v-2.6 M1291.3,402.7v2.6 M1304.3,619.7v-4.4 M1304.3,402.7v4.4 M1317.2,619.7v-2.6 M1317.2,402.7v2.6 M973.1,610.7h2.6 M1324.1,610.7h-2.6 M973.1,601.7h2.6 M1324.1,601.7h-2.6 M973.1,592.6h2.6 M1324.1,592.6h-2.6 M973.1,583.6h4.4 M1324.1,583.6h-4.4 M973.1,574.6h2.6 M1324.1,574.6h-2.6 M973.1,565.6h2.6 M1324.1,565.6h-2.6 M973.1,556.5h2.6 M1324.1,556.5h-2.6 M973.1,547.5h4.4 M1324.1,547.5h-4.4 M973.1,538.5h2.6 M1324.1,538.5h-2.6 M973.1,529.5h2.6 M1324.1,529.5h-2.6 M973.1,520.4h2.6 M1324.1,520.4h-2.6 M973.1,511.4h4.4 M1324.1,511.4h-4.4 M973.1,502.4h2.6 M1324.1,502.4h-2.6 M973.1,493.4h2.6 M1324.1,493.4h-2.6 M973.1,484.3h2.6 M1324.1,484.3h-2.6 M973.1,475.3h4.4 M1324.1,475.3h-4.4 M973.1,466.3h2.6 M1324.1,466.3h-2.6 M973.1,457.2h2.6 M1324.1,457.2h-2.6 M973.1,448.2h2.6 M1324.1,448.2h-2.6 M973.1,439.2h4.4 M1324.1,439.2h-4.4 M973.1,430.2h2.6 M1324.1,430.2h-2.6 M973.1,421.2h2.6 M1324.1,421.2h-2.6 M973.1,412.1h2.6 M1324.1,412.1h-2.6 "/></g><g font-size="18.4" fill="#555"><text x="993" y="639.9" text-anchor="middle">6</text><text x="1044.9" y="639.9" text-anchor="middle">8</text><text x="1096.8" y="639.9" text-anchor="middle">10</text><text x="1148.6" y="639.9" text-anchor="middle">12</text><text x="1200.5" y="639.9" text-anchor="middle">14</text><text x="1252.4" y="639.9" text-anchor="middle">16</text><text x="1304.3" y="639.9" text-anchor="middle">18</text><text x="968.9" y="625.2" text-anchor="end">0</text><text x="968.9" y="589.1" text-anchor="end">200</text><text x="968.9" y="553" text-anchor="end">400</text><text x="968.9" y="516.9" text-anchor="end">600</text><text x="968.9" y="480.8" text-anchor="end">800</text><text x="968.9" y="444.7" text-anchor="end">1000</text><text x="968.9" y="408.6" text-anchor="end">1200</text><text x="1148.8" y="668.1" text-anchor="middle" font-size="19.3">Time</text><text transform="translate(915.2,510.7) rotate(-90)" text-anchor="middle" font-size="19.3">PPFD</text></g>
<g><path d="M1487,612.2 1487.9,606.7 1488.8,602.9 1489.7,603 1490.6,601.4 1491.5,600 1492.4,601 1493.3,601.9 1494.2,602 1495.1,602.2 1496,606 1496.9,608.6 1497.8,608.4L1497.8,608.4 1496,611.2 1494.2,610.3 1492.4,604.6 1490.6,610 1488.8,611.7 1487,612.2ZM1502.3,606 1503.2,605.6 1504.1,603.4 1505,600.6 1505.9,598.5 1506.8,594.4 1507.7,591.2 1508.6,586.7 1509.5,586.4 1510.4,588.3 1511.3,588.4 1512.2,582.3 1513.1,575.7 1514,569.1 1514.9,561.4 1515.8,553.1 1516.7,545.1 1517.6,537.2 1518.5,530.9 1519.4,528.3 1520.3,527 1521.2,525.5 1522.1,528.7 1523,531.9 1523.9,537.1 1524.8,543.6 1525.7,550.5 1526.6,554.9 1527.5,560.3 1528.4,557.5L1528.4,557.5 1526.6,576.4 1524.8,568 1523,555.8 1521.2,554.4 1519.4,561.9 1517.6,572.9 1515.8,584.9 1514,596.9 1512.2,605.9 1510.4,609.5 1508.6,606.3 1506.8,604.4 1505,604 1503.2,606.3 1502.3,606ZM1568,535.8 1568.9,539.8 1569.8,535 1570.7,529.8 1571.6,526.2 1572.5,522.7 1573.4,518.5 1574.3,515.7 1575.2,515 1576.1,524 1577,537.3 1577.9,559.7L1577.9,559.9 1576.1,581 1574.3,590.8 1572.5,578 1570.7,561.2 1568.9,544.4 1568,535.8ZM1580.6,551.8 1581.5,552.4 1582.4,533.8 1583.3,524.8 1584.2,523.5 1585.1,532 1586,546.5 1586.9,559.9 1587.8,574.2 1588.7,588.1 1589.6,599 1590.5,594.4L1590.5,594.4 1588.7,603.7 1586.9,580.3 1585.1,565.8 1583.3,558.6 1581.5,553.6 1580.6,551.8ZM1596.8,565.1 1597.7,576.6 1598.6,569.7 1599.5,561.4 1600.4,561.9 1601.3,566.8 1602.2,571.8 1603.1,580.4 1604,589.5 1604.9,596.9 1605.8,602.3 1606.7,601L1606.7,601 1604.9,601.3 1603.1,597.3 1601.3,600.9 1599.5,597.8 1597.7,584.9 1596.8,565.1Z" fill="#000"/><path d="M1451.9,614.7 1452.8,614.6 1453.7,614.4 1454.6,614.3 1455.5,614.2 1456.4,614.1 1457.3,614 1458.2,613.8 1459.1,613.8 1460,613.6 1460.9,613.5 1461.8,613.4 1462.7,613.3 1463.6,613.2 1464.5,613.1 1465.4,612.8 1466.3,612.8 1467.2,612.6 1468.1,612.5 1469,612.4 1469.9,613.5 1470.8,613.7 1471.7,613.8 1472.6,613.7 1473.5,613.6 1474.4,613.4 1475.3,613 1476.2,613 1477.1,612.9 1478,610.6 1478.9,605.6 1479.8,604.8 1480.7,605 1481.6,609.2 1482.5,611.6 1483.4,611.6 1484.3,611.5 1485.2,611.9 1486.1,612 1487,612.2L1487,612.6 1485.2,614.1 1483.4,614.3 1481.6,614.6 1479.8,614.8 1478,614.9 1476.2,615.1 1474.4,615.2 1472.6,615.4 1470.8,615.5 1469,613.4 1467.2,613.6 1465.4,613.8 1463.6,613.9 1461.8,614.1 1460,614.3 1458.2,614.5 1456.4,614.7 1454.6,614.9 1452.8,615.1 1451.9,615.2ZM1496.9,608.7 1497.8,608.1 1498.7,606.2 1499.6,605.8 1500.5,603.4 1501.4,603.1 1502.3,605.9 1503.2,605.6L1503.2,605.6 1501.4,610.1 1499.6,612.6 1497.8,611.4 1496.9,608.7ZM1527.5,560.1 1528.4,557 1529.3,546.2 1530.2,540.8 1531.1,539.7 1532,538.6 1532.9,534.6 1533.8,532.7 1534.7,534.1 1535.6,536.9 1536.5,528.6 1537.4,518.3 1538.3,501.1 1539.2,485.7 1540.1,476.2 1541,471.2 1541.9,468.9 1542.8,467.1 1543.7,467.1 1544.6,468 1545.5,468.3 1546.4,468.4 1547.3,466.3 1548.2,465.2 1549.1,464.7 1550,465.2 1550.9,464.4 1551.8,464.3 1552.7,464.6 1553.6,465.8 1554.5,465.9 1555.4,466.2 1556.3,465.6 1557.2,466.4 1558.1,468 1559,469.3 1559.9,470.2 1560.8,471.3 1561.7,477.7 1562.6,484.5 1563.5,491.1 1564.4,499.7 1565.3,508.4 1566.2,517.7 1567.1,526.7 1568,535.5 1568.9,539.6L1568.9,539.6 1567.1,560.5 1565.3,583.7 1563.5,594.2 1561.7,581.8 1559.9,568.6 1558.1,560 1556.3,558.3 1554.5,574.9 1552.7,548.2 1550.9,514.8 1549.1,486.9 1547.3,477.7 1545.5,482.2 1543.7,485.8 1541.9,503.9 1540.1,532 1538.3,563.7 1536.5,579.7 1534.7,569.3 1532.9,563 1531.1,559.9 1529.3,561.5 1527.5,560.1ZM1577.9,559.7 1578.8,553.1 1579.7,552.1 1580.6,551.3 1581.5,552.4L1581.5,552.4 1579.7,589.1 1577.9,559.7ZM1589.6,599.3 1590.5,594.8 1591.4,581.5 1592.3,563.9 1593.2,549.3 1594.1,535.4 1595,537.6 1595.9,547 1596.8,564.7 1597.7,577.1L1597.7,577.1 1595.9,608.6 1594.1,605.9 1592.3,602.1 1590.5,605.7 1589.6,599.3ZM1605.8,602.5 1606.7,600.7 1607.6,591.6 1608.5,581.8 1609.4,571 1610.3,564.1 1611.2,559.7 1612.1,561.6 1613,566.6 1613.9,574.7 1614.8,586.2 1615.7,595.3 1616.6,601 1617.5,604.9 1618.4,603.9L1618.4,604 1616.6,608.8 1614.8,598.1 1613,585.9 1611.2,583.9 1609.4,590.5 1607.6,604.9 1605.8,602.5ZM1618.4,603.9 1619.3,597.4 1620.2,590.7 1621.1,584.7 1622,578.7 1622.9,572.1 1623.8,569.1 1624.7,568.3 1625.6,566.5 1626.5,568.2 1627.4,571 1628.3,574.6 1629.2,577.9 1630.1,581.2 1631,582.3 1631.9,584.5 1632.8,585.4 1633.7,584.1 1634.6,583.4 1635.5,583.7 1636.4,582.7 1637.3,585.2 1638.2,586.9 1639.1,588 1640,589.8 1640.9,591.7 1641.8,594.1 1642.7,596.6 1643.6,599.4 1644.5,602.6 1645.4,605.6 1646.3,609 1647.2,608.6 1648.1,608.5 1649,608.5 1649.9,608.7 1650.8,608.4 1651.7,608.4 1652.6,607.8 1653.5,606.7 1654.4,606.5 1655.3,605 1656.2,605.5 1657.1,606 1658,606.5 1658.9,606.8 1659.8,608.1 1660.7,608.3 1661.6,609 1662.5,609.5 1663.4,610.7 1664.3,610.8 1665.2,610.5 1666.1,610.8 1667,610.8 1667.9,610.9 1668.8,611.4 1669.7,611.4 1670.6,611.2 1671.5,611.1 1672.4,611.1 1673.3,611.3 1674.2,611.1 1675.1,611.3 1676,611.3 1676.9,611.2 1677.8,611.3 1678.7,611.5 1679.6,611.4 1680.5,611.4 1681.4,611.7 1682.3,611.8 1683.2,611.2 1684.1,610.9 1685,610.2 1685.9,610.3 1686.8,610.8 1687.7,611.4 1688.6,611.7 1689.5,611.4 1690.4,611.2 1691.3,610.6 1692.2,610.2 1693.1,609.4 1694,608.8 1694.9,609.9 1695.8,610.5 1696.7,611.6 1697.6,611.9 1698.5,611.7 1699.4,611.8 1700.3,612 1701.2,612 1702.1,612.3 1703,612.8 1703.9,612.9 1704.8,612.8 1705.7,613.2 1706.6,613 1707.5,613.5 1708.4,613.5 1709.3,613.6 1710.2,613.6 1711.1,613.7 1712,614 1712.9,614.2 1713.8,614.3 1714.7,614.5 1715.6,614.7 1716.5,614.6 1717.4,614.9 1718.3,614.9 1719.2,615.2 1720.1,615.3 1721,615.3 1721.9,615.5 1722.8,615.7 1723.7,615.8 1724.6,615.9 1725.5,615.9 1726.4,616 1727.3,616.1 1728.2,616.1 1729.1,616.3 1730,616.2 1730.9,616.3 1731.8,616.5 1732.7,616.6 1733.6,616.7 1734.5,616.6 1735.4,616.9 1736.3,616.9 1737.2,617 1738.1,617.1L1738.1,617.7 1736.3,617.5 1734.5,617.4 1732.7,617.3 1730.9,617.2 1729.1,617 1727.3,616.9 1725.5,616.7 1723.7,616.6 1721.9,616.4 1720.1,616.3 1718.3,616.1 1716.5,616 1714.7,615.9 1712.9,615.7 1711.1,615.6 1709.3,615.4 1707.5,615.3 1705.7,615.1 1703.9,615 1702.1,614.9 1700.3,614.7 1698.5,614.6 1696.7,614.4 1694.9,614.3 1693.1,614.2 1691.3,614 1689.5,613.9 1687.7,613.7 1685.9,613.6 1684.1,613.5 1682.3,613.3 1680.5,613.2 1678.7,613 1676.9,612.9 1675.1,612.8 1673.3,612.6 1671.5,612.5 1669.7,613.9 1667.9,613.7 1666.1,613.5 1664.3,613.3 1662.5,613.1 1660.7,612.9 1658.9,612.7 1657.1,612.5 1655.3,612.3 1653.5,612.2 1651.7,612.2 1649.9,612.2 1648.1,612.2 1646.3,612.2 1644.5,612.2 1642.7,612.2 1640.9,612.2 1639.1,612.2 1637.3,612.2 1635.5,611.9 1633.7,606.1 1631.9,600 1630.1,592.8 1628.3,587.1 1626.5,584.9 1624.7,585 1622.9,588.2 1621.1,593.7 1619.3,600.9 1618.4,604Z" fill="#ed1c24"/><path d="M1422.2,619.1 1443.4,616.2 1469.6,613.3 1470,615.6 1480.1,614.7 1486.8,613.9 1488.5,603.8 1491.9,600.5 1495.2,603 1497.7,611.4 1500.3,613.1 1503.6,604.7 1506.2,597.9 1509,585.3 1511.2,589.5 1513.7,572.7 1516.2,549.2 1518.8,529 1521.3,525.3 1523.5,534 1525.5,549.2 1528,562.6 1531.9,559.3 1534.7,569.3 1536.9,582 1538.9,555.9 1540.6,522.3 1543.1,486.9 1545.7,481.9 1547.3,477.7 1549,485.3 1550.7,510.5 1552.4,542.4 1554.4,576.1 1556.6,555.9 1559.1,562.6 1561.6,581.1 1563.8,596.2 1565.8,579.4 1568.4,542.4 1571.7,525.6 1575.1,513 1576.8,530.7 1578.5,572.7 1579.6,591.2 1581,564.3 1582.3,535.7 1583.8,519.7 1585.2,532.3 1586.9,559.3 1588.5,586.2 1590.2,606.3 1592.8,601.3 1595.8,611.4 1597.8,576.1 1599.8,560.1 1602,569.3 1604.5,594.6 1607,609.7 1609.6,589.5 1612.1,581.1 1613.8,589.5 1616.3,609.7 1618.8,603 1622.2,589.5 1625.5,583.6 1628.9,587.8 1632.3,601.3 1635.6,612.2 1646.6,612.2 1655,612.2 1669.8,613.9 1670.3,612.4 1699.3,614.6 1732.7,617.3 1759.4,619.1" fill="none" stroke="#000" stroke-width="2.8" stroke-linejoin="round"/><path d="M1422.2,619.1 1443.4,615.7 1469.6,612.4 1470,613.9 1477.6,613.1 1478.7,606.3 1480.4,603.8 1482.1,611.4 1486.8,612.2 1490.2,611.4 1492.7,603.8 1494.9,613.1 1498.6,607.2 1501.1,603 1502.8,607.2 1504.5,603.8 1507.8,604.7 1510.4,609.7 1512.9,604.7 1515.4,587.8 1517.9,571 1520.4,555.9 1522.5,552.2 1524.1,562.6 1526.3,579.4 1528,562.6 1529.7,542.4 1531.9,539.1 1533.6,531.5 1535.6,537.4 1537.3,522.3 1538.9,488.6 1540.6,471.8 1543.1,466.8 1545.7,469.3 1548.2,465.4 1552.4,465.1 1557.4,466.8 1560.8,471.8 1563.3,488.6 1565.8,513.9 1568.4,539.1 1570.9,562.6 1573.4,586.2 1575.1,594.6 1576.8,572.7 1578.5,554.2 1580.1,550.8 1582.7,555.9 1586,569.3 1587.7,589.5 1589.1,608 1591.1,589.5 1592.8,555.9 1594.4,531.5 1596.1,549.2 1597.8,586.2 1600.3,603 1603.7,596.2 1606.2,606.3 1607.9,589.5 1609.9,566 1611.8,558.4 1613.8,572.7 1615.5,594.6 1618,607.2 1620.5,589.5 1623,571 1626,566 1628.9,577.8 1632.3,586.2 1636.1,582.8 1639.8,589.5 1643.2,597.9 1646.2,608.9 1651.6,608.4 1655.8,605.5 1660,608 1663.4,610.5 1669.8,611.4 1670.3,611.1 1682.6,611.7 1684.8,610.2 1688.1,611.7 1691.5,610.6 1693.7,609.1 1697,611.7 1721.5,615.5 1759.4,619.1" fill="none" stroke="#ed1c24" stroke-width="2.4" stroke-linejoin="round"/></g><g stroke="#5a5a5a" stroke-width="1.5" fill="none"><rect x="1416.4" y="402.7" width="351" height="217"/><path d="M1423.3,619.7v-2.6 M1423.3,402.7v2.6 M1436.3,619.7v-4.4 M1436.3,402.7v4.4 M1449.3,619.7v-2.6 M1449.3,402.7v2.6 M1462.2,619.7v-2.6 M1462.2,402.7v2.6 M1475.2,619.7v-2.6 M1475.2,402.7v2.6 M1488.2,619.7v-4.4 M1488.2,402.7v4.4 M1501.2,619.7v-2.6 M1501.2,402.7v2.6 M1514.1,619.7v-2.6 M1514.1,402.7v2.6 M1527.1,619.7v-2.6 M1527.1,402.7v2.6 M1540.1,619.7v-4.4 M1540.1,402.7v4.4 M1553,619.7v-2.6 M1553,402.7v2.6 M1566,619.7v-2.6 M1566,402.7v2.6 M1579,619.7v-2.6 M1579,402.7v2.6 M1591.9,619.7v-4.4 M1591.9,402.7v4.4 M1604.9,619.7v-2.6 M1604.9,402.7v2.6 M1617.9,619.7v-2.6 M1617.9,402.7v2.6 M1630.9,619.7v-2.6 M1630.9,402.7v2.6 M1643.8,619.7v-4.4 M1643.8,402.7v4.4 M1656.8,619.7v-2.6 M1656.8,402.7v2.6 M1669.8,619.7v-2.6 M1669.8,402.7v2.6 M1682.7,619.7v-2.6 M1682.7,402.7v2.6 M1695.7,619.7v-4.4 M1695.7,402.7v4.4 M1708.7,619.7v-2.6 M1708.7,402.7v2.6 M1721.6,619.7v-2.6 M1721.6,402.7v2.6 M1734.6,619.7v-2.6 M1734.6,402.7v2.6 M1747.6,619.7v-4.4 M1747.6,402.7v4.4 M1760.6,619.7v-2.6 M1760.6,402.7v2.6 M1416.4,610.7h2.6 M1767.4,610.7h-2.6 M1416.4,601.7h2.6 M1767.4,601.7h-2.6 M1416.4,592.6h2.6 M1767.4,592.6h-2.6 M1416.4,583.6h4.4 M1767.4,583.6h-4.4 M1416.4,574.6h2.6 M1767.4,574.6h-2.6 M1416.4,565.6h2.6 M1767.4,565.6h-2.6 M1416.4,556.5h2.6 M1767.4,556.5h-2.6 M1416.4,547.5h4.4 M1767.4,547.5h-4.4 M1416.4,538.5h2.6 M1767.4,538.5h-2.6 M1416.4,529.5h2.6 M1767.4,529.5h-2.6 M1416.4,520.4h2.6 M1767.4,520.4h-2.6 M1416.4,511.4h4.4 M1767.4,511.4h-4.4 M1416.4,502.4h2.6 M1767.4,502.4h-2.6 M1416.4,493.4h2.6 M1767.4,493.4h-2.6 M1416.4,484.3h2.6 M1767.4,484.3h-2.6 M1416.4,475.3h4.4 M1767.4,475.3h-4.4 M1416.4,466.3h2.6 M1767.4,466.3h-2.6 M1416.4,457.2h2.6 M1767.4,457.2h-2.6 M1416.4,448.2h2.6 M1767.4,448.2h-2.6 M1416.4,439.2h4.4 M1767.4,439.2h-4.4 M1416.4,430.2h2.6 M1767.4,430.2h-2.6 M1416.4,421.2h2.6 M1767.4,421.2h-2.6 M1416.4,412.1h2.6 M1767.4,412.1h-2.6 "/></g><g font-size="18.4" fill="#555"><text x="1436.3" y="639.9" text-anchor="middle">6</text><text x="1488.2" y="639.9" text-anchor="middle">8</text><text x="1540.1" y="639.9" text-anchor="middle">10</text><text x="1591.9" y="639.9" text-anchor="middle">12</text><text x="1643.8" y="639.9" text-anchor="middle">14</text><text x="1695.7" y="639.9" text-anchor="middle">16</text><text x="1747.6" y="639.9" text-anchor="middle">18</text><text x="1412.2" y="625.2" text-anchor="end">0</text><text x="1412.2" y="589.1" text-anchor="end">200</text><text x="1412.2" y="553" text-anchor="end">400</text><text x="1412.2" y="516.9" text-anchor="end">600</text><text x="1412.2" y="480.8" text-anchor="end">800</text><text x="1412.2" y="444.7" text-anchor="end">1000</text><text x="1412.2" y="408.6" text-anchor="end">1200</text><text x="1592.1" y="668.1" text-anchor="middle" font-size="19.3">Time</text><text transform="translate(1358.5,510.7) rotate(-90)" text-anchor="middle" font-size="19.3">PPFD</text></g>
<g><path d="M618.8,929.9 619.7,937.1 620.6,933.5 621.5,933.9 622.4,932.8 623.3,933 624.2,935.1 625.1,934.7 626,933.9 626.9,939.1 627.8,944.6 628.7,945.5 629.6,945.8 630.5,947.6 631.4,950.1 632.3,951.6L632.3,951.6 630.5,951.9 628.7,952.3 626.9,952.1 625.1,951.5 623.3,950.3 621.5,947.4 619.7,938.3 618.8,929.9ZM641.3,950.3 642.2,949.7 643.1,947.5 644,945.2 644.9,943.2 645.8,941.7 646.7,941 647.6,939.7 648.5,938.7 649.4,940.1 650.3,940.1 651.2,941.7 652.1,941.9 653,943.1 653.9,945 654.8,945.6 655.7,947.9 656.6,949.4L656.6,949.4 654.8,950 653,950.4 651.2,950.4 649.4,950.4 647.6,950.4 645.8,950.4 644,950.4 642.2,950.4 641.3,950.3ZM657.5,949.1 658.4,946.9 659.3,944.9 660.2,943.6 661.1,943.3 662,941.9 662.9,940.7 663.8,941.7 664.7,942.9 665.6,944.7 666.5,945.4 667.4,946.2 668.3,947L668.3,947.6 666.5,947.9 664.7,946.5 662.9,946.8 661.1,947.4 659.3,948.3 657.5,949.1ZM677.3,949.2 678.2,947.9 679.1,946.3 680,944.7 680.9,944.1 681.8,944.2 682.7,943.8 683.6,942.8 684.5,943.3 685.4,943.7 686.3,945.4 687.2,947.1 688.1,948.6L688.1,948.6 686.3,949.7 684.5,948.9 682.7,948 680.9,948.1 679.1,948.7 677.3,949.2ZM689.9,947 690.8,940.7 691.7,934.5 692.6,930.1 693.5,926.8 694.4,922.4 695.3,918.5 696.2,916.4 697.1,914.2 698,912.2 698.9,910 699.8,909.5 700.7,908.2 701.6,911.8 702.5,915.3 703.4,923.7L703.4,923.7 701.6,932.6 699.8,947.9 698,948.8 696.2,943.3 694.4,939.7 692.6,942.2 690.8,945.2 689.9,947ZM716,937.4 716.9,943.4 717.8,929.1 718.7,926.4 719.6,925.8 720.5,931.9 721.4,942.1L721.4,942.2 719.6,948.7 717.8,948.2 716,937.4ZM724.1,937 725,926.7 725.9,923.8 726.8,921.8 727.7,922.1 728.6,925.6 729.5,936.9 730.4,936.8L730.4,936.8 728.6,942.5 726.8,944.2 725,938.8 724.1,937ZM740.3,935.5 741.2,935 742.1,933.7 743,933 743.9,932.1 744.8,937.2 745.7,934.6L745.7,934.6 743.9,947.1 742.1,940.3 740.3,935.5ZM807.8,952.7 808.7,951.8 809.6,950.9 810.5,949.4 811.4,947 812.3,944.3 813.2,943.3 814.1,944 815,945.6 815.9,947.7 816.8,950.5 817.7,950 818.6,949.7 819.5,951.8 820.4,953.3L820.4,953.3 818.6,953.1 816.8,952.9 815,952.8 813.2,952.6 811.4,952.6 809.6,952.8 807.8,953Z" fill="#000"/><path d="M596.3,953.4 597.2,953.3 598.1,953.3 599,953.1 599.9,953.2 600.8,949.3 601.7,943.7 602.6,941.5 603.5,939.2 604.4,939.3 605.3,938.5 606.2,937.2 607.1,937.8 608,937.6 608.9,941.1 609.8,943.1 610.7,942.7 611.6,942.9 612.5,943 613.4,942.8 614.3,942.8 615.2,940.1 616.1,935.4 617,926.5 617.9,926.8 618.8,929.7 619.7,937.2L619.7,937.2 617.9,947.2 616.1,952.6 614.3,952.7 612.5,952.9 610.7,953.1 608.9,953.2 607.1,953.4 605.3,953.5 603.5,953.6 601.7,953.8 599.9,953.9 598.1,953.9 596.3,954ZM632.3,951.6 633.2,951.3 634.1,951.1 635,949.6 635.9,945.4 636.8,943.1 637.7,942.2 638.6,945.3 639.5,948 640.4,949 641.3,950.3 642.2,949.8L642.2,949.8 640.4,952 638.6,952.5 636.8,952.9 635,952.8 633.2,952.2 632.3,951.9ZM668.3,947 669.2,946.8 670.1,946.2 671,947.3 671.9,947.7 672.8,948.8 673.7,949.5 674.6,949.6 675.5,949.5 676.4,949.2 677.3,949.2L677.3,949.4 675.5,950.6 673.7,950.9 671.9,950.4 670.1,948.6 668.3,947ZM688.1,948.6 689,947.7 689.9,947.1 690.8,940.3L690.8,940.3 689,950.2 688.1,948.6ZM703.4,923.7 704.3,920.3 705.2,917.7 706.1,916.5 707,915.1 707.9,914.7 708.8,913.6 709.7,912.1 710.6,911.7 711.5,912.1 712.4,911 713.3,913.2 714.2,918.7 715.1,928.7 716,936.6 716.9,943.5L716.9,943.5 715.1,949.5 713.3,939 711.5,934.8 709.7,946 707.9,950.8 706.1,947.9 704.3,928.2 703.4,923.9ZM721.4,942.1 722.3,939.3 723.2,936.2 724.1,936.8 725,926.9L725,926.9 723.2,944.4 721.4,942.1ZM729.5,937 730.4,936.7 731.3,933.7 732.2,936.3 733.1,939.5 734,942.9 734.9,944.2 735.8,943.3 736.7,936.3 737.6,932.7 738.5,929.4 739.4,932 740.3,935.5 741.2,935.3L741.2,935.3 739.4,938.7 737.6,942.3 735.8,944.7 734,947.1 732.2,947.7 730.4,944.2 729.5,937ZM744.8,936.8 745.7,935 746.6,923.8 747.5,920.8 748.4,919.7 749.3,919.2 750.2,919.6 751.1,921.5 752,924.7 752.9,925.1 753.8,921 754.7,917.8 755.6,914.7 756.5,914.8 757.4,915.5 758.3,921.6 759.2,930.1 760.1,943.6 761,949.8 761.9,949.1 762.8,936.8 763.7,916.1 764.6,901.4 765.5,897.1 766.4,897.7 767.3,902.7 768.2,911.6 769.1,923.4 770,935 770.9,944.6 771.8,950.9 772.7,950.8 773.6,950.8 774.5,950.5 775.4,950.6 776.3,940.6 777.2,931.5 778.1,922 779,918.9 779.9,917.7 780.8,922.2 781.7,929.1 782.6,940.8 783.5,950.5 784.4,951.1 785.3,951.7 786.2,952.3L786.2,952.7 784.4,952.6 782.6,952.5 780.8,947.9 779,946.4 777.2,950.8 775.4,952.1 773.6,952.4 771.8,952.8 770,953.1 768.2,953.1 766.4,953.1 764.6,953.1 762.8,953.1 761,953.1 759.2,950.2 757.4,944.8 755.6,944.7 753.8,947.5 752,951.8 750.2,951.8 748.4,951.8 746.6,948.1 744.8,936.8ZM801.5,953 802.4,952.9 803.3,953.1 804.2,953 805.1,953.1 806,953.2 806.9,953.1L806.9,953.6 805.1,953.7 803.3,953.6 801.5,953.6Z" fill="#ed1c24"/><path d="M535.1,957.1 589.9,953.1 590,954.2 600.8,953.8 610.3,953.1 617.1,952.5 619.1,939.6 620.5,934.2 623.2,933.5 624.5,935.5 626.3,933.5 627.7,945 630,945.7 632,951.8 636.1,953.1 641.5,951.8 643.5,946.4 646.2,941 648.9,939.3 652.3,942.3 655,946.4 657,950.4 659.1,945 663.1,941 665.8,945 669.2,947.7 672.6,951.1 676.7,950.4 680.1,945 684.1,942.6 686.8,946.4 689.6,951.1 690.9,939.6 692.9,928.8 695.6,917.9 698.4,911.2 700.8,908.7 702.4,913.9 703.5,924.7 704.5,928.8 705.1,941 706.5,950.4 709.2,951.1 710.5,938.2 711.9,933.5 713.3,938.2 714.3,950.4 716.6,947.7 718,927.4 719.8,926.1 720.7,934.2 722.1,949.1 724.1,941 725.2,924.7 726.8,922 728.4,923.3 729.5,936.9 730.9,947.7 733.6,947.7 737.6,942.3 741,935.5 743.7,932.1 745.5,939.6 747.1,951.8 752.5,951.8 754.6,945 757.3,944.3 759.3,950.4 760.9,953.1 770.1,953.1 776.9,951.8 778.5,946.4 780.3,946.4 782.3,952.5 793.2,953.1 806.7,953.8 810.1,950.4 812.1,945 813.5,943 815.1,946.4 816.9,950.4 818.6,949.8 820.3,953.8 829.9,954.5 830.2,954.2 871.1,957.1" fill="none" stroke="#000" stroke-width="2.8" stroke-linejoin="round"/><path d="M535.1,957.1 589.9,952.8 590,953.8 600.2,953.1 601.5,945 603.5,939.6 606.9,937.6 608.3,938.2 609.6,943.7 614.4,943 615.7,939.6 617.1,926.7 618.4,926.1 619.5,936.9 620.9,946.4 623.9,951.1 627.9,952.5 634.7,951.1 636.3,943.7 637.7,942.3 639,947.7 641.5,950.4 646.9,950.4 653.7,950.4 657.7,949.1 661.8,947 664.5,946.4 667.2,948.4 669.9,946.4 674,949.8 678,949.1 682.1,947.7 686.2,949.8 689.6,947.7 691.6,943.7 695,938.9 696.3,943.7 698.4,949.8 700,947.7 701.3,934.2 703.1,924.7 705.8,916.6 709.2,913.2 712.6,911.4 713.9,915.2 715.3,931.5 717.3,947.7 719.4,949.8 721.4,942.3 723.4,935.5 725.4,939.6 727.5,946.4 729.5,939.6 731.5,933.5 733.6,942.3 735.6,945 737,934.2 738.6,929.4 740.3,935.5 742.4,941 744.4,949.1 745.8,934.2 746.8,921.3 749.6,919.3 751.2,922 752.5,927.4 753.9,920.6 755.2,915.5 757.7,915.5 759,927.4 760.4,947.7 761.7,951.8 763.1,934.2 764,907.1 765,897.9 766.8,897.6 768.1,909.8 769.9,934.2 771.5,951.1 775.6,950.4 776.9,934.2 778.5,918.6 780.3,918.2 781.7,928.8 783.4,950.4 786.4,952.5 806.7,953.1 812.1,952.5 818.9,953.1 829.9,954.2 830.2,954 871.1,957.1" fill="none" stroke="#ed1c24" stroke-width="2.4" stroke-linejoin="round"/></g><g stroke="#5a5a5a" stroke-width="1.5" fill="none"><rect x="528.6" y="740.1" width="351" height="217"/><path d="M535.5,957.1v-2.6 M535.5,740.1v2.6 M548.5,957.1v-4.4 M548.5,740.1v4.4 M561.5,957.1v-2.6 M561.5,740.1v2.6 M574.4,957.1v-2.6 M574.4,740.1v2.6 M587.4,957.1v-2.6 M587.4,740.1v2.6 M600.4,957.1v-4.4 M600.4,740.1v4.4 M613.4,957.1v-2.6 M613.4,740.1v2.6 M626.3,957.1v-2.6 M626.3,740.1v2.6 M639.3,957.1v-2.6 M639.3,740.1v2.6 M652.3,957.1v-4.4 M652.3,740.1v4.4 M665.2,957.1v-2.6 M665.2,740.1v2.6 M678.2,957.1v-2.6 M678.2,740.1v2.6 M691.2,957.1v-2.6 M691.2,740.1v2.6 M704.1,957.1v-4.4 M704.1,740.1v4.4 M717.1,957.1v-2.6 M717.1,740.1v2.6 M730.1,957.1v-2.6 M730.1,740.1v2.6 M743,957.1v-2.6 M743,740.1v2.6 M756,957.1v-4.4 M756,740.1v4.4 M769,957.1v-2.6 M769,740.1v2.6 M782,957.1v-2.6 M782,740.1v2.6 M794.9,957.1v-2.6 M794.9,740.1v2.6 M807.9,957.1v-4.4 M807.9,740.1v4.4 M820.9,957.1v-2.6 M820.9,740.1v2.6 M833.8,957.1v-2.6 M833.8,740.1v2.6 M846.8,957.1v-2.6 M846.8,740.1v2.6 M859.8,957.1v-4.4 M859.8,740.1v4.4 M872.8,957.1v-2.6 M872.8,740.1v2.6 M528.6,948.1h2.6 M879.6,948.1h-2.6 M528.6,939.1h2.6 M879.6,939.1h-2.6 M528.6,930h2.6 M879.6,930h-2.6 M528.6,921h4.4 M879.6,921h-4.4 M528.6,912h2.6 M879.6,912h-2.6 M528.6,903h2.6 M879.6,903h-2.6 M528.6,893.9h2.6 M879.6,893.9h-2.6 M528.6,884.9h4.4 M879.6,884.9h-4.4 M528.6,875.9h2.6 M879.6,875.9h-2.6 M528.6,866.9h2.6 M879.6,866.9h-2.6 M528.6,857.8h2.6 M879.6,857.8h-2.6 M528.6,848.8h4.4 M879.6,848.8h-4.4 M528.6,839.8h2.6 M879.6,839.8h-2.6 M528.6,830.8h2.6 M879.6,830.8h-2.6 M528.6,821.7h2.6 M879.6,821.7h-2.6 M528.6,812.7h4.4 M879.6,812.7h-4.4 M528.6,803.7h2.6 M879.6,803.7h-2.6 M528.6,794.6h2.6 M879.6,794.6h-2.6 M528.6,785.6h2.6 M879.6,785.6h-2.6 M528.6,776.6h4.4 M879.6,776.6h-4.4 M528.6,767.6h2.6 M879.6,767.6h-2.6 M528.6,758.5h2.6 M879.6,758.5h-2.6 M528.6,749.5h2.6 M879.6,749.5h-2.6 "/></g><g font-size="18.4" fill="#555"><text x="548.5" y="977.3" text-anchor="middle">6</text><text x="600.4" y="977.3" text-anchor="middle">8</text><text x="652.3" y="977.3" text-anchor="middle">10</text><text x="704.1" y="977.3" text-anchor="middle">12</text><text x="756" y="977.3" text-anchor="middle">14</text><text x="807.9" y="977.3" text-anchor="middle">16</text><text x="859.8" y="977.3" text-anchor="middle">18</text><text x="524.4" y="962.6" text-anchor="end">0</text><text x="524.4" y="926.5" text-anchor="end">200</text><text x="524.4" y="890.4" text-anchor="end">400</text><text x="524.4" y="854.3" text-anchor="end">600</text><text x="524.4" y="818.2" text-anchor="end">800</text><text x="524.4" y="782.1" text-anchor="end">1000</text><text x="524.4" y="746" text-anchor="end">1200</text><text x="704.3" y="1005.5" text-anchor="middle" font-size="19.3">Time</text><text transform="translate(470.7,848.1) rotate(-90)" text-anchor="middle" font-size="19.3">PPFD</text></g>
<g><path d="M1047.5,946 1048.4,947.4 1049.3,945.7 1050.2,944.5 1051.1,944.2 1052,945.6 1052.9,949.5 1053.8,952.5L1053.8,952.5 1052,952.7 1050.2,952.9 1048.4,952.3 1047.5,946ZM1100.6,949 1101.5,944.1 1102.4,937.6 1103.3,929.7 1104.2,927.8 1105.1,930.9 1106,938.7 1106.9,940.6 1107.8,940.9 1108.7,946.3 1109.6,951.2L1109.6,951.2 1107.8,950.2 1106,944.9 1104.2,942.7 1102.4,947.9 1100.6,949.3ZM1113.2,951.2 1114.1,946.8 1115,933 1115.9,931.3 1116.8,931.1 1117.7,934 1118.6,940.7 1119.5,944.4 1120.4,945.3 1121.3,949.8 1122.2,951.2L1122.2,951.2 1120.4,951.3 1118.6,951.4 1116.8,951.5 1115,951.5 1113.2,951.4ZM1138.4,951.1 1139.3,947.7 1140.2,945.2 1141.1,944.5 1142,943.8 1142.9,947.4 1143.8,950.5 1144.7,951L1144.7,951.2 1142.9,951.5 1141.1,951.5 1139.3,951.5 1138.4,951.5ZM1158.2,951.4 1159.1,947.8 1160,931.6 1160.9,918.2 1161.8,910.6 1162.7,906.8 1163.6,904.9 1164.5,903 1165.4,902.1 1166.3,899.7 1167.2,899.6 1168.1,898.8 1169,898.1 1169.9,896.8 1170.8,897.6 1171.7,900.2 1172.6,908.1L1172.6,908.1 1170.8,938 1169,942.1 1167.2,922.3 1165.4,924.5 1163.6,943.2 1161.8,951.2 1160,951.3 1158.2,951.4ZM1187,946.2 1187.9,946 1188.8,944.7 1189.7,948.8L1189.7,948.8 1187.9,949.5 1187,946.2ZM1210.4,946.1 1211.3,943.6 1212.2,938.2 1213.1,937.1 1214,937.5 1214.9,937.4 1215.8,936.1 1216.7,932.9 1217.6,932.5 1218.5,933.5 1219.4,937.9 1220.3,942.9 1221.2,949 1222.1,951.1 1223,953.1L1223,953.1 1221.2,952.4 1219.4,950.6 1217.6,946.1 1215.8,943.7 1214,941.1 1212.2,948 1210.4,946.1ZM1241,951.7 1241.9,947.8 1242.8,945.7 1243.7,945.1 1244.6,944.3L1244.6,944.3 1242.8,947.9 1241,951.7ZM1258.1,953.8 1259,952.3 1259.9,949.9 1260.8,945.6 1261.7,937.8 1262.6,935.7 1263.5,933.9 1264.4,935.3 1265.3,937.2 1266.2,946.4 1267.1,951.4 1268,953.1 1268.9,954.2L1268.9,954.2 1267.1,954.2 1265.3,954.2 1263.5,954.2 1261.7,954.2 1259.9,954.2 1258.1,954.2Z" fill="#000"/><path d="M1035.8,954.2 1036.7,954 1037.6,954 1038.5,954 1039.4,953.9 1040.3,953.9 1041.2,953.8 1042.1,951.3 1043,946 1043.9,944.1 1044.8,943.3 1045.7,943.3 1046.6,943.7 1047.5,946.3 1048.4,947.1L1048.4,947.1 1046.6,954.5 1044.8,954.5 1043,954.6 1041.2,954.6 1039.4,954.7 1037.6,954.7 1035.8,954.7ZM1052.9,949.6 1053.8,952.5 1054.7,952.7 1055.6,952.7 1056.5,952.8 1057.4,952.8 1058.3,953 1059.2,944.9 1060.1,938.5 1061,937.6 1061.9,936.9 1062.8,935 1063.7,936.7 1064.6,936.3 1065.5,924.5 1066.4,914.7 1067.3,905.4 1068.2,904.5 1069.1,904.7 1070,905.9 1070.9,905.1 1071.8,908 1072.7,914.3 1073.6,930.9 1074.5,942.9 1075.4,951.8 1076.3,949.7 1077.2,948.5 1078.1,940.9 1079,930.2 1079.9,926.4 1080.8,924.3 1081.7,925.1 1082.6,929.1 1083.5,934.2 1084.4,930.7 1085.3,918.5 1086.2,907.7 1087.1,903.9 1088,904.7 1088.9,917.2 1089.8,931.1 1090.7,944.3 1091.6,946.8 1092.5,949.9 1093.4,950.6 1094.3,950.7 1095.2,951.3 1096.1,951.5 1097,951.6 1097.9,951.2 1098.8,950.4 1099.7,949.8 1100.6,949L1100.6,949 1098.8,952.6 1097,952.8 1095.2,953.1 1093.4,953.1 1091.6,953.1 1089.8,953.1 1088,953.1 1086.2,953.1 1084.4,953.1 1082.6,953.1 1080.8,949 1079,949.7 1077.2,953.1 1075.4,953.1 1073.6,953.1 1071.8,953.1 1070,947.6 1068.2,951.3 1066.4,953.8 1064.6,953.8 1062.8,953.8 1061,953.8 1059.2,953.8 1057.4,953.8 1055.6,953.8 1053.8,953.8 1052.9,949.6ZM1121.3,949.8 1122.2,951.1 1123.1,951.1 1124,950.8 1124.9,950.4 1125.8,950.1 1126.7,950.2 1127.6,949.7 1128.5,945.3 1129.4,942.2 1130.3,941.7 1131.2,944.3 1132.1,948.7 1133,949.6 1133.9,950.3 1134.8,951.1L1134.8,951.7 1133,952 1131.2,952.2 1129.4,952.4 1127.6,952.3 1125.8,952.1 1124,952 1122.2,951.8 1121.3,949.8ZM1145.6,951 1146.5,950.6 1147.4,950.3 1148.3,949.7 1149.2,948.5 1150.1,946.8 1151,944.3 1151.9,943.5 1152.8,942.8 1153.7,945 1154.6,947.2 1155.5,948.7 1156.4,950.6 1157.3,951.4L1157.3,951.9 1155.5,952 1153.7,952.1 1151.9,952.2 1150.1,952.3 1148.3,952.4 1146.5,952 1145.6,951.5ZM1171.7,900.1 1172.6,908.1 1173.5,906 1174.4,904.5 1175.3,902 1176.2,900.7 1177.1,899.7 1178,899.4 1178.9,897.2 1179.8,897.1 1180.7,897.4 1181.6,898.3 1182.5,900.2 1183.4,907.1 1184.3,917.3 1185.2,926.8 1186.1,937.4 1187,946.1 1187.9,945.9L1187.9,945.9 1186.1,948.2 1184.3,949.6 1182.5,942.6 1180.7,932.5 1178.9,936.8 1177.1,946.6 1175.3,950.2 1173.5,934.4 1171.7,900.1ZM1189.7,948.8 1190.6,944.7 1191.5,937 1192.4,927.4 1193.3,917.7 1194.2,907.7 1195.1,907.9 1196,911.6 1196.9,918.2 1197.8,929.5 1198.7,939.6 1199.6,945.3 1200.5,939.6 1201.4,925.2 1202.3,912.5 1203.2,901.7 1204.1,895.8 1205,895.3 1205.9,899.1 1206.8,908.1 1207.7,917.8 1208.6,929.4 1209.5,938.3 1210.4,945.3 1211.3,943.5L1211.3,943.5 1209.5,951.9 1207.7,952.2 1205.9,951.1 1204.1,945.8 1202.3,946.4 1200.5,953.1 1198.7,953.1 1196.9,953.1 1195.1,947.9 1193.3,947.5 1191.5,951.1 1189.7,948.9ZM1228.4,953.3 1229.3,953.1 1230.2,948.7 1231.1,947.7 1232,947.8 1232.9,950.6 1233.8,953.1 1234.7,953.1 1235.6,953.2 1236.5,953.3L1236.5,953.8 1234.7,953.8 1232.9,953.8 1231.1,953.8 1229.3,953.8 1228.4,953.8ZM1240.1,953.4 1241,951.6 1241.9,948.1L1241.9,948.1 1240.1,953.8ZM1243.7,945.1 1244.6,943.7 1245.5,942.5 1246.4,942.1 1247.3,941.3 1248.2,939.9 1249.1,939.7 1250,937.4 1250.9,936.4 1251.8,935.9 1252.7,938.9 1253.6,943.5 1254.5,950.7 1255.4,952.2 1256.3,953.7L1256.3,953.7 1254.5,953.6 1252.7,953.5 1250.9,953.4 1249.1,953.3 1247.3,953.2 1245.5,953.2 1243.7,945.1Z" fill="#ed1c24"/><path d="M979.1,957.7 1034.8,955.5 1035,954.8 1047.2,954.5 1048.5,946.4 1050.6,943.7 1052.3,946.4 1053.7,953.8 1067.5,953.8 1068.9,949.1 1070.5,947 1071.8,953.1 1078.3,953.1 1080,945 1081.7,953.1 1094.6,953.1 1100,952.5 1102,941 1103.1,930.1 1104.8,927.1 1106.1,939.6 1108.1,941.6 1109.5,951.8 1113.8,951.1 1114.9,934.2 1116.3,930.4 1117.9,934.2 1119,943.7 1120.3,944.3 1121.7,951.8 1129.8,952.5 1138.6,951.1 1140,945 1142,943.9 1143.6,950.4 1147.4,952.5 1158.9,951.8 1159.9,934.2 1161.2,913.9 1163,905.7 1166.4,900.3 1170.2,896.5 1171.8,900.3 1172.9,920.6 1173.8,941 1175.2,950.4 1177.9,945 1179.3,934.2 1181,932.1 1182.4,941 1183.3,950.4 1186.7,947.7 1188.7,944.7 1190.8,953.1 1192.8,947.7 1194.8,947 1196.9,953.1 1200.9,953.1 1202.3,946.4 1204.3,945.7 1206.3,952.5 1210.4,951.8 1211.8,939.6 1213.5,936.9 1215.1,938.2 1216.5,933.5 1218.1,932.1 1219.5,938.2 1221.2,949.1 1223.3,953.8 1240.9,953.8 1242.2,946.4 1243.9,945 1245.2,953.1 1258.5,953.8 1260.5,947.7 1261.9,936.9 1263.9,933.9 1265.3,936.9 1266.6,950.4 1268.6,954.2 1274.9,954.8 1275.3,956.2 1315.1,957.7" fill="none" stroke="#000" stroke-width="2.8" stroke-linejoin="round"/><path d="M979.1,957.7 1034.8,955.3 1035,954.2 1041.8,953.8 1043.1,945 1045.2,942.6 1047.2,943.7 1048.5,953.1 1054,952.5 1058.7,953.1 1059.7,939.6 1061.4,938.2 1063.2,934.9 1064.5,938.2 1065.9,920.6 1067.2,905.1 1068.9,904.4 1069.9,906.4 1071.3,905.1 1072.7,913.9 1074,936.9 1075.4,951.8 1077.7,947.7 1079,930.1 1081.1,923.6 1082.7,928.8 1084,936.9 1085.1,920.6 1086.5,904.7 1088.1,904.4 1089.2,920.6 1090.5,943.7 1092.6,950.4 1097.3,951.8 1100,949.8 1102.7,947.7 1104.3,942.3 1106.1,945 1108.1,951.1 1116.3,951.5 1123,951.1 1127.8,949.8 1129.1,943 1130.5,942.3 1132.3,949.1 1135.2,951.5 1143.4,951.5 1148.1,950.4 1150.1,946.4 1152.6,943 1154.9,947.7 1156.9,951.5 1163,951.1 1164.4,934.2 1165.7,922 1167.1,920.6 1168.4,934.2 1169.8,951.8 1171.1,934.2 1172.5,908.4 1175.2,903 1178.6,898.3 1181.3,896.9 1182.9,901.7 1184.7,920.6 1186.7,945 1188.7,952.5 1190.8,945 1192.4,927.4 1194.1,908.4 1195.5,907.1 1196.9,917.9 1198.6,939.6 1200,947.7 1201.3,927.4 1203,903 1204.3,895.6 1205.7,896.3 1207,909.8 1209,934.2 1211.1,951.8 1212.7,946.4 1214.1,941 1215.8,943.7 1217.9,946.4 1219.9,951.8 1224.6,953.8 1229.4,953.1 1230.7,947 1232.1,947.7 1233.8,953.1 1240.2,953.4 1242.2,949.1 1244.9,943.7 1249,939.6 1251.7,936.2 1253.1,939.6 1254.4,950.4 1256.5,954.2 1274.9,954.2 1275.3,956 1315.1,957.7" fill="none" stroke="#ed1c24" stroke-width="2.4" stroke-linejoin="round"/></g><g stroke="#5a5a5a" stroke-width="1.5" fill="none"><rect x="973.4" y="740.7" width="351" height="217"/><path d="M980.3,957.7v-2.6 M980.3,740.7v2.6 M993.3,957.7v-4.4 M993.3,740.7v4.4 M1006.3,957.7v-2.6 M1006.3,740.7v2.6 M1019.2,957.7v-2.6 M1019.2,740.7v2.6 M1032.2,957.7v-2.6 M1032.2,740.7v2.6 M1045.2,957.7v-4.4 M1045.2,740.7v4.4 M1058.1,957.7v-2.6 M1058.1,740.7v2.6 M1071.1,957.7v-2.6 M1071.1,740.7v2.6 M1084.1,957.7v-2.6 M1084.1,740.7v2.6 M1097.1,957.7v-4.4 M1097.1,740.7v4.4 M1110,957.7v-2.6 M1110,740.7v2.6 M1123,957.7v-2.6 M1123,740.7v2.6 M1136,957.7v-2.6 M1136,740.7v2.6 M1148.9,957.7v-4.4 M1148.9,740.7v4.4 M1161.9,957.7v-2.6 M1161.9,740.7v2.6 M1174.9,957.7v-2.6 M1174.9,740.7v2.6 M1187.8,957.7v-2.6 M1187.8,740.7v2.6 M1200.8,957.7v-4.4 M1200.8,740.7v4.4 M1213.8,957.7v-2.6 M1213.8,740.7v2.6 M1226.8,957.7v-2.6 M1226.8,740.7v2.6 M1239.7,957.7v-2.6 M1239.7,740.7v2.6 M1252.7,957.7v-4.4 M1252.7,740.7v4.4 M1265.7,957.7v-2.6 M1265.7,740.7v2.6 M1278.6,957.7v-2.6 M1278.6,740.7v2.6 M1291.6,957.7v-2.6 M1291.6,740.7v2.6 M1304.6,957.7v-4.4 M1304.6,740.7v4.4 M1317.5,957.7v-2.6 M1317.5,740.7v2.6 M973.4,948.7h2.6 M1324.4,948.7h-2.6 M973.4,939.7h2.6 M1324.4,939.7h-2.6 M973.4,930.6h2.6 M1324.4,930.6h-2.6 M973.4,921.6h4.4 M1324.4,921.6h-4.4 M973.4,912.6h2.6 M1324.4,912.6h-2.6 M973.4,903.6h2.6 M1324.4,903.6h-2.6 M973.4,894.5h2.6 M1324.4,894.5h-2.6 M973.4,885.5h4.4 M1324.4,885.5h-4.4 M973.4,876.5h2.6 M1324.4,876.5h-2.6 M973.4,867.5h2.6 M1324.4,867.5h-2.6 M973.4,858.4h2.6 M1324.4,858.4h-2.6 M973.4,849.4h4.4 M1324.4,849.4h-4.4 M973.4,840.4h2.6 M1324.4,840.4h-2.6 M973.4,831.4h2.6 M1324.4,831.4h-2.6 M973.4,822.3h2.6 M1324.4,822.3h-2.6 M973.4,813.3h4.4 M1324.4,813.3h-4.4 M973.4,804.3h2.6 M1324.4,804.3h-2.6 M973.4,795.2h2.6 M1324.4,795.2h-2.6 M973.4,786.2h2.6 M1324.4,786.2h-2.6 M973.4,777.2h4.4 M1324.4,777.2h-4.4 M973.4,768.2h2.6 M1324.4,768.2h-2.6 M973.4,759.2h2.6 M1324.4,759.2h-2.6 M973.4,750.1h2.6 M1324.4,750.1h-2.6 "/></g><g font-size="18.4" fill="#555"><text x="993.3" y="977.9" text-anchor="middle">6</text><text x="1045.2" y="977.9" text-anchor="middle">8</text><text x="1097.1" y="977.9" text-anchor="middle">10</text><text x="1148.9" y="977.9" text-anchor="middle">12</text><text x="1200.8" y="977.9" text-anchor="middle">14</text><text x="1252.7" y="977.9" text-anchor="middle">16</text><text x="1304.6" y="977.9" text-anchor="middle">18</text><text x="969.2" y="963.2" text-anchor="end">0</text><text x="969.2" y="927.1" text-anchor="end">200</text><text x="969.2" y="891" text-anchor="end">400</text><text x="969.2" y="854.9" text-anchor="end">600</text><text x="969.2" y="818.8" text-anchor="end">800</text><text x="969.2" y="782.7" text-anchor="end">1000</text><text x="969.2" y="746.6" text-anchor="end">1200</text><text x="1149.1" y="1006.1" text-anchor="middle" font-size="19.3">Time</text><text transform="translate(915.5,848.7) rotate(-90)" text-anchor="middle" font-size="19.3">PPFD</text></g>
<g><path d="M1526.6,930.1 1527.5,935 1528.4,908.7 1529.3,883.5 1530.2,879.1 1531.1,878.1 1532,881.8 1532.9,898.5 1533.8,918.3 1534.7,936 1535.6,938.8L1535.6,938.8 1533.8,943.5 1532,950 1530.2,949.5 1528.4,943.4 1526.6,930.1ZM1550,914.3 1550.9,911.8 1551.8,900.6 1552.7,898.2 1553.6,900.7 1554.5,901.2L1554.5,901.2 1552.7,924.6 1550.9,921.6 1550,914.3ZM1573.4,920.3 1574.3,920.7 1575.2,921.2 1576.1,921.4 1577,911.2L1577,911.2 1575.2,936.4 1573.4,920.3ZM1580.6,915.5 1581.5,907.6 1582.4,897.5 1583.3,893.3 1584.2,892.3 1585.1,894.1 1586,896 1586.9,909.2 1587.8,921.7 1588.7,933 1589.6,931.4 1590.5,927.8 1591.4,919.7 1592.3,922.9 1593.2,927.7L1593.2,927.7 1591.4,950.7 1589.6,942 1587.8,938.9 1586,934.7 1584.2,925.7 1582.4,917.2 1580.6,915.5ZM1605.8,927 1606.7,935.3 1607.6,935.4 1608.5,944.1 1609.4,941.7L1609.4,941.7 1607.6,951.3 1605.8,927ZM1649.9,951.9 1650.8,948.6 1651.7,948.8 1652.6,948.6 1653.5,949.3 1654.4,947.3 1655.3,947.3 1656.2,949.4 1657.1,949.8 1658,949.5 1658.9,949.4 1659.8,949.3 1660.7,949.5 1661.6,948.3L1661.6,948.3 1659.8,951.3 1658,951.6 1656.2,951.8 1654.4,952 1652.6,952 1650.8,952.1 1649.9,952.1ZM1666.1,951.7 1667,951.3 1667.9,948.1 1668.8,944.6 1669.7,942.5 1670.6,944.5 1671.5,947.3 1672.4,949.7 1673.3,951.1L1673.3,951.1 1671.5,950.9 1669.7,951.9 1667.9,952.4 1666.1,951.7Z" fill="#000"/><path d="M1459.1,955.1 1460,955.3 1460.9,955.2 1461.8,955.2 1462.7,955 1463.6,955 1464.5,955 1465.4,954.8 1466.3,954.9 1467.2,954.8 1468.1,954.8 1469,953.4 1469.9,949.4 1470.8,947.3 1471.7,948 1472.6,949.5 1473.5,952.5 1474.4,954.5 1475.3,954.5 1476.2,954.5 1477.1,954.6 1478,954.5 1478.9,954.4 1479.8,954.5 1480.7,954.4 1481.6,954.3 1482.5,954.4 1483.4,954.3 1484.3,954.2 1485.2,953.3 1486.1,949.5 1487,949 1487.9,950.8 1488.8,953.8 1489.7,953.9 1490.6,953.9 1491.5,953.7 1492.4,953.5 1493.3,953.3 1494.2,953.6 1495.1,953.2 1496,952.2 1496.9,947.3 1497.8,947 1498.7,947.1 1499.6,948.9 1500.5,945.6 1501.4,938.3 1502.3,930.7 1503.2,926.5 1504.1,928.1 1505,929.2 1505.9,930 1506.8,935.7 1507.7,942.7 1508.6,950.6 1509.5,949.5 1510.4,948.4 1511.3,945.7 1512.2,944.2 1513.1,945.7 1514,948.2 1514.9,943.3 1515.8,938.4 1516.7,930.8 1517.6,922.8 1518.5,917.7 1519.4,911.4 1520.3,908.2 1521.2,905.1 1522.1,902.4 1523,901.8 1523.9,905.2 1524.8,910.3 1525.7,919.7 1526.6,930.2 1527.5,935.3L1527.5,935.3 1525.7,943.7 1523.9,942.1 1522.1,942 1520.3,943.8 1518.5,946.9 1516.7,950 1514.9,951.2 1513.1,952.4 1511.3,953.2 1509.5,953.9 1507.7,954.5 1505.9,954.7 1504.1,954.8 1502.3,954.8 1500.5,954.9 1498.7,954.9 1496.9,955 1495.1,955 1493.3,955.1 1491.5,955.1 1489.7,955.2 1487.9,955.2 1486.1,955.3 1484.3,955.3 1482.5,955.4 1480.7,955.4 1478.9,955.5 1477.1,955.5 1475.3,955.6 1473.5,955.6 1471.7,955.7 1469.9,955.7 1468.1,955.8 1466.3,955.8 1464.5,955.9 1462.7,955.9 1460.9,956 1459.1,955.6ZM1534.7,936.4 1535.6,938.6 1536.5,938.1 1537.4,935.5 1538.3,925.6 1539.2,916.6 1540.1,910.5 1541,910 1541.9,908.5 1542.8,901.4 1543.7,892.8 1544.6,884.4 1545.5,882.5 1546.4,882.2 1547.3,886.5 1548.2,893.4 1549.1,901.7 1550,913.8 1550.9,911.6L1550.9,911.6 1549.1,918.7 1547.3,906.1 1545.5,918.3 1543.7,941.3 1541.9,947.6 1540.1,949.2 1538.3,948.2 1536.5,946.2 1534.7,936.4ZM1553.6,901.6 1554.5,901.3 1555.4,891.3 1556.3,883.2 1557.2,881.2 1558.1,881 1559,883.9 1559.9,888.9 1560.8,896.7 1561.7,907.3 1562.6,918.6 1563.5,929.8 1564.4,932.3 1565.3,925.9 1566.2,918.7 1567.1,910.9 1568,904.9 1568.9,897.8 1569.8,895.8 1570.7,895.1 1571.6,902.1 1572.5,910.1 1573.4,920 1574.3,921.4L1574.3,921.4 1572.5,922.7 1570.7,926.2 1568.9,928.6 1567.1,929.5 1565.3,934.6 1563.5,941.2 1561.7,945.9 1559.9,944.8 1558.1,942.2 1556.3,932.7 1554.5,913.7 1553.6,901.6ZM1576.1,921.5 1577,911.5 1577.9,908.3 1578.8,909.5 1579.7,915.7 1580.6,915.4 1581.5,907.2L1581.5,907.2 1579.7,926.6 1577.9,923 1576.1,921.5ZM1592.3,922.7 1593.2,927.6 1594.1,910.4 1595,906.2 1595.9,903.3 1596.8,903.8 1597.7,906.1 1598.6,912.4 1599.5,923.3 1600.4,925.1 1601.3,919.6 1602.2,911.3 1603.1,911 1604,911.7 1604.9,916.1 1605.8,927.4 1606.7,935.1L1606.7,935.1 1604.9,940.4 1603.1,947 1601.3,950.7 1599.5,945.9 1597.7,951.8 1595.9,949.5 1594.1,937.2 1592.3,922.7ZM1608.5,944.2 1609.4,941.4 1610.3,939.1 1611.2,939.8 1612.1,930.3 1613,915.4 1613.9,910.4 1614.8,909.9 1615.7,910.8 1616.6,912.1 1617.5,912.8 1618.4,913.8 1619.3,914.9 1620.2,915.4 1621.1,918.3 1622,928.8 1622.9,937.8 1623.8,944.7 1624.7,951 1625.6,950 1626.5,948.9 1627.4,948.4 1628.3,947.2 1629.2,946.1 1630.1,947.7 1631,949 1631.9,951.6 1632.8,952 1633.7,952 1634.6,952 1635.5,952 1636.4,952.1 1637.3,952.1L1637.3,952.7 1635.5,952.7 1633.7,952.7 1631.9,952.7 1630.1,952.6 1628.3,952.6 1626.5,952.4 1624.7,952.3 1622.9,952.2 1621.1,952 1619.3,951.5 1617.5,949.7 1615.7,950.6 1613.9,952 1612.1,952.3 1610.3,952.6 1608.5,944.2ZM1645.4,952.2 1646.3,952.1 1647.2,952.3 1648.1,952.1 1649,952.2 1649.9,951.9L1649.9,951.9 1648.1,952.9 1646.3,952.8 1645.4,952.8ZM1660.7,949.6 1661.6,948.3 1662.5,946.6 1663.4,946.4 1664.3,949.4 1665.2,951.4 1666.1,951.7L1666.1,951.7 1664.3,952.4 1662.5,952 1660.7,949.6ZM1672.4,949.6 1673.3,951.1 1674.2,951.9 1675.1,953.6L1675.1,954 1673.3,952.1 1672.4,949.6ZM1679.6,953.6 1680.5,953.5 1681.4,953.4 1682.3,953.3 1683.2,953.3 1684.1,952 1685,951 1685.9,952.9 1686.8,953.2 1687.7,953.6 1688.6,953.7 1689.5,953.6 1690.4,953.8 1691.3,954 1692.2,954 1693.1,954.2 1694,954.3 1694.9,954.3L1694.9,955 1693.1,954.9 1691.3,954.7 1689.5,954.6 1687.7,954.5 1685.9,954.5 1684.1,954.4 1682.3,954.3 1680.5,954.2 1679.6,954.2ZM1700.3,954.3 1701.2,953.7 1702.1,952.9 1703,952.1 1703.9,952.2 1704.8,952.4 1705.7,953.3 1706.6,953.5 1707.5,954.2 1708.4,954.7L1708.4,955.2 1706.6,955.1 1704.8,955 1703,954.8 1701.2,954.7 1700.3,954.6Z" fill="#ed1c24"/><path d="M1422.2,957.7 1459.8,955.5 1460,956 1473.5,955.6 1493.9,955.1 1507.4,954.7 1512.8,952.6 1516.9,949.9 1520.3,943.8 1523,941.1 1525.7,943.8 1527.5,937.7 1528.4,910.6 1529.3,883.5 1530.4,878.1 1531.8,878.1 1532.9,897.1 1534.2,926.9 1535.2,944.5 1537.9,947.9 1541.3,949.9 1544,940.4 1545.6,917.4 1547.4,905.9 1548.7,917.4 1550.1,921.5 1551,910.6 1552.1,898.4 1553.5,899.1 1554.8,917.4 1556.4,933.7 1558.9,945.8 1560.9,943.8 1562.3,947.2 1564.3,937.7 1567,929.6 1569.7,928.2 1572.4,922.8 1575.1,920.8 1577.8,922.8 1579.9,926.9 1581.2,910.6 1582.6,895.7 1584.3,891.7 1586,895.7 1587.3,914.7 1588.7,933.7 1590.3,929.6 1591.7,917.4 1593.4,931 1595.4,948.6 1597.5,952.6 1599.5,945.8 1601.5,951.3 1603.6,945.8 1605.6,937.7 1607.4,933.7 1608.7,945.8 1610.3,952.6 1614.4,951.9 1617.1,949.2 1619.8,951.9 1629.3,952.6 1649.6,952.9 1651,948.6 1653.7,949.2 1655,946.1 1656.4,949.9 1660.5,949.2 1663.2,952.9 1667.2,951.3 1668.6,944.5 1669.9,942.5 1671.6,947.2 1674,954 1690.3,954.7 1699.9,955.3 1700.2,954.6 1759.4,957.7" fill="none" stroke="#000" stroke-width="2.8" stroke-linejoin="round"/><path d="M1422.2,957.7 1459.8,955.1 1460,955.3 1468.8,954.7 1470.2,948.6 1471.5,947.5 1472.9,949.9 1474.2,954.7 1485.1,954.2 1486,949.9 1487.4,949.2 1488.7,954 1495.9,953.3 1496.8,947.2 1498.2,946.5 1499.6,949.9 1500.6,945.8 1502,932.3 1503.3,926.9 1506.1,931 1507.4,940.4 1508.8,951.3 1510.8,947.2 1512.1,944.5 1514.2,948.6 1515.5,940.4 1517.6,924.2 1519.6,910.6 1521.6,903.9 1523,901.8 1524.3,906.6 1525.7,918.8 1527,935 1529.1,947.2 1531.5,951.9 1533.1,945.8 1535.2,939.1 1537.2,937.7 1538.6,924.2 1539.9,910.6 1541.9,908.6 1543.3,897.1 1544.7,884.9 1546,881.1 1547.4,886.3 1548.7,897.1 1550.1,914.7 1552.1,931 1553.5,917.4 1554.8,897.1 1556.2,883.5 1557.5,880.2 1559.6,884.9 1560.9,897.1 1562.3,914.7 1564,935 1565.6,924.2 1567.3,910.6 1569,897.1 1570.8,895.7 1572.1,905.2 1573.8,924.2 1575.1,937.7 1576.2,924.2 1577.2,909.3 1578.5,907.9 1579.9,916.1 1581.9,914.7 1583.9,924.2 1586.6,937.7 1589.4,940.4 1591.4,951.3 1592.7,937.7 1594.1,910.6 1595.4,903.9 1597.1,903.6 1598.4,909.3 1599.8,926.9 1600.9,924.2 1602.2,912 1603.8,910.6 1605.2,917.4 1606.6,937.7 1607.6,951.3 1609.7,940.4 1611.7,939.1 1612.8,917.4 1614.1,909.3 1615.8,910.6 1618.5,914 1620.9,916.7 1621.9,926.9 1623.2,940.4 1624.6,951.3 1627.3,948.6 1629.3,946.5 1630.9,948.6 1632,951.9 1642.9,952.4 1655,951.9 1660.5,951.3 1662.1,947.2 1663.4,946.5 1664.8,951.3 1668.6,952.6 1672,950.6 1673.7,951.3 1675.4,954 1683.5,953.3 1684.8,951 1686.2,953.3 1699.9,955.1 1700.2,954.4 1703.7,952 1708.2,954.6 1759.4,957.7" fill="none" stroke="#ed1c24" stroke-width="2.4" stroke-linejoin="round"/></g><g stroke="#5a5a5a" stroke-width="1.5" fill="none"><rect x="1416.7" y="740.7" width="351" height="217"/><path d="M1423.6,957.7v-2.6 M1423.6,740.7v2.6 M1436.6,957.7v-4.4 M1436.6,740.7v4.4 M1449.6,957.7v-2.6 M1449.6,740.7v2.6 M1462.5,957.7v-2.6 M1462.5,740.7v2.6 M1475.5,957.7v-2.6 M1475.5,740.7v2.6 M1488.5,957.7v-4.4 M1488.5,740.7v4.4 M1501.5,957.7v-2.6 M1501.5,740.7v2.6 M1514.4,957.7v-2.6 M1514.4,740.7v2.6 M1527.4,957.7v-2.6 M1527.4,740.7v2.6 M1540.4,957.7v-4.4 M1540.4,740.7v4.4 M1553.3,957.7v-2.6 M1553.3,740.7v2.6 M1566.3,957.7v-2.6 M1566.3,740.7v2.6 M1579.3,957.7v-2.6 M1579.3,740.7v2.6 M1592.2,957.7v-4.4 M1592.2,740.7v4.4 M1605.2,957.7v-2.6 M1605.2,740.7v2.6 M1618.2,957.7v-2.6 M1618.2,740.7v2.6 M1631.2,957.7v-2.6 M1631.2,740.7v2.6 M1644.1,957.7v-4.4 M1644.1,740.7v4.4 M1657.1,957.7v-2.6 M1657.1,740.7v2.6 M1670.1,957.7v-2.6 M1670.1,740.7v2.6 M1683,957.7v-2.6 M1683,740.7v2.6 M1696,957.7v-4.4 M1696,740.7v4.4 M1709,957.7v-2.6 M1709,740.7v2.6 M1721.9,957.7v-2.6 M1721.9,740.7v2.6 M1734.9,957.7v-2.6 M1734.9,740.7v2.6 M1747.9,957.7v-4.4 M1747.9,740.7v4.4 M1760.9,957.7v-2.6 M1760.9,740.7v2.6 M1416.7,948.7h2.6 M1767.7,948.7h-2.6 M1416.7,939.7h2.6 M1767.7,939.7h-2.6 M1416.7,930.6h2.6 M1767.7,930.6h-2.6 M1416.7,921.6h4.4 M1767.7,921.6h-4.4 M1416.7,912.6h2.6 M1767.7,912.6h-2.6 M1416.7,903.6h2.6 M1767.7,903.6h-2.6 M1416.7,894.5h2.6 M1767.7,894.5h-2.6 M1416.7,885.5h4.4 M1767.7,885.5h-4.4 M1416.7,876.5h2.6 M1767.7,876.5h-2.6 M1416.7,867.5h2.6 M1767.7,867.5h-2.6 M1416.7,858.4h2.6 M1767.7,858.4h-2.6 M1416.7,849.4h4.4 M1767.7,849.4h-4.4 M1416.7,840.4h2.6 M1767.7,840.4h-2.6 M1416.7,831.4h2.6 M1767.7,831.4h-2.6 M1416.7,822.3h2.6 M1767.7,822.3h-2.6 M1416.7,813.3h4.4 M1767.7,813.3h-4.4 M1416.7,804.3h2.6 M1767.7,804.3h-2.6 M1416.7,795.2h2.6 M1767.7,795.2h-2.6 M1416.7,786.2h2.6 M1767.7,786.2h-2.6 M1416.7,777.2h4.4 M1767.7,777.2h-4.4 M1416.7,768.2h2.6 M1767.7,768.2h-2.6 M1416.7,759.2h2.6 M1767.7,759.2h-2.6 M1416.7,750.1h2.6 M1767.7,750.1h-2.6 "/></g><g font-size="18.4" fill="#555"><text x="1436.6" y="977.9" text-anchor="middle">6</text><text x="1488.5" y="977.9" text-anchor="middle">8</text><text x="1540.4" y="977.9" text-anchor="middle">10</text><text x="1592.2" y="977.9" text-anchor="middle">12</text><text x="1644.1" y="977.9" text-anchor="middle">14</text><text x="1696" y="977.9" text-anchor="middle">16</text><text x="1747.9" y="977.9" text-anchor="middle">18</text><text x="1412.5" y="963.2" text-anchor="end">0</text><text x="1412.5" y="927.1" text-anchor="end">200</text><text x="1412.5" y="891" text-anchor="end">400</text><text x="1412.5" y="854.9" text-anchor="end">600</text><text x="1412.5" y="818.8" text-anchor="end">800</text><text x="1412.5" y="782.7" text-anchor="end">1000</text><text x="1412.5" y="746.6" text-anchor="end">1200</text><text x="1592.4" y="1006.1" text-anchor="middle" font-size="19.3">Time</text><text transform="translate(1358.8,848.7) rotate(-90)" text-anchor="middle" font-size="19.3">PPFD</text></g>
<path d="M1516.3,767.9H1559.3" stroke="#000" stroke-width="4"/>
<path d="M1517.5,804H1561" stroke="#ed1c24" stroke-width="3.6"/>
<g font-size="31.5" fill="#4d4d4d" style="font-family:'Liberation Serif','Times New Roman',serif"><text x="1580" y="777" style="font-family:'Liberation Serif',serif">Undistorted</text><text x="1580" y="815.3" style="font-family:'Liberation Serif',serif">Easterly wind</text></g>
<g font-size="30.3" font-weight="bold" fill="#000"><text x="2.7" y="26.2">A</text><text x="3.6" y="415.6">B</text><text x="452.3" y="26.4">C</text></g>
</svg></body></html>
